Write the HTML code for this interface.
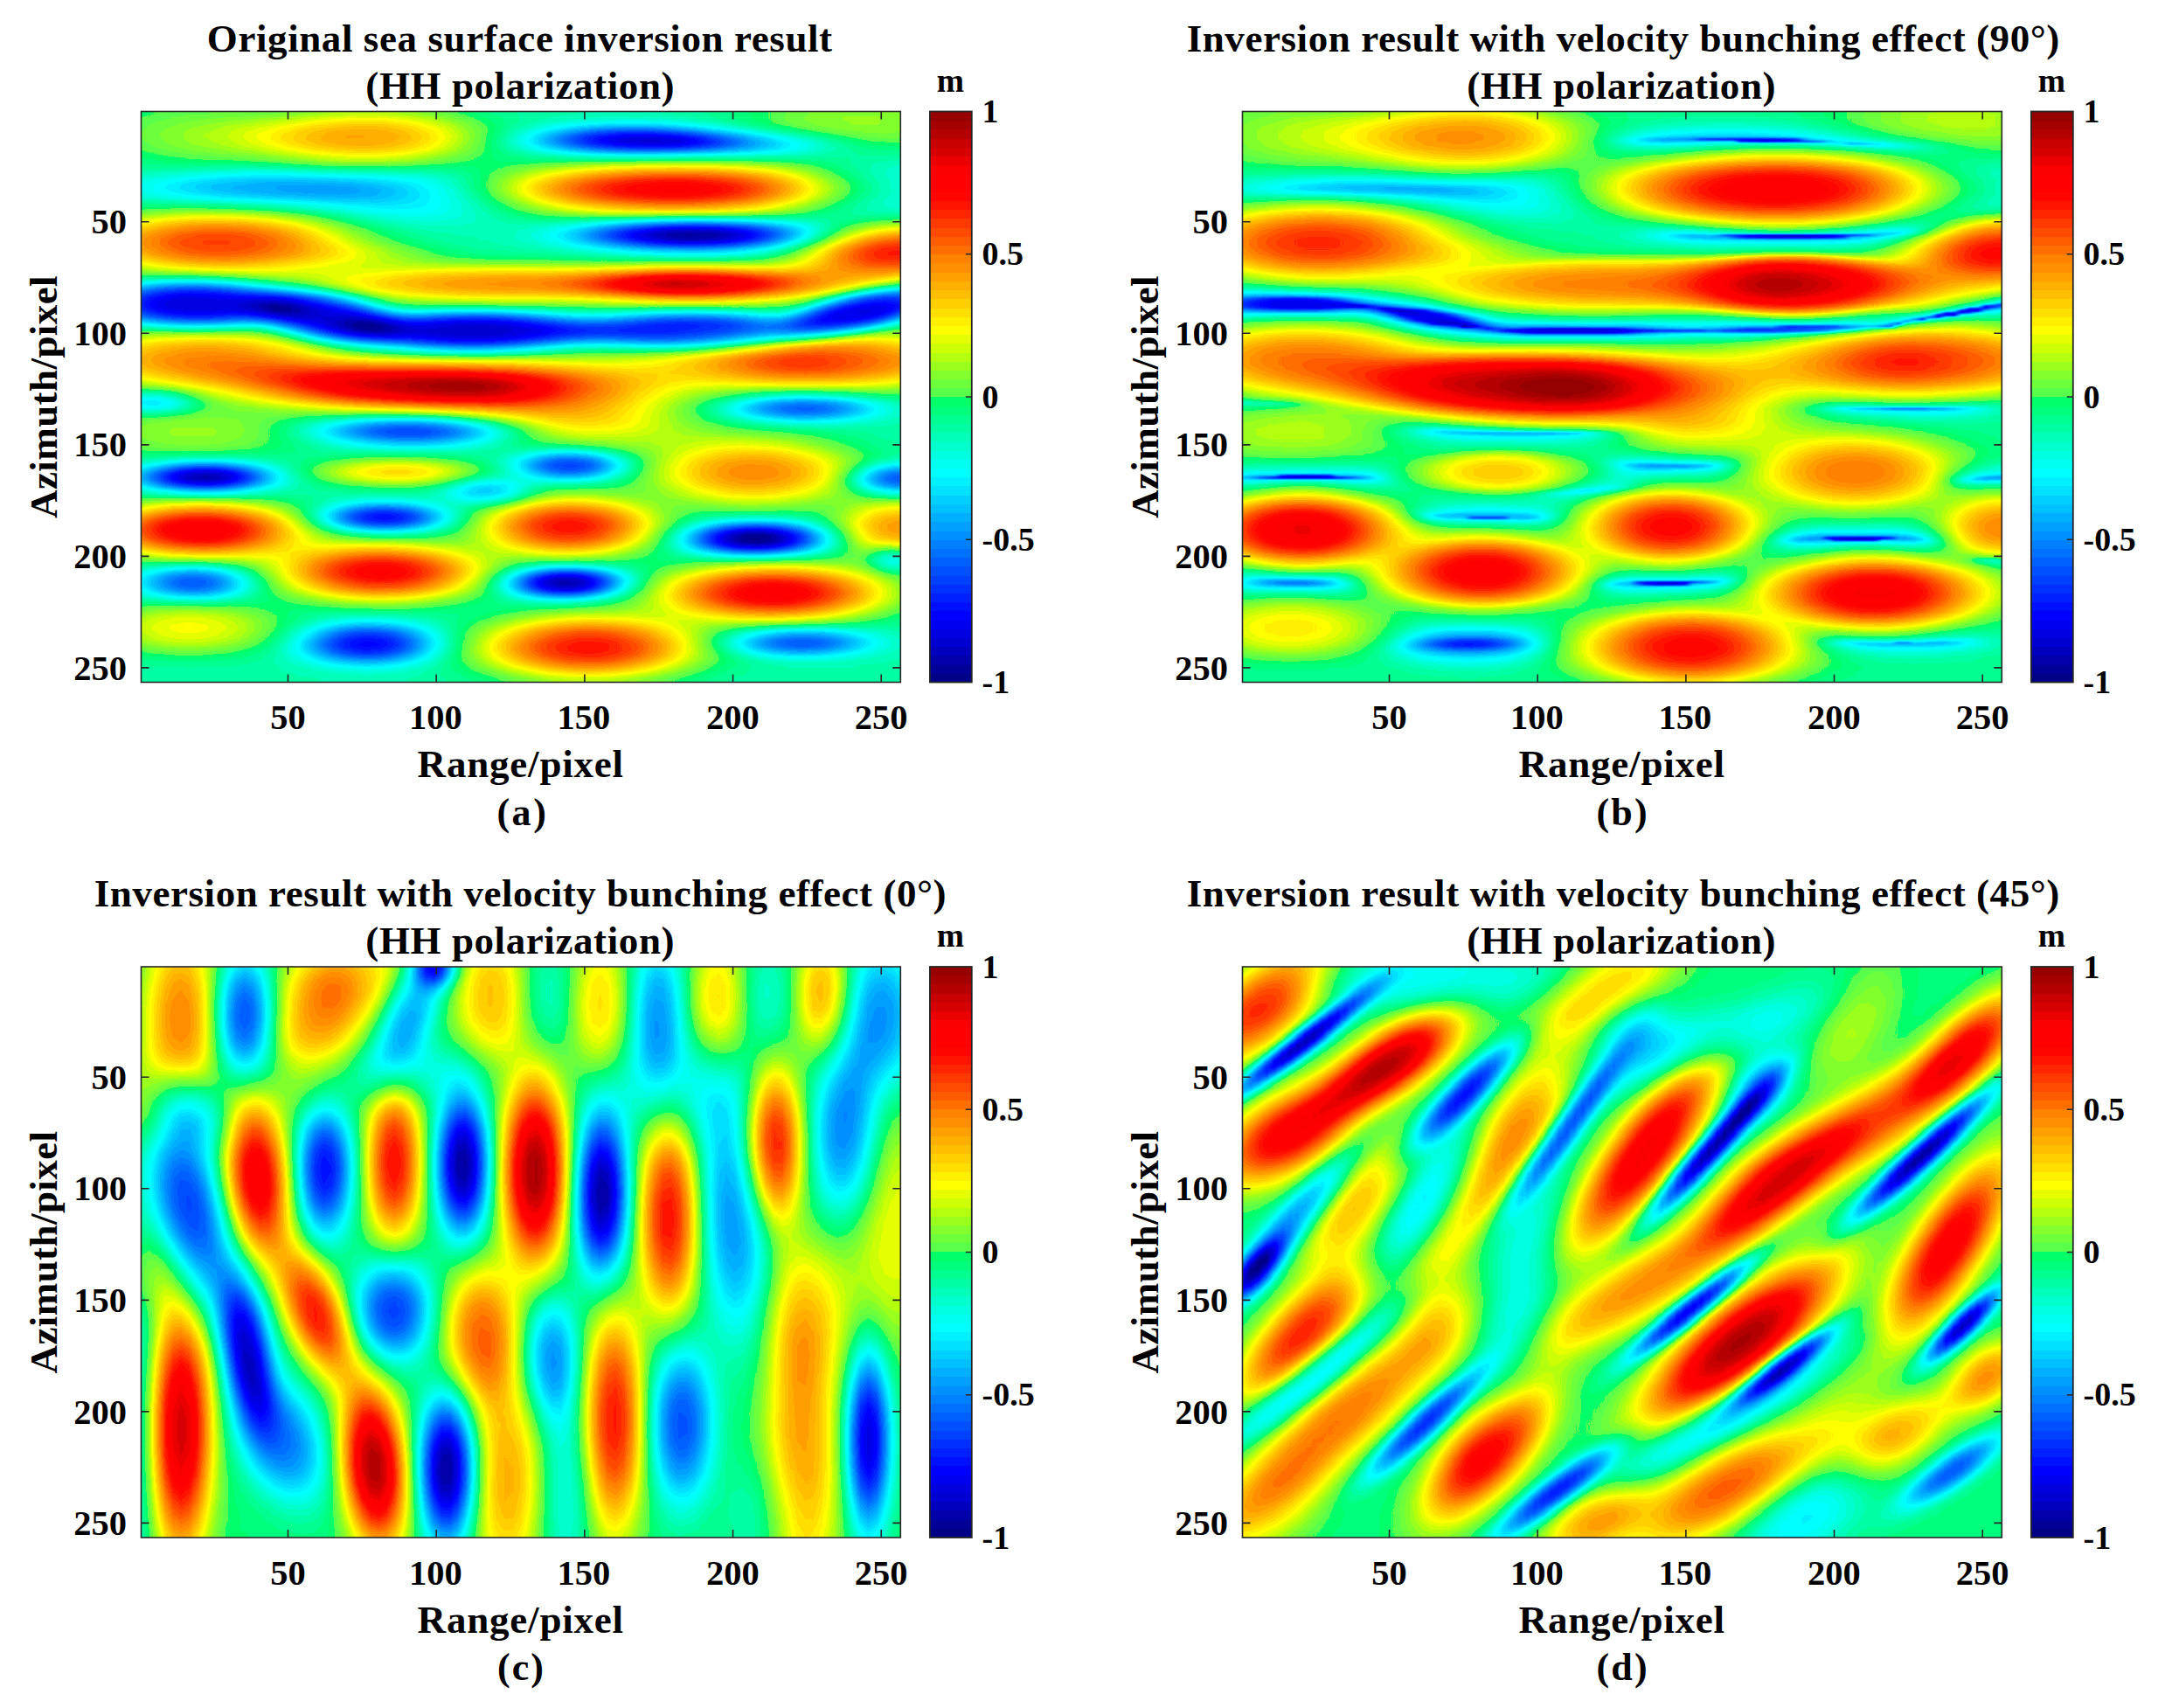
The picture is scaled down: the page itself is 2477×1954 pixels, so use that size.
<!DOCTYPE html><html><head><meta charset="utf-8"><title>Inversion results</title><style>*{margin:0;padding:0}
html,body{width:2477px;height:1954px;overflow:hidden;background:#fff}
.hm{position:absolute;width:868.8px;height:653.0px;overflow:hidden}
.f{filter:url(#jet);width:100%;position:absolute;left:0;top:-10.2031px}
.f i{display:block;height:5.1016px}
.f2{filter:url(#jet2)}
.f2 i{height:2.5508px}
.cb{position:absolute;width:47.9px;height:653.0px;background:linear-gradient(to top,#000087 0% 1.562%,#000096 1.562% 3.125%,#0000aa 3.125% 4.688%,#0000be 4.688% 6.25%,#0000d2 6.25% 7.812%,#0000e1 7.812% 9.375%,#0000f0 9.375% 10.94%,#0000ff 10.94% 12.5%,#0010ff 12.5% 14.06%,#0020ff 14.06% 15.62%,#0030ff 15.62% 17.19%,#0040ff 17.19% 18.75%,#0050ff 18.75% 20.31%,#0060ff 20.31% 21.88%,#0070ff 21.88% 23.44%,#0080ff 23.44% 25%,#0090ff 25% 26.56%,#00a0ff 26.56% 28.12%,#00b0ff 28.12% 29.69%,#00c0ff 29.69% 31.25%,#00d0ff 31.25% 32.81%,#00e0ff 32.81% 34.38%,#00f0ff 34.38% 35.94%,#00ffff 35.94% 37.5%,#00fff0 37.5% 39.06%,#00ffe1 39.06% 40.62%,#00ffcd 40.62% 42.19%,#00ffb9 42.19% 43.75%,#00ffa5 43.75% 45.31%,#00ff91 45.31% 46.88%,#00ff7d 46.88% 48.44%,#00ff69 48.44% 50%,#5aff4b 50% 51.56%,#6eff3c 51.56% 53.12%,#82ff2d 53.12% 54.69%,#9bff1e 54.69% 56.25%,#b4ff0f 56.25% 57.81%,#cdff05 57.81% 59.38%,#e6ff00 59.38% 60.94%,#ffff00 60.94% 62.5%,#ffef00 62.5% 64.06%,#ffdf00 64.06% 65.62%,#ffcf00 65.62% 67.19%,#ffbf00 67.19% 68.75%,#ffaf00 68.75% 70.31%,#ff9f00 70.31% 71.88%,#ff8f00 71.88% 73.44%,#ff8200 73.44% 75%,#ff6e00 75% 76.56%,#ff5c00 76.56% 78.12%,#ff4b00 78.12% 79.69%,#ff3a00 79.69% 81.25%,#ff2600 81.25% 82.81%,#ff1400 82.81% 84.38%,#ff0500 84.38% 85.94%,#ff0000 85.94% 87.5%,#ff0000 87.5% 89.06%,#fa0000 89.06% 90.62%,#eb0000 90.62% 92.19%,#d70000 92.19% 93.75%,#c80000 93.75% 95.31%,#b40000 95.31% 96.88%,#a50000 96.88% 98.44%,#960000 98.44% 100%)}
svg.ov{position:absolute;left:0;top:0}
svg.ov text{font-family:"Liberation Serif",serif;font-weight:bold;fill:#000}
</style></head><body><svg width="0" height="0" style="position:absolute"><filter id="jet" color-interpolation-filters="sRGB" x="0" y="0" width="1" height="1"><feGaussianBlur stdDeviation="0 2.2"/><feColorMatrix type="matrix" values="0.94118 0.05882 0 0 0 0.94118 0.05882 0 0 0 0.94118 0.05882 0 0 0 0 0 0 1 0"/><feComponentTransfer><feFuncR type="discrete" tableValues="0 0 0 0 0 0 0 0 0 0 0 0 0 0 0 0 0 0 0 0 0 0 0 0 0 0 0 0 0 0 0 0 0.3529 0.4314 0.5098 0.6078 0.7059 0.8039 0.902 1 1 1 1 1 1 1 1 1 1 1 1 1 1 1 1 1 1 0.9804 0.9216 0.8431 0.7843 0.7059 0.6471 0.5882"/><feFuncG type="discrete" tableValues="0 0 0 0 0 0 0 0 0.06275 0.1255 0.1882 0.251 0.3137 0.3765 0.4392 0.502 0.5647 0.6275 0.6902 0.7529 0.8157 0.8784 0.9412 1 1 1 1 1 1 1 1 1 1 1 1 1 1 1 1 1 0.9373 0.8745 0.8118 0.749 0.6863 0.6235 0.5608 0.5098 0.4314 0.3608 0.2941 0.2275 0.149 0.07843 0.01961 0 0 0 0 0 0 0 0 0"/><feFuncB type="discrete" tableValues="0.5294 0.5882 0.6667 0.7451 0.8235 0.8824 0.9412 1 1 1 1 1 1 1 1 1 1 1 1 1 1 1 1 1 0.9412 0.8824 0.8039 0.7255 0.6471 0.5686 0.4902 0.4118 0.2941 0.2353 0.1765 0.1176 0.05882 0.01961 0 0 0 0 0 0 0 0 0 0 0 0 0 0 0 0 0 0 0 0 0 0 0 0 0 0"/></feComponentTransfer></filter><filter id="jet2" color-interpolation-filters="sRGB" x="0" y="0" width="1" height="1"><feGaussianBlur stdDeviation="0 1"/><feColorMatrix type="matrix" values="0.94118 0.05882 0 0 0 0.94118 0.05882 0 0 0 0.94118 0.05882 0 0 0 0 0 0 1 0"/><feComponentTransfer><feFuncR type="discrete" tableValues="0 0 0 0 0 0 0 0 0 0 0 0 0 0 0 0 0 0 0 0 0 0 0 0 0 0 0 0 0 0 0 0 0.3529 0.4314 0.5098 0.6078 0.7059 0.8039 0.902 1 1 1 1 1 1 1 1 1 1 1 1 1 1 1 1 1 1 0.9804 0.9216 0.8431 0.7843 0.7059 0.6471 0.5882"/><feFuncG type="discrete" tableValues="0 0 0 0 0 0 0 0 0.06275 0.1255 0.1882 0.251 0.3137 0.3765 0.4392 0.502 0.5647 0.6275 0.6902 0.7529 0.8157 0.8784 0.9412 1 1 1 1 1 1 1 1 1 1 1 1 1 1 1 1 1 0.9373 0.8745 0.8118 0.749 0.6863 0.6235 0.5608 0.5098 0.4314 0.3608 0.2941 0.2275 0.149 0.07843 0.01961 0 0 0 0 0 0 0 0 0"/><feFuncB type="discrete" tableValues="0.5294 0.5882 0.6667 0.7451 0.8235 0.8824 0.9412 1 1 1 1 1 1 1 1 1 1 1 1 1 1 1 1 1 0.9412 0.8824 0.8039 0.7255 0.6471 0.5686 0.4902 0.4118 0.2941 0.2353 0.1765 0.1176 0.05882 0.01961 0 0 0 0 0 0 0 0 0 0 0 0 0 0 0 0 0 0 0 0 0 0 0 0 0 0"/></feComponentTransfer></filter></svg><div class="hm" style="left:161.5px;top:127.5px"><div class="f"><i style="background:linear-gradient(90deg,#7e0,#7f0,#800,#810,#810,#820,#820,#820,#820,#830,#830,#830,#830,#830,#830,#840,#840,#850,#860,#870,#880,#8a0,#8b0,#8d0,#8e0,#8f0,#900,#900,#910,#910,#900,#900,#8e0,#8d0,#8c0,#8a0,#880,#860,#830,#810,#7f0,#7d0,#7b0,#790,#770,#760,#750,#740,#730,#720,#710,#710,#710,#700,#700,#700,#700,#700,#6f0,#6f0,#6f0,#6f0,#6f0,#700,#700,#700,#700,#710,#710,#720,#730,#740,#750,#760,#770,#780,#7a0,#7c0,#7d0,#7f0,#810,#820,#840,#850,#870,#880,#890,#8a0,#8a0,#8b0,#8b0,#8b0,#8b0,#8b0,#8b0,#8a0,#890)"></i><i style="background:linear-gradient(90deg,#7e0,#7f0,#800,#810,#810,#820,#820,#820,#820,#830,#830,#830,#830,#830,#830,#840,#840,#850,#860,#870,#880,#8a0,#8b0,#8d0,#8e0,#8f0,#900,#900,#910,#910,#900,#900,#8e0,#8d0,#8c0,#8a0,#880,#860,#830,#810,#7f0,#7d0,#7b0,#790,#770,#760,#750,#740,#730,#720,#710,#710,#710,#700,#700,#700,#700,#700,#6f0,#6f0,#6f0,#6f0,#6f0,#700,#700,#700,#700,#710,#710,#720,#730,#740,#750,#760,#770,#780,#7a0,#7c0,#7d0,#7f0,#810,#820,#840,#850,#870,#880,#890,#8a0,#8a0,#8b0,#8b0,#8b0,#8b0,#8b0,#8b0,#8a0,#890)"></i><i style="background:linear-gradient(90deg,#7e0,#7f0,#800,#810,#820,#820,#830,#830,#830,#840,#840,#840,#840,#840,#850,#850,#860,#870,#880,#890,#8b0,#8c0,#8d0,#8f0,#900,#910,#920,#930,#930,#930,#930,#920,#910,#8f0,#8e0,#8c0,#8a0,#870,#850,#830,#800,#7e0,#7c0,#7a0,#780,#760,#750,#740,#730,#720,#710,#710,#700,#700,#700,#700,#6f0,#6f0,#6f0,#6f0,#6f0,#6f0,#6f0,#6f0,#6f0,#6f0,#700,#700,#710,#720,#720,#730,#740,#760,#770,#780,#7a0,#7c0,#7d0,#7f0,#810,#830,#840,#860,#870,#880,#890,#8a0,#8b0,#8b0,#8b0,#8b0,#8b0,#8b0,#8b0,#8a0,#890)"></i><i style="background:linear-gradient(90deg,#800,#810,#820,#830,#840,#850,#860,#860,#870,#870,#880,#890,#890,#8a0,#8b0,#8c0,#8d0,#8e0,#900,#910,#930,#950,#970,#980,#9a0,#9b0,#9c0,#9d0,#9d0,#9d0,#9d0,#9c0,#9a0,#990,#970,#940,#920,#8f0,#8c0,#890,#860,#830,#800,#7d0,#7b0,#790,#770,#750,#730,#720,#710,#700,#6f0,#6e0,#6d0,#6d0,#6c0,#6b0,#6b0,#6a0,#6a0,#6a0,#6a0,#6a0,#6a0,#6b0,#6b0,#6c0,#6d0,#6e0,#700,#710,#730,#740,#760,#780,#790,#7b0,#7d0,#7f0,#810,#830,#850,#860,#880,#890,#8a0,#8b0,#8b0,#8c0,#8c0,#8c0,#8c0,#8c0,#8b0,#8b0,#8a0)"></i><i style="background:linear-gradient(90deg,#820,#830,#840,#850,#860,#870,#880,#890,#8a0,#8b0,#8c0,#8d0,#8e0,#8f0,#900,#920,#930,#950,#970,#990,#9b0,#9d0,#a00,#a10,#a30,#a40,#a50,#a60,#a60,#a60,#a60,#a50,#a30,#a10,#9f0,#9c0,#990,#960,#920,#8f0,#8b0,#870,#840,#800,#7d0,#7a0,#770,#750,#730,#700,#6e0,#6c0,#6a0,#680,#660,#640,#630,#610,#600,#5f0,#5e0,#5d0,#5d0,#5d0,#5e0,#5f0,#600,#620,#630,#650,#680,#6a0,#6c0,#6f0,#710,#740,#760,#790,#7b0,#7d0,#800,#820,#840,#860,#870,#880,#8a0,#8a0,#8b0,#8b0,#8c0,#8c0,#8c0,#8c0,#8b0,#8b0,#8a0)"></i><i style="background:linear-gradient(90deg,#830,#840,#860,#870,#880,#8a0,#8b0,#8c0,#8d0,#8e0,#8f0,#910,#920,#940,#950,#970,#990,#9b0,#9e0,#a00,#a30,#a50,#a70,#a90,#aa0,#ac0,#ad0,#ad0,#ad0,#ad0,#ad0,#ac0,#aa0,#a80,#a60,#a30,#9f0,#9c0,#980,#940,#8f0,#8b0,#870,#830,#7f0,#7b0,#770,#730,#6f0,#6c0,#680,#640,#600,#5d0,#590,#550,#520,#4f0,#4c0,#4a0,#480,#470,#470,#470,#480,#490,#4b0,#4e0,#510,#540,#570,#5b0,#5f0,#630,#660,#6a0,#6e0,#710,#740,#770,#7a0,#7d0,#7f0,#820,#840,#860,#870,#880,#890,#8a0,#8b0,#8b0,#8b0,#8b0,#8b0,#8a0,#890)"></i><i style="background:linear-gradient(90deg,#830,#850,#870,#880,#8a0,#8b0,#8c0,#8e0,#8f0,#900,#920,#930,#950,#970,#990,#9b0,#9d0,#a00,#a20,#a50,#a80,#aa0,#ac0,#ae0,#b00,#b10,#b10,#b20,#b20,#b20,#b10,#b00,#af0,#ad0,#aa0,#a70,#a40,#a00,#9c0,#970,#920,#8d0,#880,#840,#7f0,#7a0,#750,#6f0,#6a0,#650,#5f0,#590,#540,#4e0,#480,#430,#3e0,#390,#350,#320,#2f0,#2e0,#2d0,#2d0,#2d0,#2f0,#310,#340,#370,#3c0,#400,#450,#4a0,#4f0,#540,#590,#5e0,#620,#670,#6b0,#6f0,#730,#760,#790,#7c0,#7f0,#810,#830,#850,#860,#870,#880,#890,#890,#890,#880,#880)"></i><i style="background:linear-gradient(90deg,#840,#850,#870,#890,#8a0,#8b0,#8d0,#8e0,#900,#910,#920,#940,#960,#980,#9a0,#9d0,#9f0,#a20,#a50,#a70,#aa0,#ac0,#af0,#b00,#b20,#b30,#b40,#b40,#b40,#b30,#b30,#b20,#b10,#af0,#ac0,#a90,#a60,#a20,#9d0,#990,#940,#8e0,#890,#830,#7e0,#780,#720,#6c0,#650,#5e0,#570,#500,#480,#410,#3a0,#330,#2d0,#280,#230,#200,#1d0,#1b0,#1a0,#190,#190,#1a0,#1b0,#1e0,#210,#250,#290,#2e0,#340,#3a0,#400,#450,#4b0,#510,#560,#5b0,#600,#650,#690,#6d0,#710,#750,#780,#7b0,#7e0,#800,#820,#840,#850,#850,#860,#860,#850)"></i><i style="background:linear-gradient(90deg,#830,#850,#860,#880,#8a0,#8b0,#8c0,#8e0,#8f0,#900,#920,#930,#950,#970,#9a0,#9c0,#9f0,#a10,#a40,#a70,#aa0,#ac0,#ae0,#b00,#b20,#b30,#b30,#b30,#b30,#b30,#b20,#b20,#b00,#ae0,#ac0,#a90,#a50,#a10,#9d0,#980,#930,#8e0,#880,#830,#7d0,#770,#710,#6a0,#630,#5c0,#540,#4c0,#440,#3c0,#350,#2e0,#280,#220,#1e0,#1a0,#170,#150,#140,#120,#110,#110,#120,#130,#150,#180,#1c0,#210,#270,#2d0,#330,#390,#3f0,#450,#4a0,#500,#550,#5a0,#5e0,#630,#670,#6b0,#6f0,#730,#760,#790,#7c0,#7e0,#800,#810,#810,#820,#820)"></i><i style="background:linear-gradient(90deg,#820,#830,#850,#870,#880,#890,#8b0,#8c0,#8d0,#8e0,#900,#910,#930,#950,#970,#990,#9c0,#9e0,#a10,#a40,#a60,#a90,#ab0,#ad0,#ae0,#b00,#b00,#b10,#b10,#b10,#b00,#af0,#ae0,#ac0,#a90,#a60,#a30,#9f0,#9b0,#960,#910,#8c0,#870,#820,#7d0,#770,#710,#6b0,#650,#5e0,#580,#500,#490,#420,#3b0,#350,#2f0,#290,#250,#210,#1e0,#1b0,#190,#180,#170,#170,#170,#180,#1a0,#1d0,#200,#240,#290,#2e0,#340,#390,#3f0,#440,#490,#4d0,#510,#560,#5a0,#5e0,#620,#660,#6a0,#6e0,#710,#740,#770,#790,#7b0,#7c0,#7d0,#7d0,#7e0)"></i><i style="background:linear-gradient(90deg,#800,#820,#830,#840,#860,#870,#880,#890,#8a0,#8b0,#8c0,#8e0,#8f0,#910,#920,#940,#970,#990,#9b0,#9e0,#a00,#a30,#a50,#a70,#a90,#aa0,#ab0,#ab0,#ac0,#ab0,#ab0,#aa0,#a80,#a60,#a40,#a10,#9e0,#9a0,#960,#920,#8e0,#8a0,#850,#810,#7d0,#780,#740,#6f0,#6b0,#660,#610,#5b0,#560,#510,#4b0,#460,#410,#3d0,#390,#360,#330,#310,#2f0,#2e0,#2d0,#2d0,#2e0,#2f0,#300,#320,#350,#380,#3b0,#3e0,#420,#450,#490,#4c0,#500,#530,#560,#5a0,#5d0,#600,#630,#670,#6a0,#6d0,#700,#720,#740,#760,#770,#780,#790,#790,#790)"></i><i style="background:linear-gradient(90deg,#7e0,#7f0,#800,#810,#820,#830,#840,#850,#860,#870,#880,#890,#8a0,#8b0,#8c0,#8e0,#900,#920,#940,#960,#980,#9b0,#9d0,#9e0,#a00,#a10,#a20,#a30,#a30,#a30,#a20,#a10,#a00,#9e0,#9c0,#990,#960,#930,#900,#8d0,#890,#860,#830,#800,#7d0,#7a0,#770,#740,#720,#6f0,#6c0,#690,#660,#630,#600,#5d0,#5a0,#570,#550,#530,#510,#500,#4f0,#4f0,#4f0,#4f0,#500,#500,#510,#520,#540,#550,#560,#580,#590,#5b0,#5d0,#5e0,#600,#620,#630,#650,#670,#690,#6b0,#6c0,#6e0,#700,#710,#720,#730,#740,#750,#750,#750,#750,#750)"></i><i style="background:linear-gradient(90deg,#7b0,#7c0,#7d0,#7e0,#7f0,#7f0,#800,#800,#810,#810,#820,#820,#830,#840,#850,#860,#880,#890,#8b0,#8d0,#8f0,#900,#920,#940,#950,#970,#970,#980,#980,#980,#980,#970,#950,#940,#920,#900,#8e0,#8b0,#890,#860,#840,#820,#800,#7e0,#7c0,#7b0,#7a0,#790,#780,#770,#760,#750,#750,#740,#730,#720,#720,#710,#700,#700,#700,#700,#700,#700,#700,#710,#710,#720,#720,#730,#730,#730,#730,#740,#740,#740,#740,#740,#740,#740,#740,#740,#740,#740,#740,#740,#740,#740,#740,#740,#730,#730,#720,#720,#720,#710,#710)"></i><i style="background:linear-gradient(90deg,#780,#790,#790,#7a0,#7a0,#7a0,#7a0,#7b0,#7b0,#7b0,#7b0,#7b0,#7b0,#7c0,#7c0,#7d0,#7e0,#7f0,#800,#820,#830,#850,#860,#880,#890,#8a0,#8b0,#8b0,#8b0,#8b0,#8b0,#8a0,#890,#880,#870,#850,#840,#820,#810,#800,#7f0,#7e0,#7d0,#7c0,#7c0,#7c0,#7c0,#7d0,#7d0,#7e0,#7f0,#800,#810,#820,#830,#840,#850,#860,#870,#880,#890,#890,#8a0,#8b0,#8c0,#8c0,#8d0,#8d0,#8d0,#8d0,#8d0,#8d0,#8c0,#8c0,#8b0,#8a0,#890,#880,#870,#850,#840,#820,#810,#7f0,#7d0,#7c0,#7a0,#780,#760,#750,#730,#720,#710,#6f0,#6e0,#6e0,#6d0)"></i><i style="background:linear-gradient(90deg,#740,#750,#750,#740,#740,#740,#740,#730,#730,#720,#720,#720,#710,#710,#710,#720,#720,#730,#740,#750,#760,#770,#790,#7a0,#7b0,#7c0,#7c0,#7d0,#7d0,#7d0,#7d0,#7d0,#7c0,#7c0,#7b0,#7b0,#7a0,#7a0,#7a0,#790,#7a0,#7a0,#7b0,#7c0,#7d0,#7e0,#800,#820,#840,#860,#880,#8a0,#8c0,#8f0,#910,#930,#950,#970,#990,#9b0,#9d0,#9e0,#a00,#a10,#a20,#a30,#a30,#a40,#a40,#a30,#a30,#a20,#a20,#a00,#9f0,#9d0,#9b0,#990,#970,#950,#920,#8f0,#8c0,#890,#860,#820,#7f0,#7c0,#790,#760,#740,#720,#700,#6e0,#6c0,#6b0,#6a0)"></i><i style="background:linear-gradient(90deg,#700,#6f0,#6f0,#6e0,#6d0,#6c0,#6b0,#6a0,#690,#680,#670,#670,#660,#650,#650,#650,#650,#660,#660,#670,#680,#690,#6a0,#6b0,#6c0,#6c0,#6d0,#6e0,#6e0,#6f0,#6f0,#6f0,#700,#700,#700,#700,#710,#720,#730,#740,#750,#770,#790,#7c0,#7e0,#810,#840,#870,#8a0,#8e0,#910,#950,#980,#9b0,#9f0,#a20,#a50,#a80,#aa0,#ad0,#af0,#b10,#b30,#b40,#b60,#b60,#b70,#b70,#b70,#b70,#b70,#b60,#b40,#b30,#b10,#af0,#ac0,#a90,#a60,#a30,#9f0,#9b0,#970,#920,#8e0,#890,#850,#810,#7d0,#790,#760,#730,#700,#6e0,#6c0,#6a0,#690)"></i><i style="background:linear-gradient(90deg,#6b0,#6a0,#680,#670,#650,#640,#620,#610,#5f0,#5e0,#5c0,#5b0,#5a0,#590,#590,#590,#580,#590,#590,#590,#5a0,#5a0,#5b0,#5c0,#5d0,#5e0,#5e0,#5f0,#600,#610,#620,#630,#640,#650,#660,#670,#690,#6b0,#6d0,#6f0,#720,#750,#780,#7c0,#800,#840,#880,#8d0,#910,#960,#9a0,#9f0,#a30,#a70,#ab0,#af0,#b30,#b60,#ba0,#bc0,#bf0,#c10,#c30,#c50,#c60,#c70,#c80,#c80,#c80,#c80,#c70,#c60,#c50,#c30,#c10,#be0,#bb0,#b80,#b40,#b00,#ab0,#a60,#a10,#9c0,#960,#910,#8b0,#860,#810,#7d0,#780,#750,#710,#6e0,#6c0,#6a0,#680)"></i><i style="background:linear-gradient(90deg,#660,#640,#620,#600,#5e0,#5c0,#5a0,#580,#560,#550,#530,#520,#510,#500,#4f0,#4e0,#4e0,#4e0,#4e0,#4e0,#4e0,#4f0,#4f0,#500,#500,#510,#520,#530,#540,#550,#570,#580,#5a0,#5c0,#5e0,#600,#620,#650,#680,#6b0,#6f0,#730,#780,#7c0,#810,#870,#8c0,#910,#970,#9c0,#a20,#a70,#ac0,#b10,#b60,#ba0,#be0,#c20,#c60,#c90,#cc0,#ce0,#d00,#d20,#d30,#d40,#d50,#d50,#d50,#d50,#d40,#d30,#d10,#cf0,#cd0,#ca0,#c70,#c30,#bf0,#ba0,#b50,#af0,#aa0,#a40,#9d0,#970,#910,#8b0,#860,#800,#7c0,#770,#730,#700,#6d0,#6b0,#690)"></i><i style="background:linear-gradient(90deg,#630,#610,#5e0,#5c0,#5a0,#570,#550,#530,#510,#4f0,#4e0,#4d0,#4b0,#4b0,#4a0,#490,#480,#480,#470,#470,#470,#470,#470,#470,#480,#480,#490,#4a0,#4c0,#4d0,#4f0,#510,#530,#550,#580,#5a0,#5e0,#610,#650,#690,#6d0,#720,#770,#7c0,#820,#880,#8e0,#940,#9b0,#a10,#a70,#ad0,#b20,#b70,#bd0,#c10,#c60,#ca0,#cd0,#d00,#d30,#d50,#d70,#d90,#da0,#db0,#dc0,#dc0,#dc0,#dc0,#db0,#da0,#d90,#d70,#d40,#d20,#ce0,#ca0,#c60,#c10,#bb0,#b60,#af0,#a90,#a20,#9b0,#950,#8f0,#890,#830,#7e0,#790,#750,#710,#6e0,#6b0,#690)"></i><i style="background:linear-gradient(90deg,#620,#600,#5e0,#5b0,#590,#570,#550,#530,#510,#4f0,#4d0,#4c0,#4b0,#4a0,#490,#480,#480,#470,#460,#450,#450,#440,#440,#440,#440,#450,#450,#460,#480,#490,#4b0,#4d0,#4f0,#520,#550,#580,#5b0,#5e0,#620,#660,#6b0,#700,#760,#7b0,#810,#880,#8e0,#950,#9b0,#a20,#a80,#ae0,#b40,#ba0,#bf0,#c40,#c80,#cc0,#d00,#d30,#d60,#d80,#da0,#db0,#dc0,#dd0,#de0,#de0,#de0,#dd0,#dd0,#dc0,#db0,#d90,#d70,#d40,#d10,#cd0,#c80,#c30,#bd0,#b70,#b10,#aa0,#a40,#9d0,#960,#900,#890,#840,#7e0,#7a0,#750,#720,#6e0,#6b0,#690)"></i><i style="background:linear-gradient(90deg,#650,#630,#610,#5f0,#5d0,#5b0,#590,#570,#550,#530,#520,#500,#4f0,#4e0,#4d0,#4c0,#4b0,#4a0,#490,#490,#480,#470,#470,#460,#460,#460,#470,#470,#480,#490,#4b0,#4d0,#4f0,#510,#540,#570,#5a0,#5d0,#610,#650,#690,#6e0,#740,#790,#7f0,#860,#8c0,#920,#990,#9f0,#a60,#ac0,#b20,#b70,#bc0,#c10,#c50,#c90,#cd0,#d00,#d30,#d60,#d70,#d90,#da0,#db0,#dc0,#dc0,#dc0,#dc0,#db0,#da0,#d90,#d70,#d40,#d10,#ce0,#ca0,#c60,#c10,#bb0,#b50,#af0,#a80,#a10,#9b0,#940,#8e0,#880,#820,#7d0,#780,#740,#710,#6d0,#6b0,#680)"></i><i style="background:linear-gradient(90deg,#6a0,#690,#680,#660,#650,#630,#610,#600,#5e0,#5d0,#5b0,#5a0,#590,#580,#560,#550,#540,#530,#520,#510,#500,#4f0,#4e0,#4d0,#4d0,#4c0,#4c0,#4c0,#4d0,#4d0,#4e0,#4f0,#510,#530,#550,#570,#5a0,#5d0,#600,#640,#680,#6c0,#710,#760,#7c0,#820,#880,#8e0,#940,#9a0,#a00,#a60,#ab0,#b00,#b50,#ba0,#be0,#c20,#c60,#c90,#cc0,#ce0,#d00,#d20,#d30,#d40,#d50,#d50,#d50,#d50,#d40,#d30,#d10,#cf0,#cd0,#ca0,#c70,#c30,#be0,#b90,#b40,#ae0,#a80,#a20,#9c0,#960,#900,#8a0,#840,#7f0,#7a0,#760,#720,#6f0,#6c0,#6a0,#680)"></i><i style="background:linear-gradient(90deg,#720,#720,#710,#700,#700,#6f0,#6e0,#6d0,#6c0,#6b0,#6a0,#690,#670,#660,#650,#640,#620,#610,#600,#5e0,#5d0,#5b0,#5a0,#580,#570,#560,#550,#540,#540,#530,#530,#540,#550,#560,#570,#590,#5b0,#5d0,#600,#630,#660,#6a0,#6e0,#730,#780,#7d0,#820,#880,#8d0,#920,#980,#9d0,#a20,#a60,#ab0,#af0,#b30,#b60,#b90,#bc0,#bf0,#c10,#c30,#c50,#c60,#c70,#c80,#c80,#c80,#c80,#c70,#c60,#c40,#c20,#c00,#bd0,#ba0,#b70,#b30,#ae0,#a90,#a40,#9f0,#990,#940,#8e0,#890,#840,#7f0,#7b0,#760,#730,#700,#6d0,#6b0,#690,#680)"></i><i style="background:linear-gradient(90deg,#7b0,#7c0,#7c0,#7c0,#7d0,#7d0,#7d0,#7c0,#7c0,#7b0,#7a0,#7a0,#780,#770,#760,#740,#730,#710,#6f0,#6d0,#6b0,#690,#670,#650,#630,#610,#5f0,#5d0,#5c0,#5b0,#5a0,#590,#590,#5a0,#5a0,#5b0,#5c0,#5e0,#600,#630,#660,#690,#6c0,#700,#740,#780,#7d0,#810,#860,#8a0,#8e0,#920,#960,#9a0,#9e0,#a10,#a40,#a70,#aa0,#ac0,#ae0,#b00,#b20,#b30,#b40,#b50,#b60,#b60,#b60,#b50,#b50,#b40,#b20,#b10,#af0,#ac0,#aa0,#a70,#a40,#a00,#9c0,#980,#930,#8f0,#8b0,#860,#820,#7e0,#7a0,#770,#740,#710,#6f0,#6d0,#6c0,#6a0,#6a0)"></i><i style="background:linear-gradient(90deg,#850,#860,#880,#890,#8a0,#8b0,#8c0,#8c0,#8c0,#8c0,#8b0,#8b0,#8a0,#890,#870,#860,#840,#810,#7f0,#7d0,#7a0,#770,#740,#710,#6e0,#6c0,#690,#670,#640,#620,#610,#600,#5f0,#5e0,#5e0,#5f0,#5f0,#600,#620,#640,#660,#680,#6b0,#6e0,#710,#740,#780,#7b0,#7e0,#810,#850,#880,#8a0,#8d0,#900,#920,#940,#960,#980,#990,#9a0,#9c0,#9c0,#9d0,#9d0,#9e0,#9e0,#9e0,#9d0,#9d0,#9c0,#9c0,#9b0,#9a0,#980,#970,#950,#930,#910,#8f0,#8c0,#8a0,#870,#840,#810,#7e0,#7b0,#790,#760,#740,#730,#710,#700,#6f0,#6f0,#6f0,#6e0)"></i><i style="background:linear-gradient(90deg,#8f0,#910,#930,#950,#970,#990,#9a0,#9b0,#9b0,#9c0,#9b0,#9b0,#9a0,#990,#970,#950,#930,#900,#8d0,#8a0,#870,#840,#800,#7d0,#790,#760,#720,#6f0,#6d0,#6a0,#680,#660,#650,#640,#630,#630,#630,#640,#640,#660,#670,#690,#6b0,#6d0,#6f0,#710,#730,#760,#780,#7a0,#7c0,#7e0,#7f0,#800,#820,#820,#830,#830,#840,#830,#830,#830,#820,#820,#810,#800,#7f0,#7f0,#7e0,#7d0,#7d0,#7d0,#7c0,#7c0,#7c0,#7c0,#7c0,#7b0,#7b0,#7b0,#7a0,#790,#790,#780,#770,#760,#750,#750,#750,#740,#740,#740,#750,#750,#760,#760,#770)"></i><i style="background:linear-gradient(90deg,#990,#9c0,#9f0,#a20,#a40,#a60,#a80,#a90,#aa0,#aa0,#aa0,#a90,#a90,#a70,#a50,#a30,#a10,#9e0,#9a0,#970,#930,#8f0,#8b0,#870,#830,#7f0,#7b0,#780,#740,#710,#6f0,#6c0,#6b0,#690,#680,#680,#670,#670,#680,#680,#690,#6a0,#6b0,#6d0,#6e0,#6f0,#710,#720,#730,#740,#740,#740,#740,#740,#730,#720,#710,#6f0,#6d0,#6b0,#680,#660,#630,#610,#5e0,#5c0,#5a0,#590,#570,#570,#560,#560,#570,#580,#590,#5a0,#5c0,#5e0,#600,#620,#640,#660,#690,#6b0,#6d0,#6f0,#710,#730,#750,#770,#790,#7b0,#7d0,#7f0,#800,#810,#820)"></i><i style="background:linear-gradient(90deg,#a30,#a60,#aa0,#ad0,#af0,#b20,#b40,#b50,#b60,#b60,#b60,#b60,#b50,#b40,#b20,#af0,#ad0,#a90,#a60,#a20,#9e0,#990,#950,#900,#8c0,#870,#830,#7f0,#7b0,#780,#750,#720,#700,#6e0,#6d0,#6c0,#6b0,#6b0,#6b0,#6b0,#6b0,#6c0,#6c0,#6d0,#6e0,#6e0,#6e0,#6f0,#6f0,#6e0,#6d0,#6c0,#6a0,#680,#660,#620,#5f0,#5b0,#560,#510,#4d0,#480,#430,#3f0,#3b0,#370,#340,#320,#300,#2f0,#2f0,#2f0,#310,#320,#350,#380,#3b0,#3f0,#440,#490,#4e0,#530,#580,#5d0,#620,#680,#6d0,#720,#770,#7c0,#800,#840,#880,#8b0,#8e0,#900,#910)"></i><i style="background:linear-gradient(90deg,#ab0,#af0,#b30,#b60,#b90,#bb0,#bd0,#bf0,#c00,#c00,#c00,#c00,#bf0,#be0,#bc0,#b90,#b60,#b30,#af0,#ab0,#a70,#a20,#9d0,#980,#930,#8f0,#8a0,#860,#820,#7e0,#7b0,#780,#750,#730,#710,#700,#6f0,#6e0,#6e0,#6e0,#6d0,#6e0,#6e0,#6e0,#6e0,#6e0,#6d0,#6d0,#6c0,#6a0,#680,#660,#630,#5f0,#5a0,#550,#500,#4a0,#430,#3d0,#360,#300,#2a0,#250,#200,#1b0,#180,#150,#140,#130,#120,#130,#140,#160,#190,#1d0,#220,#270,#2d0,#340,#3b0,#430,#4b0,#530,#5b0,#640,#6c0,#740,#7b0,#830,#890,#8f0,#950,#990,#9d0,#9f0,#a10)"></i><i style="background:linear-gradient(90deg,#b20,#b60,#ba0,#bd0,#c00,#c30,#c40,#c60,#c70,#c70,#c70,#c70,#c60,#c50,#c30,#c00,#be0,#ba0,#b60,#b20,#ad0,#a90,#a40,#9e0,#990,#940,#8f0,#8b0,#870,#830,#7f0,#7c0,#790,#770,#750,#730,#720,#710,#700,#700,#6f0,#6f0,#6f0,#6e0,#6e0,#6e0,#6d0,#6c0,#6a0,#680,#660,#620,#5e0,#5a0,#550,#4f0,#480,#410,#3a0,#320,#2b0,#240,#1e0,#180,#130,#0f0,#0b0,#090,#070,#070,#070,#070,#080,#0a0,#0d0,#110,#160,#1c0,#230,#2b0,#330,#3c0,#460,#500,#5b0,#650,#700,#7a0,#830,#8d0,#950,#9c0,#a30,#a80,#ac0,#af0,#b10)"></i><i style="background:linear-gradient(90deg,#b60,#ba0,#be0,#c10,#c40,#c70,#c80,#ca0,#cb0,#cb0,#cb0,#cb0,#ca0,#c90,#c70,#c50,#c20,#bf0,#bb0,#b70,#b20,#ad0,#a80,#a30,#9e0,#990,#940,#8f0,#8b0,#870,#830,#800,#7d0,#7a0,#780,#760,#740,#730,#720,#710,#710,#700,#700,#6f0,#6f0,#6e0,#6d0,#6c0,#6a0,#680,#660,#630,#5f0,#5a0,#550,#500,#490,#420,#3b0,#340,#2d0,#260,#200,#1a0,#150,#110,#0d0,#0b0,#090,#080,#080,#090,#0a0,#0c0,#0f0,#140,#190,#1f0,#260,#2e0,#380,#410,#4c0,#570,#620,#6e0,#790,#840,#8f0,#990,#a20,#aa0,#b10,#b60,#ba0,#bd0,#bf0)"></i><i style="background:linear-gradient(90deg,#b70,#bb0,#bf0,#c30,#c60,#c80,#ca0,#cb0,#cc0,#cc0,#cc0,#cc0,#cb0,#ca0,#c90,#c60,#c40,#c10,#bd0,#b90,#b50,#b00,#ac0,#a70,#a20,#9d0,#990,#940,#900,#8c0,#880,#850,#810,#7e0,#7c0,#7a0,#780,#760,#750,#730,#720,#720,#710,#700,#700,#6f0,#6e0,#6d0,#6c0,#6b0,#690,#660,#630,#600,#5c0,#570,#520,#4c0,#470,#410,#3b0,#350,#2f0,#2a0,#250,#210,#1e0,#1b0,#190,#180,#180,#190,#1a0,#1d0,#200,#240,#290,#2f0,#360,#3e0,#470,#500,#5a0,#650,#700,#7b0,#860,#920,#9c0,#a60,#af0,#b70,#be0,#c30,#c60,#c80,#c90)"></i><i style="background:linear-gradient(90deg,#b60,#ba0,#be0,#c10,#c40,#c70,#c80,#ca0,#cb0,#cb0,#cb0,#cb0,#ca0,#c90,#c80,#c60,#c30,#c00,#bd0,#ba0,#b60,#b20,#ae0,#aa0,#a60,#a10,#9d0,#990,#950,#910,#8e0,#8a0,#870,#840,#810,#7e0,#7c0,#7a0,#780,#760,#750,#740,#730,#720,#720,#710,#700,#700,#6f0,#6e0,#6d0,#6b0,#690,#670,#640,#610,#5e0,#5a0,#560,#520,#4e0,#4a0,#460,#420,#3e0,#3b0,#390,#370,#350,#340,#340,#350,#360,#380,#3b0,#3e0,#430,#470,#4d0,#540,#5b0,#630,#6c0,#750,#7f0,#8a0,#940,#9f0,#a90,#b20,#ba0,#c20,#c70,#cc0,#cf0,#d00,#d10)"></i><i style="background:linear-gradient(90deg,#b20,#b60,#ba0,#bd0,#c00,#c30,#c50,#c60,#c70,#c80,#c80,#c70,#c70,#c60,#c40,#c20,#c00,#bd0,#bb0,#b80,#b50,#b10,#ae0,#aa0,#a70,#a30,#a00,#9c0,#980,#950,#920,#8e0,#8b0,#890,#860,#830,#810,#7e0,#7c0,#7a0,#790,#770,#760,#750,#750,#740,#740,#730,#730,#720,#720,#710,#700,#6f0,#6d0,#6c0,#6a0,#680,#660,#640,#610,#5f0,#5c0,#5a0,#580,#560,#550,#540,#530,#520,#520,#520,#530,#550,#560,#590,#5c0,#5f0,#630,#680,#6e0,#750,#7c0,#840,#8d0,#960,#9f0,#a90,#b20,#ba0,#c20,#c80,#cd0,#d10,#d30,#d40,#d40)"></i><i style="background:linear-gradient(90deg,#ab0,#af0,#b30,#b60,#b90,#bc0,#be0,#bf0,#c00,#c10,#c10,#c10,#c00,#bf0,#be0,#bc0,#ba0,#b80,#b50,#b30,#b00,#ad0,#aa0,#a80,#a50,#a20,#9f0,#9c0,#990,#960,#930,#910,#8e0,#8c0,#8a0,#870,#850,#830,#810,#7f0,#7e0,#7d0,#7c0,#7b0,#7a0,#7a0,#790,#790,#790,#780,#780,#780,#770,#770,#760,#750,#740,#730,#730,#720,#710,#700,#6f0,#6e0,#6d0,#6c0,#6c0,#6b0,#6b0,#6b0,#6a0,#6b0,#6b0,#6c0,#6c0,#6e0,#6f0,#720,#750,#780,#7d0,#820,#880,#8f0,#960,#9e0,#a60,#af0,#b60,#be0,#c40,#ca0,#ce0,#d10,#d30,#d40,#d30)"></i><i style="background:linear-gradient(90deg,#a30,#a60,#aa0,#ad0,#b00,#b20,#b40,#b60,#b70,#b70,#b80,#b80,#b70,#b60,#b50,#b30,#b10,#af0,#ad0,#ab0,#a90,#a70,#a50,#a20,#a00,#9e0,#9c0,#9a0,#980,#960,#940,#920,#910,#8f0,#8d0,#8c0,#8a0,#890,#870,#860,#850,#850,#840,#830,#830,#830,#830,#820,#820,#820,#820,#810,#810,#810,#800,#800,#800,#7f0,#7f0,#7f0,#7f0,#7f0,#7f0,#7f0,#7f0,#7f0,#7f0,#7f0,#7f0,#7f0,#7f0,#7f0,#7f0,#7f0,#7f0,#800,#800,#810,#830,#860,#890,#8d0,#910,#970,#9d0,#a40,#aa0,#b10,#b80,#be0,#c30,#c70,#cb0,#cd0,#ce0,#cf0,#ce0)"></i><i style="background:linear-gradient(90deg,#990,#9c0,#9f0,#a20,#a40,#a70,#a80,#aa0,#ab0,#ac0,#ac0,#ac0,#ac0,#ab0,#aa0,#a90,#a80,#a60,#a50,#a30,#a10,#a00,#9e0,#9d0,#9b0,#9a0,#990,#980,#970,#960,#950,#940,#940,#930,#920,#920,#910,#910,#910,#900,#900,#900,#900,#900,#900,#900,#900,#900,#8f0,#8f0,#8f0,#8f0,#8e0,#8e0,#8e0,#8e0,#8e0,#8f0,#8f0,#900,#900,#910,#920,#930,#940,#950,#960,#960,#960,#970,#970,#960,#960,#950,#940,#940,#940,#940,#940,#950,#970,#990,#9c0,#a00,#a40,#a90,#ae0,#b30,#b70,#bc0,#bf0,#c20,#c50,#c60,#c70,#c70,#c60)"></i><i style="background:linear-gradient(90deg,#8f0,#910,#930,#950,#970,#990,#9a0,#9b0,#9d0,#9e0,#9e0,#9f0,#9f0,#9f0,#9f0,#9f0,#9e0,#9e0,#9d0,#9c0,#9b0,#9a0,#9a0,#990,#980,#980,#980,#980,#980,#980,#980,#990,#990,#9a0,#9a0,#9b0,#9b0,#9c0,#9c0,#9d0,#9d0,#9e0,#9e0,#9e0,#9f0,#9f0,#9f0,#9f0,#9f0,#9f0,#9e0,#9e0,#9e0,#9f0,#9f0,#a00,#a10,#a20,#a30,#a50,#a60,#a80,#aa0,#ac0,#ae0,#b00,#b10,#b20,#b30,#b30,#b30,#b20,#b10,#b00,#af0,#ad0,#ac0,#aa0,#a90,#a80,#a80,#a80,#a90,#ab0,#ad0,#af0,#b20,#b40,#b70,#b90,#bb0,#bc0,#be0,#be0,#be0,#bd0,#bb0)"></i><i style="background:linear-gradient(90deg,#830,#840,#840,#850,#860,#870,#880,#890,#8a0,#8c0,#8d0,#8e0,#900,#910,#930,#940,#940,#950,#960,#960,#960,#970,#970,#980,#980,#990,#9a0,#9b0,#9c0,#9d0,#9e0,#9f0,#a10,#a20,#a30,#a40,#a60,#a70,#a80,#a90,#aa0,#aa0,#ab0,#ac0,#ac0,#ac0,#ac0,#ac0,#ad0,#ad0,#ad0,#ad0,#ae0,#af0,#b00,#b10,#b30,#b50,#b80,#bb0,#be0,#c10,#c40,#c70,#ca0,#cc0,#ce0,#cf0,#d00,#d00,#d00,#cf0,#ce0,#cc0,#ca0,#c70,#c50,#c20,#bf0,#bd0,#bb0,#b90,#b80,#b70,#b60,#b60,#b60,#b60,#b60,#b60,#b60,#b60,#b60,#b50,#b40,#b10,#ae0)"></i><i style="background:linear-gradient(90deg,#740,#720,#710,#700,#700,#700,#700,#710,#720,#740,#760,#790,#7c0,#7f0,#820,#850,#870,#8a0,#8c0,#8e0,#900,#920,#940,#960,#980,#9a0,#9c0,#9e0,#a00,#a10,#a30,#a50,#a70,#a90,#ab0,#ac0,#ae0,#af0,#b00,#b10,#b20,#b30,#b40,#b40,#b50,#b50,#b50,#b60,#b60,#b70,#b70,#b80,#b90,#bb0,#bd0,#bf0,#c20,#c50,#c90,#cd0,#d10,#d50,#d90,#dc0,#e00,#e20,#e50,#e60,#e70,#e60,#e60,#e40,#e30,#e10,#de0,#db0,#d80,#d50,#d10,#ce0,#ca0,#c70,#c30,#c00,#bd0,#bb0,#b80,#b60,#b50,#b30,#b10,#af0,#ad0,#aa0,#a70,#a30,#9e0)"></i><i style="background:linear-gradient(90deg,#610,#5d0,#5a0,#570,#550,#540,#540,#540,#550,#580,#5b0,#5e0,#630,#670,#6c0,#700,#740,#790,#7d0,#800,#840,#880,#8c0,#900,#940,#970,#9b0,#9e0,#a00,#a30,#a50,#a80,#aa0,#ac0,#ae0,#b00,#b10,#b30,#b40,#b50,#b60,#b60,#b70,#b80,#b80,#b80,#b90,#b90,#ba0,#ba0,#bb0,#bd0,#be0,#c00,#c30,#c60,#c90,#cd0,#d10,#d60,#da0,#df0,#e30,#e70,#eb0,#ed0,#ef0,#f10,#f10,#f00,#ef0,#ee0,#ec0,#ea0,#e70,#e50,#e10,#de0,#da0,#d50,#d10,#cc0,#c80,#c30,#bf0,#bb0,#b70,#b40,#b00,#ad0,#a90,#a40,#9f0,#990,#930,#8d0,#870)"></i><i style="background:linear-gradient(90deg,#4d0,#470,#420,#3f0,#3c0,#3a0,#390,#390,#3a0,#3d0,#400,#430,#480,#4d0,#520,#570,#5b0,#600,#650,#6b0,#700,#750,#7b0,#810,#870,#8d0,#930,#980,#9c0,#a00,#a30,#a60,#a80,#aa0,#ac0,#ae0,#b00,#b10,#b20,#b40,#b50,#b50,#b60,#b60,#b70,#b70,#b80,#b80,#b90,#b90,#ba0,#bb0,#bd0,#bf0,#c10,#c40,#c70,#cb0,#cf0,#d40,#d80,#dd0,#e10,#e50,#e80,#eb0,#ed0,#ee0,#ef0,#ee0,#ed0,#ec0,#ea0,#e80,#e60,#e30,#df0,#db0,#d70,#d30,#ce0,#c90,#c40,#bf0,#ba0,#b50,#b10,#ac0,#a60,#a00,#990,#900,#870,#7e0,#760,#6f0,#6a0)"></i><i style="background:linear-gradient(90deg,#3a0,#340,#2f0,#2b0,#280,#260,#250,#250,#260,#280,#2a0,#2d0,#310,#340,#380,#3b0,#3f0,#440,#480,#4e0,#540,#5b0,#620,#690,#710,#7a0,#820,#8a0,#900,#960,#9b0,#9e0,#a10,#a30,#a60,#a70,#a90,#ab0,#ac0,#ad0,#ae0,#af0,#b00,#b00,#b10,#b10,#b20,#b20,#b20,#b20,#b30,#b40,#b50,#b60,#b80,#ba0,#bd0,#c00,#c30,#c70,#ca0,#ce0,#d20,#d60,#d90,#dc0,#de0,#e00,#e00,#e10,#e00,#df0,#dd0,#db0,#d90,#d60,#d20,#ce0,#ca0,#c60,#c10,#bc0,#b80,#b30,#ae0,#a90,#a30,#9c0,#940,#890,#7d0,#710,#650,#5b0,#530,#4e0,#4b0)"></i><i style="background:linear-gradient(90deg,#2d0,#270,#220,#1e0,#1c0,#1a0,#190,#1a0,#1a0,#1b0,#1d0,#1e0,#200,#210,#220,#230,#250,#280,#2b0,#300,#360,#3d0,#440,#4c0,#550,#5f0,#690,#730,#7d0,#860,#8d0,#920,#960,#990,#9b0,#9c0,#9e0,#9f0,#a10,#a20,#a30,#a40,#a40,#a50,#a50,#a50,#a60,#a60,#a60,#a60,#a60,#a60,#a70,#a80,#a90,#aa0,#ab0,#ad0,#b00,#b20,#b50,#b80,#bb0,#be0,#c00,#c30,#c50,#c60,#c70,#c80,#c70,#c70,#c50,#c40,#c10,#bf0,#bc0,#b90,#b50,#b10,#ae0,#aa0,#a60,#a20,#9d0,#970,#8e0,#830,#760,#670,#590,#4c0,#420,#3a0,#360,#340,#340)"></i><i style="background:linear-gradient(90deg,#260,#200,#1b0,#180,#160,#150,#150,#150,#150,#160,#160,#160,#160,#150,#140,#120,#120,#120,#140,#180,#1e0,#240,#2b0,#320,#3a0,#430,#4d0,#580,#640,#6f0,#790,#810,#870,#8a0,#8d0,#8e0,#900,#910,#910,#920,#930,#940,#940,#940,#950,#950,#950,#960,#960,#960,#960,#960,#960,#960,#970,#970,#980,#990,#9a0,#9c0,#9d0,#9f0,#a10,#a30,#a40,#a60,#a70,#a80,#a90,#a90,#a90,#a90,#a80,#a70,#a60,#a40,#a20,#a00,#9d0,#9b0,#990,#960,#930,#8e0,#880,#7e0,#710,#620,#520,#440,#370,#2e0,#280,#250,#230,#240,#270)"></i><i style="background:linear-gradient(90deg,#250,#1f0,#1a0,#170,#150,#140,#140,#140,#140,#140,#140,#140,#130,#110,#0e0,#0a0,#070,#060,#070,#0a0,#0f0,#140,#1a0,#1f0,#250,#2c0,#340,#3e0,#4a0,#570,#620,#6d0,#740,#790,#7c0,#7e0,#7e0,#7e0,#7e0,#7e0,#7e0,#7f0,#7f0,#7f0,#800,#800,#810,#810,#820,#830,#830,#840,#840,#850,#850,#860,#860,#870,#870,#880,#880,#880,#890,#890,#8a0,#8a0,#8b0,#8b0,#8b0,#8b0,#8b0,#8b0,#8b0,#8b0,#8a0,#8a0,#890,#890,#880,#870,#860,#840,#800,#7a0,#700,#620,#520,#420,#340,#290,#220,#1e0,#1b0,#1a0,#1a0,#1d0,#230)"></i><i style="background:linear-gradient(90deg,#290,#230,#1e0,#1a0,#180,#170,#160,#160,#160,#160,#170,#170,#160,#140,#110,#0d0,#080,#050,#050,#060,#0a0,#0e0,#120,#160,#1a0,#1e0,#230,#2a0,#330,#3e0,#4a0,#550,#5e0,#640,#670,#680,#670,#660,#650,#640,#630,#630,#630,#630,#640,#650,#660,#680,#6a0,#6b0,#6d0,#6f0,#710,#730,#740,#750,#760,#760,#760,#760,#750,#740,#730,#720,#710,#700,#6f0,#6e0,#6e0,#6d0,#6d0,#6e0,#6e0,#6f0,#700,#710,#720,#730,#740,#750,#750,#730,#6e0,#640,#570,#470,#380,#2b0,#210,#1c0,#190,#170,#170,#170,#190,#1e0,#270)"></i><i style="background:linear-gradient(90deg,#340,#2d0,#280,#240,#210,#1f0,#1e0,#1d0,#1d0,#1e0,#1f0,#210,#210,#200,#1e0,#190,#140,#0f0,#0c0,#0c0,#0d0,#0f0,#120,#140,#150,#160,#170,#1a0,#200,#280,#310,#3b0,#440,#4a0,#4d0,#4d0,#4c0,#490,#470,#450,#440,#430,#430,#430,#440,#450,#470,#4a0,#4d0,#500,#540,#570,#5a0,#5e0,#600,#620,#630,#640,#630,#620,#600,#5e0,#5c0,#590,#570,#540,#520,#510,#500,#4f0,#4f0,#500,#510,#520,#540,#570,#5a0,#5d0,#600,#620,#620,#600,#590,#4e0,#400,#330,#270,#1f0,#1a0,#170,#170,#170,#170,#1a0,#1f0,#290,#360)"></i><i style="background:linear-gradient(90deg,#440,#3e0,#390,#350,#310,#2f0,#2d0,#2d0,#2d0,#2e0,#300,#320,#340,#350,#330,#2f0,#290,#230,#1d0,#180,#150,#140,#140,#130,#120,#110,#0f0,#0f0,#100,#140,#1a0,#220,#290,#2f0,#320,#320,#310,#2e0,#2c0,#2a0,#280,#270,#270,#270,#280,#2a0,#2c0,#2f0,#320,#360,#3a0,#3e0,#420,#460,#490,#4c0,#4d0,#4e0,#4d0,#4c0,#4a0,#470,#440,#410,#3e0,#3b0,#390,#370,#360,#360,#360,#360,#380,#3a0,#3c0,#400,#430,#470,#4b0,#4e0,#4e0,#4b0,#440,#3a0,#300,#260,#1f0,#1b0,#190,#190,#1a0,#1c0,#200,#270,#310,#3e0,#4d0)"></i><i style="background:linear-gradient(90deg,#590,#550,#500,#4d0,#4a0,#470,#460,#460,#460,#470,#490,#4b0,#4e0,#4f0,#4e0,#4b0,#450,#3d0,#330,#2b0,#230,#1e0,#190,#150,#110,#0d0,#090,#070,#050,#060,#0a0,#0f0,#150,#1a0,#1d0,#1e0,#1e0,#1c0,#1a0,#190,#170,#170,#160,#170,#170,#180,#1a0,#1c0,#1f0,#220,#260,#2a0,#2d0,#310,#340,#360,#380,#380,#380,#370,#350,#330,#310,#2e0,#2c0,#2a0,#290,#280,#270,#270,#280,#290,#2a0,#2c0,#2e0,#310,#350,#390,#3d0,#3f0,#3f0,#3c0,#360,#2f0,#280,#230,#200,#200,#210,#230,#270,#2d0,#350,#400,#4d0,#5a0,#650)"></i><i style="background:linear-gradient(90deg,#6f0,#6d0,#6a0,#680,#660,#640,#640,#630,#640,#640,#660,#680,#690,#6a0,#6a0,#670,#610,#580,#4d0,#420,#370,#2d0,#240,#1d0,#160,#100,#0a0,#060,#030,#020,#040,#070,#0c0,#100,#130,#140,#140,#140,#130,#120,#110,#110,#110,#110,#110,#120,#130,#140,#160,#180,#1b0,#1d0,#200,#230,#260,#280,#290,#2a0,#2a0,#2a0,#290,#280,#260,#250,#240,#240,#230,#240,#240,#250,#260,#270,#280,#2a0,#2c0,#2f0,#320,#350,#380,#3a0,#390,#370,#340,#300,#2e0,#2d0,#2e0,#300,#340,#3a0,#420,#4b0,#560,#610,#6b0,#740,#790)"></i><i style="background:linear-gradient(90deg,#820,#820,#810,#810,#800,#800,#7f0,#7f0,#800,#800,#810,#810,#820,#820,#810,#7e0,#790,#710,#670,#5b0,#4f0,#430,#370,#2d0,#240,#1c0,#150,#0f0,#0b0,#090,#090,#0b0,#0d0,#100,#120,#130,#130,#120,#110,#110,#100,#100,#100,#100,#110,#110,#120,#130,#140,#160,#180,#1b0,#1e0,#200,#220,#240,#260,#270,#270,#270,#270,#260,#260,#250,#250,#250,#250,#260,#270,#290,#2a0,#2c0,#2d0,#2f0,#310,#340,#380,#3b0,#3e0,#400,#410,#410,#410,#410,#420,#440,#480,#4e0,#550,#5d0,#660,#6f0,#770,#7f0,#840,#870,#880)"></i><i style="background:linear-gradient(90deg,#900,#920,#930,#940,#940,#950,#950,#950,#950,#950,#950,#950,#940,#930,#920,#8f0,#8b0,#850,#7d0,#740,#690,#5d0,#510,#460,#3c0,#320,#2a0,#240,#1f0,#1c0,#1a0,#190,#1a0,#1a0,#1a0,#190,#180,#160,#150,#140,#130,#130,#130,#130,#130,#140,#150,#170,#190,#1c0,#1f0,#220,#250,#290,#2b0,#2e0,#2f0,#300,#310,#300,#300,#2f0,#2e0,#2d0,#2d0,#2d0,#2d0,#2e0,#2f0,#300,#320,#340,#370,#3a0,#3d0,#410,#450,#490,#4e0,#520,#550,#580,#5a0,#5e0,#620,#670,#6d0,#730,#7a0,#810,#880,#8e0,#920,#940,#950,#940,#930)"></i><i style="background:linear-gradient(90deg,#9b0,#9d0,#9f0,#a10,#a20,#a30,#a40,#a40,#a50,#a40,#a40,#a30,#a20,#a00,#9e0,#9c0,#980,#940,#8e0,#870,#7f0,#760,#6c0,#620,#580,#500,#480,#410,#3b0,#370,#340,#310,#2f0,#2d0,#2b0,#280,#250,#230,#200,#1e0,#1d0,#1c0,#1c0,#1d0,#1d0,#1f0,#210,#240,#270,#2b0,#2f0,#330,#370,#3b0,#3f0,#410,#430,#440,#450,#440,#430,#410,#400,#3e0,#3d0,#3c0,#3c0,#3d0,#3e0,#400,#420,#450,#480,#4c0,#510,#560,#5b0,#610,#670,#6c0,#710,#770,#7b0,#800,#860,#8b0,#900,#960,#9a0,#9e0,#a10,#a30,#a30,#a30,#a10,#a00,#9d0)"></i><i style="background:linear-gradient(90deg,#a40,#a60,#a90,#ab0,#ac0,#ad0,#ae0,#af0,#af0,#af0,#ae0,#ad0,#ac0,#aa0,#a80,#a50,#a20,#9f0,#9b0,#960,#900,#8a0,#820,#7b0,#730,#6c0,#660,#600,#5a0,#560,#520,#4e0,#4b0,#480,#440,#400,#3d0,#390,#370,#340,#330,#320,#320,#320,#330,#350,#380,#3b0,#3f0,#430,#470,#4b0,#500,#540,#580,#5a0,#5c0,#5d0,#5e0,#5d0,#5c0,#5b0,#590,#570,#560,#560,#550,#560,#570,#590,#5c0,#5f0,#640,#680,#6e0,#730,#790,#800,#860,#8c0,#920,#970,#9c0,#a10,#a50,#a90,#ac0,#af0,#b00,#b10,#b10,#b10,#b00,#ae0,#ac0,#aa0,#a70)"></i><i style="background:linear-gradient(90deg,#aa0,#ad0,#af0,#b10,#b30,#b40,#b50,#b60,#b60,#b60,#b50,#b40,#b30,#b20,#b00,#ad0,#aa0,#a70,#a40,#a00,#9c0,#980,#930,#8e0,#880,#830,#7e0,#7a0,#750,#720,#6e0,#6b0,#680,#650,#610,#5e0,#5b0,#580,#560,#540,#520,#520,#510,#520,#530,#550,#570,#590,#5c0,#600,#630,#670,#6a0,#6d0,#700,#720,#730,#740,#750,#750,#740,#740,#730,#730,#720,#720,#730,#740,#760,#790,#7c0,#7f0,#840,#880,#8d0,#930,#990,#9e0,#a40,#a90,#ae0,#b20,#b60,#b90,#bb0,#bd0,#be0,#be0,#be0,#bd0,#bc0,#bb0,#b90,#b70,#b40,#b20,#af0)"></i><i style="background:linear-gradient(90deg,#ae0,#b10,#b40,#b60,#b70,#b90,#ba0,#ba0,#ba0,#bb0,#ba0,#ba0,#b90,#b80,#b60,#b40,#b20,#af0,#ac0,#a90,#a60,#a30,#9f0,#9b0,#980,#940,#910,#8e0,#8b0,#880,#860,#830,#810,#7f0,#7d0,#7b0,#790,#770,#760,#740,#740,#730,#730,#730,#740,#750,#760,#770,#790,#7b0,#7d0,#7e0,#800,#810,#820,#830,#840,#850,#850,#860,#860,#870,#870,#880,#890,#8a0,#8c0,#8e0,#900,#930,#960,#9a0,#9e0,#a20,#a70,#ab0,#b00,#b50,#b90,#bd0,#c00,#c30,#c50,#c70,#c80,#c80,#c80,#c70,#c60,#c40,#c30,#c10,#bf0,#bd0,#ba0,#b80,#b50)"></i><i style="background:linear-gradient(90deg,#b00,#b30,#b60,#b80,#b90,#bb0,#bc0,#bc0,#bd0,#be0,#be0,#be0,#bd0,#bd0,#bc0,#ba0,#b90,#b70,#b50,#b20,#b00,#ad0,#ab0,#a80,#a60,#a30,#a10,#9f0,#9d0,#9b0,#9a0,#990,#970,#960,#950,#940,#930,#920,#910,#910,#900,#900,#900,#8f0,#8f0,#900,#900,#900,#900,#900,#910,#910,#910,#910,#910,#910,#910,#910,#910,#910,#920,#930,#940,#950,#960,#980,#9a0,#9c0,#9f0,#a20,#a50,#a80,#ac0,#b00,#b40,#b80,#bc0,#c00,#c30,#c60,#c90,#cb0,#cd0,#ce0,#ce0,#ce0,#cd0,#cb0,#ca0,#c80,#c60,#c40,#c20,#c00,#bd0,#bb0,#b80)"></i><i style="background:linear-gradient(90deg,#b00,#b30,#b50,#b80,#ba0,#bb0,#bd0,#be0,#bf0,#c00,#c00,#c10,#c10,#c10,#c10,#c00,#c00,#bf0,#bd0,#bc0,#bb0,#b90,#b80,#b60,#b50,#b30,#b20,#b10,#b00,#af0,#ae0,#ad0,#ad0,#ac0,#ac0,#ab0,#ab0,#aa0,#aa0,#a90,#a90,#a80,#a80,#a70,#a60,#a60,#a50,#a40,#a30,#a20,#a10,#a00,#9f0,#9e0,#9d0,#9d0,#9c0,#9b0,#9b0,#9b0,#9b0,#9b0,#9c0,#9d0,#9e0,#9f0,#a10,#a30,#a60,#a80,#ab0,#ae0,#b10,#b40,#b70,#bb0,#bf0,#c20,#c60,#c90,#cb0,#cd0,#ce0,#cf0,#cf0,#cf0,#cd0,#cc0,#ca0,#c80,#c60,#c40,#c20,#c00,#bd0,#bb0,#b80)"></i><i style="background:linear-gradient(90deg,#ad0,#b00,#b30,#b50,#b80,#ba0,#bc0,#bd0,#bf0,#c00,#c10,#c30,#c30,#c40,#c50,#c50,#c60,#c60,#c60,#c60,#c60,#c50,#c50,#c50,#c50,#c40,#c40,#c40,#c40,#c30,#c30,#c30,#c30,#c30,#c20,#c20,#c20,#c20,#c10,#c10,#c00,#bf0,#be0,#bd0,#bc0,#bb0,#b90,#b80,#b60,#b40,#b20,#b00,#ae0,#ac0,#aa0,#a90,#a70,#a60,#a40,#a30,#a30,#a20,#a20,#a30,#a30,#a40,#a50,#a60,#a80,#aa0,#ac0,#ae0,#b10,#b40,#b70,#ba0,#bd0,#c10,#c40,#c60,#c90,#ca0,#cc0,#cc0,#cc0,#cc0,#cb0,#ca0,#c80,#c60,#c40,#c20,#c00,#be0,#bb0,#b80,#b50)"></i><i style="background:linear-gradient(90deg,#a80,#ab0,#ae0,#b10,#b30,#b60,#b80,#ba0,#bc0,#be0,#c00,#c20,#c40,#c60,#c70,#c90,#ca0,#cc0,#cd0,#ce0,#cf0,#d00,#d10,#d20,#d30,#d40,#d40,#d50,#d60,#d60,#d70,#d70,#d70,#d70,#d80,#d80,#d80,#d80,#d70,#d70,#d60,#d50,#d40,#d30,#d10,#cf0,#cd0,#cb0,#c80,#c60,#c30,#c00,#bd0,#ba0,#b70,#b40,#b20,#af0,#ad0,#ac0,#aa0,#a90,#a80,#a70,#a70,#a70,#a70,#a80,#a80,#aa0,#ab0,#ad0,#af0,#b10,#b30,#b60,#b90,#bb0,#be0,#c00,#c20,#c40,#c50,#c50,#c60,#c50,#c50,#c40,#c20,#c10,#bf0,#bd0,#bb0,#b80,#b60,#b30,#b00)"></i><i style="background:linear-gradient(90deg,#a10,#a40,#a70,#aa0,#ad0,#af0,#b20,#b50,#b70,#ba0,#bc0,#bf0,#c10,#c40,#c70,#c90,#cc0,#ce0,#d10,#d30,#d60,#d80,#da0,#dc0,#de0,#df0,#e10,#e20,#e30,#e40,#e50,#e60,#e70,#e70,#e80,#e90,#e90,#e90,#e90,#e90,#e90,#e80,#e70,#e50,#e40,#e10,#df0,#dc0,#d90,#d50,#d10,#ce0,#ca0,#c60,#c20,#bf0,#bb0,#b80,#b50,#b20,#b00,#ae0,#ac0,#aa0,#a90,#a80,#a70,#a70,#a70,#a70,#a80,#a90,#aa0,#ac0,#ad0,#af0,#b10,#b30,#b50,#b70,#b90,#ba0,#bb0,#bb0,#bb0,#bb0,#bb0,#ba0,#b90,#b70,#b60,#b40,#b20,#b00,#ae0,#ab0,#a80)"></i><i style="background:linear-gradient(90deg,#980,#9b0,#9e0,#a10,#a40,#a70,#aa0,#ad0,#b00,#b30,#b60,#b90,#bc0,#bf0,#c30,#c60,#ca0,#cd0,#d10,#d40,#d80,#db0,#de0,#e10,#e30,#e50,#e70,#e90,#eb0,#ec0,#ed0,#ee0,#f00,#f10,#f20,#f30,#f40,#f40,#f50,#f50,#f50,#f50,#f40,#f30,#f10,#ee0,#eb0,#e80,#e40,#e00,#dc0,#d80,#d30,#cf0,#ca0,#c60,#c20,#be0,#bb0,#b70,#b40,#b10,#ae0,#ac0,#aa0,#a80,#a60,#a50,#a40,#a30,#a30,#a30,#a40,#a40,#a50,#a60,#a70,#a90,#aa0,#ab0,#ac0,#ad0,#ae0,#ae0,#ae0,#ae0,#ae0,#ad0,#ad0,#ac0,#aa0,#a90,#a70,#a60,#a30,#a10,#9f0)"></i><i style="background:linear-gradient(90deg,#8d0,#900,#920,#950,#980,#9c0,#9f0,#a20,#a60,#a90,#ad0,#b00,#b40,#b80,#bc0,#c00,#c40,#c80,#cc0,#d00,#d40,#d80,#dc0,#df0,#e30,#e60,#e80,#ea0,#ec0,#ee0,#ef0,#f10,#f20,#f30,#f50,#f60,#f80,#f90,#fa0,#fb0,#fb0,#fb0,#fa0,#f90,#f70,#f50,#f20,#ee0,#ea0,#e60,#e20,#dd0,#d80,#d30,#ce0,#ca0,#c60,#c10,#bd0,#b90,#b60,#b20,#af0,#ac0,#a90,#a60,#a40,#a10,#a00,#9e0,#9d0,#9c0,#9c0,#9b0,#9b0,#9c0,#9c0,#9c0,#9d0,#9d0,#9d0,#9e0,#9e0,#9e0,#9e0,#9e0,#9e0,#9e0,#9e0,#9d0,#9c0,#9c0,#9b0,#990,#980,#960,#940)"></i><i style="background:linear-gradient(90deg,#7f0,#800,#810,#850,#890,#8d0,#920,#960,#9b0,#9f0,#a20,#a60,#aa0,#ae0,#b20,#b60,#ba0,#bf0,#c30,#c80,#cd0,#d10,#d50,#d90,#dd0,#e00,#e30,#e60,#e80,#ea0,#ec0,#ee0,#f00,#f10,#f30,#f40,#f60,#f70,#f80,#f90,#fa0,#fa0,#f90,#f80,#f60,#f40,#f10,#ee0,#ea0,#e60,#e20,#dd0,#d80,#d30,#cf0,#ca0,#c60,#c20,#be0,#ba0,#b60,#b20,#ae0,#aa0,#a70,#a30,#a00,#9d0,#9b0,#980,#960,#940,#930,#920,#900,#8f0,#8e0,#8d0,#8c0,#8b0,#8a0,#8a0,#890,#890,#890,#890,#8a0,#8a0,#8b0,#8b0,#8c0,#8c0,#8c0,#8c0,#8c0,#8b0,#8a0)"></i><i style="background:linear-gradient(90deg,#6c0,#6c0,#6d0,#700,#750,#7c0,#830,#890,#8f0,#940,#980,#9b0,#9f0,#a30,#a70,#ab0,#af0,#b30,#b80,#bc0,#c10,#c50,#c90,#cd0,#d10,#d50,#d80,#db0,#de0,#e10,#e30,#e50,#e70,#e90,#eb0,#ec0,#ee0,#ef0,#f00,#f10,#f10,#f10,#f10,#f00,#ef0,#ed0,#ea0,#e80,#e40,#e10,#dd0,#d80,#d40,#d00,#cb0,#c70,#c30,#bf0,#bc0,#b80,#b40,#b00,#ab0,#a70,#a40,#a00,#9c0,#990,#950,#920,#8f0,#8c0,#8a0,#870,#840,#810,#7e0,#7b0,#780,#750,#730,#710,#6f0,#6e0,#6e0,#6f0,#700,#720,#740,#760,#780,#7a0,#7c0,#7e0,#7f0,#7f0,#800)"></i><i style="background:linear-gradient(90deg,#5e0,#5d0,#5d0,#600,#660,#6d0,#760,#7e0,#850,#8a0,#8f0,#920,#950,#980,#9c0,#9f0,#a30,#a60,#aa0,#ae0,#b20,#b60,#ba0,#be0,#c20,#c50,#c90,#cc0,#ce0,#d10,#d30,#d60,#d80,#d90,#db0,#dd0,#de0,#df0,#e00,#e10,#e20,#e20,#e20,#e20,#e10,#e00,#de0,#dc0,#da0,#d70,#d40,#d10,#cd0,#ca0,#c60,#c30,#bf0,#bc0,#b80,#b40,#b10,#ad0,#a90,#a40,#a00,#9c0,#980,#940,#900,#8d0,#890,#850,#800,#7c0,#770,#720,#6d0,#670,#620,#5e0,#590,#560,#540,#520,#520,#530,#550,#570,#5b0,#5f0,#630,#670,#6c0,#6f0,#720,#750,#760)"></i><i style="background:linear-gradient(90deg,#5a0,#580,#590,#5b0,#600,#680,#700,#780,#7f0,#850,#880,#8b0,#8e0,#900,#920,#950,#970,#9a0,#9d0,#a00,#a30,#a60,#a90,#ad0,#b00,#b30,#b50,#b80,#ba0,#bd0,#bf0,#c10,#c30,#c40,#c60,#c80,#c90,#ca0,#cc0,#cd0,#ce0,#cf0,#cf0,#d00,#d00,#cf0,#cf0,#ce0,#cd0,#cb0,#c90,#c70,#c50,#c20,#c00,#bd0,#ba0,#b70,#b40,#b10,#ad0,#a90,#a60,#a10,#9d0,#990,#950,#910,#8c0,#880,#830,#7e0,#790,#730,#6d0,#660,#5f0,#580,#510,#4b0,#460,#420,#400,#3e0,#3e0,#3f0,#400,#430,#470,#4c0,#520,#580,#5e0,#630,#680,#6c0,#6f0)"></i><i style="background:linear-gradient(90deg,#610,#5f0,#5f0,#620,#660,#6d0,#740,#7a0,#7f0,#830,#860,#870,#890,#8a0,#8b0,#8d0,#8e0,#900,#920,#930,#950,#970,#990,#9b0,#9d0,#9f0,#a10,#a30,#a40,#a60,#a80,#a90,#ab0,#ac0,#ad0,#af0,#b10,#b20,#b40,#b50,#b70,#b80,#ba0,#bb0,#bc0,#bd0,#be0,#bf0,#bf0,#bf0,#be0,#bd0,#bc0,#bb0,#ba0,#b80,#b60,#b30,#b10,#ae0,#aa0,#a70,#a30,#9f0,#9b0,#970,#930,#8e0,#8a0,#850,#800,#7b0,#750,#6f0,#670,#600,#580,#500,#490,#430,#3e0,#3a0,#370,#360,#360,#360,#380,#3b0,#3f0,#440,#4a0,#510,#570,#5d0,#630,#670,#6b0)"></i><i style="background:linear-gradient(90deg,#6f0,#6e0,#6f0,#710,#740,#780,#7c0,#800,#830,#850,#860,#860,#870,#870,#870,#880,#880,#880,#890,#890,#8a0,#8a0,#8b0,#8b0,#8c0,#8c0,#8c0,#8d0,#8d0,#8e0,#8e0,#8f0,#900,#910,#920,#930,#950,#970,#990,#9b0,#9e0,#a10,#a30,#a60,#a90,#ab0,#ad0,#af0,#b10,#b20,#b30,#b40,#b40,#b40,#b40,#b30,#b10,#b00,#ae0,#ab0,#a80,#a50,#a10,#9e0,#9a0,#960,#920,#8d0,#890,#850,#800,#7b0,#750,#6f0,#690,#620,#5b0,#530,#4d0,#460,#410,#3d0,#3a0,#390,#380,#390,#3b0,#3e0,#420,#470,#4d0,#520,#580,#5e0,#630,#670,#6a0)"></i><i style="background:linear-gradient(90deg,#7d0,#7d0,#7e0,#7f0,#810,#830,#840,#860,#870,#870,#870,#870,#870,#860,#860,#850,#840,#840,#830,#820,#800,#7f0,#7e0,#7c0,#7b0,#790,#780,#760,#750,#740,#730,#720,#720,#720,#730,#740,#760,#780,#7b0,#7f0,#820,#870,#8b0,#8f0,#940,#980,#9c0,#a00,#a30,#a70,#a90,#ab0,#ad0,#ae0,#ae0,#ae0,#ae0,#ac0,#ab0,#a90,#a60,#a30,#a00,#9d0,#990,#950,#920,#8e0,#8a0,#860,#820,#7e0,#790,#740,#6f0,#6a0,#640,#5e0,#590,#540,#4f0,#4c0,#490,#470,#470,#470,#490,#4b0,#4e0,#520,#570,#5b0,#600,#640,#670,#6a0,#6c0)"></i><i style="background:linear-gradient(90deg,#840,#850,#860,#870,#880,#890,#890,#890,#8a0,#890,#890,#880,#880,#870,#850,#840,#820,#800,#7e0,#7b0,#790,#750,#720,#6e0,#6b0,#670,#630,#5f0,#5c0,#590,#570,#550,#540,#530,#530,#540,#560,#590,#5d0,#610,#660,#6c0,#720,#780,#7e0,#850,#8b0,#910,#960,#9b0,#9f0,#a20,#a50,#a70,#a80,#a90,#a90,#a90,#a70,#a60,#a40,#a20,#9f0,#9c0,#990,#950,#920,#8f0,#8b0,#880,#850,#810,#7e0,#7b0,#770,#730,#700,#6c0,#680,#650,#620,#5f0,#5d0,#5b0,#5b0,#5b0,#5c0,#5d0,#5f0,#610,#630,#660,#680,#6a0,#6c0,#6d0,#6e0)"></i><i style="background:linear-gradient(90deg,#870,#890,#890,#8a0,#8b0,#8b0,#8b0,#8b0,#8b0,#8b0,#8a0,#8a0,#890,#870,#860,#830,#810,#7e0,#7b0,#770,#720,#6e0,#680,#630,#5d0,#580,#520,#4d0,#480,#440,#400,#3e0,#3c0,#3b0,#3b0,#3c0,#3e0,#410,#440,#490,#4f0,#550,#5c0,#630,#6b0,#730,#7b0,#820,#890,#8f0,#950,#990,#9d0,#a00,#a20,#a30,#a40,#a40,#a30,#a20,#a10,#9f0,#9d0,#9a0,#980,#950,#920,#900,#8d0,#8a0,#880,#850,#830,#810,#7e0,#7c0,#7a0,#770,#750,#730,#710,#6f0,#6e0,#6d0,#6c0,#6b0,#6b0,#6b0,#6c0,#6c0,#6d0,#6e0,#6e0,#6f0,#6f0,#700,#700)"></i><i style="background:linear-gradient(90deg,#890,#8a0,#8b0,#8b0,#8c0,#8c0,#8c0,#8c0,#8c0,#8c0,#8b0,#8a0,#890,#880,#860,#830,#800,#7d0,#790,#740,#6f0,#690,#630,#5d0,#560,#500,#490,#430,#3e0,#390,#350,#330,#310,#300,#300,#310,#320,#340,#380,#3c0,#410,#480,#4f0,#570,#5f0,#680,#700,#780,#7f0,#860,#8c0,#910,#960,#990,#9b0,#9d0,#9e0,#9e0,#9e0,#9d0,#9c0,#9b0,#9a0,#980,#960,#940,#920,#900,#8e0,#8d0,#8b0,#890,#870,#860,#840,#830,#810,#800,#7f0,#7d0,#7c0,#7b0,#790,#780,#770,#760,#750,#740,#730,#730,#720,#720,#720,#710,#710,#710,#710)"></i><i style="background:linear-gradient(90deg,#890,#8a0,#8b0,#8b0,#8c0,#8c0,#8c0,#8c0,#8c0,#8c0,#8b0,#8a0,#890,#870,#850,#830,#800,#7d0,#790,#740,#6f0,#6a0,#640,#5d0,#570,#500,#4a0,#440,#3f0,#3a0,#360,#330,#310,#300,#300,#300,#310,#340,#370,#3b0,#400,#460,#4d0,#540,#5c0,#640,#6c0,#730,#7a0,#810,#860,#8b0,#8f0,#920,#950,#970,#980,#980,#980,#980,#980,#970,#960,#950,#940,#930,#920,#910,#900,#8f0,#8e0,#8d0,#8c0,#8b0,#8a0,#890,#880,#870,#860,#850,#840,#830,#810,#800,#7e0,#7d0,#7b0,#7a0,#780,#770,#760,#750,#740,#730,#720,#720,#710)"></i><i style="background:linear-gradient(90deg,#870,#890,#890,#8a0,#8b0,#8b0,#8b0,#8b0,#8b0,#8b0,#8a0,#890,#880,#870,#850,#830,#800,#7d0,#7a0,#760,#720,#6d0,#680,#630,#5e0,#580,#530,#4e0,#490,#450,#410,#3e0,#3c0,#3b0,#3b0,#3b0,#3c0,#3e0,#410,#450,#490,#4e0,#540,#5a0,#600,#670,#6d0,#730,#790,#7e0,#820,#860,#890,#8c0,#8e0,#8f0,#900,#910,#920,#920,#920,#930,#920,#920,#920,#920,#910,#910,#910,#910,#910,#910,#910,#910,#900,#900,#900,#8f0,#8e0,#8d0,#8c0,#8a0,#890,#870,#850,#830,#800,#7e0,#7c0,#7a0,#790,#770,#760,#740,#730,#730,#720)"></i><i style="background:linear-gradient(90deg,#850,#860,#870,#880,#880,#890,#890,#890,#890,#880,#880,#870,#860,#850,#830,#810,#7f0,#7d0,#7b0,#780,#750,#720,#6e0,#6b0,#670,#630,#600,#5c0,#590,#560,#530,#510,#4f0,#4e0,#4e0,#4e0,#4f0,#500,#520,#550,#580,#5c0,#600,#640,#680,#6d0,#710,#740,#780,#7b0,#7d0,#7f0,#800,#820,#830,#850,#860,#880,#890,#8a0,#8c0,#8d0,#8e0,#8e0,#8f0,#900,#910,#920,#930,#930,#940,#950,#960,#970,#970,#980,#980,#970,#970,#960,#940,#930,#910,#8e0,#8c0,#890,#860,#840,#810,#7e0,#7c0,#7a0,#780,#760,#750,#740,#730)"></i><i style="background:linear-gradient(90deg,#820,#830,#830,#840,#840,#850,#850,#850,#840,#840,#840,#830,#820,#810,#800,#7f0,#7d0,#7c0,#7a0,#780,#770,#750,#730,#710,#6f0,#6d0,#6b0,#690,#670,#660,#640,#630,#620,#620,#610,#610,#620,#620,#630,#650,#660,#680,#6a0,#6d0,#6f0,#700,#720,#730,#740,#740,#730,#730,#720,#720,#720,#740,#760,#780,#7b0,#7f0,#820,#850,#880,#8a0,#8c0,#8e0,#900,#920,#940,#960,#980,#9a0,#9c0,#9d0,#9f0,#9f0,#a00,#a00,#9f0,#9f0,#9d0,#9b0,#990,#960,#930,#900,#8d0,#890,#860,#830,#800,#7d0,#7a0,#780,#760,#750,#740)"></i><i style="background:linear-gradient(90deg,#7d0,#7e0,#7e0,#7e0,#7e0,#7e0,#7e0,#7e0,#7e0,#7d0,#7d0,#7d0,#7c0,#7c0,#7c0,#7b0,#7a0,#790,#780,#780,#770,#760,#750,#740,#740,#730,#730,#720,#720,#720,#720,#710,#710,#710,#700,#700,#700,#700,#700,#700,#700,#700,#710,#710,#710,#710,#700,#6e0,#6c0,#680,#640,#610,#5e0,#5c0,#5b0,#5c0,#5f0,#630,#690,#6f0,#750,#7b0,#800,#850,#890,#8c0,#900,#930,#960,#990,#9c0,#9f0,#a20,#a40,#a60,#a70,#a80,#a80,#a80,#a70,#a60,#a40,#a10,#9e0,#9b0,#970,#930,#8f0,#8b0,#870,#830,#800,#7d0,#7a0,#770,#750,#740)"></i><i style="background:linear-gradient(90deg,#770,#770,#760,#750,#740,#730,#720,#710,#710,#710,#710,#720,#730,#730,#740,#750,#750,#760,#760,#760,#760,#770,#770,#780,#790,#7a0,#7b0,#7c0,#7d0,#7e0,#7e0,#7f0,#7f0,#7f0,#7e0,#7e0,#7d0,#7b0,#7a0,#790,#780,#770,#750,#740,#720,#700,#6c0,#670,#610,#5b0,#540,#4d0,#480,#440,#430,#440,#480,#4d0,#550,#5e0,#670,#700,#780,#800,#860,#8b0,#900,#940,#990,#9d0,#a10,#a40,#a70,#aa0,#ac0,#ae0,#af0,#b00,#af0,#af0,#ad0,#ab0,#a90,#a50,#a20,#9e0,#990,#950,#900,#8b0,#860,#810,#7d0,#790,#750,#730,#710)"></i><i style="background:linear-gradient(90deg,#6f0,#6c0,#690,#660,#620,#5f0,#5d0,#5b0,#5b0,#5b0,#5c0,#5e0,#610,#640,#680,#6b0,#6e0,#710,#730,#750,#770,#790,#7b0,#7d0,#800,#820,#850,#880,#8a0,#8c0,#8d0,#8e0,#8f0,#8f0,#8e0,#8d0,#8b0,#890,#860,#830,#810,#7e0,#7b0,#780,#740,#6f0,#690,#620,#590,#500,#470,#3e0,#380,#340,#330,#340,#370,#3d0,#460,#510,#5c0,#680,#720,#7c0,#840,#8b0,#910,#960,#9b0,#a00,#a50,#a90,#ac0,#af0,#b20,#b30,#b50,#b50,#b50,#b40,#b30,#b10,#ae0,#ab0,#a70,#a30,#9e0,#990,#930,#8d0,#870,#800,#790,#730,#6e0,#6b0,#680)"></i><i style="background:linear-gradient(90deg,#630,#5d0,#570,#500,#4a0,#440,#400,#3d0,#3c0,#3c0,#3f0,#430,#490,#4f0,#560,#5d0,#630,#690,#6e0,#730,#770,#7b0,#7f0,#840,#880,#8c0,#900,#930,#970,#990,#9b0,#9d0,#9d0,#9d0,#9c0,#9b0,#980,#950,#920,#8e0,#8a0,#850,#810,#7c0,#770,#710,#6a0,#610,#570,#4c0,#420,#390,#320,#2f0,#2e0,#2e0,#310,#370,#400,#4b0,#580,#640,#700,#7b0,#830,#8b0,#920,#980,#9d0,#a30,#a70,#ac0,#b00,#b30,#b50,#b70,#b80,#b90,#b80,#b80,#b70,#b50,#b20,#af0,#ab0,#a70,#a10,#9b0,#940,#8c0,#830,#7a0,#700,#670,#600,#5b0,#590)"></i><i style="background:linear-gradient(90deg,#560,#4d0,#430,#390,#300,#280,#230,#1f0,#1e0,#1f0,#220,#280,#2f0,#390,#430,#4d0,#570,#610,#690,#700,#770,#7d0,#820,#880,#8d0,#920,#970,#9b0,#9e0,#a10,#a30,#a40,#a50,#a50,#a40,#a20,#a00,#9d0,#990,#940,#8f0,#8a0,#840,#7f0,#790,#730,#6c0,#630,#5a0,#500,#460,#3e0,#370,#330,#310,#320,#360,#3c0,#450,#4f0,#5b0,#670,#720,#7c0,#850,#8c0,#930,#990,#9f0,#a40,#a90,#ad0,#b10,#b40,#b70,#b90,#ba0,#ba0,#ba0,#ba0,#b80,#b70,#b40,#b10,#ad0,#a80,#a20,#9b0,#930,#890,#7d0,#700,#630,#570,#4e0,#480,#460)"></i><i style="background:linear-gradient(90deg,#4d0,#410,#350,#2a0,#1f0,#170,#110,#0e0,#0c0,#0d0,#110,#160,#1f0,#290,#350,#410,#4e0,#590,#640,#6d0,#740,#7b0,#810,#870,#8d0,#920,#970,#9b0,#9f0,#a10,#a30,#a50,#a50,#a50,#a40,#a30,#a00,#9d0,#980,#930,#8d0,#870,#810,#7b0,#760,#710,#6c0,#660,#600,#590,#520,#4b0,#450,#410,#400,#410,#440,#4a0,#520,#5b0,#640,#6e0,#770,#7f0,#860,#8d0,#930,#990,#9f0,#a40,#a90,#ad0,#b10,#b40,#b70,#b90,#ba0,#ba0,#ba0,#ba0,#b90,#b70,#b40,#b10,#ad0,#a80,#a20,#9a0,#900,#840,#760,#670,#570,#4a0,#400,#3a0,#380)"></i><i style="background:linear-gradient(90deg,#4b0,#3f0,#330,#270,#1c0,#140,#0e0,#0b0,#0a0,#0b0,#0e0,#130,#1c0,#260,#320,#3f0,#4c0,#570,#610,#6a0,#720,#780,#7d0,#820,#870,#8c0,#900,#940,#970,#9a0,#9c0,#9d0,#9e0,#9e0,#9d0,#9b0,#980,#940,#8f0,#890,#830,#7c0,#750,#700,#6b0,#690,#670,#650,#640,#620,#5f0,#5b0,#580,#560,#550,#560,#590,#5d0,#620,#680,#6f0,#760,#7c0,#820,#880,#8d0,#930,#980,#9d0,#a20,#a70,#ac0,#af0,#b30,#b50,#b70,#b80,#b90,#b90,#b80,#b70,#b50,#b30,#af0,#ab0,#a60,#a00,#980,#8e0,#810,#720,#620,#520,#450,#3b0,#360,#330)"></i><i style="background:linear-gradient(90deg,#520,#480,#3d0,#320,#290,#210,#1b0,#170,#160,#170,#1a0,#200,#280,#310,#3c0,#470,#520,#5b0,#630,#6a0,#700,#740,#780,#7c0,#7f0,#820,#850,#880,#8a0,#8d0,#8e0,#8f0,#900,#900,#8f0,#8d0,#8a0,#860,#810,#7a0,#720,#6b0,#640,#600,#5d0,#5d0,#5e0,#610,#640,#670,#690,#6a0,#6a0,#6a0,#6a0,#6b0,#6c0,#6e0,#710,#750,#780,#7c0,#800,#840,#880,#8c0,#910,#960,#9a0,#9f0,#a40,#a80,#ac0,#af0,#b10,#b30,#b50,#b50,#b50,#b40,#b30,#b10,#af0,#ab0,#a70,#a30,#9d0,#950,#8c0,#800,#730,#640,#550,#490,#3f0,#3a0,#380)"></i><i style="background:linear-gradient(90deg,#5f0,#580,#500,#480,#410,#3b0,#360,#330,#310,#320,#350,#3a0,#400,#470,#4f0,#570,#5e0,#640,#690,#6d0,#700,#720,#740,#760,#780,#790,#7b0,#7c0,#7d0,#7f0,#800,#800,#810,#800,#800,#7e0,#7c0,#780,#730,#6c0,#640,#5d0,#570,#540,#530,#550,#580,#5e0,#650,#6c0,#710,#750,#780,#790,#7a0,#7a0,#7b0,#7c0,#7d0,#7e0,#7f0,#810,#830,#850,#880,#8b0,#8f0,#930,#970,#9b0,#9f0,#a30,#a60,#a90,#ac0,#ae0,#af0,#af0,#af0,#af0,#ad0,#ac0,#a90,#a60,#a20,#9e0,#990,#930,#8c0,#820,#780,#6c0,#600,#560,#4e0,#490,#470)"></i><i style="background:linear-gradient(90deg,#6d0,#6a0,#660,#630,#5f0,#5b0,#580,#560,#550,#560,#570,#5a0,#5d0,#610,#650,#680,#6c0,#6e0,#700,#710,#720,#730,#730,#730,#730,#730,#740,#740,#740,#740,#750,#750,#750,#750,#750,#740,#720,#6f0,#6b0,#650,#5e0,#580,#530,#520,#520,#550,#5a0,#610,#6a0,#730,#7a0,#800,#840,#860,#870,#870,#870,#870,#870,#860,#860,#860,#860,#870,#880,#8a0,#8c0,#8f0,#920,#950,#990,#9c0,#9f0,#a20,#a40,#a60,#a70,#a80,#a80,#a70,#a60,#a40,#a20,#9f0,#9c0,#980,#940,#900,#8b0,#850,#7f0,#770,#700,#690,#630,#600,#5e0)"></i><i style="background:linear-gradient(90deg,#7b0,#7b0,#7b0,#7a0,#790,#780,#770,#770,#760,#760,#760,#770,#770,#780,#780,#780,#780,#780,#770,#760,#750,#740,#730,#720,#700,#6f0,#6e0,#6d0,#6c0,#6c0,#6b0,#6b0,#6c0,#6c0,#6d0,#6d0,#6d0,#6b0,#690,#650,#600,#5c0,#590,#580,#5a0,#5e0,#640,#6c0,#760,#7f0,#860,#8c0,#900,#930,#940,#940,#940,#930,#910,#8f0,#8e0,#8c0,#8b0,#8a0,#8a0,#8a0,#8b0,#8c0,#8e0,#900,#930,#950,#970,#9a0,#9c0,#9d0,#9e0,#9f0,#9f0,#9e0,#9d0,#9b0,#990,#970,#950,#920,#8f0,#8d0,#8a0,#870,#850,#810,#7e0,#7b0,#790,#770,#760)"></i><i style="background:linear-gradient(90deg,#870,#890,#8b0,#8d0,#8e0,#8f0,#900,#900,#900,#8f0,#8e0,#8d0,#8c0,#8a0,#880,#860,#830,#810,#7e0,#7b0,#790,#760,#730,#700,#6c0,#690,#660,#630,#600,#5e0,#5d0,#5d0,#5e0,#5f0,#620,#640,#660,#680,#680,#680,#660,#650,#650,#660,#690,#6e0,#750,#7e0,#870,#8f0,#960,#9b0,#9f0,#a10,#a20,#a20,#a10,#9f0,#9d0,#9a0,#970,#940,#910,#8e0,#8c0,#8b0,#8a0,#8a0,#8a0,#8b0,#8c0,#8e0,#900,#910,#930,#940,#950,#950,#950,#950,#940,#930,#910,#8f0,#8d0,#8c0,#8a0,#8a0,#890,#890,#890,#890,#8a0,#8a0,#8a0,#8a0,#8a0)"></i><i style="background:linear-gradient(90deg,#940,#980,#9b0,#9e0,#a10,#a30,#a40,#a50,#a50,#a40,#a20,#a00,#9e0,#9a0,#970,#930,#8e0,#8a0,#860,#810,#7c0,#770,#710,#6b0,#640,#5e0,#570,#520,#4d0,#490,#470,#470,#490,#4c0,#500,#550,#5b0,#600,#650,#690,#6c0,#6f0,#720,#760,#7b0,#810,#880,#900,#980,#a00,#a60,#ab0,#ae0,#b00,#b10,#b10,#b00,#ad0,#aa0,#a60,#a20,#9d0,#980,#940,#900,#8d0,#8a0,#880,#870,#870,#870,#880,#880,#890,#8a0,#8b0,#8c0,#8c0,#8c0,#8b0,#8b0,#8a0,#890,#880,#870,#860,#860,#870,#880,#8a0,#8d0,#900,#920,#950,#970,#980,#980)"></i><i style="background:linear-gradient(90deg,#a10,#a60,#ab0,#af0,#b30,#b50,#b70,#b80,#b80,#b70,#b50,#b20,#ae0,#aa0,#a50,#a00,#9a0,#940,#8e0,#870,#800,#770,#6e0,#650,#5b0,#510,#470,#3e0,#380,#330,#300,#300,#320,#360,#3c0,#440,#4c0,#550,#5e0,#660,#6e0,#750,#7b0,#820,#890,#900,#980,#a00,#a70,#ae0,#b40,#b90,#bc0,#be0,#bf0,#bf0,#bd0,#ba0,#b70,#b20,#ac0,#a60,#a00,#9a0,#950,#8f0,#8b0,#880,#850,#830,#820,#820,#810,#820,#820,#820,#820,#820,#820,#820,#820,#810,#810,#810,#810,#820,#830,#850,#880,#8c0,#910,#950,#9a0,#9e0,#a10,#a20,#a30)"></i><i style="background:linear-gradient(90deg,#ae0,#b50,#ba0,#bf0,#c30,#c60,#c80,#c90,#c90,#c70,#c50,#c20,#be0,#b90,#b30,#ad0,#a60,#9e0,#960,#8d0,#840,#790,#6e0,#610,#540,#470,#3b0,#320,#2a0,#250,#220,#220,#240,#280,#2e0,#370,#420,#4d0,#580,#640,#6e0,#780,#810,#890,#920,#9a0,#a30,#ab0,#b30,#ba0,#bf0,#c40,#c80,#ca0,#cb0,#ca0,#c80,#c50,#c10,#bc0,#b60,#af0,#a80,#a00,#990,#920,#8c0,#870,#830,#800,#7d0,#7b0,#7a0,#790,#780,#770,#760,#760,#760,#760,#760,#770,#780,#790,#7a0,#7c0,#800,#840,#890,#8e0,#940,#9a0,#a00,#a50,#a90,#ab0,#ac0)"></i><i style="background:linear-gradient(90deg,#ba0,#c10,#c70,#cc0,#d00,#d30,#d50,#d60,#d60,#d50,#d30,#cf0,#cb0,#c50,#bf0,#b80,#b00,#a80,#9e0,#940,#8a0,#7e0,#710,#630,#550,#470,#3b0,#300,#280,#230,#210,#200,#220,#260,#2c0,#350,#400,#4c0,#580,#640,#700,#7a0,#840,#8e0,#970,#a10,#aa0,#b20,#ba0,#c10,#c70,#cc0,#cf0,#d10,#d20,#d20,#d00,#cd0,#c90,#c30,#bd0,#b50,#ad0,#a50,#9c0,#940,#8d0,#860,#800,#7b0,#770,#720,#6f0,#6b0,#690,#660,#650,#640,#640,#640,#650,#670,#6a0,#6d0,#710,#750,#7b0,#810,#880,#8f0,#970,#9e0,#a50,#ab0,#af0,#b10,#b20)"></i><i style="background:linear-gradient(90deg,#c20,#c90,#d00,#d50,#d90,#dc0,#de0,#df0,#df0,#de0,#dc0,#d80,#d40,#ce0,#c80,#c00,#b80,#af0,#a60,#9b0,#910,#850,#780,#6b0,#5e0,#510,#450,#3b0,#330,#2e0,#2b0,#2a0,#2c0,#300,#360,#3f0,#490,#540,#5f0,#6a0,#740,#7e0,#880,#910,#9b0,#a40,#ae0,#b70,#bf0,#c60,#cc0,#d00,#d30,#d50,#d60,#d50,#d40,#d10,#cd0,#c80,#c10,#b90,#b00,#a70,#9e0,#950,#8c0,#830,#7b0,#730,#6c0,#650,#5e0,#580,#520,#4e0,#4b0,#490,#480,#4a0,#4c0,#500,#550,#5b0,#620,#6a0,#720,#7b0,#850,#8e0,#980,#a10,#a80,#ae0,#b20,#b50,#b50)"></i><i style="background:linear-gradient(90deg,#c70,#ce0,#d40,#da0,#de0,#e00,#e20,#e30,#e20,#e20,#e00,#dd0,#d90,#d30,#cd0,#c50,#bd0,#b40,#ab0,#a10,#970,#8d0,#830,#780,#6d0,#630,#590,#510,#4a0,#450,#420,#410,#430,#460,#4b0,#520,#590,#620,#6a0,#720,#7a0,#830,#8b0,#940,#9d0,#a60,#af0,#b80,#c00,#c70,#cd0,#d10,#d40,#d60,#d60,#d60,#d50,#d20,#ce0,#c80,#c10,#b90,#b00,#a70,#9d0,#920,#880,#7e0,#730,#690,#5e0,#530,#490,#400,#370,#310,#2c0,#290,#290,#2a0,#2e0,#340,#3c0,#450,#4f0,#5b0,#670,#730,#7f0,#8b0,#960,#a00,#a80,#af0,#b30,#b50,#b60)"></i><i style="background:linear-gradient(90deg,#c70,#ce0,#d40,#da0,#de0,#e00,#e20,#e30,#e30,#e20,#e00,#dd0,#d90,#d40,#cd0,#c60,#be0,#b60,#ad0,#a50,#9c0,#940,#8c0,#840,#7d0,#760,#6f0,#690,#650,#610,#5f0,#5f0,#5f0,#610,#640,#680,#6c0,#710,#760,#7b0,#800,#860,#8d0,#940,#9c0,#a50,#ad0,#b60,#bd0,#c40,#ca0,#cf0,#d20,#d40,#d40,#d40,#d20,#cf0,#cb0,#c50,#be0,#b60,#ad0,#a30,#990,#8e0,#830,#770,#6b0,#5d0,#500,#420,#350,#2a0,#200,#180,#120,#0f0,#0f0,#110,#150,#1c0,#250,#300,#3d0,#4c0,#5a0,#690,#780,#860,#920,#9d0,#a60,#ad0,#b20,#b40,#b50)"></i><i style="background:linear-gradient(90deg,#c20,#ca0,#d00,#d50,#d90,#dc0,#de0,#df0,#df0,#de0,#dc0,#d90,#d50,#d00,#ca0,#c30,#bc0,#b40,#ad0,#a60,#9f0,#990,#930,#8e0,#890,#850,#820,#7f0,#7d0,#7b0,#7a0,#790,#790,#790,#7a0,#7b0,#7c0,#7e0,#800,#820,#850,#890,#8e0,#940,#9a0,#a20,#a90,#b10,#b80,#bf0,#c40,#c90,#cc0,#ce0,#ce0,#ce0,#cc0,#c90,#c50,#bf0,#b80,#b00,#a80,#9e0,#940,#890,#7e0,#710,#640,#560,#470,#380,#2a0,#1d0,#130,#0b0,#060,#030,#030,#040,#080,#0f0,#180,#240,#320,#420,#520,#620,#720,#800,#8e0,#990,#a20,#a90,#ad0,#b00,#b10)"></i><i style="background:linear-gradient(90deg,#ba0,#c10,#c70,#cc0,#d10,#d40,#d60,#d70,#d70,#d60,#d40,#d10,#cd0,#c80,#c30,#bd0,#b70,#b10,#ab0,#a50,#a00,#9c0,#980,#960,#940,#920,#910,#900,#8f0,#8e0,#8e0,#8d0,#8d0,#8c0,#8b0,#8a0,#8a0,#890,#890,#890,#8a0,#8c0,#8f0,#930,#980,#9d0,#a40,#aa0,#b00,#b60,#bb0,#bf0,#c20,#c40,#c50,#c40,#c20,#bf0,#bb0,#b60,#af0,#a80,#a00,#980,#8e0,#850,#7a0,#6e0,#620,#540,#460,#370,#2a0,#1d0,#130,#0b0,#060,#040,#030,#050,#090,#0f0,#190,#250,#320,#410,#510,#610,#6f0,#7d0,#890,#940,#9b0,#a00,#a30,#a50,#a70)"></i><i style="background:linear-gradient(90deg,#af0,#b50,#ba0,#bf0,#c30,#c60,#c80,#ca0,#ca0,#c90,#c70,#c40,#c10,#bd0,#b90,#b40,#b00,#ab0,#a70,#a40,#a10,#9f0,#9e0,#9d0,#9d0,#9e0,#9e0,#9f0,#9f0,#9f0,#9f0,#9f0,#9e0,#9c0,#9b0,#990,#960,#940,#920,#910,#900,#900,#910,#920,#950,#990,#9d0,#a20,#a70,#ab0,#b00,#b30,#b60,#b70,#b80,#b70,#b60,#b30,#af0,#aa0,#a40,#9e0,#980,#900,#890,#810,#780,#6f0,#650,#590,#4e0,#410,#350,#2a0,#210,#190,#140,#120,#110,#130,#170,#1e0,#270,#320,#3e0,#4b0,#580,#650,#710,#7c0,#860,#8e0,#930,#940,#930,#940,#970)"></i><i style="background:linear-gradient(90deg,#a20,#a70,#ab0,#af0,#b30,#b60,#b70,#b80,#b90,#b80,#b70,#b50,#b30,#b00,#ad0,#ab0,#a80,#a60,#a40,#a30,#a30,#a40,#a50,#a60,#a80,#aa0,#ac0,#ad0,#af0,#b00,#b00,#af0,#ae0,#ac0,#aa0,#a70,#a40,#a00,#9d0,#990,#970,#950,#930,#930,#930,#950,#970,#9a0,#9d0,#a00,#a30,#a60,#a80,#a90,#a90,#a90,#a70,#a50,#a10,#9e0,#990,#940,#8f0,#890,#840,#7e0,#780,#720,#6b0,#630,#5b0,#520,#4a0,#420,#3a0,#340,#300,#2e0,#2e0,#2f0,#330,#390,#400,#480,#510,#5a0,#640,#6d0,#750,#7d0,#840,#890,#890,#850,#800,#7e0,#820)"></i><i style="background:linear-gradient(90deg,#940,#980,#9b0,#9e0,#a10,#a30,#a40,#a50,#a60,#a60,#a50,#a50,#a40,#a30,#a20,#a10,#a10,#a10,#a20,#a40,#a60,#a90,#ac0,#af0,#b30,#b60,#b90,#bc0,#be0,#bf0,#c00,#bf0,#be0,#bc0,#b90,#b50,#b10,#ad0,#a80,#a30,#9e0,#9a0,#970,#940,#920,#920,#920,#920,#930,#950,#960,#980,#990,#9a0,#9a0,#990,#980,#960,#940,#910,#8e0,#8a0,#870,#830,#800,#7c0,#790,#760,#720,#6e0,#6a0,#650,#600,#5c0,#580,#540,#520,#510,#510,#520,#550,#590,#5d0,#620,#670,#6c0,#710,#760,#7b0,#800,#830,#840,#800,#780,#700,#6d0,#700)"></i><i style="background:linear-gradient(90deg,#870,#890,#8b0,#8c0,#8d0,#8e0,#8f0,#900,#910,#920,#920,#930,#940,#950,#970,#980,#9b0,#9d0,#a00,#a40,#a90,#ae0,#b30,#b80,#bd0,#c10,#c50,#c80,#cb0,#cc0,#cd0,#cd0,#cb0,#c90,#c60,#c20,#bd0,#b80,#b20,#ac0,#a60,#a00,#9b0,#960,#920,#8f0,#8d0,#8b0,#8a0,#890,#890,#890,#890,#890,#890,#880,#880,#870,#860,#850,#840,#820,#800,#7f0,#7d0,#7c0,#7a0,#790,#780,#780,#770,#750,#740,#730,#720,#710,#710,#710,#710,#720,#740,#760,#780,#790,#7b0,#7d0,#7f0,#800,#820,#830,#840,#830,#7c0,#710,#680,#640,#660)"></i><i style="background:linear-gradient(90deg,#7b0,#7b0,#7a0,#790,#780,#780,#780,#790,#7a0,#7c0,#7f0,#820,#850,#890,#8d0,#910,#950,#9a0,#a00,#a50,#ac0,#b20,#b90,#bf0,#c50,#ca0,#ce0,#d20,#d40,#d60,#d60,#d60,#d50,#d30,#d00,#cc0,#c60,#c10,#ba0,#b30,#ac0,#a50,#9e0,#980,#920,#8c0,#880,#830,#7f0,#7c0,#790,#760,#740,#730,#730,#730,#740,#750,#760,#780,#790,#7a0,#7a0,#7b0,#7c0,#7c0,#7d0,#7e0,#7f0,#800,#820,#830,#840,#860,#870,#880,#890,#8a0,#8b0,#8c0,#8d0,#8d0,#8e0,#8e0,#8d0,#8d0,#8c0,#8b0,#8a0,#8a0,#880,#850,#7e0,#730,#690,#640,#660)"></i><i style="background:linear-gradient(90deg,#6f0,#6c0,#690,#660,#630,#610,#600,#600,#620,#650,#6a0,#700,#760,#7d0,#830,#8a0,#910,#970,#9e0,#a60,#ad0,#b50,#bc0,#c30,#c90,#cf0,#d30,#d70,#d90,#db0,#db0,#db0,#da0,#d80,#d50,#d10,#cc0,#c60,#bf0,#b80,#b00,#a80,#a00,#980,#900,#880,#800,#780,#700,#690,#620,#5c0,#570,#550,#540,#550,#580,#5c0,#610,#670,#6c0,#700,#750,#780,#7b0,#7e0,#800,#830,#860,#890,#8c0,#8f0,#930,#960,#980,#9b0,#9d0,#9f0,#a00,#a10,#a20,#a10,#a10,#a00,#9e0,#9c0,#9a0,#970,#950,#920,#8f0,#8b0,#850,#7c0,#720,#6d0,#6d0)"></i><i style="background:linear-gradient(90deg,#650,#5f0,#5a0,#540,#4f0,#4c0,#4a0,#4a0,#4c0,#510,#570,#5f0,#680,#710,#7a0,#830,#8c0,#940,#9c0,#a50,#ad0,#b50,#bd0,#c40,#cb0,#d00,#d50,#d80,#db0,#dc0,#dd0,#dc0,#dc0,#da0,#d70,#d30,#ce0,#c80,#c10,#b90,#b10,#a80,#9f0,#950,#8b0,#810,#750,#690,#5d0,#510,#460,#3d0,#360,#320,#310,#330,#380,#400,#480,#520,#5c0,#660,#6e0,#750,#7b0,#800,#850,#8a0,#8e0,#930,#970,#9c0,#a00,#a40,#a80,#ac0,#af0,#b10,#b30,#b40,#b40,#b40,#b30,#b10,#af0,#ac0,#a80,#a50,#a10,#9d0,#980,#940,#8e0,#870,#7f0,#7a0,#780)"></i><i style="background:linear-gradient(90deg,#5d0,#560,#4e0,#460,#410,#3c0,#3b0,#3b0,#3d0,#420,#490,#520,#5c0,#670,#720,#7d0,#870,#900,#990,#a20,#aa0,#b20,#ba0,#c20,#c80,#ce0,#d30,#d60,#d90,#da0,#db0,#db0,#da0,#d80,#d50,#d10,#cc0,#c50,#be0,#b70,#ae0,#a50,#9c0,#910,#850,#780,#6a0,#5a0,#4a0,#3b0,#2d0,#220,#1b0,#160,#160,#180,#1e0,#270,#330,#400,#4e0,#5c0,#680,#730,#7c0,#840,#8b0,#910,#970,#9d0,#a20,#a80,#ad0,#b30,#b70,#bb0,#bf0,#c20,#c30,#c50,#c50,#c50,#c30,#c10,#be0,#bb0,#b70,#b20,#ad0,#a80,#a20,#9d0,#970,#910,#8a0,#850,#820)"></i><i style="background:linear-gradient(90deg,#590,#510,#480,#400,#3a0,#360,#340,#340,#360,#3b0,#410,#4b0,#560,#610,#6d0,#780,#820,#8c0,#950,#9d0,#a50,#ad0,#b40,#bb0,#c20,#c80,#cc0,#d00,#d30,#d50,#d60,#d50,#d40,#d20,#cf0,#cb0,#c50,#bf0,#b80,#b10,#a90,#a00,#960,#8c0,#800,#720,#620,#510,#400,#2f0,#200,#150,#0e0,#0a0,#0a0,#0c0,#110,#1b0,#280,#370,#470,#580,#660,#730,#7e0,#880,#900,#980,#9f0,#a60,#ac0,#b30,#b90,#bf0,#c40,#c80,#cc0,#cf0,#d10,#d20,#d30,#d20,#d10,#cf0,#cc0,#c80,#c30,#be0,#b80,#b20,#ac0,#a50,#9f0,#980,#920,#8c0,#870)"></i><i style="background:linear-gradient(90deg,#5a0,#520,#490,#420,#3b0,#370,#350,#350,#370,#3b0,#420,#4b0,#550,#600,#6b0,#760,#7f0,#870,#8f0,#970,#9e0,#a50,#ac0,#b20,#b80,#be0,#c20,#c60,#c90,#cb0,#cb0,#cb0,#ca0,#c80,#c50,#c10,#bc0,#b60,#b00,#a90,#a10,#990,#910,#870,#7c0,#6f0,#600,#500,#400,#300,#220,#170,#100,#0c0,#0c0,#0e0,#140,#1e0,#2b0,#3a0,#4b0,#5b0,#6a0,#770,#830,#8c0,#950,#9d0,#a50,#ad0,#b40,#bb0,#c20,#c80,#cd0,#d20,#d50,#d80,#da0,#db0,#dc0,#db0,#da0,#d80,#d50,#d10,#cd0,#c70,#c10,#ba0,#b30,#ac0,#a50,#9e0,#970,#910,#8b0)"></i><i style="background:linear-gradient(90deg,#600,#590,#510,#4a0,#450,#410,#3e0,#3e0,#400,#440,#4a0,#520,#5b0,#640,#6d0,#750,#7d0,#830,#8a0,#900,#960,#9b0,#a10,#a70,#ac0,#b10,#b50,#b80,#bb0,#bd0,#be0,#bd0,#bc0,#ba0,#b70,#b30,#af0,#aa0,#a40,#9f0,#980,#920,#8b0,#830,#7a0,#700,#650,#580,#4a0,#3d0,#310,#270,#200,#1d0,#1c0,#1f0,#260,#2f0,#3b0,#490,#570,#650,#720,#7d0,#870,#910,#990,#a10,#a90,#b10,#b90,#c00,#c70,#cd0,#d20,#d70,#da0,#dd0,#df0,#e00,#e00,#df0,#de0,#dd0,#da0,#d60,#d20,#cc0,#c60,#bf0,#b80,#b00,#a80,#a10,#9a0,#930,#8d0)"></i><i style="background:linear-gradient(90deg,#680,#630,#5e0,#590,#550,#510,#4f0,#4f0,#500,#540,#580,#5e0,#640,#6b0,#710,#770,#7c0,#800,#840,#890,#8d0,#920,#960,#9b0,#9f0,#a30,#a60,#a90,#ab0,#ad0,#ad0,#ad0,#ac0,#aa0,#a80,#a50,#a10,#9d0,#990,#940,#8f0,#8a0,#850,#800,#7a0,#730,#6c0,#630,#5b0,#520,#490,#420,#3d0,#3a0,#3a0,#3d0,#420,#4a0,#530,#5d0,#670,#710,#7b0,#840,#8c0,#940,#9b0,#a30,#ab0,#b20,#ba0,#c10,#c80,#ce0,#d30,#d80,#db0,#de0,#df0,#e00,#e00,#e00,#df0,#dd0,#db0,#d70,#d20,#cd0,#c70,#c00,#b80,#b10,#a90,#a10,#9a0,#930,#8d0)"></i><i style="background:linear-gradient(90deg,#720,#6f0,#6d0,#6a0,#670,#650,#640,#640,#640,#660,#690,#6c0,#700,#730,#760,#790,#7b0,#7e0,#800,#830,#860,#890,#8c0,#8f0,#920,#950,#980,#9a0,#9b0,#9d0,#9d0,#9d0,#9c0,#9b0,#990,#970,#940,#910,#8d0,#8a0,#870,#830,#800,#7d0,#790,#760,#720,#6e0,#690,#650,#600,#5d0,#5a0,#590,#590,#5b0,#5f0,#630,#690,#6f0,#750,#7c0,#820,#880,#8e0,#950,#9b0,#a20,#a90,#b00,#b70,#be0,#c50,#cb0,#d00,#d40,#d80,#db0,#dc0,#dd0,#de0,#dd0,#dc0,#da0,#d70,#d30,#cf0,#c90,#c30,#bc0,#b50,#ae0,#a60,#9f0,#980,#920,#8c0)"></i><i style="background:linear-gradient(90deg,#7b0,#7a0,#7a0,#790,#780,#780,#770,#770,#770,#770,#780,#790,#7a0,#7b0,#7b0,#7c0,#7c0,#7d0,#7e0,#7f0,#800,#810,#830,#850,#870,#890,#8b0,#8c0,#8d0,#8e0,#8e0,#8e0,#8e0,#8d0,#8c0,#8a0,#880,#860,#840,#820,#800,#7e0,#7c0,#7a0,#790,#780,#760,#750,#740,#720,#710,#700,#700,#700,#700,#720,#740,#760,#790,#7c0,#800,#830,#870,#8b0,#900,#950,#9a0,#9f0,#a50,#ac0,#b20,#b80,#be0,#c40,#c90,#cd0,#d00,#d30,#d50,#d60,#d60,#d60,#d50,#d20,#cf0,#cc0,#c70,#c20,#bc0,#b50,#af0,#a80,#a10,#9a0,#940,#8e0,#890)"></i><i style="background:linear-gradient(90deg,#820,#840,#850,#850,#860,#860,#860,#860,#850,#850,#840,#840,#830,#820,#800,#7f0,#7e0,#7d0,#7c0,#7c0,#7c0,#7c0,#7d0,#7d0,#7e0,#7f0,#800,#800,#810,#810,#820,#820,#820,#810,#810,#800,#7f0,#7e0,#7d0,#7c0,#7b0,#7a0,#7a0,#790,#790,#790,#7a0,#7a0,#7b0,#7b0,#7c0,#7c0,#7d0,#7e0,#7f0,#800,#810,#830,#840,#860,#870,#890,#8b0,#8e0,#910,#940,#980,#9c0,#a10,#a60,#ab0,#b00,#b50,#b90,#be0,#c20,#c50,#c70,#c90,#ca0,#ca0,#ca0,#c90,#c60,#c30,#c00,#bb0,#b60,#b10,#ab0,#a50,#9f0,#990,#930,#8e0,#890,#840)"></i><i style="background:linear-gradient(90deg,#890,#8b0,#8d0,#8e0,#8f0,#900,#900,#900,#8f0,#8e0,#8d0,#8b0,#890,#870,#850,#830,#800,#7e0,#7c0,#7b0,#790,#780,#780,#770,#770,#760,#760,#760,#760,#770,#770,#770,#770,#780,#780,#780,#780,#780,#780,#780,#780,#790,#790,#7a0,#7b0,#7c0,#7e0,#7f0,#810,#830,#850,#860,#880,#890,#8b0,#8c0,#8d0,#8d0,#8e0,#8f0,#8f0,#900,#910,#920,#930,#950,#970,#990,#9c0,#9f0,#a30,#a60,#aa0,#ad0,#b10,#b40,#b60,#b80,#ba0,#bb0,#bb0,#ba0,#b90,#b70,#b40,#b10,#ad0,#a90,#a40,#9f0,#9a0,#950,#900,#8c0,#870,#830,#800)"></i><i style="background:linear-gradient(90deg,#8e0,#910,#930,#950,#960,#970,#970,#970,#960,#950,#930,#910,#8f0,#8c0,#890,#860,#830,#800,#7d0,#7a0,#770,#750,#730,#710,#6f0,#6e0,#6c0,#6c0,#6b0,#6b0,#6b0,#6c0,#6d0,#6e0,#700,#710,#720,#740,#750,#760,#770,#790,#7a0,#7c0,#7e0,#810,#830,#860,#890,#8b0,#8e0,#910,#930,#950,#960,#980,#990,#990,#990,#990,#990,#980,#980,#970,#970,#970,#970,#980,#990,#9a0,#9b0,#9d0,#9f0,#a10,#a30,#a50,#a70,#a80,#a90,#a90,#a90,#a80,#a70,#a50,#a30,#a10,#9e0,#9a0,#970,#930,#8f0,#8b0,#880,#840,#810,#7e0,#7b0)"></i><i style="background:linear-gradient(90deg,#920,#950,#970,#990,#9a0,#9b0,#9b0,#9b0,#9a0,#990,#970,#950,#920,#8f0,#8c0,#880,#840,#800,#7c0,#790,#750,#710,#6d0,#690,#660,#630,#600,#5e0,#5d0,#5d0,#5e0,#5f0,#610,#640,#660,#690,#6c0,#6f0,#720,#750,#780,#7a0,#7d0,#800,#830,#870,#8a0,#8e0,#920,#950,#990,#9c0,#9f0,#a20,#a40,#a50,#a60,#a60,#a60,#a50,#a40,#a30,#a10,#9f0,#9d0,#9c0,#9a0,#980,#970,#960,#960,#960,#960,#960,#960,#970,#970,#970,#970,#960,#960,#950,#930,#920,#900,#8e0,#8c0,#8a0,#880,#860,#840,#810,#7f0,#7d0,#7b0,#790,#770)"></i><i style="background:linear-gradient(90deg,#940,#970,#990,#9b0,#9c0,#9c0,#9d0,#9c0,#9c0,#9b0,#990,#970,#940,#910,#8d0,#890,#850,#800,#7b0,#760,#700,#6b0,#650,#5f0,#5a0,#550,#510,#4e0,#4c0,#4c0,#4d0,#4f0,#520,#560,#5b0,#600,#650,#6a0,#6f0,#740,#780,#7c0,#800,#850,#890,#8e0,#920,#970,#9c0,#a00,#a50,#a90,#ac0,#af0,#b10,#b30,#b40,#b40,#b30,#b20,#b10,#ae0,#ac0,#a90,#a50,#a20,#9f0,#9b0,#980,#950,#930,#900,#8e0,#8c0,#8b0,#890,#870,#850,#830,#810,#7f0,#7e0,#7c0,#7b0,#7a0,#790,#780,#780,#770,#770,#770,#770,#760,#760,#750,#750,#740)"></i><i style="background:linear-gradient(90deg,#940,#970,#990,#9b0,#9c0,#9d0,#9d0,#9d0,#9c0,#9b0,#990,#970,#940,#910,#8d0,#880,#840,#7e0,#780,#710,#6a0,#630,#5b0,#530,#4c0,#450,#400,#3c0,#3a0,#3a0,#3b0,#3e0,#420,#480,#4f0,#560,#5e0,#650,#6c0,#720,#780,#7e0,#840,#890,#8f0,#940,#9a0,#a00,#a50,#ab0,#b00,#b40,#b80,#bb0,#be0,#c00,#c00,#c10,#c00,#bf0,#bc0,#ba0,#b60,#b20,#ae0,#a90,#a40,#a00,#9b0,#960,#910,#8d0,#880,#840,#800,#7b0,#770,#720,#6e0,#6a0,#660,#630,#610,#600,#5f0,#5f0,#600,#610,#630,#660,#680,#6a0,#6c0,#6e0,#6f0,#700,#710)"></i><i style="background:linear-gradient(90deg,#920,#950,#970,#990,#9a0,#9b0,#9b0,#9b0,#9a0,#990,#970,#950,#920,#8f0,#8b0,#860,#810,#7b0,#740,#6c0,#640,#5b0,#510,#480,#3f0,#370,#310,#2d0,#2b0,#2a0,#2c0,#2f0,#340,#3b0,#430,#4c0,#560,#5f0,#680,#710,#790,#800,#870,#8d0,#940,#9b0,#a10,#a80,#ae0,#b40,#b90,#be0,#c20,#c60,#c80,#ca0,#cb0,#cb0,#ca0,#c90,#c60,#c30,#bf0,#bb0,#b60,#b00,#aa0,#a40,#9e0,#980,#910,#8b0,#840,#7d0,#760,#6f0,#670,#600,#5a0,#540,#4f0,#4b0,#480,#460,#460,#470,#490,#4c0,#500,#540,#590,#5e0,#620,#660,#690,#6c0,#6e0)"></i><i style="background:linear-gradient(90deg,#8f0,#910,#940,#950,#970,#970,#980,#970,#970,#950,#940,#910,#8f0,#8b0,#870,#830,#7d0,#770,#700,#680,#5e0,#540,#490,#3f0,#360,#2e0,#270,#230,#210,#210,#220,#250,#2b0,#320,#3b0,#450,#500,#5b0,#660,#700,#790,#810,#890,#910,#980,#a00,#a70,#ae0,#b40,#bb0,#c00,#c50,#ca0,#cd0,#cf0,#d10,#d20,#d20,#d10,#d00,#ce0,#ca0,#c60,#c20,#bc0,#b60,#af0,#a80,#a10,#9a0,#920,#8a0,#810,#780,#6f0,#660,#5d0,#540,#4c0,#450,#3f0,#3b0,#380,#370,#370,#380,#3a0,#3e0,#420,#480,#4e0,#550,#5b0,#600,#650,#690,#6b0)"></i><i style="background:linear-gradient(90deg,#8a0,#8c0,#8e0,#900,#910,#920,#920,#920,#910,#900,#8e0,#8c0,#8a0,#870,#830,#7f0,#7a0,#740,#6d0,#640,#5b0,#500,#460,#3b0,#320,#2a0,#240,#200,#1e0,#1e0,#1f0,#220,#270,#2f0,#380,#430,#4e0,#5a0,#650,#700,#7a0,#830,#8b0,#930,#9b0,#a30,#aa0,#b10,#b80,#bf0,#c50,#ca0,#ce0,#d10,#d30,#d50,#d50,#d50,#d50,#d40,#d10,#ce0,#ca0,#c60,#c00,#ba0,#b30,#ab0,#a30,#9b0,#930,#8a0,#810,#770,#6e0,#640,#5a0,#510,#480,#410,#3b0,#370,#350,#330,#330,#340,#360,#3a0,#3f0,#450,#4c0,#520,#590,#5f0,#640,#680,#6b0)"></i><i style="background:linear-gradient(90deg,#840,#860,#880,#890,#8a0,#8b0,#8b0,#8b0,#8a0,#890,#880,#860,#840,#810,#7e0,#7b0,#760,#710,#6b0,#630,#5b0,#510,#470,#3d0,#340,#2c0,#260,#220,#200,#200,#210,#250,#2a0,#310,#3a0,#450,#500,#5c0,#670,#710,#7a0,#830,#8c0,#940,#9c0,#a40,#ab0,#b30,#ba0,#c00,#c60,#cb0,#cf0,#d20,#d40,#d60,#d60,#d60,#d60,#d40,#d20,#cf0,#cc0,#c70,#c10,#ba0,#b30,#ac0,#a40,#9c0,#940,#8b0,#830,#7a0,#710,#680,#5f0,#560,#4f0,#480,#420,#3e0,#3b0,#3a0,#3a0,#3b0,#3d0,#410,#460,#4b0,#510,#570,#5d0,#620,#660,#690,#6c0)"></i><i style="background:linear-gradient(90deg,#7e0,#800,#810,#820,#830,#840,#840,#840,#830,#820,#810,#800,#7e0,#7c0,#7a0,#770,#740,#700,#6b0,#640,#5d0,#550,#4c0,#440,#3b0,#340,#2f0,#2b0,#280,#280,#2a0,#2d0,#320,#3a0,#420,#4c0,#560,#600,#6a0,#730,#7c0,#840,#8c0,#930,#9b0,#a20,#aa0,#b10,#b80,#be0,#c40,#c90,#cd0,#d00,#d30,#d40,#d50,#d50,#d40,#d30,#d10,#ce0,#ca0,#c50,#bf0,#b90,#b20,#aa0,#a30,#9b0,#940,#8c0,#850,#7e0,#760,#6f0,#680,#610,#5b0,#560,#510,#4e0,#4b0,#4a0,#4a0,#4b0,#4d0,#500,#540,#580,#5c0,#600,#640,#670,#6a0,#6c0,#6e0)"></i><i style="background:linear-gradient(90deg,#790,#7b0,#7b0,#7c0,#7d0,#7d0,#7d0,#7d0,#7d0,#7c0,#7b0,#7b0,#790,#780,#760,#750,#720,#6f0,#6c0,#670,#620,#5c0,#550,#4e0,#470,#410,#3c0,#390,#370,#360,#380,#3b0,#400,#460,#4d0,#550,#5d0,#660,#6e0,#750,#7c0,#830,#8a0,#910,#980,#9f0,#a60,#ac0,#b30,#b90,#bf0,#c40,#c80,#cb0,#ce0,#cf0,#d00,#d00,#d00,#ce0,#cc0,#c90,#c40,#c00,#ba0,#b40,#ad0,#a70,#a00,#990,#920,#8c0,#860,#800,#7a0,#750,#700,#6c0,#680,#640,#610,#5f0,#5d0,#5d0,#5c0,#5d0,#5e0,#600,#620,#640,#660,#690,#6a0,#6c0,#6d0,#6e0,#6f0)"></i><i style="background:linear-gradient(90deg,#760,#760,#770,#770,#780,#780,#780,#780,#780,#770,#770,#760,#760,#750,#740,#730,#710,#6f0,#6d0,#6a0,#670,#630,#5e0,#590,#540,#500,#4c0,#4a0,#480,#480,#490,#4c0,#4f0,#540,#590,#5f0,#650,#6b0,#710,#770,#7c0,#820,#870,#8d0,#930,#990,#a00,#a60,#ac0,#b20,#b70,#bc0,#c00,#c30,#c60,#c70,#c80,#c80,#c80,#c60,#c40,#c00,#bc0,#b80,#b20,#ad0,#a70,#a00,#9a0,#940,#8e0,#890,#840,#800,#7c0,#780,#750,#720,#700,#6e0,#6c0,#6b0,#6a0,#690,#690,#690,#6a0,#6a0,#6b0,#6c0,#6d0,#6e0,#6e0,#6f0,#6f0,#700,#700)"></i><i style="background:linear-gradient(90deg,#730,#740,#740,#740,#740,#740,#750,#740,#740,#740,#740,#740,#730,#730,#720,#720,#710,#700,#6f0,#6d0,#6b0,#690,#660,#630,#600,#5d0,#5b0,#590,#580,#580,#590,#5b0,#5d0,#600,#640,#670,#6b0,#6f0,#730,#770,#7b0,#7f0,#840,#890,#8e0,#930,#980,#9e0,#a30,#a80,#ad0,#b10,#b50,#b80,#bb0,#bc0,#bd0,#bd0,#bc0,#bb0,#b80,#b50,#b20,#ad0,#a90,#a40,#9e0,#990,#940,#8e0,#8a0,#850,#810,#7d0,#7a0,#780,#760,#740,#720,#710,#700,#700,#6f0,#6f0,#6f0,#6f0,#6f0,#6f0,#6f0,#6f0,#6f0,#700,#700,#700,#700,#700,#700)"></i><i style="background:linear-gradient(90deg,#720,#720,#720,#720,#720,#720,#720,#720,#720,#720,#720,#720,#720,#710,#710,#710,#700,#700,#6f0,#6f0,#6e0,#6d0,#6b0,#6a0,#680,#670,#660,#650,#640,#640,#640,#650,#670,#690,#6b0,#6d0,#6f0,#710,#740,#770,#790,#7c0,#800,#830,#870,#8c0,#900,#950,#990,#9d0,#a10,#a50,#a90,#ab0,#ad0,#af0,#b00,#b00,#af0,#ae0,#ac0,#a90,#a60,#a20,#9e0,#9a0,#950,#910,#8c0,#880,#840,#810,#7d0,#7b0,#780,#760,#750,#730,#720,#720,#710,#710,#700,#700,#700,#700,#700,#700,#700,#700,#700,#700,#700,#700,#700,#700,#700)"></i><i style="background:linear-gradient(90deg,#710,#710,#710,#710,#710,#710,#710,#710,#710,#710,#710,#710,#710,#710,#710,#700,#700,#700,#700,#700,#6f0,#6f0,#6e0,#6e0,#6d0,#6c0,#6c0,#6b0,#6b0,#6b0,#6b0,#6c0,#6c0,#6d0,#6e0,#6f0,#710,#720,#740,#750,#770,#790,#7c0,#7f0,#810,#850,#880,#8c0,#8f0,#930,#960,#990,#9c0,#9e0,#a00,#a10,#a20,#a20,#a10,#a00,#9e0,#9c0,#990,#960,#930,#900,#8c0,#890,#850,#820,#7f0,#7c0,#7a0,#780,#760,#750,#740,#730,#720,#710,#710,#710,#710,#700,#700,#700,#700,#700,#700,#700,#700,#700,#700,#700,#700,#700,#700)"></i><i style="background:linear-gradient(90deg,#700,#700,#700,#710,#710,#710,#710,#710,#710,#710,#700,#700,#700,#700,#700,#700,#700,#700,#700,#700,#700,#700,#700,#6f0,#6f0,#6f0,#6f0,#6f0,#6e0,#6e0,#6f0,#6f0,#6f0,#6f0,#700,#700,#710,#720,#730,#740,#750,#770,#780,#7a0,#7c0,#7f0,#810,#840,#860,#890,#8b0,#8e0,#900,#910,#930,#940,#940,#940,#940,#930,#920,#900,#8e0,#8c0,#890,#870,#840,#810,#7f0,#7d0,#7a0,#790,#770,#750,#740,#730,#720,#720,#710,#710,#710,#710,#700,#700,#700,#700,#700,#700,#700,#700,#700,#700,#700,#700,#700,#700,#700)"></i><i style="background:linear-gradient(90deg,#700,#700,#700,#700,#700,#700,#700,#700,#700,#700,#700,#700,#700,#700,#700,#700,#700,#700,#700,#700,#700,#700,#700,#700,#6f0,#6f0,#6f0,#6f0,#6f0,#6f0,#6f0,#6f0,#6f0,#700,#700,#710,#710,#720,#730,#740,#750,#760,#770,#790,#7b0,#7d0,#7f0,#820,#840,#870,#890,#8b0,#8d0,#8e0,#900,#910,#910,#910,#910,#900,#8f0,#8d0,#8b0,#890,#870,#850,#820,#800,#7d0,#7b0,#790,#780,#760,#750,#740,#730,#720,#720,#710,#710,#710,#710,#700,#700,#700,#700,#700,#700,#700,#700,#700,#700,#700,#700,#700,#700,#700)"></i><i style="background:linear-gradient(90deg,#700,#700,#700,#700,#700,#700,#700,#700,#700,#700,#700,#700,#700,#700,#700,#700,#700,#700,#700,#700,#700,#700,#700,#700,#6f0,#6f0,#6f0,#6f0,#6f0,#6f0,#6f0,#6f0,#6f0,#700,#700,#710,#710,#720,#730,#740,#750,#760,#770,#790,#7b0,#7d0,#7f0,#820,#840,#870,#890,#8b0,#8d0,#8e0,#900,#910,#910,#910,#910,#900,#8f0,#8d0,#8b0,#890,#870,#850,#820,#800,#7d0,#7b0,#790,#780,#760,#750,#740,#730,#720,#720,#710,#710,#710,#710,#700,#700,#700,#700,#700,#700,#700,#700,#700,#700,#700,#700,#700,#700,#700)"></i></div></div><div class="cb" style="left:1063.9px;top:127.5px"></div><div class="hm" style="left:1421.5px;top:127.5px"><div class="f f2" style="top:-5.1016px"><i style="background:linear-gradient(90deg,#830,#840,#850,#860,#870,#870,#880,#880,#890,#890,#890,#8a0,#8a0,#8b0,#8b0,#8c0,#8d0,#8f0,#900,#920,#940,#960,#980,#9a0,#9b0,#9d0,#9e0,#9e0,#9f0,#9f0,#9e0,#9d0,#9c0,#9a0,#980,#950,#920,#8f0,#8c0,#890,#860,#840,#810,#7f0,#7d0,#7b0,#7a0,#790,#780,#770,#770,#760,#760,#750,#750,#750,#750,#750,#750,#750,#750,#750,#750,#750,#750,#750,#760,#760,#760,#770,#780,#790,#7a0,#7b0,#7c0,#7e0,#7f0,#810,#820,#840,#860,#880,#890,#8b0,#8c0,#8d0,#8e0,#8f0,#900,#900,#900,#900,#900,#900,#900,#8f0,#8e0)"></i><i style="background:linear-gradient(90deg,#830,#840,#850,#860,#870,#870,#880,#880,#890,#890,#890,#8a0,#8a0,#8b0,#8b0,#8c0,#8d0,#8f0,#900,#920,#940,#960,#980,#9a0,#9b0,#9d0,#9e0,#9e0,#9f0,#9f0,#9e0,#9d0,#9c0,#9a0,#980,#950,#920,#8f0,#8c0,#890,#860,#840,#810,#7f0,#7d0,#7b0,#7a0,#790,#780,#770,#770,#760,#760,#750,#750,#750,#750,#750,#750,#750,#750,#750,#750,#750,#750,#750,#760,#760,#760,#770,#780,#790,#7a0,#7b0,#7c0,#7e0,#7f0,#810,#820,#840,#860,#880,#890,#8b0,#8c0,#8d0,#8e0,#8f0,#900,#900,#900,#900,#900,#900,#900,#8f0,#8e0)"></i><i style="background:linear-gradient(90deg,#830,#840,#850,#860,#870,#870,#880,#880,#890,#890,#890,#8a0,#8a0,#8b0,#8b0,#8c0,#8d0,#8f0,#900,#920,#940,#960,#980,#9a0,#9b0,#9d0,#9e0,#9e0,#9f0,#9f0,#9e0,#9d0,#9c0,#9a0,#980,#950,#920,#8f0,#8c0,#890,#860,#840,#810,#7f0,#7d0,#7b0,#7a0,#790,#780,#770,#770,#760,#760,#750,#750,#750,#750,#750,#750,#750,#750,#750,#750,#750,#750,#750,#760,#760,#760,#770,#780,#790,#7a0,#7b0,#7c0,#7e0,#7f0,#810,#820,#840,#860,#880,#890,#8b0,#8c0,#8d0,#8e0,#8f0,#900,#900,#900,#900,#900,#900,#900,#8f0,#8e0)"></i><i style="background:linear-gradient(90deg,#840,#850,#860,#870,#880,#890,#890,#8a0,#8a0,#8b0,#8b0,#8c0,#8d0,#8d0,#8e0,#8f0,#910,#920,#940,#960,#980,#9a0,#9c0,#9e0,#a00,#a10,#a20,#a30,#a30,#a30,#a30,#a20,#a00,#9e0,#9c0,#990,#960,#930,#900,#8c0,#890,#860,#830,#810,#7e0,#7c0,#7b0,#790,#780,#770,#770,#760,#750,#750,#750,#750,#740,#740,#740,#740,#740,#740,#740,#740,#740,#750,#750,#750,#760,#770,#770,#780,#790,#7b0,#7c0,#7e0,#7f0,#810,#830,#840,#860,#880,#8a0,#8b0,#8d0,#8e0,#8f0,#900,#900,#910,#910,#910,#910,#910,#900,#900,#8f0)"></i><i style="background:linear-gradient(90deg,#850,#860,#870,#880,#890,#8a0,#8b0,#8c0,#8c0,#8d0,#8e0,#8e0,#8f0,#900,#910,#930,#940,#960,#980,#9a0,#9c0,#9e0,#a10,#a20,#a40,#a60,#a70,#a70,#a80,#a70,#a70,#a60,#a40,#a20,#a00,#9d0,#9a0,#970,#930,#8f0,#8c0,#890,#850,#820,#800,#7e0,#7c0,#7a0,#790,#770,#760,#760,#750,#740,#740,#740,#730,#730,#730,#730,#730,#730,#730,#730,#730,#730,#740,#740,#750,#760,#770,#780,#790,#7a0,#7c0,#7d0,#7f0,#810,#830,#850,#860,#880,#8a0,#8b0,#8d0,#8e0,#8f0,#900,#900,#910,#910,#910,#910,#910,#900,#900,#8f0)"></i><i style="background:linear-gradient(90deg,#860,#870,#880,#890,#8a0,#8b0,#8c0,#8d0,#8e0,#8f0,#900,#910,#920,#930,#940,#960,#970,#990,#9c0,#9e0,#a00,#a20,#a40,#a60,#a80,#a90,#aa0,#ab0,#ab0,#ab0,#ab0,#aa0,#a80,#a60,#a40,#a10,#9d0,#9a0,#960,#920,#8e0,#8b0,#870,#840,#810,#7e0,#7c0,#7a0,#790,#770,#760,#750,#740,#730,#730,#720,#720,#720,#710,#710,#710,#710,#710,#710,#720,#720,#720,#730,#740,#740,#750,#770,#780,#790,#7b0,#7d0,#7f0,#800,#820,#840,#860,#880,#8a0,#8b0,#8d0,#8e0,#8f0,#900,#900,#910,#910,#910,#910,#910,#910,#900,#8f0)"></i><i style="background:linear-gradient(90deg,#860,#880,#890,#8a0,#8b0,#8c0,#8e0,#8f0,#900,#910,#920,#930,#940,#950,#970,#980,#9a0,#9c0,#9f0,#a10,#a40,#a60,#a80,#aa0,#ac0,#ad0,#ae0,#ae0,#af0,#ae0,#ae0,#ad0,#ab0,#a90,#a70,#a40,#a00,#9d0,#990,#950,#910,#8d0,#890,#850,#820,#7f0,#7d0,#7a0,#780,#770,#750,#740,#730,#720,#710,#710,#700,#700,#6f0,#6f0,#6f0,#6f0,#6f0,#6f0,#6f0,#700,#700,#710,#720,#730,#740,#750,#760,#780,#7a0,#7c0,#7e0,#800,#820,#840,#860,#880,#8a0,#8b0,#8d0,#8e0,#8f0,#900,#900,#910,#910,#910,#910,#910,#910,#900,#8f0)"></i><i style="background:linear-gradient(90deg,#870,#890,#8a0,#8b0,#8c0,#8e0,#8f0,#900,#910,#920,#930,#940,#960,#970,#990,#9b0,#9d0,#9f0,#a20,#a40,#a70,#a90,#ab0,#ad0,#af0,#b00,#b10,#b10,#b10,#b10,#b10,#b00,#ae0,#ac0,#aa0,#a70,#a30,#9f0,#9b0,#970,#930,#8f0,#8b0,#870,#830,#800,#7d0,#7a0,#780,#760,#740,#720,#710,#700,#6f0,#6e0,#6e0,#6d0,#6d0,#6d0,#6c0,#6c0,#6c0,#6c0,#6d0,#6d0,#6e0,#6e0,#6f0,#700,#710,#730,#740,#760,#780,#7a0,#7c0,#7e0,#810,#830,#850,#870,#890,#8b0,#8c0,#8d0,#8f0,#8f0,#900,#900,#910,#910,#910,#910,#900,#900,#8f0)"></i><i style="background:linear-gradient(90deg,#880,#890,#8b0,#8c0,#8d0,#8f0,#900,#910,#920,#930,#950,#960,#970,#990,#9b0,#9d0,#9f0,#a20,#a40,#a70,#a90,#ac0,#ae0,#b00,#b10,#b20,#b30,#b40,#b40,#b40,#b30,#b20,#b00,#ae0,#ac0,#a90,#a60,#a20,#9e0,#990,#950,#900,#8c0,#880,#840,#800,#7c0,#790,#770,#740,#720,#700,#6f0,#6d0,#6c0,#6b0,#6b0,#6a0,#6a0,#690,#690,#690,#690,#690,#6a0,#6a0,#6b0,#6b0,#6c0,#6d0,#6f0,#700,#720,#740,#760,#780,#7a0,#7d0,#7f0,#810,#840,#860,#880,#8a0,#8b0,#8d0,#8e0,#8f0,#8f0,#900,#900,#900,#900,#900,#900,#900,#8f0)"></i><i style="background:linear-gradient(90deg,#880,#8a0,#8b0,#8d0,#8e0,#8f0,#910,#920,#930,#940,#960,#970,#990,#9a0,#9c0,#9f0,#a10,#a40,#a60,#a90,#ab0,#ae0,#b00,#b20,#b30,#b40,#b50,#b60,#b60,#b50,#b50,#b40,#b20,#b00,#ae0,#ab0,#a70,#a40,#9f0,#9b0,#960,#910,#8d0,#880,#840,#800,#7c0,#780,#750,#720,#700,#6e0,#6c0,#6a0,#690,#680,#670,#660,#660,#660,#650,#650,#650,#650,#660,#660,#670,#680,#690,#6a0,#6b0,#6d0,#6f0,#710,#730,#760,#780,#7b0,#7d0,#7f0,#820,#840,#860,#880,#8a0,#8b0,#8d0,#8e0,#8e0,#8f0,#900,#900,#900,#900,#900,#8f0,#8e0)"></i><i style="background:linear-gradient(90deg,#880,#8a0,#8c0,#8d0,#8f0,#900,#910,#930,#940,#950,#970,#980,#9a0,#9c0,#9e0,#a00,#a30,#a50,#a80,#aa0,#ad0,#af0,#b20,#b30,#b50,#b60,#b70,#b70,#b70,#b70,#b60,#b50,#b40,#b20,#af0,#ac0,#a90,#a50,#a10,#9c0,#970,#920,#8d0,#890,#840,#7f0,#7b0,#770,#730,#700,#6d0,#6a0,#680,#660,#650,#640,#630,#620,#610,#610,#610,#610,#610,#610,#610,#620,#620,#630,#640,#660,#670,#690,#6b0,#6e0,#700,#730,#750,#780,#7a0,#7d0,#7f0,#820,#840,#860,#880,#890,#8b0,#8c0,#8d0,#8e0,#8e0,#8f0,#8f0,#8f0,#8f0,#8e0,#8e0)"></i><i style="background:linear-gradient(90deg,#890,#8a0,#8c0,#8d0,#8f0,#900,#920,#930,#940,#960,#970,#990,#9a0,#9c0,#9f0,#a10,#a40,#a60,#a90,#ac0,#ae0,#b10,#b30,#b50,#b60,#b70,#b80,#b80,#b80,#b80,#b70,#b60,#b50,#b30,#b10,#ae0,#aa0,#a60,#a20,#9d0,#980,#930,#8e0,#890,#840,#7f0,#7a0,#750,#710,#6d0,#690,#660,#640,#620,#600,#5f0,#5e0,#5d0,#5c0,#5c0,#5b0,#5b0,#5b0,#5b0,#5c0,#5c0,#5d0,#5e0,#5f0,#610,#630,#650,#670,#6a0,#6c0,#6f0,#720,#740,#770,#7a0,#7c0,#7f0,#810,#830,#850,#870,#890,#8a0,#8b0,#8c0,#8d0,#8e0,#8e0,#8e0,#8e0,#8d0,#8d0)"></i><i style="background:linear-gradient(90deg,#890,#8a0,#8c0,#8e0,#8f0,#910,#920,#930,#950,#960,#970,#990,#9b0,#9d0,#9f0,#a20,#a40,#a70,#aa0,#ac0,#af0,#b20,#b40,#b50,#b70,#b80,#b90,#b90,#b90,#b80,#b80,#b70,#b60,#b40,#b10,#ae0,#ab0,#a70,#a20,#9e0,#990,#930,#8e0,#890,#830,#7e0,#780,#730,#6e0,#690,#650,#610,#5e0,#5c0,#5a0,#580,#570,#560,#560,#550,#550,#550,#550,#550,#550,#560,#570,#580,#5a0,#5b0,#5d0,#600,#620,#650,#670,#6a0,#6d0,#700,#730,#760,#790,#7b0,#7e0,#800,#820,#840,#860,#880,#890,#8a0,#8b0,#8c0,#8c0,#8d0,#8d0,#8c0,#8c0)"></i><i style="background:linear-gradient(90deg,#890,#8a0,#8c0,#8e0,#8f0,#910,#920,#930,#950,#960,#970,#990,#9b0,#9d0,#9f0,#a20,#a40,#a70,#aa0,#ad0,#af0,#b20,#b40,#b60,#b70,#b80,#b90,#b90,#b90,#b90,#b80,#b70,#b60,#b40,#b20,#af0,#ab0,#a70,#a30,#9e0,#990,#930,#8e0,#880,#830,#7d0,#770,#710,#6b0,#650,#5f0,#5b0,#570,#540,#520,#500,#4f0,#4e0,#4d0,#4d0,#4d0,#4d0,#4d0,#4d0,#4e0,#4e0,#4f0,#510,#520,#540,#570,#590,#5c0,#5f0,#620,#650,#680,#6b0,#6e0,#710,#740,#770,#790,#7c0,#7e0,#810,#830,#840,#860,#880,#890,#8a0,#8a0,#8b0,#8b0,#8b0,#8a0)"></i><i style="background:linear-gradient(90deg,#880,#8a0,#8c0,#8d0,#8f0,#900,#920,#930,#940,#960,#970,#990,#9b0,#9d0,#9f0,#a20,#a40,#a70,#aa0,#ad0,#af0,#b20,#b40,#b60,#b70,#b80,#b90,#b90,#b90,#b80,#b80,#b70,#b60,#b40,#b10,#af0,#ab0,#a70,#a30,#9e0,#990,#930,#8e0,#880,#820,#7c0,#760,#6f0,#680,#610,#5a0,#530,#4d0,#490,#460,#440,#430,#3c0,#2c0,#270,#240,#220,#200,#1e0,#1d0,#1c0,#1c0,#1d0,#1f0,#230,#290,#440,#540,#580,#5b0,#5e0,#610,#650,#680,#6b0,#6e0,#710,#740,#770,#7a0,#7c0,#7e0,#810,#830,#840,#860,#870,#880,#890,#890,#890,#890)"></i><i style="background:linear-gradient(90deg,#880,#8a0,#8b0,#8d0,#8e0,#900,#910,#930,#940,#950,#970,#980,#9a0,#9c0,#9f0,#a10,#a40,#a60,#a90,#ac0,#af0,#b10,#b30,#b50,#b70,#b80,#b80,#b80,#b80,#b80,#b70,#b70,#b50,#b30,#b10,#ae0,#aa0,#a60,#a20,#9d0,#980,#930,#8d0,#880,#820,#7c0,#760,#6f0,#680,#610,#5b0,#550,#510,#4f0,#4f0,#500,#510,#530,#550,#570,#590,#5b0,#5c0,#240,#1d0,#180,#160,#170,#190,#1c0,#200,#250,#2b0,#310,#470,#550,#580,#5b0,#5f0,#620,#660,#690,#6d0,#700,#730,#760,#790,#7c0,#7f0,#810,#830,#840,#860,#870,#870,#870,#870)"></i><i style="background:linear-gradient(90deg,#870,#890,#8b0,#8c0,#8e0,#8f0,#910,#920,#930,#950,#960,#980,#990,#9b0,#9e0,#a00,#a30,#a50,#a80,#ab0,#ae0,#b00,#b20,#b40,#b60,#b70,#b70,#b80,#b80,#b70,#b70,#b60,#b40,#b20,#b00,#ad0,#aa0,#a60,#a10,#9c0,#970,#920,#8d0,#870,#820,#7c0,#760,#710,#6b0,#660,#620,#5f0,#5d0,#5c0,#5c0,#5d0,#5f0,#600,#620,#640,#650,#670,#680,#690,#6a0,#6b0,#6b0,#6c0,#6b0,#6b0,#6a0,#680,#660,#640,#610,#5d0,#570,#4c0,#4e0,#520,#570,#5d0,#630,#670,#6c0,#700,#730,#770,#7a0,#7d0,#7f0,#820,#830,#840,#850,#850,#850)"></i><i style="background:linear-gradient(90deg,#870,#880,#8a0,#8c0,#8d0,#8e0,#900,#910,#920,#940,#950,#960,#980,#9a0,#9c0,#9f0,#a10,#a40,#a70,#a90,#ac0,#af0,#b10,#b30,#b40,#b50,#b60,#b60,#b60,#b60,#b50,#b40,#b30,#b10,#af0,#ac0,#a80,#a40,#a00,#9b0,#960,#910,#8c0,#870,#820,#7d0,#780,#730,#6f0,#6b0,#680,#670,#660,#660,#660,#670,#690,#6a0,#6c0,#6e0,#6f0,#710,#720,#740,#750,#750,#760,#760,#760,#750,#740,#730,#720,#700,#6e0,#6c0,#690,#660,#630,#600,#5d0,#5d0,#5f0,#630,#670,#6b0,#6f0,#730,#760,#7a0,#7c0,#7f0,#800,#820,#830,#830,#830)"></i><i style="background:linear-gradient(90deg,#860,#880,#890,#8b0,#8c0,#8d0,#8f0,#900,#910,#920,#940,#950,#970,#990,#9b0,#9d0,#9f0,#a20,#a50,#a70,#aa0,#ad0,#af0,#b10,#b20,#b30,#b40,#b50,#b50,#b40,#b40,#b30,#b10,#af0,#ad0,#aa0,#a60,#a30,#9e0,#9a0,#950,#900,#8b0,#870,#820,#7d0,#790,#750,#720,#700,#6e0,#6d0,#6d0,#6d0,#6e0,#700,#710,#730,#750,#770,#780,#7a0,#7b0,#7d0,#7e0,#7e0,#7f0,#7f0,#7f0,#7f0,#7e0,#7d0,#7c0,#7a0,#780,#770,#740,#720,#700,#6e0,#6c0,#6a0,#690,#690,#6a0,#6c0,#6f0,#720,#750,#780,#7a0,#7c0,#7e0,#800,#800,#810,#810)"></i><i style="background:linear-gradient(90deg,#850,#870,#880,#890,#8b0,#8c0,#8d0,#8e0,#8f0,#910,#920,#930,#950,#970,#990,#9b0,#9d0,#a00,#a20,#a50,#a80,#aa0,#ac0,#ae0,#b00,#b10,#b20,#b20,#b30,#b20,#b20,#b10,#af0,#ad0,#ab0,#a80,#a40,#a00,#9c0,#980,#930,#8f0,#8a0,#860,#820,#7e0,#7b0,#780,#760,#740,#730,#730,#730,#740,#750,#770,#790,#7b0,#7d0,#7f0,#810,#820,#840,#850,#860,#870,#880,#880,#880,#870,#870,#860,#850,#830,#820,#800,#7e0,#7c0,#790,#770,#750,#730,#720,#710,#700,#710,#720,#730,#750,#770,#790,#7b0,#7c0,#7e0,#7e0,#7f0,#7f0)"></i><i style="background:linear-gradient(90deg,#840,#850,#870,#880,#890,#8a0,#8c0,#8d0,#8e0,#8f0,#900,#910,#930,#940,#960,#980,#9b0,#9d0,#a00,#a20,#a50,#a70,#a90,#ab0,#ad0,#ae0,#af0,#b00,#b00,#b00,#af0,#ae0,#ac0,#aa0,#a80,#a50,#a20,#9e0,#9a0,#960,#920,#8d0,#890,#850,#820,#7f0,#7c0,#7a0,#790,#780,#780,#780,#790,#7a0,#7c0,#7e0,#800,#820,#840,#870,#890,#8b0,#8c0,#8e0,#8f0,#900,#900,#900,#900,#900,#8f0,#8e0,#8d0,#8c0,#8a0,#880,#860,#840,#810,#7f0,#7d0,#7b0,#790,#770,#760,#750,#750,#750,#760,#770,#790,#7a0,#7b0,#7c0,#7c0,#7d0,#7d0)"></i><i style="background:linear-gradient(90deg,#830,#840,#850,#870,#880,#890,#8a0,#8b0,#8c0,#8d0,#8e0,#8f0,#900,#920,#930,#950,#980,#9a0,#9c0,#9f0,#a10,#a40,#a60,#a80,#aa0,#ab0,#ac0,#ad0,#ad0,#ad0,#ac0,#ab0,#a90,#a70,#a50,#a20,#9f0,#9b0,#970,#930,#8f0,#8c0,#880,#850,#820,#7f0,#7d0,#7c0,#7c0,#7b0,#7c0,#7d0,#7e0,#800,#820,#850,#870,#890,#8c0,#8e0,#900,#920,#940,#960,#970,#980,#980,#990,#990,#980,#980,#970,#950,#940,#920,#900,#8e0,#8b0,#890,#860,#830,#810,#7e0,#7c0,#7a0,#790,#780,#780,#780,#780,#780,#790,#7a0,#7a0,#7a0,#7b0,#7b0)"></i><i style="background:linear-gradient(90deg,#820,#830,#840,#850,#860,#870,#880,#890,#8a0,#8a0,#8b0,#8c0,#8e0,#8f0,#910,#920,#940,#970,#990,#9b0,#9e0,#a00,#a20,#a40,#a60,#a70,#a80,#a90,#a90,#a90,#a80,#a70,#a60,#a40,#a10,#9e0,#9b0,#980,#940,#910,#8d0,#8a0,#860,#840,#820,#800,#7f0,#7e0,#7e0,#7f0,#800,#820,#840,#860,#880,#8b0,#8e0,#910,#930,#960,#980,#9b0,#9c0,#9e0,#9f0,#a00,#a10,#a10,#a10,#a10,#a00,#9f0,#9e0,#9c0,#9a0,#980,#950,#930,#900,#8d0,#8a0,#870,#840,#810,#7f0,#7d0,#7b0,#7a0,#790,#790,#780,#780,#780,#790,#790,#790,#790)"></i><i style="background:linear-gradient(90deg,#800,#810,#820,#830,#840,#850,#860,#870,#870,#880,#890,#8a0,#8b0,#8c0,#8d0,#8f0,#910,#930,#950,#970,#9a0,#9c0,#9e0,#a00,#a20,#a30,#a40,#a50,#a50,#a50,#a40,#a30,#a20,#a00,#9d0,#9b0,#970,#940,#910,#8e0,#8a0,#870,#850,#830,#810,#800,#800,#800,#810,#820,#840,#860,#890,#8c0,#8f0,#920,#950,#980,#9b0,#9e0,#a00,#a30,#a50,#a70,#a80,#a90,#aa0,#aa0,#aa0,#aa0,#a90,#a80,#a60,#a40,#a20,#a00,#9d0,#9a0,#970,#930,#900,#8c0,#890,#850,#820,#800,#7e0,#7c0,#7a0,#790,#780,#780,#770,#770,#770,#770,#760)"></i><i style="background:linear-gradient(90deg,#7f0,#800,#810,#810,#820,#830,#840,#840,#850,#850,#860,#870,#870,#890,#8a0,#8b0,#8d0,#8f0,#910,#930,#950,#980,#9a0,#9c0,#9d0,#9f0,#a00,#a00,#a00,#a00,#a00,#9f0,#9d0,#9b0,#990,#960,#930,#900,#8d0,#8a0,#880,#850,#830,#820,#810,#810,#820,#830,#840,#860,#890,#8c0,#8f0,#920,#950,#990,#9c0,#a00,#a30,#a60,#a90,#ab0,#ad0,#af0,#b10,#b20,#b20,#b30,#b30,#b20,#b10,#b00,#af0,#ad0,#aa0,#a80,#a50,#a10,#9e0,#9a0,#960,#920,#8e0,#8a0,#860,#830,#800,#7e0,#7b0,#7a0,#780,#770,#760,#760,#750,#750,#740)"></i><i style="background:linear-gradient(90deg,#7d0,#7e0,#7f0,#7f0,#800,#810,#810,#810,#820,#820,#830,#830,#840,#850,#860,#870,#890,#8b0,#8c0,#8e0,#910,#930,#950,#970,#980,#9a0,#9b0,#9b0,#9b0,#9b0,#9b0,#990,#980,#960,#940,#910,#8f0,#8c0,#890,#870,#850,#830,#820,#810,#810,#820,#830,#850,#870,#8a0,#8d0,#910,#950,#980,#9c0,#a00,#a40,#a70,#ab0,#ae0,#b10,#b30,#b50,#b70,#b90,#ba0,#ba0,#bb0,#bb0,#ba0,#ba0,#b80,#b70,#b50,#b20,#af0,#ac0,#a90,#a50,#a10,#9c0,#980,#930,#8f0,#8a0,#860,#830,#7f0,#7d0,#7a0,#780,#770,#750,#740,#740,#730,#720)"></i><i style="background:linear-gradient(90deg,#7c0,#7c0,#7d0,#7d0,#7e0,#7e0,#7e0,#7f0,#7f0,#7f0,#7f0,#800,#800,#810,#820,#830,#850,#860,#880,#8a0,#8c0,#8e0,#8f0,#910,#930,#940,#950,#960,#960,#960,#950,#940,#930,#910,#8f0,#8c0,#8a0,#880,#860,#840,#820,#810,#810,#810,#820,#830,#850,#880,#8b0,#8e0,#920,#960,#9a0,#9f0,#a30,#a70,#ab0,#ae0,#b20,#b50,#b80,#bb0,#bd0,#bf0,#c00,#c10,#c20,#c20,#c20,#c20,#c10,#c00,#be0,#bc0,#ba0,#b70,#b30,#b00,#ac0,#a70,#a20,#9d0,#980,#930,#8e0,#8a0,#860,#820,#7e0,#7b0,#790,#770,#750,#730,#720,#710,#710)"></i><i style="background:linear-gradient(90deg,#7a0,#7a0,#7b0,#7b0,#7b0,#7b0,#7b0,#7c0,#7c0,#7c0,#7c0,#7c0,#7d0,#7d0,#7e0,#7f0,#800,#810,#830,#850,#860,#880,#8a0,#8c0,#8d0,#8e0,#8f0,#900,#900,#900,#8f0,#8e0,#8d0,#8b0,#890,#870,#850,#830,#820,#800,#7f0,#7f0,#800,#810,#820,#850,#870,#8b0,#8f0,#930,#970,#9b0,#a00,#a40,#a90,#ad0,#b10,#b50,#b90,#bc0,#bf0,#c10,#c30,#c50,#c70,#c80,#c80,#c90,#c90,#c80,#c80,#c60,#c50,#c30,#c00,#bd0,#ba0,#b60,#b20,#ad0,#a80,#a30,#9e0,#980,#930,#8e0,#890,#840,#800,#7d0,#790,#770,#750,#730,#710,#700,#6f0)"></i><i style="background:linear-gradient(90deg,#780,#780,#780,#780,#780,#780,#780,#780,#780,#780,#780,#780,#780,#790,#790,#7a0,#7b0,#7c0,#7e0,#7f0,#810,#820,#840,#860,#870,#880,#890,#890,#890,#890,#890,#880,#860,#850,#830,#820,#800,#7f0,#7e0,#7d0,#7d0,#7e0,#7f0,#810,#830,#860,#8a0,#8e0,#920,#970,#9b0,#a00,#a50,#aa0,#ae0,#b30,#b70,#bb0,#be0,#c20,#c50,#c70,#c90,#cb0,#cc0,#ce0,#ce0,#cf0,#cf0,#ce0,#cd0,#cc0,#cb0,#c90,#c60,#c30,#c00,#bc0,#b80,#b30,#ae0,#a80,#a30,#9d0,#970,#910,#8c0,#870,#820,#7e0,#7b0,#770,#750,#730,#710,#6f0,#6e0)"></i><i style="background:linear-gradient(90deg,#760,#760,#760,#750,#750,#750,#750,#740,#740,#740,#740,#740,#740,#740,#740,#750,#760,#770,#780,#790,#7b0,#7c0,#7e0,#7f0,#800,#810,#820,#830,#830,#820,#820,#810,#800,#7f0,#7d0,#7c0,#7b0,#7a0,#7a0,#7a0,#7b0,#7c0,#7e0,#810,#840,#880,#8c0,#900,#950,#9a0,#9f0,#a50,#aa0,#af0,#b30,#b80,#bc0,#c00,#c40,#c70,#ca0,#cc0,#ce0,#d00,#d10,#d20,#d30,#d30,#d30,#d30,#d20,#d10,#d00,#ce0,#cb0,#c80,#c50,#c10,#bd0,#b80,#b20,#ad0,#a70,#a10,#9b0,#950,#8f0,#8a0,#850,#800,#7c0,#780,#750,#730,#710,#6f0,#6e0)"></i><i style="background:linear-gradient(90deg,#730,#730,#730,#720,#720,#710,#710,#700,#700,#6f0,#6f0,#6f0,#6e0,#6e0,#6f0,#6f0,#700,#710,#720,#730,#740,#760,#770,#780,#790,#7a0,#7b0,#7b0,#7c0,#7b0,#7b0,#7a0,#790,#780,#770,#770,#760,#760,#760,#770,#790,#7b0,#7e0,#810,#850,#890,#8e0,#930,#980,#9e0,#a30,#a80,#ae0,#b30,#b80,#bc0,#c00,#c40,#c80,#cb0,#ce0,#d10,#d30,#d40,#d60,#d70,#d70,#d80,#d80,#d70,#d60,#d50,#d40,#d20,#cf0,#cd0,#c90,#c50,#c10,#bc0,#b70,#b10,#ab0,#a50,#9e0,#980,#920,#8c0,#870,#820,#7e0,#7a0,#760,#730,#710,#6f0,#6e0)"></i><i style="background:linear-gradient(90deg,#710,#700,#6f0,#6f0,#6e0,#6d0,#6c0,#6b0,#6b0,#6a0,#690,#690,#690,#690,#690,#690,#690,#6a0,#6b0,#6c0,#6d0,#6f0,#700,#710,#720,#730,#740,#740,#740,#740,#740,#730,#730,#720,#720,#710,#720,#720,#730,#750,#770,#7a0,#7d0,#810,#860,#8b0,#900,#950,#9b0,#a00,#a60,#ac0,#b10,#b60,#bb0,#c00,#c40,#c80,#cc0,#cf0,#d20,#d40,#d60,#d80,#d90,#da0,#db0,#db0,#db0,#db0,#da0,#d90,#d70,#d50,#d30,#d00,#cd0,#c90,#c40,#c00,#ba0,#b40,#ae0,#a80,#a10,#9b0,#950,#8f0,#890,#840,#7f0,#7b0,#770,#740,#710,#6f0,#6d0)"></i><i style="background:linear-gradient(90deg,#6e0,#6d0,#6c0,#6b0,#6a0,#690,#670,#660,#650,#640,#630,#630,#620,#620,#620,#620,#620,#630,#640,#650,#660,#670,#680,#690,#6a0,#6b0,#6c0,#6c0,#6c0,#6c0,#6c0,#6c0,#6c0,#6c0,#6c0,#6c0,#6d0,#6e0,#700,#730,#760,#790,#7d0,#820,#860,#8c0,#910,#970,#9d0,#a30,#a90,#ae0,#b40,#b90,#be0,#c30,#c70,#cb0,#cf0,#d20,#d50,#d70,#d90,#db0,#dc0,#dd0,#de0,#de0,#de0,#dd0,#dd0,#dc0,#da0,#d80,#d60,#d30,#d00,#cc0,#c70,#c20,#bd0,#b70,#b10,#aa0,#a40,#9d0,#970,#910,#8b0,#860,#810,#7c0,#780,#750,#720,#700,#6e0)"></i><i style="background:linear-gradient(90deg,#6c0,#6a0,#690,#670,#660,#640,#620,#610,#600,#5e0,#5d0,#5c0,#5b0,#5b0,#5a0,#5a0,#5b0,#5b0,#5c0,#5c0,#5d0,#5e0,#600,#610,#620,#620,#630,#640,#640,#640,#640,#650,#650,#660,#660,#680,#690,#6b0,#6e0,#710,#740,#780,#7d0,#820,#870,#8d0,#920,#980,#9e0,#a50,#ab0,#b00,#b60,#bb0,#c00,#c50,#ca0,#ce0,#d10,#d40,#d70,#da0,#db0,#dd0,#de0,#df0,#e00,#e00,#e00,#e00,#df0,#de0,#dd0,#db0,#d80,#d60,#d20,#ce0,#ca0,#c50,#bf0,#b90,#b30,#ad0,#a60,#9f0,#990,#920,#8c0,#870,#820,#7d0,#790,#760,#720,#700,#6e0)"></i><i style="background:linear-gradient(90deg,#690,#670,#660,#640,#620,#600,#5e0,#5c0,#5a0,#590,#570,#560,#550,#540,#530,#530,#530,#530,#530,#540,#550,#560,#570,#580,#590,#5a0,#5a0,#5b0,#5c0,#5c0,#5d0,#5e0,#5f0,#600,#620,#630,#660,#680,#6b0,#6f0,#730,#770,#7c0,#820,#870,#8d0,#930,#990,#a00,#a60,#ac0,#b20,#b80,#bd0,#c20,#c70,#cb0,#cf0,#d30,#d60,#d90,#db0,#dd0,#df0,#e00,#e10,#e10,#e10,#e10,#e10,#e10,#e00,#de0,#dc0,#da0,#d70,#d40,#d00,#cc0,#c70,#c10,#bb0,#b50,#ae0,#a70,#a10,#9a0,#940,#8e0,#880,#830,#7e0,#7a0,#760,#730,#700,#6e0)"></i><i style="background:linear-gradient(90deg,#680,#650,#630,#610,#5f0,#5c0,#5a0,#580,#560,#540,#530,#520,#500,#4f0,#4f0,#4e0,#4d0,#4d0,#4d0,#4d0,#4d0,#4e0,#4f0,#4f0,#500,#510,#520,#530,#540,#550,#560,#580,#5a0,#5b0,#5e0,#600,#630,#660,#6a0,#6e0,#720,#770,#7c0,#810,#870,#8d0,#940,#9a0,#a00,#a70,#ad0,#b30,#b90,#be0,#c30,#c80,#cd0,#d10,#d40,#d70,#da0,#dc0,#de0,#e00,#e10,#e20,#e20,#e20,#e20,#e20,#e20,#e10,#df0,#de0,#db0,#d90,#d50,#d10,#cd0,#c80,#c20,#bc0,#b60,#af0,#a80,#a20,#9b0,#940,#8e0,#890,#830,#7f0,#7a0,#770,#730,#700,#6e0)"></i><i style="background:linear-gradient(90deg,#670,#650,#630,#600,#5e0,#5c0,#590,#570,#550,#540,#520,#510,#500,#4f0,#4e0,#4d0,#4c0,#4c0,#4b0,#4a0,#4a0,#4a0,#4a0,#4a0,#4b0,#4b0,#4c0,#4d0,#4f0,#500,#520,#540,#560,#580,#5b0,#5e0,#610,#640,#680,#6c0,#710,#760,#7b0,#810,#870,#8d0,#940,#9a0,#a10,#a70,#ad0,#b30,#b90,#bf0,#c40,#c90,#cd0,#d10,#d50,#d80,#db0,#dd0,#df0,#e00,#e20,#e20,#e30,#e30,#e30,#e30,#e20,#e10,#e00,#de0,#dc0,#d90,#d60,#d20,#cd0,#c80,#c30,#bd0,#b60,#b00,#a90,#a20,#9b0,#950,#8f0,#890,#840,#7f0,#7b0,#770,#730,#700,#6e0)"></i><i style="background:linear-gradient(90deg,#680,#660,#640,#620,#600,#5e0,#5c0,#5a0,#580,#570,#550,#540,#520,#510,#500,#4f0,#4e0,#4d0,#4c0,#4b0,#4b0,#4a0,#4a0,#490,#490,#4a0,#4a0,#4b0,#4c0,#4e0,#500,#520,#540,#570,#590,#5c0,#600,#630,#670,#6b0,#700,#750,#7b0,#800,#860,#8d0,#930,#9a0,#a00,#a70,#ad0,#b30,#b90,#bf0,#c40,#c90,#cd0,#d10,#d50,#d80,#db0,#dd0,#df0,#e00,#e20,#e20,#e30,#e30,#e30,#e30,#e20,#e10,#e00,#de0,#dc0,#d90,#d60,#d20,#cd0,#c80,#c30,#bd0,#b60,#b00,#a90,#a20,#9b0,#950,#8e0,#890,#830,#7f0,#7a0,#770,#730,#700,#6e0)"></i><i style="background:linear-gradient(90deg,#6a0,#690,#670,#660,#650,#630,#620,#610,#5f0,#5e0,#5d0,#5b0,#5a0,#590,#570,#560,#550,#540,#520,#510,#500,#4f0,#4e0,#4d0,#4c0,#4c0,#4c0,#4c0,#4d0,#4e0,#500,#520,#540,#560,#590,#5c0,#5f0,#620,#660,#6a0,#6f0,#740,#7a0,#7f0,#860,#8c0,#920,#990,#a00,#a60,#ac0,#b30,#b80,#be0,#c30,#c80,#cd0,#d10,#d40,#d70,#da0,#dc0,#de0,#e00,#e10,#e20,#e20,#e20,#e20,#e20,#e20,#e10,#df0,#de0,#db0,#d80,#d50,#d10,#cd0,#c80,#c20,#bc0,#b60,#af0,#a80,#a10,#9b0,#940,#8e0,#880,#830,#7e0,#7a0,#760,#730,#700,#6e0)"></i><i style="background:linear-gradient(90deg,#6e0,#6d0,#6c0,#6c0,#6b0,#6a0,#6a0,#690,#690,#680,#670,#660,#650,#640,#630,#610,#600,#5e0,#5c0,#5a0,#580,#570,#550,#530,#520,#510,#500,#500,#500,#500,#510,#530,#550,#570,#590,#5c0,#5f0,#620,#660,#6a0,#6e0,#730,#790,#7e0,#840,#8b0,#910,#980,#9e0,#a50,#ab0,#b10,#b70,#bd0,#c20,#c70,#cb0,#cf0,#d30,#d60,#d90,#db0,#dd0,#df0,#e00,#e10,#e10,#e10,#e10,#e10,#e10,#e00,#de0,#dc0,#da0,#d70,#d40,#d00,#cb0,#c60,#c10,#bb0,#b40,#ae0,#a70,#a00,#990,#930,#8d0,#870,#820,#7d0,#790,#760,#720,#700,#6d0)"></i><i style="background:linear-gradient(90deg,#720,#720,#720,#720,#720,#720,#720,#720,#720,#720,#720,#710,#700,#6f0,#6e0,#6c0,#6a0,#680,#660,#640,#610,#5f0,#5d0,#5b0,#590,#570,#550,#540,#540,#540,#540,#550,#560,#580,#5a0,#5c0,#5f0,#620,#650,#690,#6d0,#720,#770,#7d0,#830,#890,#900,#960,#9d0,#a30,#a90,#b00,#b50,#bb0,#c00,#c50,#c90,#ce0,#d10,#d40,#d70,#da0,#dc0,#dd0,#de0,#df0,#e00,#e00,#e00,#e00,#df0,#de0,#dd0,#db0,#d80,#d50,#d20,#ce0,#ca0,#c50,#bf0,#b90,#b30,#ac0,#a50,#9f0,#980,#920,#8c0,#860,#810,#7c0,#780,#750,#720,#6f0,#6d0)"></i><i style="background:linear-gradient(90deg,#770,#780,#780,#790,#790,#7a0,#7b0,#7b0,#7b0,#7b0,#7b0,#7b0,#7a0,#790,#770,#750,#730,#710,#6f0,#6c0,#6a0,#670,#640,#620,#5f0,#5d0,#5b0,#590,#580,#570,#570,#570,#580,#590,#5b0,#5d0,#5f0,#620,#650,#680,#6d0,#710,#760,#7c0,#810,#870,#8e0,#940,#9b0,#a10,#a70,#ad0,#b30,#b90,#be0,#c30,#c70,#cb0,#cf0,#d20,#d50,#d70,#d90,#db0,#dc0,#dd0,#de0,#de0,#de0,#dd0,#dd0,#dc0,#da0,#d80,#d60,#d30,#d00,#cc0,#c70,#c20,#bd0,#b70,#b00,#aa0,#a30,#9c0,#960,#900,#8a0,#840,#7f0,#7b0,#770,#740,#710,#6f0,#6d0)"></i><i style="background:linear-gradient(90deg,#7c0,#7d0,#7e0,#7f0,#810,#820,#830,#830,#840,#840,#840,#830,#830,#810,#800,#7e0,#7c0,#7a0,#770,#740,#710,#6e0,#6b0,#680,#650,#630,#600,#5e0,#5d0,#5b0,#5a0,#5a0,#5a0,#5b0,#5c0,#5e0,#600,#620,#650,#680,#6c0,#700,#750,#7a0,#800,#850,#8b0,#920,#980,#9e0,#a40,#aa0,#b00,#b60,#bb0,#c00,#c40,#c80,#cc0,#cf0,#d20,#d40,#d60,#d80,#d90,#da0,#db0,#db0,#db0,#db0,#da0,#d90,#d70,#d50,#d30,#d00,#cd0,#c90,#c40,#bf0,#ba0,#b40,#ad0,#a70,#a00,#9a0,#930,#8d0,#880,#820,#7e0,#790,#760,#730,#700,#6e0,#6d0)"></i><i style="background:linear-gradient(90deg,#810,#830,#840,#860,#870,#890,#8a0,#8b0,#8c0,#8c0,#8c0,#8c0,#8b0,#8a0,#880,#860,#840,#810,#7e0,#7b0,#780,#750,#720,#6e0,#6b0,#680,#650,#630,#610,#5f0,#5e0,#5d0,#5d0,#5d0,#5e0,#5f0,#600,#620,#650,#680,#6b0,#6f0,#730,#780,#7e0,#830,#890,#8f0,#950,#9b0,#a10,#a70,#ad0,#b20,#b70,#bc0,#c00,#c40,#c80,#cb0,#ce0,#d10,#d30,#d40,#d60,#d70,#d70,#d80,#d80,#d70,#d60,#d50,#d40,#d20,#cf0,#cc0,#c90,#c50,#c00,#bb0,#b60,#b00,#aa0,#a30,#9d0,#970,#900,#8b0,#850,#800,#7c0,#780,#750,#720,#700,#6e0,#6d0)"></i><i style="background:linear-gradient(90deg,#860,#880,#8a0,#8c0,#8e0,#900,#910,#920,#930,#940,#940,#930,#920,#910,#8f0,#8d0,#8b0,#880,#850,#820,#7f0,#7b0,#780,#740,#710,#6d0,#6a0,#680,#650,#630,#610,#600,#600,#5f0,#600,#600,#610,#630,#650,#680,#6b0,#6e0,#720,#770,#7b0,#810,#860,#8c0,#920,#970,#9d0,#a30,#a80,#ae0,#b30,#b70,#bc0,#c00,#c40,#c70,#ca0,#cc0,#ce0,#d00,#d20,#d30,#d30,#d40,#d40,#d30,#d20,#d10,#d00,#ce0,#cb0,#c80,#c50,#c10,#bc0,#b70,#b20,#ac0,#a60,#a00,#990,#930,#8d0,#880,#830,#7e0,#7a0,#770,#740,#720,#700,#6f0,#6f0)"></i><i style="background:linear-gradient(90deg,#8b0,#8e0,#900,#920,#950,#970,#980,#9a0,#9a0,#9b0,#9b0,#9a0,#9a0,#980,#970,#940,#920,#8f0,#8c0,#880,#850,#810,#7d0,#7a0,#760,#720,#6f0,#6c0,#690,#670,#650,#630,#620,#620,#620,#620,#630,#640,#660,#680,#6b0,#6e0,#710,#750,#790,#7e0,#830,#880,#8e0,#930,#990,#9e0,#a40,#a90,#ae0,#b20,#b70,#bb0,#be0,#c20,#c50,#c70,#c90,#cb0,#cd0,#ce0,#ce0,#cf0,#cf0,#ce0,#ce0,#cc0,#cb0,#c90,#c60,#c30,#c00,#bc0,#b70,#b20,#ad0,#a70,#a10,#9b0,#950,#8f0,#8a0,#840,#800,#7c0,#780,#760,#740,#730,#720,#720,#720)"></i><i style="background:linear-gradient(90deg,#900,#930,#960,#990,#9b0,#9d0,#9f0,#a00,#a10,#a20,#a20,#a10,#a00,#9f0,#9d0,#9b0,#980,#950,#920,#8e0,#8b0,#870,#830,#7f0,#7b0,#770,#740,#700,#6d0,#6b0,#690,#670,#650,#650,#640,#640,#650,#650,#670,#690,#6b0,#6d0,#700,#740,#780,#7c0,#800,#850,#8a0,#8f0,#940,#990,#9e0,#a30,#a80,#ad0,#b10,#b50,#b90,#bc0,#bf0,#c20,#c40,#c60,#c70,#c80,#c90,#c90,#c90,#c90,#c80,#c70,#c50,#c30,#c10,#be0,#ba0,#b60,#b20,#ad0,#a70,#a20,#9c0,#960,#910,#8b0,#860,#810,#7d0,#7a0,#780,#760,#750,#750,#750,#760,#770)"></i><i style="background:linear-gradient(90deg,#950,#990,#9c0,#9f0,#a10,#a30,#a50,#a70,#a80,#a80,#a80,#a80,#a70,#a50,#a40,#a10,#9e0,#9b0,#980,#940,#900,#8c0,#880,#840,#800,#7c0,#780,#740,#710,#6e0,#6c0,#6a0,#680,#670,#670,#660,#660,#670,#680,#690,#6b0,#6d0,#700,#730,#760,#7a0,#7d0,#820,#860,#8b0,#8f0,#940,#990,#9d0,#a20,#a60,#ab0,#af0,#b20,#b60,#b80,#bb0,#bd0,#bf0,#c10,#c20,#c30,#c30,#c30,#c30,#c20,#c10,#bf0,#bd0,#ba0,#b70,#b40,#b00,#ab0,#a70,#a10,#9c0,#970,#910,#8c0,#870,#820,#7e0,#7b0,#790,#780,#780,#780,#790,#7b0,#7c0,#7e0)"></i><i style="background:linear-gradient(90deg,#9a0,#9e0,#a10,#a40,#a70,#a90,#ab0,#ad0,#ae0,#ae0,#ae0,#ae0,#ad0,#ac0,#aa0,#a70,#a40,#a10,#9e0,#9a0,#960,#910,#8d0,#890,#840,#800,#7c0,#780,#750,#720,#6f0,#6d0,#6b0,#6a0,#690,#690,#690,#690,#6a0,#6b0,#6c0,#6e0,#700,#720,#750,#780,#7b0,#7e0,#820,#860,#8a0,#8e0,#930,#970,#9b0,#a00,#a40,#a70,#ab0,#ae0,#b10,#b40,#b60,#b80,#ba0,#bb0,#bc0,#bc0,#bc0,#bc0,#bb0,#ba0,#b80,#b60,#b40,#b00,#ad0,#a90,#a50,#a00,#9b0,#960,#910,#8c0,#870,#830,#7f0,#7c0,#7a0,#790,#790,#7b0,#7d0,#800,#820,#840,#860)"></i><i style="background:linear-gradient(90deg,#9f0,#a30,#a60,#aa0,#ac0,#af0,#b10,#b20,#b30,#b40,#b40,#b40,#b30,#b10,#af0,#ad0,#aa0,#a70,#a30,#9f0,#9b0,#960,#920,#8d0,#890,#840,#800,#7c0,#790,#760,#730,#700,#6e0,#6d0,#6c0,#6b0,#6b0,#6b0,#6b0,#6c0,#6d0,#6e0,#700,#720,#740,#760,#790,#7c0,#7f0,#820,#850,#890,#8d0,#910,#950,#980,#9c0,#a00,#a30,#a70,#aa0,#ac0,#af0,#b10,#b30,#b40,#b50,#b50,#b50,#b50,#b40,#b30,#b10,#af0,#ac0,#a90,#a60,#a20,#9e0,#990,#940,#900,#8b0,#860,#820,#7e0,#7c0,#7a0,#790,#7a0,#7c0,#7f0,#830,#870,#8a0,#8d0,#8f0)"></i><i style="background:linear-gradient(90deg,#a40,#a80,#ab0,#af0,#b20,#b40,#b60,#b80,#b90,#b90,#b90,#b90,#b80,#b60,#b40,#b20,#af0,#ac0,#a80,#a40,#9f0,#9b0,#960,#910,#8d0,#880,#840,#800,#7c0,#790,#760,#730,#710,#700,#6e0,#6d0,#6d0,#6d0,#6d0,#6d0,#6e0,#6f0,#700,#720,#730,#750,#770,#790,#7b0,#7e0,#810,#840,#870,#8a0,#8e0,#910,#950,#980,#9c0,#9f0,#a20,#a40,#a70,#a90,#ab0,#ac0,#ad0,#ad0,#ad0,#ad0,#ac0,#ab0,#a90,#a70,#a50,#a20,#9e0,#9b0,#960,#920,#8e0,#890,#850,#810,#7d0,#7b0,#790,#790,#7a0,#7c0,#800,#850,#8a0,#8f0,#930,#960,#980)"></i><i style="background:linear-gradient(90deg,#a80,#ac0,#b00,#b30,#b60,#b90,#bb0,#bc0,#bd0,#be0,#be0,#bd0,#bc0,#bb0,#b90,#b70,#b40,#b00,#ac0,#a80,#a40,#9f0,#9a0,#960,#910,#8c0,#880,#830,#800,#7c0,#790,#760,#740,#720,#710,#700,#6f0,#6f0,#6f0,#6f0,#6f0,#700,#710,#720,#730,#740,#760,#770,#790,#7a0,#7c0,#7e0,#810,#840,#870,#8a0,#8d0,#900,#930,#960,#990,#9c0,#9f0,#a10,#a20,#a40,#a50,#a50,#a50,#a50,#a40,#a30,#a10,#9f0,#9d0,#9a0,#970,#930,#8f0,#8b0,#870,#830,#7f0,#7b0,#790,#770,#760,#780,#7a0,#7f0,#850,#8b0,#910,#970,#9c0,#9f0,#a10)"></i><i style="background:linear-gradient(90deg,#ac0,#b00,#b40,#b70,#ba0,#bd0,#bf0,#c00,#c10,#c20,#c20,#c20,#c10,#bf0,#bd0,#bb0,#b80,#b40,#b10,#ac0,#a80,#a30,#9e0,#990,#940,#900,#8b0,#870,#830,#7f0,#7c0,#790,#760,#740,#730,#720,#710,#700,#700,#700,#700,#710,#710,#720,#730,#740,#740,#750,#760,#770,#780,#7a0,#7b0,#7d0,#800,#820,#850,#880,#8b0,#8e0,#910,#930,#960,#980,#9a0,#9b0,#9c0,#9d0,#9d0,#9d0,#9c0,#9b0,#990,#970,#950,#920,#8e0,#8b0,#870,#830,#7f0,#7c0,#780,#750,#740,#730,#740,#770,#7c0,#830,#8a0,#920,#990,#9f0,#a40,#a70,#a90)"></i><i style="background:linear-gradient(90deg,#b00,#b40,#b80,#bb0,#be0,#c10,#c30,#c40,#c50,#c60,#c60,#c50,#c40,#c30,#c10,#bf0,#bc0,#b80,#b40,#b00,#ab0,#a70,#a20,#9d0,#980,#930,#8e0,#890,#850,#820,#7e0,#7b0,#790,#770,#750,#740,#730,#720,#720,#710,#710,#720,#720,#720,#730,#730,#730,#740,#740,#740,#740,#750,#760,#770,#780,#7a0,#7d0,#7f0,#820,#850,#880,#8a0,#8d0,#8f0,#910,#920,#930,#940,#940,#940,#930,#920,#900,#8e0,#8c0,#890,#860,#820,#7f0,#7b0,#770,#740,#710,#6f0,#6e0,#6f0,#720,#770,#7f0,#880,#910,#990,#a10,#a70,#ab0,#ae0,#b00)"></i><i style="background:linear-gradient(90deg,#b30,#b70,#bb0,#be0,#c10,#c40,#c60,#c70,#c80,#c90,#c90,#c80,#c70,#c60,#c40,#c20,#bf0,#bb0,#b80,#b30,#af0,#aa0,#a50,#a00,#9a0,#950,#910,#8c0,#880,#840,#800,#7d0,#7b0,#790,#770,#750,#740,#730,#730,#730,#720,#720,#730,#730,#730,#730,#730,#720,#720,#720,#710,#700,#700,#700,#710,#720,#740,#760,#780,#7b0,#7e0,#800,#830,#850,#870,#880,#8a0,#8a0,#8a0,#8a0,#8a0,#880,#870,#850,#820,#800,#7d0,#790,#760,#720,#6f0,#6c0,#690,#680,#680,#6b0,#710,#790,#830,#8e0,#980,#a10,#a80,#ae0,#b20,#b50,#b70)"></i><i style="background:linear-gradient(90deg,#b50,#ba0,#be0,#c10,#c40,#c60,#c80,#ca0,#cb0,#cb0,#cb0,#cb0,#ca0,#c90,#c70,#c40,#c20,#be0,#ba0,#b60,#b10,#ad0,#a70,#a20,#9d0,#980,#930,#8e0,#8a0,#860,#830,#7f0,#7d0,#7a0,#780,#770,#760,#750,#740,#740,#730,#730,#730,#730,#730,#730,#720,#710,#710,#6f0,#6e0,#6c0,#6b0,#690,#690,#690,#6a0,#6b0,#6e0,#700,#730,#750,#780,#7a0,#7c0,#7e0,#7f0,#800,#800,#800,#7f0,#7e0,#7d0,#7b0,#780,#750,#720,#6f0,#6b0,#680,#650,#620,#600,#600,#620,#680,#730,#7e0,#8a0,#950,#9f0,#a80,#af0,#b50,#b90,#bc0,#bd0)"></i><i style="background:linear-gradient(90deg,#b80,#bc0,#c00,#c30,#c60,#c90,#cb0,#cc0,#cd0,#cd0,#cd0,#cd0,#cc0,#cb0,#c90,#c70,#c40,#c10,#bd0,#b80,#b40,#af0,#aa0,#a50,#9f0,#9a0,#950,#910,#8c0,#880,#850,#810,#7e0,#7c0,#7a0,#780,#770,#760,#750,#750,#740,#740,#740,#730,#730,#730,#720,#710,#6f0,#6e0,#6b0,#690,#660,#630,#600,#5e0,#5e0,#5e0,#600,#630,#660,#690,#6b0,#6e0,#700,#720,#730,#740,#740,#740,#740,#730,#710,#6f0,#6c0,#6a0,#660,#630,#5f0,#5b0,#580,#550,#530,#560,#600,#6d0,#7a0,#870,#920,#9d0,#a60,#af0,#b50,#bb0,#bf0,#c10,#c20)"></i><i style="background:linear-gradient(90deg,#b90,#be0,#c20,#c50,#c80,#ca0,#cc0,#ce0,#ce0,#cf0,#cf0,#cf0,#ce0,#cd0,#cb0,#c90,#c60,#c20,#bf0,#ba0,#b60,#b10,#ac0,#a70,#a20,#9c0,#980,#930,#8e0,#8a0,#870,#830,#800,#7e0,#7b0,#7a0,#780,#770,#760,#750,#750,#740,#740,#740,#730,#730,#720,#710,#6f0,#6d0,#6a0,#670,#630,#5f0,#590,#530,#4e0,#4b0,#4c0,#500,#460,#290,#220,#1c0,#170,#130,#110,#0f0,#0e0,#0e0,#0e0,#0e0,#0e0,#100,#120,#150,#1a0,#200,#270,#2f0,#410,#4f0,#580,#620,#6d0,#780,#840,#8f0,#9a0,#a40,#ad0,#b50,#bb0,#c00,#c40,#c60,#c70)"></i><i style="background:linear-gradient(90deg,#bb0,#bf0,#c30,#c70,#c90,#cc0,#ce0,#cf0,#d00,#d00,#d00,#d00,#cf0,#ce0,#cc0,#ca0,#c70,#c40,#c00,#bc0,#b80,#b30,#ae0,#a90,#a40,#9f0,#9a0,#950,#910,#8d0,#890,#850,#820,#7f0,#7d0,#7b0,#790,#780,#770,#760,#760,#750,#750,#740,#740,#730,#720,#710,#6f0,#6d0,#6b0,#680,#640,#600,#5b0,#570,#520,#4f0,#4c0,#4b0,#490,#480,#390,#280,#210,#1c0,#190,#170,#160,#160,#160,#160,#180,#190,#1d0,#220,#2c0,#4c0,#4f0,#530,#570,#5e0,#650,#6d0,#770,#810,#8c0,#960,#a10,#aa0,#b30,#ba0,#c10,#c50,#c80,#ca0,#cb0)"></i><i style="background:linear-gradient(90deg,#bc0,#c00,#c40,#c70,#ca0,#cd0,#ce0,#d00,#d00,#d10,#d10,#d10,#d00,#cf0,#cd0,#cb0,#c80,#c50,#c10,#bd0,#b90,#b40,#af0,#ab0,#a60,#a10,#9c0,#980,#930,#8f0,#8c0,#880,#850,#820,#7f0,#7d0,#7b0,#790,#780,#770,#760,#760,#750,#750,#740,#730,#730,#720,#700,#6e0,#6c0,#6a0,#670,#630,#600,#5d0,#5b0,#580,#570,#550,#540,#530,#530,#520,#520,#520,#520,#510,#510,#510,#510,#510,#520,#520,#520,#530,#540,#560,#590,#5d0,#610,#670,#6e0,#760,#7f0,#890,#930,#9d0,#a70,#b00,#b80,#bf0,#c50,#ca0,#cd0,#ce0,#cf0)"></i><i style="background:linear-gradient(90deg,#bc0,#c10,#c40,#c80,#cb0,#cd0,#cf0,#d00,#d10,#d10,#d10,#d10,#d00,#cf0,#ce0,#cc0,#c90,#c60,#c20,#be0,#ba0,#b50,#b10,#ac0,#a80,#a30,#9f0,#9a0,#960,#920,#8f0,#8b0,#880,#850,#820,#7f0,#7d0,#7b0,#7a0,#780,#770,#770,#760,#750,#750,#740,#730,#720,#710,#700,#6e0,#6c0,#6a0,#680,#650,#630,#610,#600,#5e0,#5d0,#5c0,#5c0,#5b0,#5b0,#5b0,#5a0,#5a0,#5a0,#5a0,#5a0,#5a0,#5a0,#5a0,#5b0,#5b0,#5c0,#5d0,#5f0,#610,#650,#690,#6f0,#750,#7d0,#860,#8f0,#980,#a20,#ac0,#b40,#bc0,#c30,#c90,#cd0,#d00,#d20,#d20)"></i><i style="background:linear-gradient(90deg,#bc0,#c10,#c40,#c80,#cb0,#cd0,#cf0,#d00,#d10,#d10,#d10,#d10,#d00,#cf0,#ce0,#cc0,#c90,#c60,#c30,#bf0,#bb0,#b60,#b20,#ae0,#a90,#a50,#a10,#9d0,#990,#950,#910,#8e0,#8b0,#870,#850,#820,#7f0,#7d0,#7b0,#7a0,#790,#780,#770,#760,#760,#750,#740,#730,#730,#710,#700,#6f0,#6d0,#6c0,#6a0,#680,#670,#660,#650,#640,#630,#630,#620,#620,#620,#620,#620,#620,#620,#620,#620,#620,#620,#620,#630,#630,#640,#660,#680,#6c0,#700,#750,#7c0,#830,#8b0,#940,#9d0,#a70,#b00,#b80,#c00,#c70,#cc0,#d00,#d30,#d40,#d50)"></i><i style="background:linear-gradient(90deg,#bc0,#c00,#c40,#c70,#ca0,#cd0,#ce0,#d00,#d00,#d10,#d10,#d10,#d00,#cf0,#cd0,#cb0,#c90,#c60,#c30,#bf0,#bb0,#b70,#b30,#af0,#ab0,#a70,#a30,#9f0,#9b0,#970,#940,#900,#8d0,#8a0,#870,#840,#820,#7f0,#7d0,#7c0,#7a0,#790,#780,#770,#770,#760,#750,#750,#740,#730,#720,#710,#700,#6f0,#6e0,#6d0,#6c0,#6b0,#6b0,#6a0,#6a0,#690,#690,#690,#690,#690,#6a0,#6a0,#6a0,#6a0,#6a0,#6a0,#6a0,#6a0,#6a0,#6a0,#6b0,#6d0,#6f0,#720,#760,#7b0,#810,#880,#900,#980,#a10,#aa0,#b30,#bc0,#c30,#ca0,#cf0,#d30,#d50,#d70,#d70)"></i><i style="background:linear-gradient(90deg,#bb0,#bf0,#c30,#c70,#c90,#cc0,#ce0,#cf0,#d00,#d00,#d00,#d00,#cf0,#ce0,#cd0,#cb0,#c80,#c50,#c20,#bf0,#bb0,#b70,#b30,#b00,#ac0,#a80,#a40,#a00,#9c0,#990,#950,#920,#8f0,#8c0,#890,#870,#840,#820,#800,#7e0,#7c0,#7b0,#7a0,#790,#780,#780,#770,#770,#760,#760,#750,#740,#740,#730,#720,#720,#710,#700,#700,#700,#6f0,#6f0,#700,#700,#700,#710,#710,#710,#720,#720,#720,#710,#710,#710,#710,#710,#720,#730,#750,#770,#7b0,#800,#860,#8c0,#940,#9c0,#a50,#ae0,#b60,#be0,#c60,#cc0,#d10,#d50,#d70,#d80,#d80)"></i><i style="background:linear-gradient(90deg,#b90,#be0,#c20,#c50,#c80,#ca0,#cc0,#ce0,#cf0,#cf0,#cf0,#cf0,#ce0,#cd0,#cc0,#ca0,#c70,#c40,#c10,#be0,#bb0,#b70,#b30,#b00,#ac0,#a80,#a50,#a10,#9d0,#9a0,#970,#940,#910,#8e0,#8b0,#890,#860,#840,#820,#800,#7e0,#7d0,#7c0,#7b0,#7a0,#7a0,#790,#790,#790,#780,#780,#780,#770,#770,#760,#760,#760,#760,#750,#750,#750,#760,#760,#770,#780,#780,#790,#7a0,#7a0,#7a0,#7a0,#7a0,#790,#790,#780,#780,#780,#790,#7a0,#7d0,#800,#850,#8a0,#900,#980,#9f0,#a80,#b00,#b90,#c00,#c70,#cd0,#d20,#d60,#d80,#d90,#d90)"></i><i style="background:linear-gradient(90deg,#b80,#bc0,#c00,#c30,#c60,#c90,#cb0,#cc0,#cd0,#cd0,#ce0,#cd0,#cd0,#cb0,#ca0,#c80,#c60,#c30,#c00,#bd0,#ba0,#b60,#b30,#af0,#ac0,#a80,#a50,#a10,#9e0,#9b0,#980,#950,#920,#900,#8d0,#8b0,#890,#860,#840,#830,#810,#800,#7f0,#7e0,#7e0,#7d0,#7d0,#7d0,#7d0,#7c0,#7c0,#7c0,#7c0,#7c0,#7b0,#7b0,#7b0,#7b0,#7b0,#7c0,#7c0,#7d0,#7e0,#7f0,#810,#820,#840,#850,#860,#860,#860,#860,#850,#830,#820,#810,#800,#800,#810,#830,#850,#890,#8e0,#940,#9b0,#a20,#aa0,#b20,#ba0,#c20,#c90,#ce0,#d30,#d70,#d90,#da0,#da0)"></i><i style="background:linear-gradient(90deg,#b50,#ba0,#be0,#c10,#c40,#c70,#c80,#ca0,#cb0,#cb0,#cc0,#cb0,#cb0,#c90,#c80,#c60,#c40,#c10,#be0,#bb0,#b80,#b50,#b20,#af0,#ab0,#a80,#a50,#a10,#9e0,#9b0,#980,#960,#930,#910,#8f0,#8d0,#8b0,#890,#880,#860,#850,#850,#840,#840,#840,#830,#830,#830,#830,#830,#830,#820,#820,#820,#820,#820,#820,#830,#830,#840,#860,#880,#8a0,#8d0,#900,#940,#980,#9b0,#9d0,#9e0,#9d0,#9c0,#990,#960,#920,#8f0,#8c0,#8a0,#890,#8a0,#8b0,#8e0,#920,#980,#9e0,#a50,#ac0,#b40,#bc0,#c30,#c90,#cf0,#d30,#d70,#d90,#da0,#d90)"></i><i style="background:linear-gradient(90deg,#b30,#b70,#bb0,#be0,#c10,#c40,#c60,#c70,#c80,#c90,#c90,#c90,#c80,#c70,#c50,#c30,#c10,#bf0,#bc0,#b90,#b60,#b30,#b00,#ad0,#aa0,#a70,#a40,#a10,#9e0,#9b0,#990,#970,#950,#930,#910,#8f0,#8e0,#8c0,#8c0,#8b0,#8b0,#8b0,#8b0,#8b0,#8c0,#8c0,#8c0,#8c0,#8c0,#8c0,#8b0,#8b0,#8b0,#8b0,#8b0,#8c0,#8c0,#8e0,#8f0,#920,#950,#990,#9e0,#a30,#a80,#ac0,#b00,#b30,#b40,#b50,#b40,#b30,#b10,#ad0,#a90,#a40,#9f0,#9a0,#960,#940,#930,#950,#970,#9c0,#a10,#a70,#ae0,#b50,#bc0,#c30,#c90,#cf0,#d30,#d60,#d80,#d90,#d90)"></i><i style="background:linear-gradient(90deg,#b00,#b40,#b80,#bb0,#be0,#c10,#c30,#c40,#c50,#c60,#c60,#c60,#c50,#c40,#c20,#c00,#be0,#bc0,#b90,#b70,#b40,#b10,#ae0,#ab0,#a90,#a60,#a30,#a00,#9e0,#9b0,#990,#970,#960,#940,#930,#920,#910,#910,#910,#920,#920,#930,#940,#940,#950,#950,#950,#950,#950,#950,#950,#950,#950,#950,#960,#970,#990,#9b0,#9e0,#a20,#a60,#ab0,#b00,#b50,#b90,#bd0,#c00,#c20,#c40,#c40,#c30,#c20,#c00,#bd0,#b90,#b50,#b10,#ac0,#a70,#a20,#9f0,#9d0,#9e0,#a00,#a40,#aa0,#b00,#b60,#bd0,#c30,#c90,#ce0,#d20,#d50,#d70,#d80,#d70)"></i><i style="background:linear-gradient(90deg,#ac0,#b00,#b40,#b70,#ba0,#bd0,#bf0,#c10,#c20,#c20,#c20,#c20,#c10,#c00,#bf0,#bd0,#bb0,#b90,#b60,#b40,#b10,#ae0,#ac0,#a90,#a60,#a40,#a10,#9f0,#9d0,#9b0,#9a0,#980,#970,#960,#960,#960,#960,#970,#980,#990,#9a0,#9b0,#9c0,#9d0,#9d0,#9d0,#9e0,#9e0,#9e0,#9e0,#9e0,#9e0,#9e0,#9f0,#a00,#a20,#a40,#a70,#ab0,#af0,#b30,#b80,#bd0,#c20,#c60,#c90,#cc0,#ce0,#cf0,#cf0,#ce0,#cd0,#cb0,#c80,#c50,#c10,#bd0,#b90,#b40,#af0,#ab0,#a80,#a60,#a60,#a90,#ac0,#b10,#b70,#bd0,#c30,#c80,#cd0,#d10,#d30,#d50,#d60,#d50)"></i><i style="background:linear-gradient(90deg,#a80,#ac0,#b00,#b30,#b60,#b90,#bb0,#bd0,#be0,#be0,#be0,#be0,#bd0,#bc0,#bb0,#b90,#b70,#b50,#b20,#b00,#ad0,#ab0,#a90,#a60,#a40,#a20,#a00,#9e0,#9c0,#9b0,#9a0,#990,#990,#990,#9a0,#9b0,#9c0,#9e0,#9f0,#a00,#a10,#a20,#a30,#a40,#a40,#a50,#a50,#a50,#a50,#a50,#a50,#a60,#a60,#a80,#a90,#ab0,#ae0,#b10,#b50,#b90,#be0,#c30,#c70,#cc0,#d00,#d30,#d50,#d70,#d80,#d80,#d70,#d60,#d40,#d10,#ce0,#cb0,#c70,#c30,#be0,#ba0,#b50,#b20,#af0,#ad0,#ad0,#af0,#b30,#b80,#bd0,#c20,#c70,#cb0,#ce0,#d10,#d30,#d30,#d30)"></i><i style="background:linear-gradient(90deg,#a40,#a80,#ac0,#af0,#b20,#b40,#b60,#b80,#b90,#ba0,#ba0,#ba0,#b90,#b80,#b60,#b50,#b30,#b00,#ae0,#ac0,#a90,#a70,#a50,#a30,#a10,#9f0,#9e0,#9d0,#9c0,#9b0,#9c0,#9c0,#9d0,#9e0,#9f0,#a10,#a20,#a40,#a50,#a60,#a70,#a80,#a90,#aa0,#aa0,#ab0,#ab0,#ab0,#ab0,#ab0,#ac0,#ac0,#ad0,#af0,#b00,#b30,#b50,#b90,#bd0,#c10,#c60,#cb0,#cf0,#d40,#d70,#da0,#dd0,#de0,#df0,#df0,#de0,#dd0,#db0,#d80,#d50,#d20,#ce0,#cb0,#c60,#c20,#be0,#ba0,#b60,#b40,#b30,#b30,#b50,#b80,#bc0,#c10,#c50,#c90,#cc0,#ce0,#d00,#d00,#d00)"></i><i style="background:linear-gradient(90deg,#9f0,#a30,#a70,#aa0,#ad0,#af0,#b10,#b30,#b40,#b50,#b50,#b50,#b40,#b30,#b10,#b00,#ae0,#ac0,#aa0,#a70,#a50,#a30,#a10,#a00,#9f0,#9e0,#9d0,#9d0,#9d0,#9d0,#9e0,#a00,#a10,#a30,#a40,#a60,#a70,#a90,#aa0,#ab0,#ac0,#ad0,#ae0,#af0,#af0,#af0,#b00,#b00,#b00,#b10,#b10,#b20,#b30,#b40,#b60,#b90,#bc0,#bf0,#c40,#c80,#cd0,#d10,#d60,#da0,#de0,#e10,#e30,#e40,#e50,#e50,#e40,#e20,#e00,#de0,#db0,#d80,#d50,#d10,#cd0,#c80,#c40,#c00,#bc0,#b90,#b70,#b70,#b70,#b90,#bc0,#bf0,#c30,#c60,#c90,#cb0,#cc0,#cd0,#cc0)"></i><i style="background:linear-gradient(90deg,#9b0,#9e0,#a20,#a50,#a80,#aa0,#ac0,#ae0,#af0,#af0,#b00,#af0,#af0,#ae0,#ac0,#ab0,#a90,#a70,#a50,#a30,#a20,#a00,#9f0,#9e0,#9d0,#9d0,#9d0,#9e0,#9f0,#a00,#a20,#a30,#a50,#a70,#a80,#aa0,#ac0,#ad0,#ae0,#b00,#b10,#b10,#b20,#b30,#b30,#b40,#b40,#b40,#b40,#b50,#b50,#b60,#b80,#b90,#bb0,#be0,#c10,#c50,#c90,#ce0,#d20,#d70,#db0,#e00,#e30,#e60,#e80,#e90,#ea0,#e90,#e80,#e70,#e50,#e30,#e00,#dd0,#da0,#d60,#d20,#ce0,#ca0,#c50,#c10,#be0,#bc0,#ba0,#b90,#ba0,#bc0,#be0,#c10,#c30,#c50,#c70,#c80,#c80,#c80)"></i><i style="background:linear-gradient(90deg,#960,#990,#9c0,#9f0,#a20,#a50,#a70,#a80,#a90,#aa0,#aa0,#aa0,#a90,#a80,#a70,#a60,#a40,#a30,#a10,#a00,#9f0,#9e0,#9d0,#9d0,#9d0,#9e0,#9f0,#a00,#a10,#a30,#a50,#a60,#a80,#aa0,#ac0,#ae0,#af0,#b10,#b20,#b30,#b40,#b50,#b50,#b60,#b60,#b70,#b70,#b70,#b80,#b80,#b90,#ba0,#bb0,#bd0,#bf0,#c20,#c50,#c90,#cd0,#d20,#d70,#db0,#e00,#e40,#e70,#ea0,#ec0,#ed0,#ee0,#ed0,#ec0,#eb0,#e90,#e70,#e40,#e10,#de0,#da0,#d60,#d20,#ce0,#ca0,#c50,#c20,#bf0,#bd0,#bb0,#bb0,#bb0,#bd0,#be0,#c00,#c20,#c30,#c40,#c40,#c30)"></i><i style="background:linear-gradient(90deg,#910,#940,#970,#9a0,#9d0,#9f0,#a10,#a20,#a40,#a40,#a50,#a40,#a40,#a30,#a20,#a10,#a00,#9f0,#9e0,#9d0,#9c0,#9c0,#9c0,#9d0,#9d0,#9f0,#a00,#a20,#a30,#a50,#a70,#a90,#ab0,#ad0,#af0,#b00,#b20,#b30,#b50,#b60,#b70,#b70,#b80,#b90,#b90,#b90,#ba0,#ba0,#bb0,#bb0,#bc0,#bd0,#be0,#c00,#c30,#c50,#c90,#cd0,#d10,#d50,#da0,#df0,#e30,#e70,#eb0,#ee0,#f00,#f10,#f10,#f00,#ef0,#ee0,#ec0,#ea0,#e70,#e40,#e10,#de0,#da0,#d50,#d10,#cd0,#c90,#c50,#c10,#bf0,#bd0,#bb0,#bb0,#bb0,#bc0,#bd0,#be0,#bf0,#c00,#bf0,#be0)"></i><i style="background:linear-gradient(90deg,#8c0,#8f0,#920,#940,#970,#990,#9b0,#9d0,#9e0,#9e0,#9f0,#9f0,#9e0,#9e0,#9d0,#9c0,#9b0,#9b0,#9a0,#9a0,#9a0,#9a0,#9b0,#9c0,#9d0,#9f0,#a10,#a30,#a50,#a70,#a90,#ab0,#ad0,#af0,#b10,#b20,#b40,#b50,#b70,#b80,#b90,#b90,#ba0,#bb0,#bb0,#bb0,#bc0,#bc0,#bd0,#bd0,#be0,#bf0,#c10,#c30,#c50,#c80,#cb0,#cf0,#d40,#d80,#dd0,#e20,#e60,#ea0,#ed0,#f00,#f20,#f30,#f30,#f30,#f20,#f00,#ee0,#ec0,#ea0,#e70,#e40,#e00,#dc0,#d80,#d40,#cf0,#cb0,#c70,#c30,#c00,#be0,#bc0,#bb0,#ba0,#ba0,#ba0,#bb0,#bb0,#bb0,#ba0,#b90)"></i><i style="background:linear-gradient(90deg,#870,#8a0,#8c0,#8f0,#910,#930,#950,#960,#970,#980,#990,#990,#990,#980,#980,#970,#970,#970,#970,#970,#980,#990,#9a0,#9b0,#9d0,#9f0,#a10,#a30,#a60,#a80,#aa0,#ac0,#ae0,#b00,#b20,#b40,#b50,#b70,#b80,#b90,#ba0,#bb0,#bb0,#bc0,#bc0,#bd0,#bd0,#bd0,#be0,#bf0,#c00,#c10,#c20,#c40,#c70,#ca0,#cd0,#d10,#d60,#da0,#df0,#e30,#e80,#ec0,#ef0,#f20,#f40,#f50,#f50,#f50,#f40,#f20,#f00,#ee0,#ec0,#e90,#e60,#e20,#de0,#da0,#d50,#d10,#cc0,#c80,#c40,#c10,#be0,#bb0,#ba0,#b80,#b80,#b70,#b70,#b70,#b60,#b50,#b30)"></i><i style="background:linear-gradient(90deg,#820,#840,#860,#880,#8b0,#8d0,#8e0,#900,#910,#920,#920,#920,#930,#920,#920,#920,#930,#930,#930,#940,#950,#960,#980,#9a0,#9c0,#9e0,#a10,#a30,#a60,#a80,#ab0,#ad0,#af0,#b10,#b30,#b50,#b60,#b80,#b90,#ba0,#bb0,#bc0,#bc0,#bd0,#bd0,#bd0,#be0,#be0,#bf0,#c00,#c10,#c20,#c30,#c50,#c80,#cb0,#ce0,#d20,#d70,#db0,#e00,#e50,#e90,#ed0,#f10,#f30,#f50,#f60,#f60,#f60,#f50,#f30,#f10,#ef0,#ed0,#ea0,#e70,#e30,#df0,#db0,#d60,#d20,#cd0,#c90,#c50,#c10,#be0,#bb0,#b80,#b70,#b50,#b40,#b30,#b20,#b10,#b00,#ae0)"></i><i style="background:linear-gradient(90deg,#7c0,#7e0,#800,#820,#840,#860,#870,#890,#8a0,#8b0,#8b0,#8c0,#8c0,#8c0,#8d0,#8d0,#8e0,#8f0,#900,#910,#920,#940,#960,#980,#9b0,#9d0,#a00,#a30,#a60,#a80,#ab0,#ad0,#af0,#b10,#b30,#b50,#b60,#b80,#b90,#ba0,#bb0,#bc0,#bc0,#bd0,#bd0,#be0,#be0,#be0,#bf0,#c00,#c10,#c20,#c40,#c60,#c80,#cb0,#cf0,#d30,#d70,#dc0,#e00,#e50,#ea0,#ee0,#f10,#f40,#f60,#f70,#f70,#f60,#f50,#f30,#f20,#f00,#ed0,#eb0,#e70,#e40,#e00,#db0,#d70,#d20,#cd0,#c90,#c40,#c00,#bd0,#b90,#b70,#b40,#b20,#b10,#af0,#ae0,#ad0,#ab0,#a80)"></i><i style="background:linear-gradient(90deg,#750,#770,#790,#7a0,#7c0,#7e0,#800,#810,#820,#830,#840,#840,#850,#860,#860,#870,#880,#8a0,#8b0,#8d0,#8f0,#910,#930,#960,#990,#9c0,#9f0,#a20,#a50,#a70,#aa0,#ac0,#af0,#b10,#b30,#b40,#b60,#b80,#b90,#ba0,#bb0,#bc0,#bc0,#bd0,#bd0,#bd0,#be0,#be0,#bf0,#c00,#c10,#c20,#c40,#c60,#c80,#cb0,#cf0,#d30,#d70,#db0,#e00,#e50,#e90,#ed0,#f10,#f30,#f50,#f60,#f70,#f60,#f50,#f30,#f10,#ef0,#ed0,#ea0,#e70,#e30,#df0,#db0,#d60,#d10,#cd0,#c80,#c30,#bf0,#bb0,#b80,#b50,#b20,#af0,#ad0,#ab0,#aa0,#a80,#a50,#a20)"></i><i style="background:linear-gradient(90deg,#6e0,#6f0,#710,#720,#740,#750,#770,#780,#790,#7a0,#7b0,#7c0,#7d0,#7e0,#7f0,#810,#830,#850,#870,#890,#8b0,#8d0,#900,#930,#960,#990,#9d0,#a00,#a30,#a60,#a90,#ab0,#ae0,#b00,#b20,#b30,#b50,#b70,#b80,#b90,#ba0,#bb0,#bb0,#bc0,#bc0,#bd0,#bd0,#bd0,#be0,#bf0,#c00,#c10,#c30,#c50,#c70,#ca0,#ce0,#d20,#d60,#da0,#df0,#e40,#e80,#ec0,#f00,#f30,#f40,#f60,#f60,#f50,#f40,#f20,#f10,#ee0,#ec0,#e90,#e60,#e20,#de0,#da0,#d50,#d00,#cb0,#c60,#c20,#bd0,#b90,#b50,#b20,#af0,#ac0,#a90,#a70,#a50,#a30,#a00,#9c0)"></i><i style="background:linear-gradient(90deg,#660,#670,#670,#690,#6a0,#6b0,#6d0,#6e0,#6f0,#700,#720,#730,#740,#760,#780,#7a0,#7c0,#7f0,#810,#840,#860,#890,#8c0,#8f0,#930,#960,#9a0,#9e0,#a10,#a40,#a70,#aa0,#ac0,#ae0,#b00,#b20,#b40,#b50,#b60,#b80,#b90,#b90,#ba0,#ba0,#bb0,#bb0,#bc0,#bc0,#bd0,#bd0,#be0,#bf0,#c10,#c30,#c50,#c80,#cc0,#d00,#d40,#d90,#dd0,#e20,#e70,#eb0,#ee0,#f10,#f30,#f40,#f40,#f40,#f20,#f10,#ef0,#ed0,#ea0,#e80,#e40,#e10,#dc0,#d80,#d30,#ce0,#c90,#c40,#bf0,#bb0,#b60,#b20,#af0,#ab0,#a80,#a50,#a30,#a00,#9d0,#9a0,#960)"></i><i style="background:linear-gradient(90deg,#5d0,#5c0,#5c0,#5d0,#5e0,#5f0,#600,#620,#630,#640,#660,#680,#6a0,#6c0,#6f0,#720,#750,#780,#7b0,#7e0,#810,#840,#870,#8b0,#8f0,#930,#970,#9b0,#9e0,#a20,#a50,#a70,#aa0,#ac0,#ae0,#b00,#b10,#b30,#b40,#b50,#b60,#b70,#b80,#b90,#b90,#b90,#ba0,#ba0,#bb0,#bb0,#bc0,#bd0,#bf0,#c10,#c30,#c60,#c90,#cd0,#d20,#d60,#db0,#e00,#e40,#e80,#ec0,#ee0,#f00,#f20,#f20,#f10,#f00,#ef0,#ed0,#eb0,#e80,#e50,#e20,#de0,#da0,#d50,#d00,#cb0,#c60,#c10,#bc0,#b80,#b30,#af0,#ab0,#a80,#a40,#a10,#9e0,#9a0,#970,#930,#8e0)"></i><i style="background:linear-gradient(90deg,#520,#500,#4f0,#4e0,#4e0,#4f0,#500,#510,#530,#550,#570,#5a0,#5d0,#610,#650,#690,#6d0,#710,#740,#780,#7b0,#7f0,#820,#860,#8a0,#8f0,#930,#970,#9b0,#9e0,#a20,#a40,#a70,#a90,#ab0,#ad0,#af0,#b00,#b20,#b30,#b40,#b50,#b50,#b60,#b60,#b70,#b70,#b80,#b80,#b80,#b90,#ba0,#bc0,#be0,#c00,#c30,#c60,#ca0,#ce0,#d30,#d80,#dc0,#e10,#e50,#e90,#eb0,#ed0,#ee0,#ef0,#ee0,#ed0,#ec0,#ea0,#e80,#e50,#e20,#df0,#db0,#d70,#d20,#cd0,#c80,#c30,#bd0,#b80,#b40,#af0,#ab0,#a70,#a30,#9f0,#9c0,#980,#940,#900,#8b0,#860)"></i><i style="background:linear-gradient(90deg,#440,#400,#3c0,#390,#370,#350,#340,#350,#380,#3c0,#410,#470,#4d0,#530,#590,#5f0,#640,#680,#6c0,#700,#740,#780,#7c0,#800,#850,#8a0,#8e0,#930,#970,#9b0,#9e0,#a10,#a30,#a50,#a70,#a90,#ab0,#ad0,#ae0,#af0,#b00,#b10,#b20,#b30,#b30,#b40,#b40,#b40,#b50,#b50,#b60,#b70,#b80,#ba0,#bc0,#bf0,#c20,#c60,#ca0,#cf0,#d40,#d80,#dd0,#e10,#e50,#e70,#e90,#eb0,#eb0,#eb0,#ea0,#e80,#e60,#e40,#e20,#de0,#db0,#d70,#d20,#ce0,#c90,#c30,#be0,#b90,#b40,#af0,#ab0,#a70,#a30,#9e0,#9a0,#960,#920,#8d0,#880,#820,#7c0)"></i><i style="background:linear-gradient(90deg,#350,#2f0,#290,#240,#200,#1e0,#1d0,#1d0,#1e0,#200,#240,#2c0,#370,#420,#4b0,#520,#590,#5e0,#630,#680,#6c0,#700,#750,#7a0,#7f0,#840,#890,#8e0,#920,#960,#9a0,#9c0,#9f0,#a10,#a30,#a50,#a70,#a90,#aa0,#ab0,#ac0,#ad0,#ae0,#af0,#af0,#b00,#b00,#b00,#b00,#b10,#b10,#b20,#b30,#b50,#b70,#ba0,#bd0,#c10,#c50,#ca0,#ce0,#d30,#d80,#dc0,#e00,#e20,#e50,#e60,#e60,#e60,#e50,#e40,#e20,#e00,#dd0,#da0,#d60,#d20,#cd0,#c80,#c30,#be0,#b80,#b30,#ae0,#aa0,#a60,#a20,#9d0,#990,#940,#8f0,#8a0,#850,#7f0,#780,#6f0)"></i><i style="background:linear-gradient(90deg,#2c0,#260,#210,#1d0,#1b0,#1a0,#1a0,#1a0,#1a0,#1b0,#1c0,#1d0,#210,#2b0,#380,#430,#4b0,#520,#580,#5d0,#620,#670,#6c0,#720,#770,#7d0,#820,#880,#8d0,#910,#950,#980,#9a0,#9c0,#9e0,#a00,#a20,#a40,#a50,#a60,#a80,#a90,#a90,#aa0,#aa0,#ab0,#ab0,#ab0,#ab0,#ac0,#ac0,#ad0,#ae0,#af0,#b10,#b40,#b70,#ba0,#bf0,#c30,#c80,#cd0,#d20,#d60,#da0,#dd0,#df0,#e00,#e10,#e10,#e00,#df0,#dd0,#da0,#d80,#d40,#d00,#cc0,#c70,#c20,#bd0,#b70,#b20,#ad0,#a80,#a40,#a00,#9c0,#980,#930,#8e0,#880,#820,#7b0,#730,#690,#5c0)"></i><i style="background:linear-gradient(90deg,#290,#230,#1f0,#1c0,#1a0,#190,#190,#190,#190,#1a0,#1a0,#190,#190,#190,#200,#2d0,#3a0,#430,#4a0,#510,#560,#5c0,#620,#680,#6e0,#750,#7b0,#810,#860,#8b0,#8f0,#920,#950,#970,#990,#9b0,#9c0,#9e0,#a00,#a10,#a20,#a30,#a40,#a40,#a50,#a50,#a50,#a60,#a60,#a60,#a60,#a70,#a70,#a80,#aa0,#ac0,#af0,#b30,#b70,#bb0,#c00,#c50,#ca0,#ce0,#d20,#d50,#d80,#d90,#da0,#da0,#da0,#d80,#d60,#d40,#d10,#cd0,#c90,#c50,#c00,#ba0,#b50,#af0,#aa0,#a50,#a10,#9e0,#9a0,#960,#910,#8c0,#860,#7f0,#780,#6f0,#630,#4f0,#2c0)"></i><i style="background:linear-gradient(90deg,#2c0,#260,#210,#1d0,#1b0,#1a0,#190,#190,#1a0,#1a0,#1a0,#1a0,#190,#170,#130,#100,#1e0,#2c0,#370,#3f0,#460,#4d0,#540,#5b0,#630,#6b0,#720,#790,#7e0,#840,#880,#8c0,#8f0,#910,#930,#950,#960,#980,#9a0,#9b0,#9c0,#9d0,#9e0,#9e0,#9f0,#9f0,#9f0,#9f0,#9f0,#9f0,#9f0,#9f0,#a00,#a10,#a20,#a40,#a60,#a90,#ad0,#b20,#b70,#bc0,#c10,#c50,#c90,#cd0,#cf0,#d10,#d20,#d20,#d20,#d00,#ce0,#cc0,#c90,#c50,#c10,#bc0,#b60,#b10,#ab0,#a50,#a00,#9c0,#990,#970,#930,#8f0,#8a0,#840,#7c0,#740,#6a0,#5b0,#220,#220,#350)"></i><i style="background:linear-gradient(90deg,#370,#300,#2a0,#240,#200,#1d0,#1c0,#1b0,#1c0,#1d0,#1e0,#220,#290,#310,#360,#340,#2c0,#1a0,#0a0,#150,#250,#320,#3d0,#490,#540,#5e0,#670,#6e0,#750,#7b0,#800,#850,#880,#8a0,#8d0,#8e0,#900,#920,#930,#940,#960,#970,#970,#980,#980,#980,#980,#980,#980,#980,#980,#970,#970,#980,#980,#990,#9b0,#9e0,#a10,#a50,#aa0,#af0,#b50,#ba0,#be0,#c20,#c50,#c70,#c80,#c80,#c80,#c70,#c50,#c20,#be0,#ba0,#b50,#b00,#aa0,#a40,#9e0,#990,#960,#930,#910,#8f0,#8b0,#870,#810,#790,#710,#650,#1e0,#1d0,#1e0,#440,#500)"></i><i style="background:linear-gradient(90deg,#480,#440,#410,#3f0,#3c0,#3a0,#380,#370,#380,#3a0,#3d0,#410,#460,#490,#4b0,#490,#420,#350,#220,#120,#0f0,#130,#180,#1f0,#370,#4a0,#570,#620,#6a0,#720,#780,#7d0,#810,#840,#860,#880,#8a0,#8b0,#8d0,#8e0,#8f0,#900,#910,#910,#910,#910,#910,#910,#910,#900,#900,#8f0,#8f0,#8f0,#8f0,#8f0,#900,#910,#940,#970,#9b0,#a00,#a50,#aa0,#af0,#b40,#b70,#ba0,#bb0,#bc0,#bc0,#ba0,#b80,#b50,#b10,#ad0,#a70,#a10,#9b0,#960,#910,#8e0,#8c0,#8a0,#880,#860,#820,#7d0,#760,#6c0,#5b0,#1c0,#1c0,#1c0,#510,#580,#5e0)"></i><i style="background:linear-gradient(90deg,#570,#560,#550,#550,#550,#550,#550,#550,#550,#550,#560,#570,#580,#590,#5a0,#570,#510,#470,#360,#220,#160,#140,#160,#190,#1e0,#280,#3f0,#510,#5d0,#660,#6e0,#750,#7a0,#7d0,#800,#810,#830,#840,#860,#870,#880,#890,#8a0,#8a0,#8a0,#8a0,#8a0,#8a0,#890,#890,#880,#880,#870,#860,#860,#860,#860,#870,#880,#8a0,#8c0,#900,#940,#990,#9e0,#a20,#a60,#a90,#ab0,#ac0,#ac0,#ab0,#a80,#a50,#a10,#9c0,#970,#920,#8d0,#890,#860,#840,#830,#810,#7f0,#7c0,#770,#700,#660,#1f0,#1c0,#1b0,#320,#5c0,#610,#640,#670)"></i><i style="background:linear-gradient(90deg,#630,#630,#630,#640,#640,#650,#650,#650,#660,#650,#650,#650,#660,#660,#650,#630,#5e0,#540,#470,#340,#200,#180,#170,#190,#1a0,#1e0,#270,#3a0,#4c0,#5a0,#640,#6c0,#720,#760,#790,#7b0,#7c0,#7d0,#7f0,#800,#810,#820,#820,#830,#830,#830,#830,#820,#820,#810,#800,#800,#7f0,#7f0,#7e0,#7e0,#7e0,#7e0,#7f0,#800,#810,#840,#860,#8a0,#8d0,#910,#940,#970,#990,#9b0,#9b0,#9a0,#980,#950,#910,#8d0,#890,#850,#820,#7f0,#7e0,#7c0,#7a0,#780,#740,#6f0,#680,#5e0,#200,#1c0,#1c0,#610,#660,#6a0,#6c0,#6e0,#6f0)"></i><i style="background:linear-gradient(90deg,#6d0,#6d0,#6e0,#6f0,#700,#710,#710,#720,#720,#720,#710,#710,#700,#700,#6f0,#6d0,#680,#600,#540,#450,#300,#1f0,#190,#190,#190,#190,#1e0,#290,#3b0,#4c0,#590,#630,#6a0,#6f0,#720,#740,#750,#760,#770,#780,#790,#7a0,#7a0,#7b0,#7b0,#7b0,#7b0,#7a0,#7a0,#790,#790,#780,#770,#770,#770,#770,#770,#770,#770,#780,#790,#7a0,#7c0,#7e0,#800,#830,#860,#880,#8a0,#8b0,#8b0,#8a0,#890,#860,#840,#810,#7e0,#7b0,#790,#770,#770,#750,#720,#6e0,#670,#5e0,#4f0,#220,#1e0,#650,#6c0,#700,#720,#740,#750,#750,#760)"></i><i style="background:linear-gradient(90deg,#750,#760,#780,#790,#7a0,#7b0,#7b0,#7c0,#7c0,#7c0,#7b0,#7a0,#7a0,#790,#780,#750,#710,#6a0,#600,#540,#430,#2c0,#1d0,#190,#170,#160,#180,#1e0,#2c0,#3e0,#4d0,#590,#620,#670,#6a0,#6c0,#6d0,#6e0,#6f0,#700,#710,#710,#720,#720,#720,#720,#720,#720,#710,#710,#700,#700,#6f0,#6f0,#700,#700,#700,#700,#700,#700,#710,#710,#720,#740,#750,#770,#790,#7b0,#7c0,#7d0,#7d0,#7d0,#7b0,#7a0,#780,#750,#730,#710,#700,#700,#6f0,#6e0,#6a0,#630,#580,#450,#260,#690,#700,#750,#790,#7b0,#7c0,#7d0,#7c0,#7c0,#7c0)"></i><i style="background:linear-gradient(90deg,#7d0,#7e0,#800,#810,#820,#830,#840,#840,#840,#840,#840,#830,#820,#810,#7f0,#7d0,#790,#730,#6a0,#600,#540,#440,#2c0,#1b0,#160,#140,#130,#160,#200,#300,#410,#4f0,#580,#5e0,#610,#630,#640,#640,#650,#660,#670,#670,#680,#680,#680,#680,#680,#680,#670,#670,#670,#670,#670,#670,#680,#680,#690,#690,#690,#690,#690,#680,#690,#690,#6a0,#6c0,#6d0,#6e0,#6f0,#700,#700,#700,#6f0,#6d0,#6b0,#6a0,#680,#670,#670,#670,#670,#660,#610,#570,#390,#5f0,#740,#7a0,#7e0,#810,#830,#840,#840,#840,#830,#820,#810)"></i><i style="background:linear-gradient(90deg,#830,#850,#870,#880,#8a0,#8b0,#8c0,#8c0,#8c0,#8c0,#8b0,#8a0,#890,#880,#860,#830,#800,#7a0,#730,#6b0,#610,#560,#4a0,#3a0,#1d0,#120,#0f0,#0e0,#140,#220,#330,#420,#4d0,#530,#570,#580,#580,#590,#590,#5a0,#5b0,#5b0,#5c0,#5c0,#5c0,#5c0,#5c0,#5c0,#5b0,#5b0,#5b0,#5c0,#5d0,#5e0,#5f0,#600,#610,#610,#610,#600,#600,#5f0,#5e0,#5e0,#5e0,#5e0,#5f0,#600,#610,#610,#610,#610,#600,#5f0,#5d0,#5c0,#5b0,#5b0,#5c0,#5d0,#5e0,#5c0,#470,#340,#770,#7e0,#830,#870,#890,#8b0,#8c0,#8c0,#8c0,#8b0,#890,#880,#860)"></i><i style="background:linear-gradient(90deg,#890,#8b0,#8d0,#8f0,#900,#910,#920,#930,#930,#920,#920,#910,#8f0,#8e0,#8c0,#8a0,#860,#810,#7b0,#740,#6c0,#640,#5b0,#510,#480,#3f0,#350,#2b0,#080,#100,#220,#320,#3f0,#460,#490,#490,#490,#480,#480,#480,#490,#490,#4a0,#4a0,#4b0,#4b0,#4b0,#4b0,#4b0,#4c0,#4d0,#4f0,#510,#530,#550,#570,#580,#580,#580,#570,#550,#530,#510,#4f0,#4d0,#4c0,#4b0,#4b0,#360,#290,#2a0,#2b0,#2d0,#2e0,#300,#330,#3f0,#460,#4b0,#4f0,#4b0,#3c0,#390,#800,#860,#8b0,#8e0,#910,#920,#930,#940,#930,#920,#910,#8f0,#8d0,#8b0)"></i><i style="background:linear-gradient(90deg,#8f0,#910,#930,#950,#960,#980,#980,#990,#990,#990,#980,#970,#950,#940,#920,#8f0,#8c0,#880,#820,#7c0,#760,#6e0,#670,#600,#590,#520,#4b0,#450,#3f0,#380,#2e0,#1a0,#260,#2f0,#300,#2b0,#1f0,#1b0,#180,#170,#160,#150,#150,#150,#160,#160,#180,#1a0,#200,#2c0,#350,#3b0,#400,#450,#480,#4b0,#4c0,#4c0,#4c0,#4a0,#460,#420,#3b0,#310,#2a0,#280,#280,#290,#2b0,#2c0,#2e0,#2f0,#310,#330,#360,#3a0,#3f0,#470,#590,#6b0,#780,#810,#880,#8e0,#920,#960,#980,#990,#9a0,#9b0,#9a0,#9a0,#980,#960,#940,#920,#900)"></i><i style="background:linear-gradient(90deg,#940,#960,#980,#9a0,#9c0,#9d0,#9e0,#9e0,#9e0,#9e0,#9d0,#9c0,#9b0,#990,#970,#940,#910,#8d0,#890,#830,#7e0,#770,#710,#6b0,#650,#5f0,#5a0,#550,#500,#4b0,#450,#3d0,#330,#210,#180,#180,#180,#170,#160,#160,#150,#150,#150,#150,#150,#160,#160,#170,#190,#1b0,#1d0,#200,#220,#290,#270,#290,#2a0,#2b0,#2b0,#380,#370,#2f0,#2c0,#2b0,#2b0,#2b0,#2c0,#2d0,#2e0,#300,#320,#340,#380,#3d0,#460,#590,#690,#730,#7c0,#840,#8a0,#900,#950,#990,#9c0,#9f0,#a00,#a10,#a10,#a10,#a10,#a00,#9e0,#9c0,#9a0,#970,#950)"></i><i style="background:linear-gradient(90deg,#990,#9b0,#9d0,#9f0,#a10,#a20,#a30,#a40,#a40,#a30,#a20,#a10,#a00,#9e0,#9c0,#990,#960,#930,#8f0,#8a0,#840,#7f0,#790,#740,#6e0,#690,#650,#610,#5d0,#590,#540,#500,#4a0,#430,#3a0,#2a0,#1d0,#190,#180,#170,#160,#160,#160,#160,#160,#170,#180,#1a0,#1f0,#2a0,#370,#400,#460,#4b0,#4f0,#520,#540,#560,#560,#550,#540,#520,#500,#4e0,#4c0,#4b0,#4a0,#4a0,#4d0,#540,#5b0,#620,#690,#6f0,#760,#7c0,#820,#880,#8d0,#930,#970,#9c0,#9f0,#a20,#a50,#a60,#a70,#a80,#a80,#a70,#a60,#a50,#a30,#a10,#9f0,#9c0,#9a0)"></i><i style="background:linear-gradient(90deg,#9d0,#a00,#a20,#a40,#a60,#a70,#a80,#a80,#a80,#a80,#a70,#a60,#a50,#a30,#a10,#9e0,#9b0,#980,#940,#8f0,#8b0,#860,#810,#7c0,#770,#720,#6e0,#6a0,#670,#640,#600,#5d0,#5a0,#560,#530,#500,#4d0,#4c0,#4b0,#4b0,#4b0,#4b0,#4c0,#4c0,#4c0,#4c0,#4d0,#4d0,#4f0,#500,#520,#550,#570,#5a0,#5d0,#5f0,#610,#620,#620,#620,#620,#620,#620,#620,#630,#650,#670,#690,#6c0,#700,#740,#780,#7d0,#810,#860,#8b0,#900,#950,#990,#9e0,#a20,#a50,#a80,#aa0,#ac0,#ad0,#ae0,#ae0,#ae0,#ad0,#ac0,#aa0,#a80,#a60,#a40,#a20,#9f0)"></i><i style="background:linear-gradient(90deg,#a10,#a40,#a60,#a80,#aa0,#ab0,#ac0,#ad0,#ad0,#ac0,#ac0,#aa0,#a90,#a70,#a50,#a20,#a00,#9c0,#990,#950,#900,#8c0,#870,#820,#7e0,#7a0,#760,#730,#700,#6d0,#6b0,#680,#660,#640,#620,#610,#600,#600,#600,#600,#600,#600,#600,#600,#600,#600,#600,#600,#600,#600,#610,#620,#640,#650,#670,#690,#6a0,#6b0,#6c0,#6c0,#6c0,#6d0,#6d0,#6e0,#700,#720,#740,#770,#7a0,#7d0,#800,#840,#880,#8d0,#910,#960,#9a0,#9f0,#a30,#a70,#aa0,#ad0,#b00,#b20,#b30,#b40,#b40,#b40,#b30,#b20,#b10,#af0,#ad0,#ab0,#a90,#a70,#a40)"></i><i style="background:linear-gradient(90deg,#a50,#a80,#aa0,#ac0,#ae0,#af0,#b00,#b00,#b10,#b00,#b00,#af0,#ad0,#ab0,#a90,#a70,#a40,#a10,#9d0,#990,#950,#910,#8d0,#890,#850,#810,#7e0,#7b0,#780,#760,#740,#720,#700,#6f0,#6e0,#6d0,#6d0,#6d0,#6e0,#6e0,#6e0,#6e0,#6e0,#6e0,#6d0,#6d0,#6d0,#6c0,#6c0,#6c0,#6c0,#6d0,#6d0,#6e0,#700,#710,#720,#730,#730,#740,#750,#750,#760,#770,#790,#7b0,#7d0,#800,#830,#860,#8a0,#8d0,#910,#950,#9a0,#9e0,#a20,#a60,#aa0,#ae0,#b10,#b40,#b60,#b80,#b90,#b90,#b90,#b90,#b80,#b70,#b60,#b40,#b20,#b00,#ae0,#ab0,#a80)"></i><i style="background:linear-gradient(90deg,#a80,#ab0,#ae0,#b00,#b10,#b30,#b30,#b40,#b40,#b40,#b30,#b20,#b10,#af0,#ad0,#aa0,#a80,#a50,#a10,#9e0,#9a0,#960,#920,#8e0,#8b0,#880,#850,#820,#800,#7e0,#7c0,#7b0,#7a0,#790,#780,#780,#780,#790,#790,#790,#790,#790,#790,#780,#780,#780,#770,#770,#760,#760,#760,#760,#760,#760,#770,#780,#790,#790,#7a0,#7b0,#7b0,#7c0,#7d0,#7f0,#810,#830,#850,#880,#8b0,#8e0,#910,#950,#980,#9c0,#a10,#a50,#a90,#ad0,#b10,#b40,#b70,#ba0,#bc0,#bd0,#be0,#be0,#be0,#be0,#bd0,#bb0,#ba0,#b80,#b60,#b40,#b20,#af0,#ad0)"></i><i style="background:linear-gradient(90deg,#ab0,#ae0,#b10,#b30,#b40,#b60,#b70,#b70,#b70,#b70,#b60,#b60,#b40,#b30,#b00,#ae0,#ab0,#a80,#a50,#a20,#9e0,#9b0,#970,#940,#910,#8e0,#8b0,#890,#870,#860,#840,#830,#830,#820,#820,#820,#820,#830,#830,#830,#830,#830,#820,#820,#820,#810,#800,#800,#7f0,#7e0,#7e0,#7d0,#7d0,#7d0,#7e0,#7e0,#7f0,#7f0,#800,#810,#810,#820,#840,#850,#870,#890,#8b0,#8e0,#910,#940,#970,#9b0,#9e0,#a20,#a60,#ab0,#af0,#b30,#b60,#ba0,#bd0,#bf0,#c10,#c20,#c30,#c30,#c20,#c20,#c10,#bf0,#be0,#bc0,#ba0,#b80,#b60,#b30,#b00)"></i><i style="background:linear-gradient(90deg,#ae0,#b10,#b30,#b50,#b70,#b80,#b90,#ba0,#ba0,#ba0,#b90,#b90,#b70,#b60,#b40,#b20,#af0,#ac0,#a90,#a60,#a30,#9f0,#9c0,#990,#970,#940,#920,#900,#8f0,#8d0,#8d0,#8c0,#8b0,#8b0,#8b0,#8c0,#8c0,#8c0,#8c0,#8c0,#8c0,#8c0,#8c0,#8b0,#8a0,#890,#890,#880,#870,#860,#850,#840,#840,#840,#840,#840,#840,#850,#850,#860,#870,#880,#890,#8b0,#8c0,#8e0,#910,#930,#960,#990,#9c0,#a00,#a30,#a70,#ab0,#af0,#b30,#b70,#bb0,#be0,#c10,#c30,#c50,#c60,#c70,#c70,#c60,#c50,#c40,#c30,#c10,#bf0,#be0,#bb0,#b90,#b60,#b30)"></i><i style="background:linear-gradient(90deg,#b00,#b30,#b60,#b80,#b90,#bb0,#bb0,#bc0,#bc0,#bc0,#bc0,#bb0,#ba0,#b90,#b70,#b50,#b30,#b00,#ad0,#aa0,#a70,#a40,#a10,#9f0,#9d0,#9b0,#990,#980,#960,#960,#950,#950,#950,#950,#950,#950,#950,#960,#960,#960,#950,#950,#940,#940,#930,#920,#910,#8f0,#8e0,#8d0,#8c0,#8b0,#8a0,#8a0,#890,#890,#890,#8a0,#8a0,#8b0,#8b0,#8c0,#8e0,#8f0,#910,#930,#950,#980,#9b0,#9e0,#a10,#a40,#a80,#ac0,#b00,#b40,#b80,#bb0,#bf0,#c20,#c50,#c70,#c90,#ca0,#ca0,#ca0,#ca0,#c90,#c70,#c60,#c40,#c20,#c00,#be0,#bc0,#b90,#b60)"></i><i style="background:linear-gradient(90deg,#b20,#b50,#b70,#b90,#bb0,#bc0,#bd0,#be0,#be0,#be0,#be0,#bd0,#bd0,#bb0,#ba0,#b80,#b60,#b40,#b10,#af0,#ac0,#a90,#a70,#a50,#a30,#a20,#a10,#a00,#9f0,#9f0,#9f0,#9f0,#9f0,#9f0,#9f0,#9f0,#a00,#a00,#a00,#9f0,#9f0,#9e0,#9e0,#9d0,#9b0,#9a0,#990,#970,#960,#940,#930,#920,#910,#900,#8f0,#8e0,#8e0,#8e0,#8f0,#8f0,#900,#910,#920,#940,#950,#970,#990,#9c0,#9f0,#a20,#a50,#a80,#ab0,#af0,#b30,#b70,#bb0,#bf0,#c20,#c60,#c80,#cb0,#cc0,#cd0,#cd0,#cd0,#cc0,#cb0,#ca0,#c80,#c70,#c50,#c30,#c00,#be0,#bb0,#b80)"></i><i style="background:linear-gradient(90deg,#b40,#b60,#b90,#bb0,#bd0,#be0,#bf0,#bf0,#c00,#c00,#c00,#c00,#bf0,#be0,#bd0,#bb0,#b90,#b70,#b50,#b30,#b10,#af0,#ad0,#ac0,#ab0,#aa0,#a90,#a90,#a90,#a90,#a90,#aa0,#aa0,#aa0,#ab0,#ab0,#ab0,#ab0,#aa0,#aa0,#a90,#a90,#a70,#a60,#a50,#a30,#a10,#9f0,#9e0,#9c0,#9a0,#980,#970,#960,#940,#940,#930,#930,#930,#930,#940,#950,#960,#970,#990,#9b0,#9d0,#9f0,#a20,#a50,#a80,#ab0,#af0,#b20,#b60,#ba0,#be0,#c20,#c50,#c80,#cb0,#cd0,#cf0,#d00,#d00,#d00,#cf0,#ce0,#cc0,#ca0,#c80,#c70,#c40,#c20,#c00,#bd0,#ba0)"></i><i style="background:linear-gradient(90deg,#b50,#b70,#ba0,#bc0,#be0,#bf0,#c00,#c10,#c10,#c10,#c10,#c10,#c10,#c00,#bf0,#be0,#bd0,#bb0,#ba0,#b80,#b70,#b50,#b40,#b40,#b30,#b30,#b30,#b40,#b40,#b40,#b50,#b50,#b60,#b60,#b60,#b70,#b70,#b60,#b60,#b50,#b50,#b40,#b20,#b10,#af0,#ad0,#ab0,#a80,#a60,#a40,#a20,#a00,#9e0,#9c0,#9a0,#990,#980,#980,#970,#970,#980,#990,#990,#9b0,#9c0,#9e0,#a00,#a20,#a50,#a80,#ab0,#ae0,#b10,#b50,#b80,#bc0,#c00,#c40,#c80,#cb0,#cd0,#cf0,#d10,#d20,#d20,#d10,#d10,#cf0,#ce0,#cc0,#ca0,#c80,#c60,#c40,#c10,#bf0,#bc0)"></i><i style="background:linear-gradient(90deg,#b50,#b80,#bb0,#bd0,#be0,#c00,#c10,#c10,#c20,#c30,#c30,#c30,#c30,#c30,#c20,#c10,#c00,#bf0,#be0,#bd0,#bd0,#bc0,#bc0,#bc0,#bc0,#bc0,#bd0,#be0,#be0,#bf0,#c00,#c10,#c10,#c20,#c20,#c20,#c20,#c20,#c20,#c10,#c00,#bf0,#be0,#bc0,#ba0,#b70,#b50,#b20,#af0,#ad0,#aa0,#a70,#a50,#a30,#a10,#9f0,#9e0,#9d0,#9c0,#9c0,#9c0,#9c0,#9d0,#9e0,#9f0,#a10,#a30,#a50,#a70,#aa0,#ad0,#b00,#b30,#b70,#ba0,#be0,#c20,#c60,#c90,#cc0,#cf0,#d10,#d20,#d30,#d30,#d30,#d20,#d00,#cf0,#cd0,#cb0,#c90,#c70,#c50,#c20,#c00,#bd0)"></i><i style="background:linear-gradient(90deg,#b50,#b80,#bb0,#bd0,#bf0,#c00,#c10,#c20,#c30,#c40,#c40,#c50,#c50,#c50,#c40,#c40,#c40,#c30,#c30,#c20,#c20,#c20,#c30,#c30,#c40,#c50,#c60,#c70,#c80,#c90,#ca0,#ca0,#cb0,#cc0,#cc0,#cc0,#cc0,#cc0,#cc0,#cc0,#cb0,#ca0,#c80,#c60,#c40,#c20,#bf0,#bc0,#b90,#b60,#b30,#b00,#ad0,#aa0,#a70,#a50,#a30,#a20,#a10,#a00,#a00,#a00,#a00,#a10,#a20,#a30,#a50,#a70,#a90,#ac0,#af0,#b20,#b50,#b80,#bc0,#bf0,#c30,#c70,#ca0,#cd0,#d00,#d20,#d30,#d40,#d40,#d40,#d30,#d10,#cf0,#cd0,#cb0,#c90,#c70,#c50,#c30,#c00,#bd0)"></i><i style="background:linear-gradient(90deg,#b50,#b80,#bb0,#bd0,#bf0,#c00,#c20,#c30,#c40,#c50,#c50,#c60,#c60,#c70,#c70,#c70,#c70,#c70,#c70,#c70,#c80,#c80,#c90,#ca0,#cb0,#cc0,#ce0,#cf0,#d00,#d10,#d20,#d30,#d40,#d40,#d50,#d50,#d50,#d50,#d50,#d50,#d40,#d30,#d20,#d00,#ce0,#cc0,#c90,#c60,#c20,#bf0,#bb0,#b80,#b40,#b10,#ae0,#ab0,#a90,#a70,#a60,#a40,#a40,#a30,#a30,#a40,#a40,#a60,#a70,#a90,#ab0,#ad0,#b00,#b30,#b60,#b90,#bd0,#c00,#c40,#c80,#cb0,#ce0,#d00,#d20,#d40,#d40,#d40,#d40,#d30,#d10,#d00,#ce0,#cb0,#c90,#c70,#c50,#c30,#c00,#bd0)"></i><i style="background:linear-gradient(90deg,#b50,#b80,#ba0,#bd0,#bf0,#c00,#c20,#c30,#c40,#c50,#c60,#c70,#c80,#c80,#c90,#c90,#ca0,#ca0,#cb0,#cb0,#cc0,#ce0,#cf0,#d00,#d20,#d30,#d40,#d60,#d70,#d80,#d90,#da0,#db0,#dc0,#dc0,#dd0,#dd0,#dd0,#dd0,#dd0,#dd0,#dc0,#da0,#d90,#d70,#d40,#d10,#ce0,#ca0,#c70,#c30,#bf0,#bb0,#b80,#b40,#b10,#af0,#ac0,#aa0,#a80,#a70,#a70,#a60,#a60,#a70,#a80,#a90,#aa0,#ac0,#ae0,#b10,#b30,#b60,#b90,#bd0,#c00,#c40,#c80,#cb0,#ce0,#d00,#d20,#d30,#d40,#d40,#d40,#d30,#d10,#cf0,#cd0,#cb0,#c90,#c70,#c50,#c20,#c00,#bd0)"></i><i style="background:linear-gradient(90deg,#b40,#b70,#b90,#bc0,#be0,#c00,#c10,#c30,#c40,#c50,#c60,#c80,#c80,#c90,#ca0,#cb0,#cc0,#cd0,#ce0,#cf0,#d10,#d20,#d40,#d50,#d70,#d90,#da0,#dc0,#dd0,#de0,#df0,#e00,#e10,#e20,#e30,#e30,#e40,#e40,#e40,#e40,#e40,#e30,#e20,#e00,#de0,#dc0,#d90,#d50,#d20,#ce0,#ca0,#c60,#c20,#be0,#ba0,#b70,#b40,#b10,#ae0,#ac0,#ab0,#aa0,#a90,#a90,#a90,#a90,#aa0,#ab0,#ad0,#af0,#b10,#b40,#b60,#b90,#bd0,#c00,#c40,#c70,#ca0,#cd0,#d00,#d10,#d30,#d30,#d30,#d30,#d20,#d00,#cf0,#cd0,#cb0,#c90,#c60,#c40,#c20,#bf0,#bc0)"></i><i style="background:linear-gradient(90deg,#b20,#b50,#b80,#bb0,#bd0,#bf0,#c10,#c20,#c40,#c50,#c70,#c80,#c90,#ca0,#cb0,#cd0,#ce0,#cf0,#d10,#d30,#d40,#d60,#d80,#da0,#dc0,#de0,#df0,#e10,#e20,#e30,#e40,#e50,#e60,#e70,#e80,#e90,#e90,#ea0,#ea0,#ea0,#ea0,#e90,#e80,#e70,#e50,#e20,#df0,#dc0,#d80,#d40,#d00,#cc0,#c80,#c30,#bf0,#bc0,#b80,#b50,#b20,#b00,#ae0,#ad0,#ab0,#ab0,#aa0,#ab0,#ab0,#ac0,#ae0,#af0,#b10,#b40,#b60,#b90,#bc0,#bf0,#c30,#c60,#c90,#cc0,#ce0,#d00,#d10,#d20,#d20,#d20,#d10,#cf0,#cd0,#cc0,#ca0,#c80,#c50,#c30,#c10,#be0,#bb0)"></i><i style="background:linear-gradient(90deg,#b00,#b40,#b70,#b90,#bb0,#be0,#c00,#c10,#c30,#c50,#c60,#c80,#c90,#cb0,#cc0,#ce0,#cf0,#d10,#d30,#d50,#d70,#d90,#dc0,#de0,#e00,#e20,#e30,#e50,#e60,#e80,#e90,#ea0,#eb0,#ec0,#ed0,#ed0,#ee0,#ef0,#ef0,#ef0,#ef0,#ef0,#ee0,#ec0,#ea0,#e80,#e50,#e20,#de0,#da0,#d50,#d10,#cd0,#c80,#c40,#c00,#bd0,#b90,#b60,#b30,#b10,#af0,#ae0,#ad0,#ac0,#ac0,#ac0,#ad0,#ae0,#af0,#b10,#b30,#b50,#b80,#bb0,#be0,#c10,#c40,#c70,#ca0,#cc0,#ce0,#cf0,#d00,#d00,#d00,#cf0,#cd0,#cc0,#ca0,#c80,#c60,#c40,#c10,#bf0,#bc0,#b90)"></i><i style="background:linear-gradient(90deg,#ae0,#b10,#b40,#b70,#ba0,#bc0,#be0,#c00,#c20,#c40,#c50,#c70,#c90,#cb0,#cd0,#ce0,#d10,#d30,#d50,#d70,#da0,#dc0,#de0,#e10,#e30,#e50,#e70,#e80,#ea0,#eb0,#ec0,#ed0,#ee0,#ef0,#f00,#f10,#f20,#f30,#f40,#f40,#f40,#f30,#f30,#f10,#ef0,#ed0,#ea0,#e60,#e30,#de0,#da0,#d60,#d10,#cd0,#c80,#c40,#c00,#bd0,#b90,#b60,#b40,#b10,#af0,#ae0,#ad0,#ac0,#ac0,#ad0,#ad0,#af0,#b00,#b20,#b40,#b70,#b90,#bc0,#bf0,#c20,#c50,#c80,#ca0,#cc0,#cd0,#ce0,#ce0,#cd0,#cc0,#cb0,#ca0,#c80,#c60,#c40,#c20,#bf0,#bd0,#ba0,#b70)"></i><i style="background:linear-gradient(90deg,#ac0,#af0,#b20,#b50,#b70,#ba0,#bc0,#be0,#c00,#c20,#c40,#c60,#c80,#ca0,#cc0,#cf0,#d10,#d30,#d60,#d90,#db0,#de0,#e00,#e30,#e50,#e80,#e90,#eb0,#ed0,#ee0,#ef0,#f00,#f10,#f20,#f40,#f50,#f60,#f70,#f70,#f80,#f80,#f70,#f70,#f50,#f30,#f10,#ee0,#eb0,#e70,#e20,#de0,#d90,#d50,#d00,#cc0,#c70,#c30,#c00,#bc0,#b90,#b60,#b30,#b10,#af0,#ae0,#ad0,#ac0,#ac0,#ad0,#ae0,#af0,#b10,#b20,#b50,#b70,#ba0,#bd0,#c00,#c30,#c50,#c70,#c90,#ca0,#cb0,#cb0,#ca0,#ca0,#c80,#c70,#c50,#c30,#c10,#bf0,#bd0,#ba0,#b70,#b40)"></i><i style="background:linear-gradient(90deg,#a90,#ac0,#af0,#b20,#b50,#b70,#ba0,#bc0,#be0,#c00,#c20,#c50,#c70,#c90,#cc0,#ce0,#d10,#d40,#d70,#d90,#dc0,#df0,#e20,#e50,#e70,#e90,#ec0,#ed0,#ef0,#f00,#f20,#f30,#f40,#f50,#f60,#f70,#f80,#f90,#fa0,#fb0,#fb0,#fb0,#fa0,#f90,#f70,#f40,#f10,#ee0,#ea0,#e60,#e10,#dc0,#d80,#d30,#ce0,#ca0,#c60,#c20,#be0,#bb0,#b80,#b50,#b20,#b00,#ae0,#ad0,#ac0,#ac0,#ac0,#ac0,#ad0,#af0,#b00,#b20,#b50,#b70,#ba0,#bd0,#bf0,#c20,#c40,#c50,#c60,#c70,#c70,#c70,#c60,#c50,#c40,#c20,#c00,#be0,#bc0,#ba0,#b70,#b40,#b10)"></i><i style="background:linear-gradient(90deg,#a50,#a90,#ac0,#af0,#b10,#b40,#b70,#b90,#bb0,#be0,#c00,#c30,#c50,#c80,#cb0,#cd0,#d00,#d30,#d70,#da0,#dd0,#e00,#e30,#e60,#e80,#eb0,#ed0,#ef0,#f00,#f20,#f30,#f40,#f50,#f70,#f80,#f90,#fa0,#fc0,#fc0,#fd0,#fd0,#fd0,#fc0,#fb0,#f90,#f70,#f40,#f00,#ed0,#e80,#e40,#df0,#da0,#d50,#d10,#cc0,#c80,#c40,#c00,#bc0,#b90,#b60,#b30,#b10,#af0,#ad0,#ac0,#ab0,#ab0,#ab0,#ac0,#ad0,#ae0,#b00,#b20,#b40,#b70,#b90,#bc0,#be0,#c00,#c10,#c20,#c30,#c30,#c30,#c20,#c10,#c00,#be0,#bc0,#ba0,#b80,#b60,#b30,#b10,#ae0)"></i><i style="background:linear-gradient(90deg,#a20,#a50,#a80,#ab0,#ae0,#b10,#b30,#b60,#b80,#bb0,#be0,#c00,#c30,#c60,#c90,#cc0,#cf0,#d30,#d60,#d90,#dd0,#e00,#e30,#e60,#e90,#eb0,#ee0,#f00,#f10,#f30,#f40,#f50,#f60,#f80,#f90,#fb0,#fc0,#fd0,#fe0,#ff0,#ff0,#ff0,#fe0,#fd0,#fb0,#f90,#f60,#f20,#ee0,#ea0,#e60,#e10,#dc0,#d70,#d20,#ce0,#ca0,#c50,#c10,#be0,#ba0,#b70,#b40,#b10,#af0,#ad0,#ab0,#aa0,#a90,#a90,#a90,#aa0,#ab0,#ad0,#ae0,#b00,#b30,#b50,#b70,#b90,#bb0,#bd0,#be0,#be0,#be0,#be0,#be0,#bd0,#bb0,#ba0,#b80,#b60,#b40,#b20,#af0,#ad0,#aa0)"></i><i style="background:linear-gradient(90deg,#9e0,#a10,#a40,#a70,#aa0,#ad0,#af0,#b20,#b50,#b80,#ba0,#bd0,#c00,#c40,#c70,#ca0,#ce0,#d10,#d50,#d80,#dc0,#df0,#e30,#e60,#e90,#eb0,#ee0,#f00,#f20,#f30,#f50,#f60,#f70,#f80,#fa0,#fb0,#fd0,#fe0,#ff0,#ff0,#ff0,#ff0,#ff0,#fe0,#fc0,#fa0,#f70,#f40,#f00,#eb0,#e70,#e20,#dd0,#d80,#d40,#cf0,#cb0,#c60,#c20,#bf0,#bb0,#b70,#b40,#b10,#ae0,#ac0,#aa0,#a90,#a70,#a70,#a70,#a70,#a80,#a90,#ab0,#ac0,#ae0,#b00,#b20,#b40,#b60,#b80,#b90,#b90,#b90,#b90,#b90,#b80,#b60,#b50,#b30,#b10,#af0,#ad0,#ab0,#a80,#a50)"></i><i style="background:linear-gradient(90deg,#9a0,#9d0,#a00,#a30,#a60,#a90,#ab0,#ae0,#b10,#b40,#b70,#ba0,#bd0,#c10,#c40,#c80,#cb0,#cf0,#d30,#d70,#db0,#de0,#e20,#e50,#e80,#eb0,#ed0,#ef0,#f10,#f30,#f40,#f60,#f70,#f80,#fa0,#fc0,#fd0,#fe0,#ff0,#ff0,#ff0,#ff0,#ff0,#ff0,#fd0,#fb0,#f80,#f40,#f00,#ec0,#e70,#e30,#de0,#d90,#d40,#d00,#cb0,#c70,#c30,#bf0,#bb0,#b70,#b40,#b10,#ae0,#ab0,#a90,#a70,#a50,#a40,#a40,#a40,#a40,#a50,#a60,#a80,#aa0,#ac0,#ad0,#af0,#b10,#b20,#b30,#b40,#b40,#b40,#b30,#b20,#b10,#b00,#ae0,#ac0,#aa0,#a80,#a60,#a30,#a00)"></i><i style="background:linear-gradient(90deg,#950,#990,#9c0,#9e0,#a10,#a40,#a70,#aa0,#ad0,#b00,#b30,#b60,#b90,#bd0,#c10,#c50,#c90,#cd0,#d10,#d50,#d90,#dc0,#e00,#e30,#e70,#ea0,#ec0,#ee0,#f00,#f20,#f40,#f50,#f60,#f80,#f90,#fb0,#fd0,#fe0,#ff0,#ff0,#ff0,#ff0,#ff0,#ff0,#fd0,#fa0,#f80,#f40,#f00,#ec0,#e70,#e30,#de0,#d90,#d40,#d00,#cb0,#c70,#c30,#bf0,#bb0,#b70,#b30,#b00,#ad0,#aa0,#a70,#a50,#a30,#a20,#a10,#a10,#a10,#a10,#a20,#a30,#a50,#a60,#a80,#a90,#ab0,#ac0,#ad0,#ae0,#ae0,#ae0,#ad0,#ac0,#ab0,#aa0,#a80,#a70,#a50,#a30,#a00,#9e0,#9b0)"></i><i style="background:linear-gradient(90deg,#910,#940,#970,#9a0,#9d0,#9f0,#a20,#a50,#a80,#ab0,#ae0,#b20,#b50,#b90,#bd0,#c10,#c50,#c90,#ce0,#d20,#d60,#da0,#de0,#e10,#e50,#e80,#ea0,#ed0,#ef0,#f10,#f20,#f40,#f50,#f70,#f90,#fa0,#fc0,#fd0,#fe0,#ff0,#ff0,#ff0,#ff0,#fe0,#fc0,#fa0,#f70,#f30,#f00,#eb0,#e70,#e20,#dd0,#d80,#d40,#cf0,#cb0,#c70,#c30,#bf0,#bb0,#b70,#b30,#af0,#ac0,#a80,#a50,#a30,#a10,#9f0,#9e0,#9d0,#9d0,#9d0,#9d0,#9e0,#9f0,#a10,#a20,#a40,#a50,#a60,#a70,#a70,#a80,#a70,#a70,#a60,#a50,#a40,#a20,#a10,#9f0,#9d0,#9b0,#980,#960)"></i><i style="background:linear-gradient(90deg,#8c0,#8f0,#920,#950,#980,#9a0,#9d0,#a00,#a30,#a60,#a90,#ad0,#b10,#b50,#b90,#bd0,#c10,#c60,#ca0,#ce0,#d30,#d70,#db0,#df0,#e20,#e50,#e80,#ea0,#ed0,#ef0,#f00,#f20,#f40,#f50,#f70,#f90,#fa0,#fb0,#fd0,#fd0,#fe0,#fe0,#fd0,#fc0,#fa0,#f80,#f50,#f20,#ee0,#ea0,#e50,#e10,#dc0,#d70,#d30,#ce0,#ca0,#c60,#c20,#be0,#ba0,#b60,#b20,#ae0,#aa0,#a70,#a40,#a10,#9e0,#9c0,#9a0,#990,#980,#980,#980,#990,#9a0,#9b0,#9c0,#9d0,#9f0,#a00,#a10,#a10,#a10,#a10,#a10,#a00,#9f0,#9e0,#9c0,#9b0,#990,#970,#950,#930,#910)"></i><i style="background:linear-gradient(90deg,#870,#8a0,#8d0,#8f0,#920,#950,#970,#9a0,#9d0,#a00,#a40,#a80,#ab0,#b00,#b40,#b80,#bd0,#c10,#c60,#ca0,#cf0,#d30,#d70,#db0,#df0,#e20,#e50,#e80,#ea0,#ec0,#ee0,#f00,#f10,#f30,#f50,#f60,#f80,#f90,#fa0,#fb0,#fc0,#fc0,#fb0,#fa0,#f80,#f60,#f30,#f00,#ec0,#e80,#e40,#df0,#da0,#d50,#d10,#cd0,#c90,#c50,#c10,#bd0,#b90,#b50,#b10,#ad0,#a90,#a50,#a20,#9e0,#9c0,#990,#970,#950,#940,#930,#930,#930,#940,#950,#960,#970,#980,#990,#9a0,#9a0,#9b0,#9b0,#9a0,#990,#980,#970,#960,#940,#930,#910,#8f0,#8d0,#8b0)"></i><i style="background:linear-gradient(90deg,#810,#840,#860,#890,#8c0,#8e0,#910,#940,#970,#9b0,#9e0,#a20,#a60,#aa0,#ae0,#b30,#b80,#bc0,#c10,#c60,#ca0,#cf0,#d30,#d70,#db0,#de0,#e10,#e40,#e70,#e90,#eb0,#ed0,#ee0,#f00,#f20,#f30,#f50,#f60,#f70,#f80,#f90,#f90,#f80,#f70,#f50,#f30,#f00,#ed0,#e90,#e50,#e10,#dc0,#d80,#d30,#cf0,#cb0,#c70,#c30,#bf0,#bb0,#b70,#b30,#af0,#ab0,#a70,#a30,#a00,#9c0,#990,#960,#930,#910,#8f0,#8e0,#8e0,#8d0,#8e0,#8e0,#8f0,#900,#910,#920,#930,#930,#940,#940,#930,#920,#910,#900,#8f0,#8d0,#8c0,#8a0,#890,#870,#860)"></i><i style="background:linear-gradient(90deg,#790,#7c0,#7f0,#810,#840,#860,#890,#8d0,#910,#950,#990,#9c0,#a00,#a40,#a90,#ad0,#b20,#b70,#bb0,#c00,#c50,#ca0,#ce0,#d20,#d60,#da0,#dd0,#e00,#e20,#e50,#e70,#e90,#eb0,#ed0,#ee0,#f00,#f10,#f30,#f40,#f40,#f50,#f50,#f40,#f30,#f20,#f00,#ed0,#ea0,#e60,#e20,#de0,#d90,#d50,#d10,#cd0,#c90,#c50,#c10,#be0,#ba0,#b60,#b20,#ae0,#aa0,#a50,#a10,#9e0,#9a0,#960,#930,#900,#8d0,#8b0,#890,#880,#870,#870,#870,#880,#890,#8a0,#8b0,#8c0,#8c0,#8c0,#8c0,#8c0,#8b0,#8a0,#890,#880,#860,#850,#840,#820,#810,#810)"></i><i style="background:linear-gradient(90deg,#6c0,#6f0,#730,#760,#780,#7b0,#7f0,#840,#890,#8f0,#930,#970,#9b0,#9e0,#a30,#a70,#ac0,#b00,#b50,#ba0,#bf0,#c40,#c80,#cd0,#d10,#d40,#d80,#db0,#de0,#e00,#e20,#e50,#e70,#e80,#ea0,#ec0,#ed0,#ee0,#ef0,#f00,#f00,#f00,#f00,#ef0,#ed0,#eb0,#e90,#e50,#e20,#de0,#da0,#d60,#d20,#ce0,#ca0,#c60,#c30,#bf0,#bc0,#b80,#b40,#b00,#ac0,#a80,#a40,#a00,#9c0,#980,#940,#900,#8c0,#890,#860,#830,#810,#800,#7f0,#7f0,#800,#810,#820,#820,#830,#840,#840,#840,#830,#820,#820,#800,#7f0,#7e0,#7d0,#7c0,#7c0,#7b0,#7b0)"></i><i style="background:linear-gradient(90deg,#6e0,#6f0,#700,#710,#720,#740,#770,#7d0,#840,#8a0,#8e0,#920,#950,#990,#9d0,#a10,#a50,#aa0,#af0,#b40,#b80,#bd0,#c20,#c60,#cb0,#ce0,#d20,#d50,#d80,#db0,#dd0,#df0,#e10,#e30,#e50,#e60,#e80,#e90,#ea0,#eb0,#eb0,#eb0,#eb0,#ea0,#e80,#e60,#e30,#e00,#dd0,#d90,#d60,#d20,#ce0,#ca0,#c70,#c40,#c00,#bd0,#ba0,#b60,#b20,#af0,#ab0,#a60,#a20,#9e0,#9a0,#960,#920,#8d0,#890,#850,#810,#7d0,#7a0,#770,#760,#760,#760,#770,#780,#790,#790,#7a0,#7a0,#7a0,#790,#790,#780,#770,#750,#740,#740,#740,#740,#750,#760)"></i><i style="background:linear-gradient(90deg,#760,#770,#780,#790,#7a0,#7b0,#7d0,#800,#840,#880,#8c0,#8e0,#910,#940,#970,#9a0,#9e0,#a30,#a70,#ac0,#b10,#b60,#bb0,#bf0,#c30,#c70,#cb0,#cf0,#d20,#d40,#d70,#d90,#db0,#dd0,#df0,#e10,#e20,#e30,#e40,#e50,#e50,#e50,#e40,#e30,#e20,#e00,#dd0,#db0,#d80,#d40,#d10,#cd0,#ca0,#c70,#c40,#c10,#be0,#bb0,#b80,#b40,#b10,#ad0,#a90,#a50,#a10,#9d0,#980,#940,#900,#8b0,#870,#810,#7c0,#770,#710,#6d0,#6a0,#690,#6a0,#6a0,#6b0,#6c0,#6d0,#6e0,#6e0,#6e0,#6d0,#6c0,#6b0,#6a0,#690,#680,#680,#6a0,#6c0,#6f0,#720)"></i><i style="background:linear-gradient(90deg,#7b0,#7c0,#7d0,#7e0,#7f0,#800,#820,#840,#860,#890,#8b0,#8c0,#8e0,#900,#920,#950,#980,#9c0,#a00,#a40,#a90,#ae0,#b20,#b70,#bb0,#c00,#c30,#c70,#ca0,#cd0,#d00,#d20,#d40,#d60,#d80,#da0,#db0,#dc0,#dd0,#de0,#de0,#de0,#dd0,#dc0,#db0,#d90,#d70,#d40,#d10,#ce0,#cb0,#c80,#c60,#c30,#c10,#be0,#bb0,#b90,#b60,#b30,#af0,#ac0,#a80,#a40,#a00,#9c0,#970,#930,#8f0,#8a0,#850,#800,#7a0,#730,#6c0,#650,#5d0,#560,#510,#4e0,#4b0,#460,#3e0,#3b0,#3b0,#3b0,#3c0,#430,#460,#490,#4f0,#550,#5c0,#620,#670,#6c0,#700)"></i><i style="background:linear-gradient(90deg,#800,#810,#810,#820,#830,#840,#860,#870,#880,#8a0,#8b0,#8c0,#8c0,#8d0,#8f0,#900,#920,#950,#980,#9c0,#a00,#a50,#aa0,#ae0,#b30,#b70,#bb0,#be0,#c20,#c50,#c80,#ca0,#cc0,#ce0,#d00,#d20,#d30,#d40,#d50,#d60,#d60,#d60,#d50,#d40,#d30,#d10,#cf0,#cd0,#ca0,#c80,#c60,#c30,#c10,#bf0,#bd0,#bb0,#b90,#b70,#b40,#b10,#ae0,#ab0,#a70,#a30,#9f0,#9b0,#970,#930,#8e0,#8a0,#850,#800,#7a0,#750,#6f0,#6a0,#650,#620,#5f0,#5d0,#5c0,#5a0,#590,#580,#570,#570,#560,#560,#570,#580,#590,#5c0,#5f0,#640,#680,#6c0,#6f0)"></i><i style="background:linear-gradient(90deg,#830,#840,#850,#860,#870,#880,#890,#890,#8a0,#8b0,#8b0,#8c0,#8c0,#8c0,#8c0,#8d0,#8e0,#900,#920,#950,#980,#9c0,#a00,#a40,#a90,#ad0,#b10,#b50,#b80,#bc0,#be0,#c10,#c30,#c50,#c70,#c90,#ca0,#cb0,#cc0,#cc0,#cd0,#cd0,#cc0,#cb0,#ca0,#c90,#c70,#c50,#c30,#c10,#c00,#be0,#bd0,#bc0,#ba0,#b90,#b70,#b50,#b30,#b00,#ad0,#aa0,#a60,#a30,#9f0,#9b0,#970,#930,#8e0,#8a0,#860,#810,#7c0,#780,#740,#700,#6d0,#6a0,#680,#660,#640,#630,#620,#610,#600,#5f0,#5f0,#5f0,#5f0,#600,#610,#630,#650,#670,#6a0,#6d0,#700)"></i><i style="background:linear-gradient(90deg,#860,#870,#880,#890,#890,#8a0,#8b0,#8c0,#8c0,#8c0,#8c0,#8c0,#8c0,#8b0,#8b0,#8b0,#8b0,#8c0,#8d0,#8f0,#910,#940,#970,#9b0,#9f0,#a30,#a70,#ab0,#ae0,#b10,#b40,#b70,#b90,#bc0,#bd0,#bf0,#c00,#c10,#c20,#c30,#c30,#c30,#c20,#c20,#c10,#c00,#be0,#bd0,#bc0,#bb0,#ba0,#b90,#b90,#b80,#b70,#b60,#b50,#b30,#b10,#af0,#ac0,#a90,#a60,#a20,#9e0,#9b0,#970,#930,#8f0,#8b0,#870,#830,#7f0,#7b0,#780,#750,#720,#700,#6e0,#6c0,#6b0,#6a0,#690,#680,#670,#660,#660,#650,#650,#660,#660,#680,#690,#6b0,#6d0,#6f0,#710)"></i><i style="background:linear-gradient(90deg,#880,#890,#8a0,#8b0,#8c0,#8c0,#8d0,#8d0,#8d0,#8d0,#8d0,#8d0,#8c0,#8b0,#8b0,#8a0,#890,#890,#890,#8a0,#8b0,#8c0,#8f0,#920,#950,#990,#9c0,#a00,#a40,#a70,#aa0,#ad0,#af0,#b10,#b30,#b50,#b60,#b70,#b80,#b80,#b90,#b90,#b80,#b80,#b70,#b70,#b60,#b50,#b50,#b50,#b50,#b50,#b50,#b50,#b50,#b40,#b30,#b20,#b00,#ae0,#ab0,#a80,#a50,#a20,#9e0,#9b0,#970,#930,#900,#8c0,#880,#850,#820,#7f0,#7c0,#790,#770,#750,#730,#720,#710,#6f0,#6e0,#6d0,#6c0,#6b0,#6b0,#6a0,#6a0,#6a0,#6b0,#6c0,#6d0,#6e0,#6f0,#710,#720)"></i><i style="background:linear-gradient(90deg,#8a0,#8b0,#8c0,#8d0,#8d0,#8e0,#8e0,#8f0,#8f0,#8e0,#8e0,#8d0,#8d0,#8c0,#8b0,#890,#880,#870,#860,#850,#850,#860,#870,#890,#8c0,#8f0,#920,#960,#990,#9c0,#9f0,#a20,#a40,#a70,#a80,#aa0,#ab0,#ad0,#ad0,#ae0,#ae0,#ae0,#ae0,#ae0,#ae0,#ae0,#ae0,#ae0,#ae0,#af0,#b00,#b00,#b10,#b20,#b20,#b20,#b10,#b00,#ae0,#ad0,#aa0,#a80,#a50,#a10,#9e0,#9b0,#970,#940,#900,#8d0,#8a0,#870,#840,#820,#7f0,#7d0,#7b0,#7a0,#780,#770,#750,#740,#730,#720,#710,#700,#6f0,#6f0,#6e0,#6e0,#6f0,#6f0,#700,#710,#710,#720,#730)"></i><i style="background:linear-gradient(90deg,#8b0,#8c0,#8d0,#8e0,#8f0,#8f0,#900,#900,#900,#8f0,#8f0,#8e0,#8d0,#8c0,#8b0,#890,#870,#850,#840,#820,#810,#800,#810,#820,#830,#860,#890,#8c0,#8f0,#920,#950,#970,#9a0,#9c0,#9e0,#9f0,#a10,#a20,#a30,#a30,#a40,#a40,#a40,#a50,#a50,#a50,#a60,#a70,#a80,#a90,#ab0,#ac0,#ad0,#ae0,#af0,#af0,#af0,#ae0,#ad0,#ab0,#a90,#a70,#a40,#a10,#9e0,#9b0,#970,#940,#910,#8e0,#8b0,#890,#860,#840,#820,#800,#7f0,#7d0,#7c0,#7b0,#7a0,#780,#770,#760,#750,#740,#730,#720,#720,#720,#720,#720,#720,#730,#730,#740,#740)"></i><i style="background:linear-gradient(90deg,#8c0,#8e0,#8e0,#8f0,#900,#900,#900,#900,#900,#900,#8f0,#8f0,#8e0,#8c0,#8b0,#890,#860,#840,#810,#7f0,#7d0,#7b0,#7a0,#7a0,#7b0,#7c0,#7f0,#810,#840,#870,#8a0,#8c0,#8f0,#910,#930,#950,#960,#970,#980,#990,#990,#9a0,#9a0,#9b0,#9b0,#9c0,#9e0,#9f0,#a10,#a30,#a60,#a80,#aa0,#ab0,#ac0,#ad0,#ad0,#ac0,#ab0,#aa0,#a80,#a50,#a30,#a00,#9d0,#9a0,#980,#950,#920,#8f0,#8d0,#8b0,#890,#870,#850,#840,#820,#810,#800,#7f0,#7e0,#7c0,#7b0,#7a0,#790,#780,#770,#760,#750,#740,#740,#740,#740,#740,#740,#750,#750)"></i><i style="background:linear-gradient(90deg,#8d0,#8e0,#8f0,#900,#900,#910,#910,#910,#910,#900,#900,#8f0,#8e0,#8d0,#8b0,#890,#860,#830,#800,#7c0,#790,#760,#730,#720,#720,#720,#740,#760,#790,#7c0,#7e0,#810,#830,#850,#870,#890,#8a0,#8c0,#8d0,#8d0,#8e0,#8f0,#8f0,#900,#910,#930,#950,#970,#9a0,#9d0,#a00,#a30,#a60,#a80,#a90,#aa0,#aa0,#aa0,#a90,#a80,#a60,#a40,#a20,#9f0,#9d0,#9a0,#980,#950,#930,#900,#8e0,#8c0,#8b0,#890,#880,#870,#860,#840,#830,#820,#810,#800,#7f0,#7d0,#7c0,#7b0,#790,#780,#770,#770,#760,#760,#750,#750,#750,#750,#750)"></i><i style="background:linear-gradient(90deg,#8e0,#8f0,#900,#900,#910,#910,#910,#910,#910,#910,#900,#8f0,#8e0,#8d0,#8b0,#880,#860,#820,#7e0,#7a0,#760,#710,#6d0,#690,#670,#660,#670,#690,#6c0,#6e0,#710,#740,#760,#780,#7a0,#7c0,#7e0,#7f0,#800,#810,#810,#820,#830,#840,#860,#880,#8b0,#8e0,#920,#970,#9b0,#9e0,#a20,#a40,#a60,#a70,#a80,#a70,#a70,#a60,#a40,#a20,#a00,#9e0,#9c0,#9a0,#980,#950,#930,#910,#900,#8e0,#8d0,#8c0,#8b0,#8a0,#890,#880,#870,#860,#850,#830,#820,#810,#7f0,#7e0,#7c0,#7b0,#7a0,#790,#780,#770,#770,#760,#760,#760,#760)"></i><i style="background:linear-gradient(90deg,#8e0,#8f0,#900,#910,#910,#910,#910,#910,#910,#910,#900,#8f0,#8e0,#8d0,#8b0,#880,#850,#820,#7e0,#790,#740,#6e0,#680,#620,#5c0,#560,#540,#550,#580,#5c0,#5f0,#630,#650,#680,#6a0,#6c0,#6e0,#6f0,#700,#700,#710,#720,#730,#740,#770,#7a0,#7f0,#850,#8a0,#900,#950,#9a0,#9e0,#a10,#a30,#a40,#a50,#a50,#a40,#a30,#a20,#a10,#9f0,#9d0,#9b0,#990,#970,#960,#940,#930,#910,#900,#8f0,#8e0,#8e0,#8d0,#8c0,#8b0,#8b0,#8a0,#880,#870,#850,#840,#820,#800,#7f0,#7d0,#7c0,#7a0,#790,#780,#780,#770,#770,#760,#760)"></i><i style="background:linear-gradient(90deg,#8e0,#8f0,#900,#910,#910,#910,#910,#910,#910,#910,#900,#8f0,#8e0,#8d0,#8b0,#880,#850,#820,#7e0,#790,#740,#6f0,#690,#630,#5d0,#580,#540,#510,#4f0,#4d0,#4b0,#4a0,#4a0,#490,#490,#490,#490,#490,#490,#4a0,#4c0,#4e0,#520,#590,#620,#6b0,#730,#7c0,#830,#8a0,#900,#950,#9a0,#9d0,#9f0,#a10,#a20,#a20,#a10,#a10,#a00,#9f0,#9d0,#9c0,#9a0,#990,#970,#960,#950,#940,#930,#920,#920,#910,#910,#900,#900,#8f0,#8f0,#8d0,#8c0,#8b0,#890,#870,#850,#830,#810,#7f0,#7e0,#7c0,#7b0,#7a0,#790,#780,#770,#770,#760)"></i><i style="background:linear-gradient(90deg,#8e0,#8f0,#900,#900,#910,#910,#910,#910,#910,#910,#900,#8f0,#8e0,#8c0,#8b0,#880,#850,#820,#7e0,#7a0,#750,#710,#6c0,#680,#630,#600,#5d0,#5b0,#590,#570,#570,#560,#550,#550,#550,#550,#550,#550,#560,#570,#580,#5a0,#5c0,#600,#640,#6a0,#710,#780,#7f0,#860,#8c0,#920,#960,#990,#9c0,#9e0,#9f0,#9f0,#9f0,#9e0,#9d0,#9d0,#9c0,#9a0,#990,#980,#970,#960,#950,#950,#940,#940,#940,#940,#940,#940,#940,#940,#930,#920,#900,#8f0,#8d0,#8b0,#890,#860,#840,#820,#800,#7e0,#7c0,#7b0,#7a0,#790,#780,#770,#770)"></i><i style="background:linear-gradient(90deg,#8d0,#8e0,#8f0,#900,#900,#910,#910,#910,#910,#900,#900,#8f0,#8e0,#8c0,#8a0,#880,#850,#820,#7f0,#7b0,#770,#730,#6f0,#6c0,#690,#660,#630,#620,#600,#5f0,#5e0,#5e0,#5d0,#5d0,#5d0,#5d0,#5d0,#5d0,#5e0,#5e0,#5f0,#610,#630,#660,#690,#6d0,#720,#780,#7e0,#840,#8a0,#8f0,#930,#960,#990,#9b0,#9c0,#9c0,#9c0,#9c0,#9b0,#9b0,#9a0,#990,#980,#970,#970,#960,#960,#960,#960,#960,#970,#970,#980,#980,#980,#980,#970,#960,#950,#930,#910,#8f0,#8c0,#8a0,#870,#840,#820,#800,#7e0,#7c0,#7b0,#790,#780,#780,#770)"></i><i style="background:linear-gradient(90deg,#8c0,#8e0,#8e0,#8f0,#900,#900,#900,#900,#900,#900,#8f0,#8e0,#8d0,#8b0,#8a0,#880,#850,#820,#7f0,#7c0,#790,#750,#720,#6f0,#6d0,#6a0,#690,#670,#660,#650,#650,#640,#640,#640,#640,#640,#640,#640,#640,#640,#650,#670,#680,#6a0,#6d0,#700,#740,#790,#7e0,#830,#880,#8c0,#900,#930,#960,#970,#990,#990,#990,#990,#990,#980,#980,#970,#970,#970,#960,#960,#970,#970,#980,#990,#9a0,#9b0,#9c0,#9c0,#9c0,#9c0,#9c0,#9b0,#9a0,#980,#950,#930,#900,#8d0,#8a0,#870,#840,#820,#7f0,#7d0,#7c0,#7a0,#790,#780,#770)"></i><i style="background:linear-gradient(90deg,#8b0,#8d0,#8d0,#8e0,#8f0,#8f0,#8f0,#8f0,#8f0,#8f0,#8e0,#8d0,#8c0,#8b0,#890,#870,#850,#820,#800,#7d0,#7a0,#770,#750,#720,#700,#6e0,#6d0,#6c0,#6b0,#6a0,#6a0,#6a0,#6a0,#6a0,#6a0,#690,#690,#690,#690,#690,#6a0,#6b0,#6c0,#6e0,#700,#730,#760,#790,#7d0,#820,#860,#8a0,#8d0,#900,#930,#940,#950,#960,#960,#960,#960,#960,#960,#960,#960,#960,#960,#970,#970,#980,#9a0,#9b0,#9d0,#9e0,#9f0,#a00,#a10,#a10,#a00,#9f0,#9e0,#9c0,#9a0,#970,#940,#910,#8d0,#8a0,#870,#840,#810,#7f0,#7d0,#7b0,#7a0,#790,#780)"></i><i style="background:linear-gradient(90deg,#8a0,#8b0,#8c0,#8d0,#8d0,#8e0,#8e0,#8e0,#8e0,#8d0,#8d0,#8c0,#8b0,#8a0,#880,#860,#840,#820,#800,#7d0,#7b0,#790,#770,#750,#730,#710,#700,#700,#6f0,#6f0,#6f0,#6f0,#6f0,#6f0,#6f0,#6f0,#6e0,#6e0,#6e0,#6e0,#6e0,#6f0,#700,#710,#720,#740,#770,#7a0,#7d0,#800,#840,#870,#8a0,#8d0,#8f0,#910,#920,#930,#930,#940,#940,#940,#940,#940,#940,#950,#960,#970,#980,#9a0,#9c0,#9e0,#a00,#a10,#a30,#a40,#a50,#a50,#a50,#a40,#a20,#a10,#9e0,#9b0,#980,#940,#910,#8d0,#8a0,#860,#830,#810,#7e0,#7c0,#7b0,#790,#780)"></i><i style="background:linear-gradient(90deg,#890,#8a0,#8b0,#8b0,#8c0,#8c0,#8c0,#8c0,#8c0,#8c0,#8b0,#8a0,#890,#880,#870,#850,#840,#820,#800,#7e0,#7c0,#7a0,#780,#760,#750,#740,#740,#740,#740,#740,#740,#750,#750,#750,#750,#740,#730,#730,#720,#720,#720,#720,#720,#730,#740,#760,#770,#790,#7c0,#7e0,#810,#840,#870,#8a0,#8c0,#8d0,#8e0,#8f0,#900,#900,#910,#910,#910,#920,#930,#940,#950,#970,#990,#9b0,#9e0,#a00,#a30,#a50,#a70,#a80,#a90,#a90,#a90,#a80,#a70,#a50,#a20,#9f0,#9c0,#980,#940,#900,#8c0,#890,#850,#820,#7f0,#7d0,#7b0,#7a0,#790)"></i><i style="background:linear-gradient(90deg,#870,#880,#890,#8a0,#8a0,#8a0,#8b0,#8b0,#8a0,#8a0,#890,#890,#880,#870,#850,#840,#820,#810,#7f0,#7e0,#7c0,#7a0,#790,#780,#770,#770,#770,#780,#780,#790,#7b0,#7b0,#7c0,#7c0,#7b0,#7a0,#790,#780,#760,#760,#750,#750,#750,#750,#750,#760,#770,#780,#7a0,#7c0,#7f0,#810,#840,#860,#880,#890,#8a0,#8b0,#8c0,#8d0,#8d0,#8e0,#8f0,#900,#910,#930,#950,#970,#9a0,#9d0,#a00,#a30,#a60,#a80,#aa0,#ac0,#ad0,#ad0,#ad0,#ac0,#ab0,#a90,#a60,#a30,#9f0,#9b0,#970,#930,#8f0,#8b0,#870,#840,#810,#7e0,#7c0,#7a0,#790)"></i><i style="background:linear-gradient(90deg,#850,#860,#870,#880,#880,#880,#890,#880,#880,#880,#870,#870,#860,#850,#840,#820,#810,#800,#7e0,#7d0,#7c0,#7b0,#7a0,#7a0,#790,#7a0,#7b0,#7c0,#7e0,#810,#830,#840,#850,#850,#840,#820,#800,#7e0,#7c0,#7a0,#780,#770,#770,#760,#760,#760,#770,#770,#780,#790,#7b0,#7d0,#7f0,#810,#830,#850,#860,#870,#880,#880,#890,#8a0,#8c0,#8e0,#900,#920,#950,#980,#9b0,#9f0,#a20,#a50,#a80,#ab0,#ad0,#af0,#b00,#b10,#b00,#b00,#ae0,#ac0,#aa0,#a60,#a30,#9f0,#9a0,#960,#910,#8d0,#890,#850,#820,#7f0,#7c0,#7a0,#790)"></i><i style="background:linear-gradient(90deg,#830,#840,#850,#850,#860,#860,#860,#860,#860,#860,#850,#840,#840,#830,#820,#810,#800,#7f0,#7d0,#7d0,#7c0,#7b0,#7b0,#7b0,#7c0,#7e0,#800,#830,#870,#8a0,#8c0,#8e0,#8f0,#8f0,#8e0,#8c0,#890,#850,#820,#7f0,#7c0,#7a0,#790,#780,#770,#760,#750,#750,#750,#760,#770,#790,#7b0,#7d0,#7e0,#800,#810,#820,#830,#840,#850,#860,#880,#8b0,#8e0,#910,#950,#990,#9c0,#a00,#a40,#a80,#ab0,#ae0,#b00,#b20,#b30,#b40,#b40,#b30,#b10,#af0,#ad0,#aa0,#a60,#a20,#9d0,#980,#930,#8f0,#8a0,#860,#820,#7f0,#7c0,#7a0,#790)"></i><i style="background:linear-gradient(90deg,#810,#820,#820,#830,#830,#830,#830,#830,#830,#830,#820,#820,#810,#800,#7f0,#7f0,#7e0,#7d0,#7c0,#7c0,#7c0,#7c0,#7c0,#7e0,#800,#830,#870,#8b0,#8f0,#920,#940,#960,#970,#960,#950,#930,#910,#8d0,#890,#850,#810,#7e0,#7b0,#790,#770,#750,#740,#720,#720,#720,#720,#740,#750,#770,#780,#7a0,#7b0,#7c0,#7d0,#7e0,#800,#820,#850,#880,#8c0,#910,#950,#990,#9e0,#a20,#a60,#aa0,#ae0,#b10,#b30,#b50,#b60,#b60,#b60,#b60,#b40,#b20,#b00,#ac0,#a90,#a40,#a00,#9b0,#950,#900,#8b0,#870,#820,#7f0,#7c0,#7a0,#780)"></i><i style="background:linear-gradient(90deg,#7e0,#7f0,#7f0,#800,#800,#800,#800,#800,#800,#800,#7f0,#7f0,#7e0,#7d0,#7d0,#7c0,#7c0,#7b0,#7b0,#7b0,#7c0,#7d0,#7e0,#810,#840,#890,#8d0,#910,#950,#980,#9a0,#9c0,#9d0,#9c0,#9b0,#9a0,#970,#930,#8f0,#8b0,#860,#820,#7e0,#7b0,#780,#750,#720,#6f0,#6d0,#6c0,#6d0,#6d0,#6f0,#700,#720,#730,#740,#750,#760,#780,#7a0,#7d0,#810,#850,#8b0,#900,#950,#9a0,#9f0,#a40,#a80,#ac0,#b00,#b30,#b50,#b70,#b80,#b90,#b90,#b80,#b70,#b50,#b20,#af0,#ab0,#a70,#a20,#9c0,#970,#910,#8c0,#870,#820,#7e0,#7b0,#780,#770)"></i><i style="background:linear-gradient(90deg,#7c0,#7c0,#7c0,#7c0,#7d0,#7d0,#7d0,#7d0,#7c0,#7c0,#7c0,#7b0,#7b0,#7a0,#7a0,#7a0,#790,#790,#7a0,#7b0,#7c0,#7e0,#810,#840,#890,#8d0,#920,#960,#9a0,#9d0,#9f0,#a00,#a10,#a10,#a00,#9e0,#9c0,#980,#940,#900,#8b0,#860,#820,#7d0,#790,#740,#700,#6b0,#680,#660,#650,#660,#670,#680,#6a0,#6b0,#6c0,#6d0,#6f0,#700,#730,#770,#7c0,#830,#890,#900,#960,#9b0,#a00,#a50,#aa0,#ae0,#b20,#b50,#b70,#b90,#ba0,#bb0,#bb0,#ba0,#b90,#b70,#b40,#b10,#ad0,#a90,#a40,#9e0,#980,#920,#8c0,#860,#810,#7d0,#790,#770,#750)"></i><i style="background:linear-gradient(90deg,#780,#790,#790,#790,#790,#790,#790,#790,#780,#780,#780,#770,#770,#770,#760,#760,#770,#770,#780,#7a0,#7c0,#7f0,#830,#870,#8c0,#910,#960,#9a0,#9e0,#a00,#a30,#a40,#a40,#a40,#a30,#a20,#9f0,#9c0,#980,#940,#8f0,#8a0,#850,#800,#7b0,#750,#6e0,#670,#620,#5e0,#5c0,#5c0,#5d0,#5e0,#600,#610,#620,#630,#640,#670,#6a0,#700,#780,#810,#890,#900,#960,#9c0,#a10,#a70,#ab0,#b00,#b30,#b70,#b90,#bb0,#bc0,#bc0,#bc0,#bc0,#bb0,#b90,#b60,#b30,#af0,#aa0,#a50,#9f0,#990,#920,#8c0,#850,#800,#7b0,#770,#750,#730)"></i><i style="background:linear-gradient(90deg,#750,#750,#740,#740,#740,#740,#740,#740,#740,#740,#730,#730,#730,#730,#730,#730,#730,#750,#760,#790,#7c0,#800,#850,#8a0,#8f0,#940,#990,#9d0,#a00,#a30,#a50,#a70,#a70,#a70,#a60,#a50,#a20,#9f0,#9b0,#960,#910,#8c0,#870,#820,#7c0,#760,#6e0,#660,#5c0,#530,#4e0,#4d0,#4d0,#4f0,#500,#510,#530,#540,#550,#590,#600,#6b0,#760,#800,#880,#900,#970,#9d0,#a20,#a80,#ac0,#b10,#b50,#b80,#ba0,#bc0,#bd0,#be0,#be0,#bd0,#bc0,#ba0,#b80,#b40,#b00,#ac0,#a60,#a00,#990,#920,#8b0,#840,#7e0,#790,#750,#720,#700)"></i><i style="background:linear-gradient(90deg,#710,#700,#700,#6f0,#6f0,#6f0,#6f0,#6f0,#6f0,#6f0,#6e0,#6e0,#6e0,#6e0,#6e0,#6f0,#700,#720,#740,#780,#7d0,#810,#860,#8c0,#910,#960,#9b0,#9f0,#a30,#a50,#a70,#a90,#a90,#a90,#a80,#a70,#a40,#a10,#9d0,#980,#930,#8e0,#890,#830,#7d0,#770,#700,#670,#5d0,#530,#4b0,#460,#430,#420,#420,#420,#440,#470,#4c0,#540,#5e0,#6a0,#750,#800,#890,#900,#970,#9d0,#a30,#a80,#ad0,#b20,#b60,#b90,#bb0,#bd0,#be0,#be0,#be0,#be0,#bd0,#bb0,#b90,#b50,#b10,#ad0,#a70,#a10,#990,#910,#890,#820,#7b0,#760,#720,#6e0,#6c0)"></i><i style="background:linear-gradient(90deg,#6c0,#6b0,#6a0,#6a0,#6a0,#6a0,#690,#690,#690,#690,#690,#680,#680,#680,#690,#6a0,#6b0,#6e0,#720,#770,#7c0,#820,#870,#8d0,#920,#970,#9c0,#a00,#a40,#a70,#a90,#aa0,#aa0,#aa0,#a90,#a80,#a60,#a20,#9e0,#9a0,#940,#8f0,#8a0,#840,#7e0,#780,#710,#690,#610,#5a0,#550,#530,#530,#530,#540,#550,#550,#570,#5a0,#5e0,#650,#6e0,#780,#810,#8a0,#910,#980,#9e0,#a40,#a90,#ae0,#b20,#b60,#b90,#bc0,#be0,#bf0,#bf0,#bf0,#bf0,#bd0,#bc0,#b90,#b60,#b20,#ad0,#a80,#a10,#990,#900,#870,#7f0,#780,#720,#6d0,#6a0,#680)"></i><i style="background:linear-gradient(90deg,#670,#650,#640,#630,#630,#630,#630,#630,#620,#620,#620,#620,#620,#620,#620,#640,#660,#6a0,#6f0,#760,#7c0,#820,#880,#8d0,#930,#980,#9d0,#a10,#a50,#a70,#a90,#aa0,#ab0,#ab0,#aa0,#a90,#a60,#a30,#9f0,#9a0,#950,#8f0,#8a0,#840,#7e0,#780,#710,#6a0,#640,#5f0,#5c0,#5c0,#5d0,#5e0,#5e0,#5f0,#600,#610,#630,#660,#6c0,#720,#7a0,#830,#8a0,#920,#980,#9e0,#a40,#a90,#ae0,#b30,#b70,#ba0,#bc0,#be0,#bf0,#bf0,#bf0,#bf0,#be0,#bc0,#ba0,#b60,#b20,#ae0,#a80,#a00,#980,#8e0,#850,#7b0,#740,#6d0,#680,#650,#630)"></i><i style="background:linear-gradient(90deg,#600,#5e0,#5c0,#5c0,#5b0,#5b0,#5b0,#5b0,#5b0,#5b0,#5a0,#5a0,#5a0,#5a0,#5b0,#5d0,#600,#660,#6c0,#740,#7b0,#810,#870,#8d0,#930,#980,#9d0,#a10,#a50,#a70,#a90,#aa0,#ab0,#ab0,#aa0,#a90,#a60,#a30,#9f0,#9a0,#950,#8f0,#890,#830,#7e0,#780,#710,#6b0,#660,#630,#620,#630,#640,#660,#660,#670,#680,#690,#6a0,#6d0,#710,#760,#7d0,#840,#8b0,#920,#980,#9e0,#a40,#a90,#ae0,#b30,#b70,#ba0,#bc0,#be0,#bf0,#bf0,#bf0,#bf0,#be0,#bc0,#ba0,#b60,#b20,#ad0,#a70,#a00,#970,#8c0,#810,#770,#6e0,#670,#620,#5e0,#5c0)"></i><i style="background:linear-gradient(90deg,#570,#540,#520,#510,#510,#240,#1e0,#1b0,#1a0,#1b0,#1e0,#240,#500,#500,#510,#530,#590,#600,#690,#720,#7a0,#800,#870,#8c0,#920,#970,#9c0,#a00,#a40,#a70,#a90,#aa0,#aa0,#aa0,#a90,#a80,#a60,#a20,#9e0,#990,#940,#8e0,#880,#820,#7d0,#770,#710,#6c0,#680,#660,#670,#690,#6b0,#6c0,#6d0,#6e0,#6e0,#6f0,#700,#720,#760,#7a0,#800,#860,#8c0,#920,#980,#9e0,#a40,#a90,#ae0,#b20,#b60,#b90,#bc0,#be0,#bf0,#bf0,#bf0,#bf0,#be0,#bc0,#b90,#b60,#b20,#ad0,#a70,#9f0,#950,#8a0,#7d0,#710,#670,#5f0,#590,#560,#530)"></i><i style="background:linear-gradient(90deg,#500,#480,#380,#2b0,#210,#180,#130,#110,#110,#110,#130,#180,#200,#2a0,#370,#440,#500,#5c0,#670,#700,#780,#7f0,#850,#8b0,#910,#960,#9b0,#9f0,#a30,#a60,#a70,#a90,#a90,#a90,#a80,#a70,#a40,#a10,#9d0,#980,#920,#8c0,#860,#800,#7b0,#750,#700,#6b0,#690,#690,#6b0,#6e0,#710,#720,#730,#740,#740,#750,#760,#770,#7a0,#7d0,#820,#870,#8d0,#920,#980,#9e0,#a30,#a80,#ad0,#b20,#b60,#b90,#bb0,#bd0,#be0,#be0,#be0,#be0,#bd0,#bb0,#b90,#b50,#b10,#ac0,#a60,#9e0,#940,#880,#790,#6b0,#5e0,#530,#4b0,#460,#430)"></i><i style="background:linear-gradient(90deg,#5b0,#590,#5a0,#5c0,#5f0,#610,#630,#640,#640,#640,#620,#600,#5d0,#5a0,#580,#570,#590,#5e0,#670,#6f0,#770,#7d0,#830,#890,#8f0,#940,#990,#9d0,#a10,#a40,#a60,#a70,#a70,#a70,#a60,#a50,#a20,#9f0,#9b0,#950,#900,#8a0,#840,#7e0,#780,#730,#6e0,#6b0,#6a0,#6b0,#6f0,#730,#760,#780,#790,#7a0,#7a0,#7a0,#7a0,#7b0,#7d0,#800,#840,#880,#8d0,#920,#980,#9d0,#a20,#a70,#ac0,#b10,#b50,#b80,#ba0,#bc0,#bd0,#be0,#be0,#bd0,#bc0,#ba0,#b80,#b40,#b00,#ab0,#a50,#9d0,#930,#860,#770,#660,#580,#4e0,#4c0,#4e0,#4f0)"></i><i style="background:linear-gradient(90deg,#640,#640,#650,#670,#6a0,#6c0,#6e0,#6f0,#6f0,#6e0,#6c0,#6a0,#680,#650,#630,#620,#620,#650,#690,#6f0,#750,#7b0,#810,#860,#8c0,#910,#960,#9a0,#9e0,#a10,#a30,#a40,#a50,#a50,#a40,#a20,#a00,#9c0,#980,#920,#8c0,#860,#800,#7a0,#750,#700,#6c0,#690,#6a0,#6d0,#720,#770,#7b0,#7d0,#7f0,#7f0,#7f0,#7f0,#7f0,#7f0,#800,#820,#850,#890,#8d0,#920,#970,#9c0,#a10,#a60,#ab0,#af0,#b30,#b60,#b90,#bb0,#bc0,#bc0,#bc0,#bc0,#bb0,#b90,#b60,#b30,#af0,#aa0,#a40,#9c0,#920,#850,#780,#6c0,#650,#630,#620,#630,#630)"></i><i style="background:linear-gradient(90deg,#6c0,#6c0,#6e0,#710,#730,#750,#770,#780,#780,#770,#760,#730,#710,#6e0,#6c0,#6a0,#6a0,#6b0,#6d0,#700,#750,#790,#7e0,#830,#880,#8d0,#920,#960,#9a0,#9d0,#9f0,#a10,#a10,#a10,#a00,#9f0,#9c0,#980,#940,#8e0,#880,#820,#7c0,#760,#700,#6c0,#680,#670,#690,#6f0,#760,#7c0,#800,#830,#840,#840,#840,#840,#830,#830,#830,#850,#870,#8a0,#8d0,#910,#960,#9b0,#a00,#a50,#a90,#ae0,#b10,#b50,#b70,#b90,#ba0,#bb0,#bb0,#ba0,#b90,#b70,#b50,#b10,#ad0,#a80,#a20,#9b0,#910,#860,#7b0,#730,#6f0,#6e0,#6e0,#6e0,#6e0)"></i><i style="background:linear-gradient(90deg,#720,#740,#760,#790,#7c0,#7e0,#800,#810,#810,#800,#7e0,#7c0,#790,#760,#730,#710,#700,#700,#710,#720,#750,#780,#7b0,#7f0,#840,#890,#8d0,#920,#950,#990,#9b0,#9c0,#9d0,#9d0,#9c0,#9a0,#970,#930,#8f0,#890,#830,#7c0,#760,#700,#6a0,#660,#630,#640,#6a0,#720,#7a0,#810,#860,#890,#8a0,#8a0,#8a0,#890,#880,#870,#870,#870,#880,#8a0,#8d0,#910,#950,#990,#9e0,#a30,#a70,#ac0,#af0,#b30,#b50,#b70,#b80,#b90,#b90,#b80,#b70,#b50,#b20,#af0,#ab0,#a60,#a00,#990,#910,#880,#7f0,#7a0,#770,#760,#770,#770,#770)"></i><i style="background:linear-gradient(90deg,#780,#7b0,#7d0,#810,#830,#860,#880,#890,#890,#880,#860,#840,#810,#7d0,#7a0,#780,#760,#750,#740,#750,#760,#770,#790,#7c0,#7f0,#830,#870,#8b0,#8f0,#920,#950,#970,#970,#970,#960,#940,#910,#8d0,#880,#820,#7c0,#750,#6e0,#670,#610,#5c0,#5d0,#640,#6e0,#790,#820,#880,#8d0,#8f0,#900,#910,#900,#8e0,#8d0,#8b0,#8a0,#890,#8a0,#8b0,#8d0,#900,#940,#980,#9c0,#a10,#a50,#a90,#ad0,#b00,#b30,#b50,#b60,#b60,#b60,#b60,#b50,#b30,#b00,#ad0,#a90,#a40,#9f0,#980,#910,#890,#830,#7f0,#7d0,#7d0,#7e0,#7f0,#7f0)"></i><i style="background:linear-gradient(90deg,#7e0,#810,#850,#880,#8b0,#8e0,#900,#910,#910,#900,#8e0,#8b0,#880,#840,#810,#7e0,#7b0,#790,#780,#770,#770,#770,#780,#790,#7b0,#7d0,#800,#830,#870,#8a0,#8d0,#8f0,#8f0,#8f0,#8e0,#8c0,#880,#840,#7f0,#780,#710,#680,#5e0,#560,#570,#5e0,#690,#730,#7c0,#840,#8b0,#910,#950,#970,#980,#980,#970,#950,#930,#900,#8e0,#8c0,#8c0,#8c0,#8d0,#8f0,#920,#960,#9a0,#9e0,#a30,#a70,#aa0,#ad0,#b00,#b20,#b30,#b40,#b40,#b30,#b20,#b00,#ad0,#aa0,#a60,#a20,#9d0,#970,#900,#8a0,#860,#830,#830,#830,#840,#850,#850)"></i><i style="background:linear-gradient(90deg,#840,#880,#8c0,#8f0,#930,#960,#980,#990,#990,#980,#960,#930,#8f0,#8b0,#870,#830,#800,#7d0,#7b0,#7a0,#790,#780,#780,#780,#780,#790,#7a0,#7c0,#7e0,#800,#820,#840,#850,#840,#830,#810,#7d0,#780,#720,#6a0,#630,#5f0,#600,#630,#6a0,#710,#790,#810,#880,#8f0,#950,#9a0,#9d0,#9f0,#a00,#a00,#9e0,#9c0,#990,#960,#930,#900,#8e0,#8d0,#8e0,#8f0,#910,#940,#980,#9c0,#a00,#a40,#a70,#aa0,#ad0,#af0,#b00,#b00,#b00,#b00,#ae0,#ac0,#aa0,#a70,#a30,#9f0,#9a0,#950,#900,#8b0,#880,#870,#870,#890,#8a0,#8b0,#8b0)"></i><i style="background:linear-gradient(90deg,#8a0,#8e0,#930,#970,#9b0,#9e0,#a00,#a10,#a10,#a00,#9e0,#9a0,#970,#920,#8e0,#890,#850,#820,#7f0,#7c0,#7a0,#790,#780,#770,#770,#770,#770,#780,#780,#790,#7a0,#7b0,#7b0,#7b0,#7a0,#780,#760,#720,#6e0,#6a0,#670,#670,#6a0,#6e0,#750,#7c0,#830,#8b0,#920,#980,#9e0,#a20,#a50,#a70,#a80,#a80,#a60,#a40,#a00,#9c0,#980,#940,#910,#8f0,#8e0,#8f0,#900,#930,#960,#990,#9d0,#a00,#a40,#a70,#a90,#ab0,#ac0,#ad0,#ad0,#ac0,#ab0,#a90,#a60,#a30,#a00,#9c0,#980,#940,#900,#8c0,#8b0,#8b0,#8c0,#8e0,#900,#910,#910)"></i><i style="background:linear-gradient(90deg,#910,#960,#9b0,#9f0,#a30,#a60,#a80,#a90,#a90,#a80,#a60,#a30,#9e0,#9a0,#950,#900,#8b0,#860,#820,#7f0,#7c0,#7a0,#780,#770,#760,#750,#750,#750,#750,#750,#750,#760,#760,#760,#750,#740,#730,#710,#6e0,#6b0,#6b0,#6c0,#700,#760,#7c0,#840,#8b0,#930,#9a0,#a00,#a50,#aa0,#ad0,#af0,#b00,#b00,#ae0,#ab0,#a70,#a30,#9e0,#990,#950,#920,#900,#8f0,#8f0,#910,#930,#960,#9a0,#9d0,#a00,#a30,#a50,#a70,#a80,#a90,#a90,#a80,#a70,#a50,#a30,#a00,#9c0,#990,#950,#920,#8f0,#8d0,#8d0,#8e0,#900,#920,#940,#960,#960)"></i><i style="background:linear-gradient(90deg,#970,#9d0,#a20,#a70,#ac0,#af0,#b10,#b20,#b20,#b10,#ae0,#ab0,#a60,#a10,#9c0,#960,#900,#8b0,#860,#820,#7e0,#7b0,#780,#760,#740,#730,#720,#720,#720,#720,#720,#720,#720,#720,#720,#710,#710,#6f0,#6e0,#6d0,#6e0,#710,#750,#7c0,#830,#8a0,#920,#990,#a00,#a70,#ac0,#b10,#b40,#b60,#b70,#b70,#b50,#b20,#ae0,#a90,#a40,#9e0,#990,#950,#910,#900,#8f0,#900,#910,#940,#960,#990,#9c0,#9f0,#a10,#a30,#a40,#a50,#a50,#a40,#a30,#a10,#9f0,#9c0,#990,#960,#930,#900,#8e0,#8e0,#8f0,#910,#930,#970,#990,#9b0,#9b0)"></i><i style="background:linear-gradient(90deg,#9f0,#a50,#aa0,#b00,#b40,#b70,#b90,#ba0,#ba0,#b90,#b70,#b30,#af0,#a90,#a30,#9d0,#960,#900,#8a0,#850,#800,#7b0,#780,#750,#730,#710,#700,#6f0,#6e0,#6e0,#6e0,#6e0,#6e0,#6e0,#6e0,#6e0,#6e0,#6e0,#6d0,#6e0,#700,#740,#7a0,#800,#880,#8f0,#970,#9f0,#a60,#ad0,#b20,#b70,#ba0,#bd0,#bd0,#bd0,#bb0,#b80,#b40,#af0,#a90,#a30,#9d0,#980,#930,#900,#8f0,#8f0,#8f0,#910,#930,#960,#980,#9b0,#9d0,#9e0,#9f0,#a00,#a00,#9f0,#9e0,#9c0,#9a0,#980,#950,#930,#900,#8f0,#8e0,#8e0,#900,#930,#970,#9b0,#9e0,#a00,#a00)"></i><i style="background:linear-gradient(90deg,#a50,#ac0,#b20,#b70,#bc0,#bf0,#c10,#c20,#c20,#c10,#be0,#bb0,#b60,#b10,#aa0,#a40,#9d0,#950,#8e0,#880,#810,#7c0,#770,#730,#700,#6e0,#6d0,#6b0,#6b0,#6a0,#6a0,#6a0,#6a0,#6b0,#6b0,#6b0,#6b0,#6c0,#6c0,#6e0,#720,#770,#7d0,#840,#8c0,#940,#9c0,#a40,#ac0,#b20,#b80,#bd0,#c00,#c20,#c30,#c30,#c10,#be0,#ba0,#b40,#ae0,#a80,#a10,#9b0,#960,#920,#8f0,#8e0,#8e0,#8e0,#900,#920,#940,#960,#980,#9a0,#9b0,#9b0,#9b0,#9b0,#990,#980,#960,#940,#910,#8f0,#8e0,#8d0,#8e0,#8f0,#920,#960,#9b0,#9f0,#a20,#a40,#a50)"></i><i style="background:linear-gradient(90deg,#ac0,#b30,#b90,#be0,#c30,#c60,#c80,#c90,#c90,#c80,#c50,#c20,#bd0,#b70,#b10,#aa0,#a20,#9b0,#930,#8b0,#830,#7c0,#760,#710,#6e0,#6b0,#690,#670,#670,#660,#660,#660,#660,#660,#670,#680,#680,#690,#6b0,#6e0,#730,#790,#800,#880,#900,#980,#a10,#a90,#b00,#b70,#bd0,#c20,#c50,#c70,#c80,#c80,#c60,#c30,#bf0,#b90,#b30,#ac0,#a50,#9e0,#980,#930,#8f0,#8d0,#8c0,#8c0,#8d0,#8e0,#900,#920,#940,#950,#960,#960,#960,#960,#950,#930,#920,#900,#8e0,#8c0,#8c0,#8c0,#8d0,#900,#940,#990,#9e0,#a20,#a60,#a80,#a90)"></i><i style="background:linear-gradient(90deg,#b20,#b90,#bf0,#c50,#c90,#cc0,#ce0,#cf0,#cf0,#ce0,#cc0,#c80,#c30,#be0,#b70,#b00,#a80,#a00,#970,#8e0,#850,#7c0,#750,#6f0,#6a0,#670,#640,#630,#620,#610,#610,#610,#610,#610,#620,#630,#640,#660,#690,#6d0,#730,#7a0,#820,#8b0,#930,#9c0,#a40,#ad0,#b50,#bc0,#c20,#c60,#ca0,#cc0,#cd0,#cc0,#ca0,#c70,#c30,#be0,#b70,#b00,#a80,#a10,#9a0,#950,#900,#8d0,#8b0,#8a0,#8a0,#8b0,#8c0,#8e0,#8f0,#900,#910,#910,#910,#910,#900,#8f0,#8d0,#8c0,#8b0,#8a0,#8a0,#8b0,#8d0,#910,#960,#9c0,#a10,#a60,#aa0,#ac0,#ad0)"></i><i style="background:linear-gradient(90deg,#b70,#be0,#c50,#ca0,#ce0,#d20,#d40,#d50,#d50,#d30,#d10,#ce0,#c90,#c30,#bd0,#b50,#ad0,#a40,#9b0,#910,#870,#7d0,#730,#6c0,#660,#620,#5f0,#5d0,#5c0,#5b0,#5b0,#5b0,#5b0,#5c0,#5d0,#5e0,#5f0,#620,#660,#6c0,#730,#7c0,#840,#8d0,#960,#9f0,#a80,#b00,#b80,#bf0,#c50,#ca0,#ce0,#d00,#d00,#d00,#ce0,#cb0,#c70,#c10,#bb0,#b30,#ac0,#a40,#9d0,#960,#910,#8d0,#8a0,#890,#880,#880,#890,#8a0,#8b0,#8c0,#8d0,#8d0,#8d0,#8c0,#8c0,#8b0,#890,#880,#880,#870,#880,#8a0,#8d0,#920,#980,#9e0,#a40,#a90,#ad0,#af0,#b00)"></i><i style="background:linear-gradient(90deg,#bc0,#c30,#ca0,#cf0,#d30,#d60,#d80,#d90,#d90,#d80,#d60,#d20,#ce0,#c80,#c10,#ba0,#b20,#a90,#9f0,#950,#8a0,#7e0,#720,#680,#610,#5c0,#580,#560,#550,#540,#540,#540,#540,#550,#560,#570,#590,#5d0,#620,#6a0,#730,#7d0,#860,#8f0,#990,#a20,#ab0,#b40,#bc0,#c30,#c90,#cd0,#d10,#d30,#d40,#d30,#d10,#cf0,#ca0,#c50,#be0,#b60,#ae0,#a60,#9e0,#970,#910,#8d0,#890,#870,#860,#850,#860,#860,#870,#880,#880,#890,#880,#880,#870,#870,#860,#850,#850,#850,#870,#890,#8e0,#930,#9a0,#a00,#a70,#ac0,#b00,#b20,#b30)"></i><i style="background:linear-gradient(90deg,#c00,#c70,#ce0,#d30,#d70,#da0,#dc0,#dd0,#dd0,#dc0,#da0,#d60,#d20,#cc0,#c60,#be0,#b60,#ad0,#a30,#990,#8d0,#810,#740,#660,#5a0,#520,#4f0,#4c0,#4b0,#4b0,#4a0,#4a0,#4a0,#4b0,#4c0,#4e0,#510,#560,#5e0,#680,#730,#7e0,#880,#920,#9b0,#a40,#ae0,#b60,#be0,#c60,#cc0,#d00,#d30,#d50,#d60,#d60,#d40,#d10,#cd0,#c80,#c10,#b90,#b10,#a80,#a00,#990,#920,#8c0,#880,#850,#830,#830,#820,#830,#830,#840,#840,#840,#840,#840,#830,#830,#820,#820,#820,#830,#850,#890,#8e0,#940,#9b0,#a20,#a90,#ae0,#b20,#b50,#b60)"></i><i style="background:linear-gradient(90deg,#c40,#cb0,#d10,#d70,#db0,#de0,#e00,#e10,#e00,#df0,#dd0,#da0,#d50,#d00,#c90,#c20,#b90,#b00,#a70,#9c0,#910,#850,#780,#6c0,#600,#580,#540,#530,#520,#2f0,#2d0,#2c0,#2c0,#2e0,#4c0,#4b0,#4b0,#520,#5d0,#690,#750,#7f0,#8a0,#930,#9d0,#a60,#b00,#b90,#c10,#c80,#ce0,#d20,#d60,#d70,#d80,#d80,#d60,#d30,#cf0,#ca0,#c30,#bb0,#b30,#aa0,#a10,#990,#920,#8c0,#870,#840,#810,#800,#7f0,#7f0,#7f0,#800,#800,#800,#800,#800,#7f0,#7f0,#7e0,#7e0,#7f0,#800,#830,#880,#8d0,#940,#9c0,#a40,#ab0,#b00,#b40,#b70,#b80)"></i><i style="background:linear-gradient(90deg,#c70,#ce0,#d40,#d90,#de0,#e10,#e20,#e30,#e30,#e20,#e00,#dd0,#d80,#d30,#cc0,#c50,#bc0,#b30,#aa0,#a00,#950,#8a0,#7f0,#740,#6c0,#670,#630,#620,#610,#610,#600,#600,#5f0,#5d0,#5c0,#5c0,#5c0,#5f0,#650,#6e0,#780,#820,#8b0,#950,#9f0,#a80,#b10,#ba0,#c30,#ca0,#d00,#d40,#d70,#d90,#da0,#d90,#d80,#d50,#d10,#cb0,#c50,#bd0,#b40,#ab0,#a20,#9a0,#920,#8b0,#860,#820,#7f0,#7d0,#7c0,#7b0,#7b0,#7b0,#7b0,#7c0,#7b0,#7b0,#7b0,#7b0,#7a0,#7b0,#7c0,#7e0,#810,#860,#8d0,#950,#9d0,#a50,#ac0,#b20,#b60,#b80,#b90)"></i><i style="background:linear-gradient(90deg,#c90,#d00,#d70,#dc0,#e00,#e30,#e40,#e50,#e50,#e40,#e20,#df0,#db0,#d50,#cf0,#c70,#bf0,#b60,#ac0,#a20,#980,#8e0,#840,#7c0,#750,#700,#6e0,#6c0,#6b0,#6b0,#6b0,#6a0,#690,#680,#670,#660,#670,#680,#6d0,#730,#7b0,#840,#8d0,#970,#a00,#a90,#b30,#bc0,#c40,#cb0,#d10,#d50,#d80,#da0,#db0,#da0,#d90,#d60,#d20,#cd0,#c60,#be0,#b50,#ac0,#a30,#9a0,#920,#8a0,#840,#7f0,#7c0,#790,#780,#770,#770,#770,#770,#770,#770,#770,#760,#760,#760,#770,#780,#7b0,#7f0,#850,#8c0,#940,#9d0,#a60,#ad0,#b30,#b70,#ba0,#ba0)"></i><i style="background:linear-gradient(90deg,#cb0,#d20,#d80,#de0,#e20,#e40,#e60,#e70,#e70,#e60,#e40,#e10,#dd0,#d70,#d10,#c90,#c10,#b80,#af0,#a50,#9b0,#920,#890,#820,#7c0,#780,#760,#750,#740,#740,#740,#730,#720,#710,#700,#6f0,#6f0,#700,#730,#780,#7e0,#860,#8f0,#980,#a10,#aa0,#b40,#bc0,#c50,#cc0,#d20,#d60,#d90,#db0,#db0,#db0,#da0,#d70,#d30,#cd0,#c70,#be0,#b60,#ac0,#a30,#9a0,#910,#890,#820,#7d0,#780,#750,#730,#720,#720,#720,#720,#720,#720,#710,#710,#710,#710,#720,#740,#770,#7c0,#820,#8a0,#930,#9d0,#a60,#ae0,#b40,#b80,#ba0,#bb0)"></i><i style="background:linear-gradient(90deg,#cc0,#d30,#d90,#df0,#e30,#e50,#e70,#e80,#e80,#e70,#e50,#e20,#de0,#d80,#d20,#ca0,#c20,#b90,#b00,#a70,#9e0,#950,#8d0,#870,#820,#7f0,#7d0,#7c0,#7c0,#7c0,#7b0,#7b0,#7a0,#790,#770,#760,#760,#760,#780,#7c0,#810,#880,#900,#990,#a20,#ab0,#b40,#bd0,#c50,#cc0,#d20,#d60,#d90,#db0,#db0,#db0,#da0,#d70,#d30,#ce0,#c70,#bf0,#b60,#ac0,#a30,#990,#900,#870,#800,#790,#740,#710,#6f0,#6d0,#6d0,#6c0,#6c0,#6c0,#6c0,#6c0,#6c0,#6c0,#6c0,#6d0,#700,#730,#790,#800,#890,#920,#9c0,#a60,#ae0,#b40,#b80,#bb0,#bb0)"></i><i style="background:linear-gradient(90deg,#cc0,#d40,#da0,#df0,#e30,#e60,#e70,#e80,#e80,#e70,#e50,#e30,#de0,#d90,#d30,#cb0,#c30,#ba0,#b20,#a90,#a00,#980,#910,#8b0,#870,#850,#830,#830,#830,#830,#830,#820,#810,#800,#7e0,#7d0,#7c0,#7c0,#7d0,#800,#840,#8a0,#910,#990,#a20,#ab0,#b40,#bd0,#c50,#cc0,#d20,#d60,#d90,#db0,#db0,#db0,#da0,#d70,#d30,#cd0,#c60,#be0,#b50,#ac0,#a20,#980,#8e0,#850,#7c0,#750,#700,#6c0,#690,#670,#670,#660,#660,#660,#660,#660,#660,#660,#660,#680,#6a0,#6e0,#750,#7d0,#860,#910,#9b0,#a50,#ad0,#b40,#b80,#bb0,#bb0)"></i><i style="background:linear-gradient(90deg,#cc0,#d40,#da0,#df0,#e30,#e60,#e70,#e80,#e80,#e70,#e60,#e30,#df0,#d90,#d30,#cb0,#c30,#bb0,#b20,#aa0,#a20,#9a0,#940,#8f0,#8c0,#8a0,#890,#890,#8a0,#8a0,#8a0,#890,#880,#870,#850,#830,#820,#810,#810,#830,#870,#8c0,#920,#990,#a20,#aa0,#b30,#bc0,#c40,#cb0,#d10,#d50,#d80,#da0,#db0,#da0,#d90,#d60,#d20,#cc0,#c50,#bd0,#b40,#ab0,#a00,#960,#8c0,#820,#790,#710,#6a0,#660,#630,#610,#600,#5f0,#5f0,#5f0,#5f0,#5f0,#5f0,#5f0,#600,#610,#640,#690,#700,#790,#830,#8f0,#9a0,#a40,#ad0,#b30,#b80,#ba0,#bb0)"></i><i style="background:linear-gradient(90deg,#cc0,#d30,#da0,#df0,#e30,#e50,#e70,#e80,#e80,#e70,#e50,#e20,#de0,#d90,#d20,#cb0,#c30,#bb0,#b30,#aa0,#a30,#9c0,#970,#930,#900,#8f0,#8f0,#900,#900,#910,#910,#900,#8f0,#8d0,#8b0,#890,#870,#860,#850,#860,#890,#8d0,#930,#9a0,#a10,#aa0,#b20,#bb0,#c30,#ca0,#d00,#d40,#d70,#d90,#da0,#d90,#d80,#d50,#d10,#cb0,#c40,#bc0,#b30,#a90,#9f0,#940,#890,#7f0,#740,#6b0,#640,#5f0,#5b0,#590,#580,#570,#570,#570,#570,#570,#570,#570,#580,#5a0,#5d0,#620,#6a0,#740,#800,#8c0,#980,#a30,#ab0,#b20,#b70,#b90,#ba0)"></i><i style="background:linear-gradient(90deg,#cb0,#d20,#d80,#de0,#e20,#e40,#e60,#e70,#e70,#e60,#e40,#e10,#dd0,#d80,#d10,#ca0,#c30,#ba0,#b20,#ab0,#a40,#9e0,#9a0,#960,#950,#950,#950,#960,#970,#980,#980,#970,#960,#940,#920,#8f0,#8d0,#8b0,#8a0,#8a0,#8b0,#8e0,#930,#990,#a10,#a90,#b10,#b90,#c10,#c80,#ce0,#d20,#d60,#d70,#d80,#d80,#d60,#d30,#cf0,#c90,#c20,#ba0,#b10,#a70,#9d0,#920,#870,#7b0,#6f0,#650,#5c0,#560,#520,#4f0,#4e0,#4d0,#4d0,#4d0,#4d0,#4d0,#4d0,#4d0,#4e0,#500,#540,#5a0,#630,#6f0,#7c0,#890,#960,#a10,#aa0,#b10,#b60,#b80,#b90)"></i><i style="background:linear-gradient(90deg,#c90,#d00,#d70,#dc0,#e00,#e30,#e50,#e50,#e50,#e40,#e30,#e00,#db0,#d60,#d00,#c90,#c10,#ba0,#b20,#ab0,#a50,#a00,#9c0,#9a0,#9a0,#9a0,#9b0,#9d0,#9e0,#9f0,#a00,#9f0,#9e0,#9c0,#990,#960,#930,#900,#8e0,#8d0,#8e0,#900,#940,#990,#a00,#a70,#af0,#b70,#bf0,#c60,#cc0,#d00,#d30,#d50,#d60,#d50,#d40,#d10,#cd0,#c70,#c00,#b80,#af0,#a50,#9a0,#8f0,#840,#770,#6a0,#5d0,#510,#490,#440,#420,#1e0,#150,#110,#0f0,#0e0,#0f0,#120,#180,#230,#420,#460,#4e0,#5a0,#690,#780,#860,#930,#9f0,#a80,#af0,#b40,#b60,#b80)"></i><i style="background:linear-gradient(90deg,#c70,#ce0,#d40,#da0,#de0,#e10,#e30,#e30,#e30,#e20,#e00,#dd0,#d90,#d40,#ce0,#c70,#c00,#b80,#b10,#ab0,#a50,#a10,#9f0,#9e0,#9e0,#a00,#a20,#a40,#a60,#a70,#a80,#a70,#a60,#a40,#a10,#9e0,#9a0,#960,#930,#910,#900,#910,#940,#980,#9e0,#a50,#ad0,#b50,#bc0,#c30,#c90,#cd0,#d10,#d30,#d30,#d30,#d10,#ce0,#ca0,#c40,#bd0,#b50,#ac0,#a20,#980,#8d0,#810,#740,#670,#590,#4c0,#470,#460,#480,#4a0,#1d0,#170,#140,#140,#160,#1a0,#500,#4e0,#4c0,#4b0,#4c0,#560,#650,#750,#840,#910,#9c0,#a60,#ad0,#b10,#b40,#b60)"></i><i style="background:linear-gradient(90deg,#c40,#cb0,#d10,#d70,#db0,#de0,#e00,#e10,#e10,#e00,#de0,#db0,#d70,#d10,#cb0,#c40,#bd0,#b60,#b00,#aa0,#a60,#a30,#a20,#a20,#a40,#a60,#a90,#ac0,#ae0,#af0,#b00,#af0,#ae0,#ac0,#a90,#a50,#a10,#9d0,#990,#950,#930,#930,#950,#980,#9d0,#a30,#aa0,#b20,#b90,#c00,#c60,#ca0,#cd0,#cf0,#d00,#d00,#ce0,#cb0,#c60,#c00,#ba0,#b10,#a90,#9f0,#950,#8a0,#7f0,#730,#680,#5e0,#580,#550,#550,#560,#580,#5a0,#5c0,#5e0,#5f0,#5f0,#5f0,#5e0,#5d0,#5b0,#5a0,#5b0,#5f0,#680,#740,#820,#8f0,#9a0,#a30,#aa0,#af0,#b20,#b30)"></i><i style="background:linear-gradient(90deg,#c00,#c80,#ce0,#d30,#d80,#db0,#dd0,#de0,#de0,#dd0,#da0,#d70,#d30,#ce0,#c80,#c10,#bb0,#b40,#ae0,#a90,#a60,#a50,#a50,#a70,#aa0,#ad0,#b00,#b30,#b60,#b70,#b80,#b70,#b60,#b40,#b10,#ad0,#a80,#a30,#9e0,#9a0,#970,#950,#960,#980,#9b0,#a10,#a70,#ae0,#b50,#bc0,#c20,#c60,#c90,#cb0,#cc0,#cc0,#ca0,#c70,#c20,#bd0,#b60,#ae0,#a50,#9c0,#920,#880,#7e0,#740,#6b0,#650,#610,#5f0,#600,#610,#630,#650,#670,#690,#6a0,#6a0,#6a0,#690,#680,#660,#650,#650,#680,#6d0,#760,#810,#8d0,#970,#a00,#a70,#ab0,#ae0,#b00)"></i><i style="background:linear-gradient(90deg,#bc0,#c30,#ca0,#cf0,#d30,#d70,#d90,#da0,#da0,#d90,#d70,#d30,#cf0,#ca0,#c40,#be0,#b80,#b20,#ad0,#a90,#a70,#a70,#a90,#ac0,#af0,#b30,#b70,#ba0,#bd0,#be0,#bf0,#bf0,#bd0,#bb0,#b80,#b40,#af0,#a90,#a40,#9f0,#9b0,#980,#970,#970,#9a0,#9f0,#a40,#ab0,#b10,#b80,#bd0,#c20,#c50,#c70,#c80,#c70,#c50,#c20,#be0,#b80,#b10,#a90,#a10,#980,#8f0,#860,#7d0,#750,#6f0,#6b0,#680,#680,#680,#6a0,#6c0,#6e0,#700,#720,#730,#740,#740,#730,#720,#700,#6f0,#6e0,#6f0,#720,#790,#810,#8b0,#940,#9d0,#a30,#a70,#aa0,#ac0)"></i><i style="background:linear-gradient(90deg,#b80,#bf0,#c50,#ca0,#cf0,#d20,#d40,#d50,#d50,#d40,#d20,#cf0,#cb0,#c60,#c00,#ba0,#b40,#af0,#ab0,#a90,#a80,#a90,#ac0,#b00,#b50,#b90,#bd0,#c00,#c30,#c50,#c50,#c50,#c40,#c10,#be0,#ba0,#b50,#af0,#aa0,#a40,#9f0,#9b0,#980,#980,#990,#9c0,#a10,#a70,#ad0,#b30,#b80,#bd0,#c00,#c20,#c30,#c20,#c00,#bd0,#b90,#b30,#ac0,#a50,#9d0,#950,#8c0,#840,#7d0,#770,#730,#700,#6f0,#6f0,#700,#720,#740,#770,#790,#7b0,#7c0,#7d0,#7d0,#7c0,#7a0,#790,#770,#760,#760,#780,#7c0,#820,#8a0,#920,#990,#9f0,#a30,#a60,#a70)"></i><i style="background:linear-gradient(90deg,#b20,#b90,#c00,#c50,#c90,#cd0,#cf0,#d00,#d00,#cf0,#cd0,#c90,#c50,#c00,#bb0,#b60,#b00,#ac0,#a90,#a80,#a90,#ac0,#b00,#b50,#ba0,#be0,#c30,#c60,#c90,#ca0,#cb0,#cb0,#ca0,#c70,#c40,#c00,#bb0,#b50,#af0,#a90,#a30,#9e0,#9a0,#980,#980,#9a0,#9e0,#a30,#a80,#ae0,#b30,#b70,#ba0,#bc0,#bd0,#bc0,#ba0,#b70,#b30,#ad0,#a70,#a00,#980,#910,#8a0,#830,#7e0,#790,#760,#740,#740,#750,#770,#790,#7c0,#7f0,#810,#830,#840,#850,#850,#840,#830,#810,#7f0,#7d0,#7c0,#7d0,#7f0,#830,#890,#8f0,#940,#990,#9d0,#a00,#a20)"></i><i style="background:linear-gradient(90deg,#ac0,#b30,#b90,#bf0,#c30,#c70,#c90,#ca0,#ca0,#c90,#c70,#c30,#bf0,#bb0,#b60,#b10,#ac0,#a90,#a80,#a80,#ab0,#af0,#b40,#b90,#be0,#c30,#c80,#cb0,#ce0,#cf0,#d00,#d00,#cf0,#cc0,#c90,#c50,#c00,#ba0,#b30,#ad0,#a70,#a10,#9c0,#990,#980,#980,#9a0,#9e0,#a30,#a80,#ad0,#b10,#b40,#b60,#b60,#b60,#b40,#b10,#ad0,#a70,#a10,#9b0,#940,#8d0,#870,#820,#7e0,#7b0,#790,#790,#790,#7b0,#7e0,#800,#830,#860,#890,#8b0,#8c0,#8d0,#8d0,#8c0,#8b0,#890,#870,#840,#830,#820,#820,#850,#880,#8c0,#8f0,#930,#970,#9a0,#9c0)"></i><i style="background:linear-gradient(90deg,#a60,#ac0,#b30,#b80,#bc0,#c00,#c20,#c30,#c30,#c20,#c00,#bd0,#b90,#b40,#b00,#ac0,#a80,#a70,#a70,#a90,#ac0,#b10,#b70,#bd0,#c20,#c70,#cc0,#cf0,#d20,#d40,#d40,#d40,#d30,#d10,#cd0,#c90,#c40,#be0,#b80,#b10,#aa0,#a40,#9e0,#9a0,#970,#970,#980,#9a0,#9e0,#a20,#a60,#aa0,#ad0,#af0,#af0,#af0,#ad0,#aa0,#a60,#a10,#9b0,#950,#8f0,#8a0,#850,#810,#7f0,#7d0,#7c0,#7d0,#7e0,#810,#840,#870,#8a0,#8e0,#900,#930,#940,#950,#950,#940,#930,#910,#8e0,#8c0,#890,#870,#860,#870,#880,#890,#8a0,#8b0,#8e0,#910,#930)"></i><i style="background:linear-gradient(90deg,#9f0,#a50,#ab0,#b00,#b50,#b80,#ba0,#bc0,#bc0,#ba0,#b80,#b50,#b20,#ae0,#aa0,#a70,#a50,#a40,#a60,#a90,#ae0,#b40,#ba0,#c00,#c60,#cb0,#d00,#d30,#d60,#d70,#d80,#d80,#d70,#d40,#d10,#cd0,#c80,#c20,#bb0,#b40,#ad0,#a60,#a00,#9b0,#970,#950,#950,#960,#990,#9c0,#a00,#a30,#a60,#a80,#a80,#a80,#a60,#a30,#9f0,#9a0,#950,#900,#8b0,#870,#830,#810,#7f0,#7f0,#800,#810,#830,#860,#8a0,#8e0,#920,#950,#980,#9b0,#9c0,#9d0,#9d0,#9d0,#9b0,#990,#960,#930,#900,#8d0,#8b0,#8a0,#890,#880,#840,#810,#830,#850,#880)"></i><i style="background:linear-gradient(90deg,#980,#9e0,#a30,#a80,#ad0,#b00,#b20,#b30,#b30,#b20,#b00,#ad0,#aa0,#a70,#a40,#a20,#a10,#a20,#a50,#aa0,#af0,#b60,#bc0,#c30,#c90,#ce0,#d30,#d60,#d90,#da0,#db0,#db0,#da0,#d80,#d50,#d00,#cb0,#c50,#be0,#b70,#b00,#a80,#a20,#9c0,#970,#940,#930,#930,#940,#970,#9a0,#9c0,#9f0,#a00,#a10,#a00,#9e0,#9c0,#980,#940,#8f0,#8b0,#870,#840,#820,#810,#800,#810,#830,#850,#890,#8c0,#900,#950,#990,#9d0,#a00,#a30,#a50,#a60,#a60,#a50,#a40,#a10,#9e0,#9b0,#970,#930,#900,#8e0,#8c0,#880,#810,#760,#6f0,#6d0,#740)"></i><i style="background:linear-gradient(90deg,#910,#960,#9b0,#a00,#a40,#a70,#aa0,#ab0,#ab0,#aa0,#a80,#a50,#a20,#a00,#9e0,#9d0,#9e0,#a10,#a50,#aa0,#b10,#b70,#be0,#c50,#cb0,#d10,#d50,#d90,#db0,#dd0,#dd0,#dd0,#dc0,#da0,#d70,#d30,#ce0,#c80,#c10,#ba0,#b20,#aa0,#a30,#9d0,#970,#930,#900,#8f0,#900,#920,#940,#960,#980,#990,#9a0,#990,#970,#950,#910,#8e0,#8a0,#870,#840,#820,#810,#810,#820,#840,#860,#8a0,#8e0,#920,#970,#9c0,#a00,#a40,#a80,#ab0,#ad0,#ae0,#ae0,#ae0,#ac0,#aa0,#a70,#a30,#9f0,#9b0,#960,#930,#8f0,#8b0,#850,#7c0,#740,#6f0,#6d0)"></i><i style="background:linear-gradient(90deg,#8a0,#8e0,#930,#970,#9b0,#9e0,#a10,#a20,#a20,#a10,#9f0,#9d0,#9b0,#990,#980,#990,#9b0,#9f0,#a50,#ab0,#b20,#b90,#c00,#c70,#cd0,#d30,#d70,#db0,#dd0,#df0,#df0,#df0,#de0,#dc0,#d90,#d50,#d00,#ca0,#c30,#bb0,#b40,#ac0,#a40,#9d0,#970,#920,#8e0,#8c0,#8c0,#8d0,#8e0,#900,#920,#930,#930,#920,#910,#8e0,#8b0,#880,#850,#830,#810,#800,#800,#820,#840,#870,#8a0,#8f0,#930,#990,#9e0,#a30,#a80,#ac0,#b00,#b30,#b50,#b60,#b60,#b60,#b40,#b20,#af0,#ab0,#a70,#a20,#9d0,#980,#940,#900,#8a0,#830,#7d0,#780,#750)"></i><i style="background:linear-gradient(90deg,#830,#870,#8b0,#8f0,#920,#950,#970,#990,#990,#980,#960,#950,#930,#920,#930,#950,#990,#9e0,#a40,#ab0,#b20,#ba0,#c10,#c80,#cf0,#d40,#d90,#dc0,#df0,#e00,#e10,#e00,#e00,#de0,#db0,#d70,#d20,#cb0,#c40,#bd0,#b50,#ad0,#a50,#9d0,#960,#900,#8c0,#890,#880,#880,#890,#8a0,#8b0,#8c0,#8c0,#8c0,#8a0,#880,#850,#830,#810,#7f0,#7e0,#7f0,#800,#830,#860,#8a0,#8f0,#940,#990,#9f0,#a50,#aa0,#af0,#b40,#b70,#ba0,#bd0,#be0,#be0,#be0,#bc0,#ba0,#b70,#b30,#ae0,#a90,#a40,#9e0,#990,#940,#8f0,#890,#830,#7e0,#7b0)"></i><i style="background:linear-gradient(90deg,#7d0,#800,#830,#860,#890,#8c0,#8e0,#8f0,#8f0,#8f0,#8d0,#8c0,#8c0,#8c0,#8e0,#910,#960,#9d0,#a30,#ab0,#b30,#ba0,#c20,#c90,#d00,#d50,#da0,#dd0,#e00,#e10,#e10,#e10,#e00,#df0,#dc0,#d80,#d30,#cc0,#c50,#be0,#b60,#ad0,#a50,#9d0,#950,#8e0,#890,#850,#830,#830,#830,#840,#850,#860,#860,#850,#840,#820,#800,#7d0,#7c0,#7b0,#7b0,#7d0,#800,#840,#890,#8e0,#930,#990,#9f0,#a50,#ab0,#b10,#b60,#ba0,#be0,#c10,#c40,#c50,#c50,#c50,#c30,#c10,#be0,#ba0,#b50,#b00,#aa0,#a40,#9f0,#990,#940,#8e0,#880,#830,#7f0)"></i><i style="background:linear-gradient(90deg,#770,#780,#7a0,#7d0,#800,#820,#840,#850,#850,#850,#840,#840,#840,#860,#890,#8e0,#940,#9b0,#a30,#aa0,#b20,#ba0,#c20,#c90,#d00,#d60,#da0,#de0,#e00,#e10,#e20,#e20,#e10,#df0,#dc0,#d80,#d30,#cd0,#c60,#be0,#b60,#ad0,#a50,#9c0,#940,#8c0,#860,#810,#7e0,#7d0,#7d0,#7e0,#7f0,#7f0,#7f0,#7f0,#7d0,#7b0,#7a0,#780,#770,#770,#780,#7c0,#800,#860,#8b0,#910,#970,#9e0,#a40,#ab0,#b10,#b70,#bc0,#c10,#c50,#c80,#ca0,#cb0,#cb0,#cb0,#ca0,#c70,#c40,#c00,#bc0,#b60,#b00,#aa0,#a40,#9e0,#980,#920,#8c0,#870,#830)"></i><i style="background:linear-gradient(90deg,#710,#710,#720,#740,#760,#780,#7a0,#7b0,#7b0,#7b0,#7b0,#7b0,#7c0,#7f0,#840,#8b0,#920,#9a0,#a20,#aa0,#b20,#ba0,#c20,#c90,#d00,#d50,#da0,#de0,#e00,#e10,#e20,#e20,#e10,#df0,#dc0,#d80,#d30,#cd0,#c60,#be0,#b60,#ad0,#a40,#9b0,#920,#890,#820,#7c0,#790,#770,#770,#770,#780,#780,#780,#780,#760,#750,#730,#720,#710,#720,#750,#7a0,#800,#870,#8e0,#950,#9c0,#a20,#a90,#b00,#b60,#bc0,#c20,#c60,#ca0,#cd0,#cf0,#d10,#d10,#d00,#cf0,#cd0,#ca0,#c60,#c10,#bc0,#b60,#af0,#a90,#a20,#9c0,#960,#900,#8b0,#860)"></i><i style="background:linear-gradient(90deg,#6b0,#690,#690,#690,#6b0,#6d0,#6e0,#6f0,#6f0,#700,#700,#710,#740,#790,#7f0,#870,#8f0,#980,#a00,#a90,#b10,#b90,#c10,#c80,#cf0,#d50,#d90,#dd0,#df0,#e10,#e10,#e10,#e00,#de0,#dc0,#d80,#d20,#cc0,#c50,#bd0,#b50,#ac0,#a30,#990,#8f0,#860,#7d0,#770,#730,#710,#700,#700,#710,#710,#710,#700,#6f0,#6d0,#6c0,#6b0,#6b0,#6d0,#720,#790,#810,#890,#910,#980,#a00,#a70,#ae0,#b50,#bb0,#c10,#c70,#cb0,#cf0,#d20,#d40,#d50,#d60,#d50,#d40,#d20,#cf0,#cb0,#c60,#c10,#bb0,#b40,#ad0,#a60,#a00,#990,#930,#8e0,#890)"></i><i style="background:linear-gradient(90deg,#650,#610,#5e0,#5e0,#5e0,#5f0,#600,#610,#620,#620,#640,#660,#6b0,#720,#7a0,#840,#8d0,#960,#9f0,#a70,#b00,#b80,#c00,#c70,#ce0,#d40,#d80,#dc0,#de0,#e00,#e00,#e00,#df0,#dd0,#da0,#d60,#d10,#cb0,#c40,#bc0,#b40,#ab0,#a10,#970,#8c0,#820,#780,#700,#6b0,#690,#680,#680,#680,#690,#680,#680,#660,#650,#640,#630,#640,#670,#6e0,#780,#820,#8b0,#940,#9c0,#a30,#ab0,#b20,#b90,#c00,#c60,#cb0,#d00,#d30,#d60,#d80,#d90,#da0,#d90,#d80,#d60,#d30,#cf0,#ca0,#c50,#bf0,#b80,#b10,#aa0,#a30,#9c0,#960,#900,#8b0)"></i><i style="background:linear-gradient(90deg,#600,#590,#540,#4f0,#4d0,#4c0,#4c0,#4d0,#4e0,#510,#550,#5a0,#620,#6c0,#760,#800,#8a0,#940,#9d0,#a50,#ae0,#b60,#be0,#c50,#cc0,#d20,#d70,#da0,#dd0,#de0,#df0,#df0,#de0,#dc0,#d90,#d50,#d00,#c90,#c20,#ba0,#b20,#a90,#9f0,#950,#890,#7d0,#710,#680,#620,#5f0,#5e0,#5e0,#5f0,#5f0,#5f0,#5e0,#5d0,#5b0,#590,#590,#5a0,#600,#6c0,#780,#840,#8e0,#960,#9f0,#a60,#ae0,#b50,#bc0,#c30,#c90,#cf0,#d30,#d70,#da0,#dc0,#dd0,#dd0,#dd0,#dc0,#da0,#d70,#d30,#ce0,#c90,#c20,#bc0,#b50,#ad0,#a60,#9f0,#990,#930,#8d0)"></i><i style="background:linear-gradient(90deg,#5e0,#550,#4d0,#450,#3f0,#3b0,#390,#390,#3b0,#400,#470,#500,#5b0,#670,#720,#7e0,#880,#920,#9b0,#a30,#ac0,#b40,#bc0,#c30,#ca0,#d00,#d40,#d80,#db0,#dc0,#dd0,#dd0,#dc0,#da0,#d70,#d20,#cd0,#c70,#c00,#b80,#b00,#a70,#9d0,#920,#860,#780,#6a0,#5d0,#550,#4d0,#260,#1a0,#130,#110,#110,#110,#160,#1f0,#2c0,#3b0,#4f0,#5e0,#6d0,#7a0,#860,#900,#990,#a10,#a90,#b10,#b80,#bf0,#c60,#cc0,#d20,#d60,#da0,#dd0,#df0,#e00,#e00,#e00,#de0,#dc0,#da0,#d60,#d10,#cc0,#c50,#bf0,#b70,#b00,#a90,#a10,#9b0,#940,#8f0)"></i><i style="background:linear-gradient(90deg,#5f0,#580,#510,#4b0,#460,#420,#3f0,#3e0,#400,#440,#490,#510,#5a0,#650,#700,#7c0,#860,#8f0,#980,#a10,#a90,#b10,#b90,#c00,#c70,#cd0,#d20,#d50,#d80,#da0,#da0,#da0,#d90,#d70,#d40,#d00,#ca0,#c40,#bd0,#b50,#ad0,#a40,#9a0,#8f0,#830,#750,#650,#570,#510,#4e0,#360,#220,#1b0,#190,#180,#1b0,#210,#530,#550,#590,#5e0,#670,#720,#7e0,#880,#920,#9b0,#a30,#ab0,#b30,#bb0,#c20,#c90,#cf0,#d40,#d90,#dc0,#df0,#e10,#e20,#e20,#e20,#e10,#df0,#dc0,#d80,#d40,#ce0,#c80,#c10,#ba0,#b20,#ab0,#a30,#9c0,#960,#900)"></i><i style="background:linear-gradient(90deg,#630,#5e0,#5a0,#570,#560,#540,#540,#530,#530,#540,#560,#5a0,#5f0,#670,#700,#7a0,#840,#8d0,#960,#9e0,#a60,#ae0,#b60,#bd0,#c30,#c90,#ce0,#d20,#d50,#d60,#d70,#d70,#d60,#d40,#d10,#cc0,#c70,#c10,#ba0,#b20,#aa0,#a10,#970,#8d0,#810,#740,#680,#600,#5b0,#590,#580,#580,#580,#590,#5a0,#5b0,#5c0,#5d0,#5f0,#620,#670,#6e0,#770,#810,#8b0,#940,#9d0,#a50,#ad0,#b50,#bd0,#c40,#cb0,#d10,#d60,#db0,#de0,#e10,#e30,#e40,#e40,#e30,#e20,#e10,#de0,#da0,#d60,#d00,#ca0,#c30,#bc0,#b40,#ac0,#a50,#9e0,#970,#910)"></i><i style="background:linear-gradient(90deg,#690,#660,#630,#620,#610,#610,#600,#600,#600,#600,#610,#630,#660,#6b0,#720,#7a0,#830,#8b0,#930,#9b0,#a30,#aa0,#b20,#b90,#bf0,#c50,#ca0,#ce0,#d10,#d30,#d30,#d30,#d20,#d00,#cd0,#c80,#c30,#bd0,#b60,#ae0,#a60,#9e0,#940,#8a0,#800,#750,#6c0,#660,#620,#600,#600,#600,#600,#610,#620,#630,#640,#650,#670,#6a0,#6e0,#740,#7c0,#850,#8d0,#960,#9e0,#a70,#ae0,#b60,#be0,#c50,#cc0,#d20,#d80,#dc0,#e00,#e20,#e40,#e50,#e50,#e50,#e40,#e20,#df0,#db0,#d70,#d10,#cb0,#c40,#bd0,#b50,#ad0,#a60,#9f0,#980,#920)"></i><i style="background:linear-gradient(90deg,#6e0,#6c0,#6b0,#6b0,#6a0,#6a0,#6a0,#6a0,#6a0,#690,#6a0,#6a0,#6c0,#6f0,#740,#7b0,#810,#890,#900,#970,#9f0,#a60,#ad0,#b40,#bb0,#c10,#c60,#c90,#cc0,#ce0,#cf0,#cf0,#ce0,#cb0,#c80,#c40,#be0,#b80,#b10,#aa0,#a20,#9a0,#910,#880,#7f0,#770,#700,#6b0,#680,#670,#660,#660,#670,#680,#680,#690,#6a0,#6c0,#6e0,#700,#740,#790,#800,#870,#8f0,#980,#a00,#a80,#af0,#b70,#bf0,#c60,#cd0,#d30,#d80,#dd0,#e00,#e30,#e40,#e50,#e50,#e50,#e40,#e30,#e00,#dc0,#d80,#d20,#cc0,#c50,#bd0,#b60,#ae0,#a70,#9f0,#990,#920)"></i><i style="background:linear-gradient(90deg,#730,#720,#720,#720,#720,#720,#720,#720,#720,#710,#710,#710,#720,#740,#770,#7b0,#810,#870,#8d0,#940,#9b0,#a20,#a90,#af0,#b60,#bb0,#c00,#c40,#c70,#c90,#ca0,#ca0,#c80,#c60,#c30,#be0,#b90,#b30,#ad0,#a50,#9e0,#960,#8f0,#870,#7f0,#790,#730,#700,#6d0,#6c0,#6c0,#6c0,#6d0,#6e0,#6e0,#6f0,#700,#720,#730,#760,#790,#7e0,#830,#8a0,#910,#990,#a00,#a80,#b00,#b70,#bf0,#c60,#cd0,#d30,#d90,#dd0,#e10,#e30,#e50,#e50,#e60,#e50,#e40,#e30,#e00,#dc0,#d80,#d20,#cc0,#c50,#be0,#b60,#ae0,#a70,#9f0,#990,#920)"></i><i style="background:linear-gradient(90deg,#770,#780,#780,#780,#790,#790,#790,#790,#780,#780,#770,#770,#770,#780,#7a0,#7d0,#810,#850,#8a0,#900,#960,#9d0,#a30,#aa0,#b00,#b50,#ba0,#be0,#c10,#c30,#c40,#c40,#c20,#c00,#bd0,#b90,#b30,#ad0,#a70,#a00,#990,#920,#8c0,#850,#7f0,#7a0,#760,#730,#720,#710,#710,#710,#720,#730,#740,#750,#760,#770,#790,#7b0,#7d0,#810,#860,#8c0,#920,#990,#a10,#a80,#b00,#b70,#bf0,#c60,#cd0,#d30,#d80,#dd0,#e00,#e30,#e40,#e50,#e50,#e50,#e40,#e20,#e00,#dc0,#d70,#d20,#cc0,#c50,#bd0,#b60,#ae0,#a60,#9f0,#980,#920)"></i><i style="background:linear-gradient(90deg,#7c0,#7c0,#7d0,#7e0,#7f0,#7f0,#7f0,#7f0,#7f0,#7e0,#7d0,#7c0,#7c0,#7c0,#7c0,#7e0,#810,#840,#880,#8d0,#920,#980,#9e0,#a40,#aa0,#af0,#b40,#b80,#ba0,#bc0,#bd0,#bd0,#bc0,#b90,#b60,#b20,#ad0,#a70,#a10,#9b0,#950,#8f0,#890,#830,#7f0,#7b0,#780,#760,#750,#750,#750,#760,#770,#780,#790,#7a0,#7b0,#7c0,#7d0,#7f0,#810,#840,#890,#8e0,#930,#9a0,#a10,#a80,#af0,#b70,#be0,#c50,#cc0,#d20,#d70,#dc0,#df0,#e20,#e40,#e40,#e50,#e40,#e30,#e10,#df0,#db0,#d60,#d10,#cb0,#c40,#bc0,#b50,#ad0,#a60,#9e0,#980,#920)"></i><i style="background:linear-gradient(90deg,#800,#810,#820,#830,#840,#840,#850,#840,#840,#830,#820,#810,#800,#7f0,#7f0,#800,#810,#830,#860,#890,#8e0,#920,#980,#9d0,#a30,#a80,#ac0,#b00,#b30,#b50,#b60,#b60,#b40,#b20,#af0,#ab0,#a60,#a10,#9b0,#950,#900,#8b0,#860,#820,#7e0,#7c0,#7a0,#790,#790,#790,#790,#7a0,#7c0,#7d0,#7e0,#7f0,#800,#810,#820,#830,#850,#870,#8b0,#8f0,#940,#9a0,#a00,#a70,#ae0,#b60,#bd0,#c40,#cb0,#d10,#d60,#da0,#de0,#e00,#e20,#e30,#e30,#e30,#e20,#e00,#dd0,#da0,#d50,#cf0,#c90,#c20,#bb0,#b30,#ac0,#a40,#9d0,#970,#910)"></i><i style="background:linear-gradient(90deg,#830,#850,#860,#880,#890,#890,#8a0,#890,#890,#880,#870,#850,#840,#820,#820,#810,#810,#820,#840,#860,#890,#8d0,#920,#970,#9c0,#a00,#a40,#a80,#ab0,#ad0,#ad0,#ad0,#ac0,#aa0,#a70,#a30,#9e0,#9a0,#950,#900,#8b0,#870,#830,#800,#7e0,#7d0,#7c0,#7b0,#7c0,#7c0,#7d0,#7f0,#800,#810,#830,#840,#840,#850,#860,#870,#880,#8a0,#8d0,#900,#950,#9a0,#a00,#a60,#ad0,#b40,#bb0,#c20,#c90,#cf0,#d40,#d80,#dc0,#df0,#e00,#e10,#e20,#e10,#e00,#de0,#db0,#d80,#d30,#cd0,#c70,#c00,#b90,#b10,#aa0,#a30,#9c0,#950,#900)"></i><i style="background:linear-gradient(90deg,#870,#890,#8a0,#8c0,#8d0,#8e0,#8e0,#8e0,#8d0,#8c0,#8b0,#890,#870,#850,#840,#830,#820,#820,#830,#840,#860,#890,#8c0,#900,#940,#980,#9c0,#9f0,#a20,#a40,#a50,#a40,#a30,#a10,#9e0,#9b0,#970,#930,#8e0,#8a0,#870,#840,#810,#7f0,#7e0,#7d0,#7d0,#7e0,#7e0,#800,#810,#830,#850,#860,#870,#880,#890,#8a0,#8a0,#8b0,#8c0,#8d0,#8f0,#910,#950,#9a0,#9f0,#a50,#ab0,#b20,#b90,#c00,#c60,#cc0,#d10,#d60,#d90,#dc0,#de0,#df0,#df0,#df0,#de0,#dc0,#d90,#d50,#d00,#cb0,#c40,#be0,#b60,#af0,#a80,#a10,#9a0,#940,#8e0)"></i><i style="background:linear-gradient(90deg,#8a0,#8c0,#8e0,#900,#910,#920,#920,#920,#910,#900,#8e0,#8c0,#8a0,#880,#860,#840,#830,#820,#820,#820,#830,#850,#870,#8a0,#8e0,#910,#940,#970,#990,#9b0,#9b0,#9b0,#9a0,#980,#960,#930,#8f0,#8c0,#890,#860,#830,#810,#800,#7f0,#7e0,#7e0,#7f0,#800,#820,#830,#850,#870,#890,#8b0,#8d0,#8e0,#8f0,#8f0,#8f0,#8f0,#900,#900,#910,#930,#960,#990,#9e0,#a30,#a90,#b00,#b60,#bd0,#c30,#c90,#ce0,#d30,#d60,#d90,#db0,#dc0,#dc0,#dc0,#db0,#d90,#d60,#d20,#cd0,#c70,#c10,#bb0,#b30,#ac0,#a50,#9e0,#980,#920,#8c0)"></i><i style="background:linear-gradient(90deg,#8d0,#8f0,#910,#930,#940,#950,#950,#950,#940,#930,#920,#900,#8d0,#8b0,#880,#860,#840,#820,#810,#810,#810,#820,#830,#850,#880,#8a0,#8d0,#8f0,#910,#920,#920,#920,#910,#900,#8e0,#8b0,#890,#860,#840,#820,#800,#7f0,#7f0,#7e0,#7f0,#800,#810,#830,#850,#870,#8a0,#8c0,#8f0,#910,#930,#940,#950,#950,#950,#950,#940,#940,#940,#950,#970,#990,#9d0,#a10,#a70,#ad0,#b30,#b90,#bf0,#c50,#ca0,#cf0,#d30,#d50,#d70,#d80,#d90,#d80,#d70,#d50,#d20,#ce0,#c90,#c40,#bd0,#b70,#b00,#a90,#a20,#9b0,#950,#8f0,#8a0)"></i><i style="background:linear-gradient(90deg,#900,#920,#940,#960,#970,#980,#980,#980,#970,#960,#940,#920,#900,#8d0,#8b0,#880,#850,#830,#810,#800,#7f0,#7f0,#800,#810,#830,#840,#860,#880,#890,#8a0,#8a0,#8a0,#890,#880,#870,#850,#830,#820,#800,#7f0,#7e0,#7e0,#7e0,#7f0,#800,#820,#840,#860,#890,#8c0,#8f0,#920,#950,#970,#990,#9b0,#9c0,#9c0,#9c0,#9b0,#9a0,#990,#980,#980,#980,#990,#9c0,#a00,#a40,#a90,#af0,#b50,#bb0,#c10,#c60,#ca0,#ce0,#d10,#d30,#d40,#d40,#d40,#d30,#d00,#cd0,#c90,#c50,#bf0,#b90,#b30,#ac0,#a50,#9e0,#980,#920,#8d0,#880)"></i><i style="background:linear-gradient(90deg,#920,#950,#970,#990,#9a0,#9b0,#9b0,#9b0,#9a0,#990,#970,#950,#920,#900,#8d0,#890,#870,#840,#820,#800,#7e0,#7e0,#7d0,#7e0,#7e0,#7f0,#810,#820,#830,#830,#840,#830,#830,#820,#810,#800,#7f0,#7e0,#7d0,#7d0,#7d0,#7e0,#7f0,#800,#820,#840,#870,#8a0,#8e0,#910,#950,#980,#9c0,#9e0,#a10,#a20,#a30,#a30,#a30,#a20,#a00,#9f0,#9d0,#9b0,#9a0,#9a0,#9c0,#9e0,#a20,#a60,#ab0,#b10,#b70,#bc0,#c10,#c50,#c90,#cc0,#ce0,#cf0,#cf0,#cf0,#ce0,#cb0,#c80,#c40,#c00,#ba0,#b40,#ae0,#a70,#a10,#9a0,#940,#8f0,#8a0,#860)"></i><i style="background:linear-gradient(90deg,#940,#970,#990,#9b0,#9c0,#9d0,#9d0,#9d0,#9c0,#9b0,#990,#970,#940,#910,#8e0,#8b0,#880,#850,#820,#7f0,#7d0,#7c0,#7b0,#7b0,#7b0,#7b0,#7c0,#7d0,#7d0,#7e0,#7e0,#7e0,#7e0,#7d0,#7d0,#7c0,#7c0,#7b0,#7b0,#7c0,#7d0,#7e0,#7f0,#820,#840,#870,#8b0,#8f0,#930,#970,#9b0,#9f0,#a20,#a50,#a80,#a90,#aa0,#ab0,#aa0,#a90,#a70,#a50,#a20,#a00,#9e0,#9c0,#9c0,#9d0,#9f0,#a30,#a70,#ac0,#b10,#b60,#bb0,#c00,#c30,#c60,#c80,#c90,#ca0,#c90,#c80,#c60,#c20,#be0,#ba0,#b40,#af0,#a80,#a20,#9c0,#960,#900,#8b0,#870,#830)"></i><i style="background:linear-gradient(90deg,#960,#990,#9b0,#9d0,#9e0,#9f0,#9f0,#9f0,#9e0,#9d0,#9b0,#990,#960,#930,#900,#8c0,#890,#850,#820,#7f0,#7c0,#7a0,#790,#780,#770,#770,#770,#780,#780,#790,#790,#790,#790,#790,#780,#780,#790,#790,#7a0,#7b0,#7c0,#7e0,#810,#830,#870,#8b0,#8f0,#930,#980,#9d0,#a10,#a50,#a90,#ac0,#af0,#b00,#b10,#b20,#b10,#b00,#ad0,#ab0,#a80,#a50,#a20,#9f0,#9d0,#9d0,#9e0,#a00,#a30,#a70,#ac0,#b00,#b50,#b90,#bd0,#c00,#c20,#c30,#c30,#c30,#c10,#bf0,#bc0,#b80,#b30,#ae0,#a80,#a30,#9d0,#970,#910,#8c0,#880,#840,#810)"></i><i style="background:linear-gradient(90deg,#970,#9a0,#9c0,#9e0,#9f0,#a00,#a00,#a00,#9f0,#9e0,#9c0,#9a0,#970,#940,#910,#8d0,#890,#850,#820,#7e0,#7b0,#790,#760,#750,#740,#730,#730,#730,#730,#740,#740,#740,#740,#740,#750,#750,#760,#770,#780,#7a0,#7d0,#7f0,#820,#860,#8a0,#8e0,#930,#980,#9d0,#a20,#a70,#ab0,#af0,#b30,#b50,#b70,#b80,#b80,#b70,#b60,#b40,#b10,#ad0,#aa0,#a60,#a20,#9f0,#9d0,#9c0,#9d0,#9f0,#a20,#a60,#aa0,#ae0,#b20,#b60,#b80,#ba0,#bc0,#bc0,#bc0,#ba0,#b80,#b50,#b10,#ac0,#a70,#a20,#9c0,#970,#920,#8d0,#880,#850,#810,#7f0)"></i><i style="background:linear-gradient(90deg,#980,#9b0,#9d0,#9f0,#a00,#a10,#a10,#a10,#a00,#9f0,#9e0,#9b0,#990,#950,#920,#8e0,#8a0,#860,#810,#7e0,#7a0,#770,#740,#720,#700,#6f0,#6f0,#6f0,#6e0,#6f0,#6f0,#6f0,#6f0,#700,#710,#720,#730,#750,#770,#7a0,#7d0,#800,#840,#880,#8d0,#920,#970,#9c0,#a20,#a70,#ad0,#b10,#b50,#b90,#bb0,#bd0,#be0,#be0,#bd0,#bc0,#ba0,#b70,#b30,#af0,#aa0,#a60,#a20,#9f0,#9c0,#9b0,#9c0,#9d0,#a00,#a30,#a70,#ab0,#ae0,#b00,#b30,#b40,#b40,#b40,#b20,#b00,#ad0,#a90,#a50,#a00,#9b0,#960,#910,#8d0,#880,#850,#820,#7f0,#7d0)"></i><i style="background:linear-gradient(90deg,#990,#9c0,#9e0,#a00,#a10,#a10,#a20,#a10,#a10,#a00,#9e0,#9c0,#990,#960,#920,#8e0,#8a0,#850,#810,#7c0,#780,#740,#710,#6e0,#6c0,#6b0,#6a0,#6a0,#690,#690,#6a0,#6a0,#6b0,#6c0,#6d0,#6e0,#700,#730,#760,#790,#7d0,#810,#860,#8a0,#900,#950,#9b0,#a10,#a70,#ac0,#b20,#b70,#bb0,#be0,#c10,#c20,#c30,#c40,#c30,#c10,#bf0,#bc0,#b80,#b40,#af0,#aa0,#a50,#a10,#9d0,#9a0,#990,#990,#9b0,#9d0,#a00,#a30,#a60,#a80,#aa0,#ab0,#ac0,#ac0,#aa0,#a80,#a50,#a20,#9e0,#990,#950,#900,#8c0,#880,#840,#810,#7f0,#7d0,#7b0)"></i><i style="background:linear-gradient(90deg,#990,#9c0,#9e0,#a00,#a10,#a20,#a20,#a20,#a10,#a00,#9f0,#9c0,#9a0,#960,#920,#8e0,#8a0,#850,#800,#7b0,#760,#720,#6e0,#6b0,#680,#660,#650,#640,#640,#640,#640,#650,#650,#670,#680,#6b0,#6d0,#710,#740,#790,#7d0,#820,#870,#8d0,#920,#980,#9f0,#a50,#ab0,#b10,#b60,#bb0,#c00,#c30,#c60,#c70,#c80,#c80,#c80,#c60,#c40,#c10,#bd0,#b80,#b30,#ae0,#a80,#a30,#9e0,#9a0,#980,#960,#960,#970,#990,#9b0,#9e0,#a00,#a20,#a30,#a40,#a30,#a20,#a00,#9e0,#9a0,#970,#930,#8e0,#8a0,#860,#830,#800,#7e0,#7c0,#7a0,#790)"></i><i style="background:linear-gradient(90deg,#990,#9c0,#9e0,#a00,#a10,#a20,#a20,#a20,#a10,#a00,#9f0,#9c0,#9a0,#960,#920,#8e0,#890,#840,#7f0,#790,#740,#6f0,#6a0,#660,#630,#610,#5f0,#5e0,#5e0,#5e0,#5e0,#5f0,#600,#610,#640,#660,#6a0,#6e0,#730,#780,#7d0,#830,#890,#8f0,#950,#9c0,#a20,#a90,#af0,#b50,#bb0,#c00,#c40,#c70,#ca0,#cc0,#cc0,#cd0,#cc0,#ca0,#c80,#c50,#c10,#bc0,#b70,#b10,#ab0,#a50,#a00,#9b0,#970,#940,#920,#920,#930,#940,#960,#980,#9a0,#9b0,#9b0,#9b0,#9a0,#980,#960,#930,#8f0,#8c0,#880,#840,#810,#7e0,#7c0,#7a0,#790,#780,#770)"></i><i style="background:linear-gradient(90deg,#990,#9c0,#9e0,#a00,#a10,#a20,#a20,#a20,#a10,#a00,#9e0,#9c0,#990,#960,#920,#8d0,#890,#830,#7d0,#770,#710,#6b0,#660,#610,#5e0,#5b0,#590,#570,#570,#570,#570,#580,#590,#5b0,#5e0,#620,#660,#6b0,#710,#770,#7e0,#840,#8b0,#910,#980,#9e0,#a50,#ac0,#b30,#b90,#be0,#c30,#c80,#cb0,#ce0,#cf0,#d00,#d00,#d00,#ce0,#cc0,#c80,#c40,#c00,#ba0,#b40,#ae0,#a80,#a20,#9c0,#960,#920,#8f0,#8d0,#8d0,#8d0,#8f0,#900,#920,#930,#930,#930,#920,#910,#8e0,#8b0,#880,#850,#820,#7e0,#7c0,#790,#780,#770,#760,#760,#760)"></i><i style="background:linear-gradient(90deg,#980,#9b0,#9d0,#9f0,#a00,#a10,#a10,#a10,#a00,#9f0,#9e0,#9b0,#980,#950,#910,#8d0,#870,#820,#7c0,#750,#6e0,#680,#610,#5c0,#580,#540,#510,#500,#4f0,#4f0,#4f0,#500,#520,#550,#580,#5d0,#620,#690,#6f0,#760,#7e0,#850,#8c0,#930,#9a0,#a10,#a80,#af0,#b60,#bc0,#c20,#c70,#cb0,#ce0,#d10,#d20,#d30,#d30,#d30,#d10,#cf0,#cc0,#c80,#c30,#bd0,#b70,#b10,#aa0,#a30,#9d0,#960,#910,#8c0,#890,#870,#860,#870,#880,#890,#8a0,#8b0,#8b0,#8a0,#880,#860,#840,#810,#7e0,#7b0,#780,#760,#740,#730,#730,#730,#740,#740)"></i><i style="background:linear-gradient(90deg,#970,#9a0,#9c0,#9e0,#9f0,#a00,#a00,#a00,#9f0,#9e0,#9d0,#9a0,#970,#940,#900,#8b0,#860,#800,#7a0,#730,#6b0,#630,#5c0,#560,#500,#4c0,#490,#470,#450,#450,#460,#470,#4a0,#4d0,#520,#570,#5e0,#660,#6e0,#760,#7e0,#860,#8d0,#950,#9c0,#a30,#aa0,#b20,#b80,#bf0,#c40,#c90,#ce0,#d10,#d30,#d50,#d60,#d60,#d50,#d40,#d10,#ce0,#ca0,#c60,#c00,#ba0,#b30,#ac0,#a50,#9e0,#960,#8f0,#890,#840,#810,#7f0,#7f0,#800,#800,#810,#820,#820,#810,#800,#7e0,#7b0,#790,#760,#730,#710,#6f0,#6e0,#6e0,#6f0,#700,#710,#730)"></i><i style="background:linear-gradient(90deg,#960,#990,#9b0,#9d0,#9e0,#9f0,#9f0,#9f0,#9e0,#9d0,#9b0,#990,#960,#930,#8f0,#8a0,#850,#7f0,#780,#700,#680,#5f0,#570,#4f0,#480,#430,#3f0,#3c0,#3a0,#3a0,#3a0,#3d0,#400,#450,#4a0,#520,#5a0,#630,#6c0,#750,#7e0,#860,#8e0,#960,#9e0,#a50,#ac0,#b40,#bb0,#c10,#c70,#cc0,#d00,#d30,#d60,#d70,#d80,#d80,#d70,#d60,#d40,#d10,#cd0,#c80,#c20,#bc0,#b50,#ae0,#a60,#9e0,#970,#8f0,#870,#800,#7b0,#780,#760,#760,#770,#770,#780,#780,#770,#760,#740,#720,#6f0,#6d0,#6a0,#680,#670,#670,#680,#6a0,#6d0,#6f0,#710)"></i><i style="background:linear-gradient(90deg,#940,#970,#990,#9b0,#9c0,#9d0,#9d0,#9d0,#9c0,#9b0,#990,#970,#940,#910,#8d0,#880,#830,#7d0,#750,#6d0,#640,#5b0,#510,#480,#400,#390,#330,#2f0,#2c0,#2c0,#2d0,#300,#350,#3c0,#430,#4c0,#560,#600,#6b0,#750,#7e0,#870,#8f0,#970,#9f0,#a70,#ae0,#b50,#bc0,#c30,#c90,#ce0,#d20,#d50,#d70,#d90,#d90,#d90,#d90,#d70,#d50,#d20,#ce0,#c90,#c40,#bd0,#b60,#af0,#a70,#9f0,#970,#8f0,#860,#7d0,#750,#6f0,#6b0,#6a0,#6a0,#6b0,#6c0,#6c0,#6b0,#6a0,#680,#660,#640,#610,#5f0,#5d0,#5d0,#5f0,#620,#660,#6a0,#6d0,#700)"></i><i style="background:linear-gradient(90deg,#920,#950,#970,#990,#9a0,#9b0,#9b0,#9b0,#9a0,#990,#970,#950,#920,#8f0,#8b0,#860,#810,#7b0,#730,#6b0,#610,#570,#4c0,#420,#390,#310,#2a0,#260,#240,#240,#250,#280,#2e0,#350,#3e0,#480,#540,#5f0,#6a0,#750,#7e0,#880,#900,#980,#a00,#a80,#af0,#b70,#be0,#c40,#ca0,#cf0,#d30,#d60,#d80,#da0,#da0,#da0,#da0,#d90,#d70,#d40,#d00,#cb0,#c50,#bf0,#b80,#b00,#a80,#a00,#980,#8f0,#860,#7c0,#730,#690,#5f0,#570,#540,#560,#580,#590,#590,#390,#390,#530,#4f0,#4a0,#470,#4a0,#510,#570,#5e0,#640,#690,#6d0,#700)"></i><i style="background:linear-gradient(90deg,#900,#930,#950,#970,#980,#990,#990,#990,#980,#970,#950,#930,#900,#8d0,#890,#840,#7f0,#790,#720,#690,#600,#550,#4b0,#400,#370,#2f0,#290,#250,#230,#230,#240,#270,#2d0,#340,#3d0,#480,#530,#5f0,#6a0,#750,#7f0,#880,#910,#990,#a10,#a80,#b00,#b70,#be0,#c50,#cb0,#d00,#d40,#d70,#d90,#da0,#db0,#db0,#db0,#d90,#d70,#d40,#d00,#cc0,#c60,#bf0,#b80,#b10,#a90,#a10,#980,#900,#870,#7d0,#740,#6b0,#630,#5d0,#580,#540,#510,#4f0,#4e0,#4e0,#4e0,#4e0,#4f0,#500,#510,#540,#570,#5b0,#600,#650,#690,#6d0,#700)"></i><i style="background:linear-gradient(90deg,#8d0,#900,#920,#940,#950,#960,#960,#960,#950,#940,#920,#900,#8d0,#8a0,#860,#820,#7d0,#770,#700,#680,#5f0,#560,#4c0,#430,#3b0,#340,#2e0,#2a0,#280,#270,#290,#2d0,#320,#390,#420,#4b0,#560,#610,#6b0,#760,#7f0,#880,#910,#990,#a10,#a90,#b00,#b80,#bf0,#c50,#cb0,#d00,#d40,#d70,#d90,#db0,#db0,#db0,#db0,#da0,#d80,#d50,#d10,#cc0,#c60,#c00,#b90,#b10,#a90,#a10,#990,#900,#880,#7f0,#770,#700,#690,#640,#600,#5d0,#5b0,#590,#580,#580,#570,#580,#580,#590,#5a0,#5c0,#5e0,#610,#650,#680,#6b0,#6e0,#710)"></i><i style="background:linear-gradient(90deg,#8b0,#8d0,#8f0,#910,#920,#930,#930,#930,#920,#910,#8f0,#8d0,#8a0,#870,#840,#800,#7b0,#760,#700,#680,#610,#580,#500,#490,#430,#3d0,#390,#360,#340,#340,#360,#380,#3c0,#420,#490,#510,#5a0,#630,#6d0,#770,#800,#890,#910,#990,#a10,#a90,#b00,#b80,#bf0,#c50,#cb0,#d00,#d40,#d70,#d90,#db0,#db0,#db0,#db0,#da0,#d80,#d50,#d10,#cc0,#c60,#c00,#b90,#b10,#a90,#a10,#990,#910,#890,#810,#7a0,#740,#6e0,#6a0,#660,#630,#610,#600,#5f0,#5f0,#5e0,#5e0,#5f0,#600,#610,#620,#640,#660,#680,#6b0,#6d0,#700,#720)"></i><i style="background:linear-gradient(90deg,#880,#8a0,#8c0,#8d0,#8e0,#8f0,#8f0,#8f0,#8f0,#8d0,#8c0,#8a0,#880,#850,#820,#7e0,#7a0,#750,#700,#690,#630,#5c0,#560,#500,#4b0,#470,#440,#410,#400,#400,#410,#430,#460,#4a0,#500,#560,#5e0,#660,#6f0,#780,#810,#890,#910,#990,#a00,#a80,#b00,#b70,#be0,#c50,#ca0,#cf0,#d30,#d70,#d90,#da0,#db0,#db0,#da0,#d90,#d70,#d40,#d00,#cb0,#c50,#bf0,#b80,#b10,#a90,#a10,#990,#920,#8a0,#830,#7c0,#770,#720,#6e0,#6b0,#680,#660,#650,#640,#640,#640,#640,#640,#650,#660,#670,#680,#6a0,#6c0,#6e0,#6f0,#710,#720)"></i><i style="background:linear-gradient(90deg,#850,#870,#880,#8a0,#8b0,#8b0,#8c0,#8c0,#8b0,#8a0,#880,#870,#850,#820,#7f0,#7c0,#790,#750,#700,#6b0,#650,#600,#5b0,#560,#520,#4f0,#4c0,#4b0,#4a0,#4a0,#4a0,#4c0,#4e0,#520,#560,#5c0,#620,#690,#710,#790,#810,#890,#910,#980,#a00,#a70,#af0,#b60,#bd0,#c30,#c90,#ce0,#d20,#d60,#d80,#d90,#da0,#da0,#d90,#d80,#d60,#d30,#cf0,#ca0,#c40,#be0,#b70,#b00,#a80,#a00,#990,#920,#8b0,#840,#7e0,#790,#750,#710,#6e0,#6c0,#6b0,#690,#690,#680,#680,#680,#680,#690,#6a0,#6b0,#6c0,#6d0,#6e0,#700,#710,#720,#730)"></i><i style="background:linear-gradient(90deg,#820,#840,#850,#860,#870,#880,#880,#880,#870,#860,#850,#830,#820,#800,#7d0,#7b0,#780,#740,#710,#6c0,#680,#630,#5f0,#5b0,#580,#560,#540,#520,#510,#510,#520,#530,#550,#580,#5c0,#610,#660,#6c0,#730,#7a0,#810,#890,#900,#970,#9f0,#a60,#ad0,#b50,#bb0,#c20,#c80,#cd0,#d10,#d40,#d60,#d80,#d90,#d90,#d80,#d70,#d40,#d10,#cd0,#c80,#c30,#bc0,#b50,#ae0,#a70,#a00,#980,#910,#8b0,#850,#800,#7b0,#770,#740,#710,#6f0,#6e0,#6d0,#6c0,#6c0,#6c0,#6c0,#6c0,#6c0,#6d0,#6e0,#6f0,#700,#710,#720,#730,#730,#740)"></i><i style="background:linear-gradient(90deg,#7f0,#810,#820,#830,#840,#840,#840,#840,#840,#830,#820,#810,#7f0,#7d0,#7c0,#790,#770,#740,#710,#6e0,#6a0,#670,#630,#600,#5e0,#5b0,#5a0,#590,#580,#580,#580,#5a0,#5b0,#5e0,#610,#650,#690,#6f0,#750,#7b0,#820,#880,#8f0,#960,#9d0,#a40,#ac0,#b30,#b90,#c00,#c60,#cb0,#cf0,#d20,#d40,#d60,#d70,#d70,#d60,#d50,#d20,#cf0,#cb0,#c60,#c10,#ba0,#b40,#ad0,#a50,#9e0,#970,#910,#8b0,#850,#800,#7c0,#790,#760,#740,#720,#710,#700,#6f0,#6f0,#6e0,#6e0,#6f0,#6f0,#6f0,#700,#710,#710,#720,#730,#740,#740,#750)"></i><i style="background:linear-gradient(90deg,#7d0,#7e0,#7f0,#800,#800,#810,#810,#810,#800,#800,#7f0,#7e0,#7d0,#7b0,#7a0,#780,#770,#740,#720,#6f0,#6d0,#6a0,#670,#640,#620,#600,#5f0,#5e0,#5d0,#5d0,#5e0,#5f0,#600,#620,#650,#690,#6c0,#710,#760,#7c0,#820,#880,#8e0,#950,#9b0,#a20,#a90,#b00,#b70,#bd0,#c30,#c80,#cc0,#d00,#d20,#d40,#d40,#d50,#d40,#d20,#d00,#cd0,#c90,#c40,#be0,#b80,#b10,#aa0,#a30,#9c0,#960,#900,#8a0,#850,#810,#7d0,#7a0,#770,#750,#740,#730,#720,#710,#710,#710,#710,#710,#710,#710,#720,#720,#730,#730,#740,#740,#750,#750)"></i><i style="background:linear-gradient(90deg,#7b0,#7c0,#7c0,#7d0,#7d0,#7e0,#7e0,#7e0,#7d0,#7d0,#7c0,#7c0,#7b0,#7a0,#790,#780,#760,#750,#730,#710,#6f0,#6c0,#6a0,#680,#660,#650,#630,#630,#620,#620,#630,#630,#650,#670,#690,#6c0,#6f0,#730,#770,#7c0,#810,#870,#8d0,#930,#990,#a00,#a70,#ae0,#b40,#ba0,#c00,#c50,#c90,#cd0,#cf0,#d10,#d20,#d20,#d10,#cf0,#cd0,#ca0,#c60,#c10,#bb0,#b50,#ae0,#a80,#a10,#9a0,#940,#8e0,#890,#850,#810,#7d0,#7b0,#780,#770,#750,#740,#730,#730,#730,#730,#720,#730,#730,#730,#730,#740,#740,#740,#750,#750,#750,#750)"></i><i style="background:linear-gradient(90deg,#790,#7a0,#7a0,#7b0,#7b0,#7b0,#7b0,#7b0,#7b0,#7b0,#7a0,#7a0,#790,#790,#780,#770,#760,#750,#730,#720,#700,#6f0,#6d0,#6b0,#6a0,#680,#670,#670,#660,#660,#670,#670,#680,#6a0,#6c0,#6e0,#710,#740,#780,#7c0,#810,#860,#8b0,#910,#970,#9d0,#a40,#aa0,#b10,#b70,#bd0,#c10,#c60,#c90,#cc0,#cd0,#ce0,#ce0,#ce0,#cc0,#ca0,#c60,#c20,#bd0,#b80,#b20,#ab0,#a50,#9e0,#980,#920,#8d0,#880,#840,#800,#7d0,#7b0,#790,#770,#760,#750,#750,#740,#740,#740,#740,#740,#740,#740,#740,#740,#750,#750,#750,#750,#750,#750)"></i><i style="background:linear-gradient(90deg,#780,#780,#790,#790,#790,#7a0,#7a0,#7a0,#790,#790,#790,#780,#780,#780,#770,#760,#760,#750,#740,#730,#720,#700,#6f0,#6e0,#6c0,#6b0,#6b0,#6a0,#6a0,#6a0,#6a0,#6b0,#6c0,#6d0,#6e0,#700,#730,#760,#790,#7c0,#800,#850,#890,#8f0,#940,#9a0,#a00,#a70,#ad0,#b30,#b90,#bd0,#c20,#c50,#c80,#c90,#ca0,#ca0,#ca0,#c80,#c50,#c20,#be0,#b90,#b40,#ae0,#a80,#a10,#9b0,#950,#900,#8b0,#860,#830,#7f0,#7d0,#7b0,#790,#780,#770,#760,#750,#750,#750,#750,#750,#750,#750,#750,#750,#750,#750,#750,#750,#750,#750,#750)"></i><i style="background:linear-gradient(90deg,#770,#770,#780,#780,#780,#780,#780,#780,#780,#780,#780,#770,#770,#770,#760,#760,#760,#750,#740,#740,#730,#720,#710,#700,#6f0,#6e0,#6d0,#6d0,#6d0,#6d0,#6d0,#6d0,#6e0,#6f0,#710,#720,#740,#760,#790,#7c0,#7f0,#830,#870,#8c0,#910,#970,#9d0,#a30,#a90,#af0,#b40,#b90,#bd0,#c00,#c30,#c50,#c60,#c60,#c50,#c30,#c10,#be0,#b90,#b50,#af0,#aa0,#a40,#9e0,#980,#920,#8d0,#890,#850,#810,#7e0,#7c0,#7a0,#790,#780,#770,#760,#760,#750,#750,#750,#750,#750,#750,#750,#750,#750,#750,#750,#750,#750,#750,#750)"></i><i style="background:linear-gradient(90deg,#770,#770,#770,#770,#770,#770,#770,#770,#770,#770,#770,#770,#770,#760,#760,#760,#760,#750,#750,#740,#740,#730,#720,#710,#710,#700,#700,#6f0,#6f0,#6f0,#6f0,#700,#700,#710,#720,#740,#750,#770,#790,#7c0,#7e0,#820,#850,#8a0,#8e0,#930,#990,#9f0,#a40,#aa0,#af0,#b40,#b80,#bb0,#be0,#c00,#c10,#c10,#c00,#be0,#bc0,#b80,#b40,#b00,#ab0,#a50,#9f0,#9a0,#940,#8f0,#8a0,#860,#830,#800,#7d0,#7b0,#7a0,#780,#770,#770,#760,#760,#760,#750,#750,#750,#750,#750,#750,#750,#750,#750,#750,#750,#750,#750,#750)"></i><i style="background:linear-gradient(90deg,#760,#760,#760,#760,#760,#760,#770,#760,#760,#760,#760,#760,#760,#760,#760,#760,#750,#750,#750,#750,#740,#740,#730,#730,#720,#720,#710,#710,#710,#710,#710,#710,#720,#730,#730,#740,#760,#770,#790,#7b0,#7d0,#800,#830,#870,#8b0,#900,#950,#9a0,#9f0,#a50,#aa0,#ae0,#b20,#b60,#b80,#ba0,#bb0,#bb0,#ba0,#b80,#b60,#b30,#af0,#aa0,#a50,#a00,#9b0,#960,#910,#8c0,#880,#840,#810,#7e0,#7c0,#7a0,#790,#780,#770,#770,#760,#760,#760,#750,#750,#750,#750,#750,#750,#750,#750,#750,#750,#750,#750,#750,#750)"></i><i style="background:linear-gradient(90deg,#760,#760,#760,#760,#760,#760,#760,#760,#760,#760,#760,#760,#760,#760,#760,#760,#750,#750,#750,#750,#750,#740,#740,#740,#730,#730,#730,#720,#720,#720,#730,#730,#730,#740,#740,#750,#760,#770,#790,#7a0,#7c0,#7e0,#810,#840,#880,#8c0,#910,#950,#9a0,#9f0,#a40,#a80,#ac0,#af0,#b20,#b40,#b40,#b50,#b40,#b20,#b00,#ad0,#a90,#a50,#a00,#9b0,#960,#910,#8d0,#890,#850,#820,#7f0,#7d0,#7b0,#7a0,#780,#780,#770,#760,#760,#760,#760,#750,#750,#750,#750,#750,#750,#750,#750,#750,#750,#750,#750,#750,#750)"></i><i style="background:linear-gradient(90deg,#760,#760,#760,#760,#760,#760,#760,#760,#760,#760,#760,#760,#760,#760,#750,#750,#750,#750,#750,#750,#750,#750,#750,#740,#740,#740,#740,#740,#730,#730,#740,#740,#740,#740,#750,#760,#760,#770,#780,#7a0,#7b0,#7d0,#7f0,#820,#850,#890,#8c0,#910,#950,#9a0,#9e0,#a20,#a60,#a90,#ab0,#ad0,#ae0,#ae0,#ad0,#ab0,#a90,#a60,#a20,#9e0,#9a0,#960,#910,#8d0,#890,#860,#820,#800,#7d0,#7c0,#7a0,#790,#780,#770,#770,#760,#760,#760,#760,#750,#750,#750,#750,#750,#750,#750,#750,#750,#750,#750,#750,#750,#750)"></i><i style="background:linear-gradient(90deg,#750,#760,#760,#760,#760,#760,#760,#760,#760,#760,#760,#760,#750,#750,#750,#750,#750,#750,#750,#750,#750,#750,#750,#750,#750,#740,#740,#740,#740,#740,#740,#740,#750,#750,#750,#760,#760,#770,#780,#790,#7a0,#7c0,#7d0,#800,#820,#850,#880,#8c0,#900,#940,#980,#9b0,#9f0,#a20,#a40,#a50,#a60,#a60,#a60,#a40,#a20,#9f0,#9c0,#980,#940,#900,#8d0,#890,#860,#830,#800,#7e0,#7c0,#7a0,#790,#780,#770,#770,#760,#760,#760,#760,#760,#750,#750,#750,#750,#750,#750,#750,#750,#750,#750,#750,#750,#750,#750)"></i><i style="background:linear-gradient(90deg,#750,#760,#760,#760,#760,#760,#760,#760,#760,#760,#760,#760,#750,#750,#750,#750,#750,#750,#750,#750,#750,#750,#750,#750,#750,#740,#740,#740,#740,#740,#740,#740,#750,#750,#750,#760,#760,#770,#780,#790,#7a0,#7c0,#7d0,#800,#820,#850,#880,#8c0,#900,#940,#980,#9b0,#9f0,#a20,#a40,#a50,#a60,#a60,#a60,#a40,#a20,#9f0,#9c0,#980,#940,#900,#8d0,#890,#860,#830,#800,#7e0,#7c0,#7a0,#790,#780,#770,#770,#760,#760,#760,#760,#760,#750,#750,#750,#750,#750,#750,#750,#750,#750,#750,#750,#750,#750,#750)"></i><i style="background:linear-gradient(90deg,#750,#760,#760,#760,#760,#760,#760,#760,#760,#760,#760,#760,#750,#750,#750,#750,#750,#750,#750,#750,#750,#750,#750,#750,#750,#740,#740,#740,#740,#740,#740,#740,#750,#750,#750,#760,#760,#770,#780,#790,#7a0,#7c0,#7d0,#800,#820,#850,#880,#8c0,#900,#940,#980,#9b0,#9f0,#a20,#a40,#a50,#a60,#a60,#a60,#a40,#a20,#9f0,#9c0,#980,#940,#900,#8d0,#890,#860,#830,#800,#7e0,#7c0,#7a0,#790,#780,#770,#770,#760,#760,#760,#760,#760,#750,#750,#750,#750,#750,#750,#750,#750,#750,#750,#750,#750,#750,#750)"></i></div></div><div class="cb" style="left:2323.9px;top:127.5px"></div><div class="hm" style="left:161.5px;top:1106.0px"><div class="f"><i style="background:linear-gradient(90deg,#8a0,#930,#9d0,#a60,#ac0,#ad0,#ab0,#a40,#980,#890,#770,#650,#590,#540,#570,#620,#700,#7e0,#8b0,#950,#9e0,#a60,#ac0,#b10,#b40,#b40,#b20,#af0,#aa0,#a60,#a00,#980,#8d0,#7b0,#600,#3e0,#220,#1c0,#290,#4b0,#720,#8e0,#9d0,#a40,#a60,#a60,#a10,#990,#8d0,#810,#770,#720,#720,#760,#7e0,#880,#930,#9a0,#9d0,#9a0,#920,#860,#770,#680,#5b0,#550,#560,#5e0,#6b0,#7b0,#890,#940,#9b0,#9e0,#9a0,#920,#860,#7a0,#720,#6f0,#6f0,#740,#7d0,#8b0,#990,#a30,#a70,#a30,#970,#850,#730,#640,#5a0,#550,#550,#580,#5e0)"></i><i style="background:linear-gradient(90deg,#8a0,#930,#9d0,#a60,#ac0,#ad0,#ab0,#a40,#980,#890,#770,#650,#590,#540,#570,#620,#700,#7e0,#8b0,#950,#9e0,#a60,#ac0,#b10,#b40,#b40,#b20,#af0,#aa0,#a60,#a00,#980,#8d0,#7b0,#600,#3e0,#220,#1c0,#290,#4b0,#720,#8e0,#9d0,#a40,#a60,#a60,#a10,#990,#8d0,#810,#770,#720,#720,#760,#7e0,#880,#930,#9a0,#9d0,#9a0,#920,#860,#770,#680,#5b0,#550,#560,#5e0,#6b0,#7b0,#890,#940,#9b0,#9e0,#9a0,#920,#860,#7a0,#720,#6f0,#6f0,#740,#7d0,#8b0,#990,#a30,#a70,#a30,#970,#850,#730,#640,#5a0,#550,#550,#580,#5e0)"></i><i style="background:linear-gradient(90deg,#8a0,#940,#9e0,#a70,#ac0,#ae0,#ac0,#a40,#990,#890,#760,#640,#570,#520,#560,#610,#6f0,#7e0,#8b0,#960,#9f0,#a70,#ad0,#b20,#b50,#b50,#b30,#af0,#ab0,#a60,#a00,#980,#8c0,#7a0,#600,#3e0,#220,#1b0,#2a0,#4b0,#730,#8f0,#9d0,#a40,#a70,#a60,#a20,#990,#8d0,#810,#770,#720,#710,#760,#7e0,#890,#930,#9b0,#9d0,#9b0,#930,#860,#770,#670,#5b0,#540,#550,#5e0,#6b0,#7a0,#890,#940,#9c0,#9e0,#9b0,#920,#860,#7a0,#720,#6e0,#6f0,#740,#7d0,#8b0,#990,#a40,#a70,#a30,#970,#850,#730,#630,#590,#540,#540,#570,#5d0)"></i><i style="background:linear-gradient(90deg,#8b0,#950,#a00,#a90,#af0,#b00,#ae0,#a60,#9a0,#890,#740,#610,#530,#4d0,#510,#5d0,#6d0,#7e0,#8d0,#980,#a20,#aa0,#b10,#b60,#b90,#b90,#b60,#b20,#ad0,#a70,#a10,#980,#8a0,#770,#5d0,#3d0,#240,#1e0,#2f0,#510,#760,#910,#9f0,#a60,#a90,#a80,#a30,#9a0,#8e0,#810,#770,#710,#700,#750,#7e0,#890,#950,#9c0,#9f0,#9c0,#940,#870,#760,#650,#580,#520,#530,#5b0,#6a0,#7a0,#8a0,#960,#9e0,#a00,#9c0,#930,#870,#7a0,#710,#6d0,#6e0,#730,#7d0,#8c0,#9b0,#a60,#aa0,#a50,#990,#860,#720,#610,#560,#510,#510,#540,#5b0)"></i><i style="background:linear-gradient(90deg,#8c0,#960,#a10,#ab0,#b10,#b30,#b00,#a80,#9b0,#880,#720,#5d0,#4e0,#480,#4c0,#590,#6b0,#7e0,#8e0,#9b0,#a50,#ae0,#b50,#ba0,#bc0,#bc0,#b90,#b40,#ae0,#a80,#a10,#960,#870,#730,#5b0,#400,#2b0,#270,#380,#590,#7c0,#940,#a10,#a70,#aa0,#a90,#a50,#9b0,#8e0,#810,#760,#700,#700,#750,#7e0,#8a0,#960,#9e0,#a10,#9e0,#950,#870,#760,#640,#560,#4f0,#500,#590,#680,#7a0,#8a0,#970,#9f0,#a10,#9e0,#940,#870,#7a0,#710,#6c0,#6d0,#720,#7d0,#8d0,#9d0,#a80,#ab0,#a70,#9a0,#860,#700,#5f0,#540,#4f0,#4e0,#520,#580)"></i><i style="background:linear-gradient(90deg,#8d0,#980,#a30,#ad0,#b30,#b50,#b20,#aa0,#9c0,#880,#700,#590,#490,#430,#480,#560,#690,#7e0,#8f0,#9d0,#a80,#b10,#b80,#bd0,#bf0,#be0,#bb0,#b50,#af0,#a80,#a00,#940,#830,#6f0,#5a0,#440,#350,#340,#460,#640,#820,#970,#a20,#a90,#ab0,#aa0,#a60,#9c0,#8f0,#810,#760,#700,#6f0,#740,#7e0,#8b0,#970,#9f0,#a20,#9f0,#960,#880,#750,#620,#530,#4d0,#4e0,#570,#670,#790,#8b0,#980,#a00,#a20,#9f0,#950,#870,#7a0,#700,#6c0,#6c0,#720,#7d0,#8d0,#9e0,#a90,#ac0,#a80,#9a0,#850,#6f0,#5d0,#510,#4c0,#4c0,#4f0,#560)"></i><i style="background:linear-gradient(90deg,#8e0,#990,#a50,#ae0,#b50,#b60,#b40,#ab0,#9d0,#880,#6e0,#560,#450,#3f0,#440,#520,#670,#7d0,#900,#9f0,#aa0,#b30,#ba0,#bf0,#c10,#c00,#bc0,#b60,#af0,#a80,#9e0,#900,#7e0,#6a0,#580,#480,#3f0,#430,#550,#6f0,#880,#990,#a30,#a90,#ac0,#ab0,#a60,#9d0,#8f0,#810,#760,#700,#6f0,#740,#7e0,#8b0,#980,#a00,#a30,#a00,#970,#880,#740,#610,#520,#4b0,#4c0,#550,#650,#790,#8b0,#990,#a10,#a30,#a00,#960,#880,#790,#700,#6b0,#6c0,#710,#7d0,#8e0,#9f0,#aa0,#ad0,#a80,#9a0,#850,#6e0,#5b0,#4f0,#4a0,#490,#4d0,#540)"></i><i style="background:linear-gradient(90deg,#8f0,#9a0,#a60,#b00,#b60,#b80,#b50,#ad0,#9d0,#870,#6c0,#530,#420,#3b0,#400,#4f0,#660,#7d0,#910,#a00,#ac0,#b50,#bc0,#c00,#c20,#c10,#bd0,#b60,#af0,#a70,#9b0,#8c0,#780,#650,#560,#4b0,#480,#500,#620,#780,#8c0,#9a0,#a40,#aa0,#ac0,#ab0,#a70,#9d0,#900,#810,#760,#700,#6f0,#740,#7e0,#8c0,#990,#a10,#a30,#a10,#980,#880,#740,#5f0,#500,#490,#4a0,#530,#640,#780,#8b0,#990,#a20,#a30,#a00,#960,#880,#790,#6f0,#6b0,#6c0,#710,#7d0,#8e0,#9f0,#ab0,#ad0,#a80,#9a0,#840,#6c0,#590,#4d0,#480,#470,#4b0,#520)"></i><i style="background:linear-gradient(90deg,#8f0,#9b0,#a70,#b10,#b70,#b90,#b60,#ae0,#9e0,#870,#6b0,#500,#3f0,#380,#3d0,#4d0,#640,#7d0,#920,#a20,#ad0,#b60,#bd0,#c10,#c20,#c10,#bc0,#b60,#ae0,#a40,#980,#870,#720,#600,#530,#4d0,#4e0,#590,#6b0,#7e0,#8f0,#9b0,#a40,#aa0,#ac0,#ab0,#a70,#9e0,#900,#810,#760,#700,#6f0,#740,#7f0,#8c0,#990,#a10,#a40,#a10,#980,#880,#730,#5e0,#4e0,#480,#490,#520,#630,#780,#8b0,#9a0,#a20,#a40,#a00,#970,#880,#790,#6f0,#6b0,#6c0,#710,#7d0,#8e0,#9f0,#aa0,#ad0,#a70,#990,#820,#6a0,#570,#4b0,#460,#460,#490,#510)"></i><i style="background:linear-gradient(90deg,#900,#9c0,#a80,#b20,#b80,#ba0,#b70,#af0,#9f0,#860,#690,#4e0,#3c0,#360,#3b0,#4b0,#630,#7d0,#930,#a30,#ae0,#b70,#bd0,#c10,#c20,#c00,#bb0,#b40,#ac0,#a20,#940,#810,#6c0,#5b0,#500,#4d0,#520,#5f0,#700,#810,#900,#9c0,#a40,#aa0,#ac0,#ab0,#a70,#9e0,#900,#820,#770,#700,#6f0,#740,#7f0,#8d0,#9a0,#a20,#a40,#a20,#980,#880,#730,#5d0,#4d0,#470,#480,#510,#620,#770,#8b0,#990,#a20,#a30,#a00,#960,#880,#790,#700,#6c0,#6c0,#710,#7d0,#8e0,#9f0,#aa0,#ac0,#a60,#970,#810,#680,#550,#490,#450,#450,#480,#4f0)"></i><i style="background:linear-gradient(90deg,#900,#9c0,#a90,#b30,#b90,#ba0,#b80,#af0,#9f0,#860,#680,#4d0,#3b0,#350,#390,#490,#620,#7d0,#930,#a40,#af0,#b70,#bd0,#c00,#c10,#bf0,#ba0,#b20,#a90,#9e0,#8f0,#7b0,#660,#560,#4e0,#4c0,#530,#620,#730,#830,#900,#9b0,#a40,#aa0,#ac0,#ab0,#a70,#9e0,#900,#820,#770,#710,#6f0,#740,#7f0,#8d0,#9a0,#a20,#a40,#a20,#980,#880,#720,#5c0,#4c0,#460,#470,#4f0,#610,#760,#8a0,#990,#a10,#a30,#a00,#960,#880,#7a0,#700,#6c0,#6d0,#720,#7d0,#8e0,#9e0,#a90,#ab0,#a50,#950,#7f0,#660,#530,#480,#440,#440,#470,#4e0)"></i><i style="background:linear-gradient(90deg,#910,#9d0,#a90,#b40,#b90,#bb0,#b80,#b00,#9f0,#860,#680,#4c0,#3a0,#340,#380,#490,#620,#7d0,#940,#a40,#b00,#b70,#bc0,#bf0,#bf0,#bd0,#b70,#af0,#a60,#9a0,#8a0,#750,#610,#520,#4c0,#4c0,#550,#640,#750,#840,#900,#9b0,#a30,#a90,#ab0,#ab0,#a60,#9d0,#910,#830,#780,#720,#700,#750,#7f0,#8d0,#9a0,#a20,#a40,#a10,#980,#870,#720,#5c0,#4c0,#450,#460,#4f0,#600,#750,#890,#980,#a00,#a20,#9f0,#960,#880,#7a0,#700,#6d0,#6d0,#720,#7d0,#8d0,#9d0,#a80,#a90,#a30,#930,#7c0,#640,#520,#470,#430,#430,#460,#4e0)"></i><i style="background:linear-gradient(90deg,#910,#9d0,#aa0,#b40,#ba0,#bb0,#b90,#b00,#9f0,#860,#680,#4b0,#390,#340,#380,#480,#620,#7d0,#940,#a50,#b00,#b70,#bb0,#be0,#be0,#ba0,#b40,#ac0,#a20,#950,#840,#700,#5c0,#4f0,#4a0,#4c0,#560,#660,#770,#840,#900,#9a0,#a20,#a80,#aa0,#aa0,#a60,#9d0,#910,#830,#790,#730,#710,#760,#800,#8d0,#990,#a10,#a30,#a10,#970,#870,#710,#5b0,#4b0,#440,#450,#4e0,#5f0,#740,#880,#960,#9e0,#a10,#9e0,#950,#870,#7a0,#710,#6d0,#6e0,#730,#7e0,#8c0,#9b0,#a60,#a70,#a00,#900,#790,#620,#500,#460,#420,#430,#460,#4d0)"></i><i style="background:linear-gradient(90deg,#910,#9d0,#aa0,#b40,#ba0,#bb0,#b90,#b00,#a00,#860,#680,#4b0,#390,#340,#380,#480,#620,#7e0,#950,#a50,#b00,#b60,#ba0,#bc0,#bb0,#b80,#b10,#a90,#9e0,#900,#7f0,#6a0,#580,#4d0,#490,#4c0,#580,#680,#780,#840,#8f0,#980,#a10,#a60,#a90,#a90,#a50,#9d0,#910,#840,#7a0,#740,#730,#770,#800,#8d0,#990,#a10,#a30,#a00,#960,#860,#700,#5b0,#4b0,#440,#450,#4d0,#5e0,#730,#860,#940,#9d0,#9f0,#9c0,#930,#870,#7a0,#720,#6f0,#700,#750,#7e0,#8c0,#9a0,#a30,#a40,#9d0,#8d0,#760,#600,#4f0,#450,#420,#420,#460,#4d0)"></i><i style="background:linear-gradient(90deg,#910,#9d0,#aa0,#b40,#ba0,#bb0,#b90,#b00,#a00,#870,#680,#4c0,#3a0,#350,#390,#490,#630,#7e0,#950,#a50,#af0,#b50,#b90,#ba0,#b90,#b50,#ae0,#a50,#9a0,#8b0,#7a0,#660,#540,#4b0,#480,#4d0,#5a0,#6a0,#790,#840,#8d0,#970,#9f0,#a50,#a80,#a70,#a40,#9c0,#910,#860,#7c0,#760,#740,#780,#800,#8c0,#980,#a00,#a20,#9f0,#950,#850,#700,#5a0,#4a0,#430,#440,#4d0,#5d0,#710,#840,#920,#9a0,#9d0,#9a0,#920,#860,#7a0,#730,#700,#720,#760,#7e0,#8b0,#980,#a00,#a10,#990,#890,#730,#5d0,#4d0,#440,#410,#420,#460,#4e0)"></i><i style="background:linear-gradient(90deg,#910,#9d0,#aa0,#b40,#b90,#bb0,#b90,#b00,#a00,#870,#690,#4d0,#3b0,#360,#3a0,#4b0,#640,#7f0,#950,#a50,#af0,#b40,#b70,#b70,#b60,#b10,#aa0,#a10,#950,#860,#740,#610,#520,#490,#480,#4f0,#5c0,#6c0,#790,#830,#8c0,#940,#9c0,#a20,#a50,#a60,#a20,#9c0,#920,#870,#7e0,#780,#760,#790,#810,#8c0,#970,#9e0,#a00,#9d0,#930,#840,#6f0,#5a0,#4a0,#430,#440,#4c0,#5d0,#700,#810,#8f0,#970,#9a0,#970,#900,#850,#7a0,#740,#720,#740,#780,#7f0,#8a0,#950,#9d0,#9d0,#950,#850,#6f0,#5b0,#4c0,#440,#410,#430,#470,#4e0)"></i><i style="background:linear-gradient(90deg,#910,#9d0,#aa0,#b30,#b90,#ba0,#b80,#b00,#a00,#870,#6a0,#4f0,#3d0,#380,#3c0,#4d0,#650,#7f0,#950,#a40,#ad0,#b20,#b40,#b50,#b30,#ae0,#a60,#9c0,#900,#810,#700,#5d0,#4f0,#490,#490,#510,#5f0,#6d0,#780,#810,#890,#920,#9a0,#a00,#a30,#a30,#a10,#9b0,#920,#890,#800,#7a0,#780,#7b0,#810,#8b0,#960,#9c0,#9e0,#9b0,#920,#820,#6e0,#5a0,#4a0,#430,#440,#4c0,#5c0,#6e0,#7f0,#8b0,#930,#960,#940,#8d0,#830,#7b0,#750,#750,#760,#7a0,#800,#890,#930,#990,#990,#900,#800,#6c0,#590,#4b0,#430,#420,#430,#480,#4f0)"></i><i style="background:linear-gradient(90deg,#910,#9d0,#a90,#b30,#b80,#ba0,#b70,#af0,#9f0,#880,#6c0,#520,#400,#3a0,#3f0,#4f0,#670,#800,#940,#a30,#ac0,#b00,#b20,#b10,#af0,#a90,#a10,#970,#8b0,#7c0,#6b0,#5a0,#4e0,#480,#4a0,#530,#600,#6d0,#780,#7f0,#860,#8e0,#960,#9c0,#a00,#a10,#9f0,#9a0,#930,#8a0,#830,#7d0,#7b0,#7c0,#820,#8b0,#940,#9a0,#9c0,#990,#8f0,#800,#6d0,#5a0,#4a0,#430,#440,#4c0,#5b0,#6c0,#7c0,#880,#8f0,#930,#910,#8b0,#820,#7b0,#770,#770,#790,#7c0,#810,#880,#900,#950,#940,#8b0,#7b0,#680,#560,#4a0,#430,#420,#440,#490,#500)"></i><i style="background:linear-gradient(90deg,#910,#9d0,#a80,#b20,#b70,#b80,#b60,#ae0,#9f0,#890,#6e0,#550,#430,#3d0,#420,#520,#680,#800,#930,#a10,#a90,#ad0,#af0,#ae0,#ab0,#a50,#9d0,#920,#860,#770,#670,#580,#4d0,#490,#4c0,#550,#620,#6d0,#760,#7c0,#830,#8b0,#920,#990,#9d0,#9e0,#9d0,#990,#930,#8c0,#850,#800,#7d0,#7e0,#820,#8a0,#920,#980,#9a0,#960,#8d0,#7e0,#6c0,#5a0,#4b0,#440,#440,#4c0,#5a0,#6a0,#790,#840,#8b0,#8e0,#8d0,#870,#800,#7b0,#790,#7a0,#7d0,#7f0,#830,#880,#8e0,#910,#8f0,#860,#760,#640,#540,#490,#430,#430,#450,#4a0,#520)"></i><i style="background:linear-gradient(90deg,#920,#9d0,#a70,#b00,#b50,#b70,#b50,#ad0,#9e0,#890,#700,#580,#470,#420,#460,#550,#6a0,#800,#920,#9f0,#a60,#aa0,#ab0,#a90,#a60,#a00,#970,#8d0,#810,#730,#630,#560,#4d0,#4a0,#4e0,#570,#630,#6d0,#740,#790,#7f0,#860,#8e0,#950,#990,#9b0,#9b0,#980,#940,#8f0,#890,#830,#800,#800,#830,#890,#900,#950,#970,#930,#8a0,#7c0,#6b0,#5a0,#4b0,#440,#450,#4d0,#5a0,#680,#750,#800,#860,#890,#880,#840,#7f0,#7b0,#7b0,#7d0,#800,#820,#840,#870,#8b0,#8d0,#8a0,#800,#710,#610,#520,#480,#440,#440,#470,#4c0,#540)"></i><i style="background:linear-gradient(90deg,#920,#9c0,#a60,#ae0,#b30,#b50,#b20,#ab0,#9e0,#8a0,#720,#5c0,#4c0,#460,#4b0,#590,#6c0,#800,#900,#9c0,#a30,#a60,#a60,#a50,#a10,#9a0,#920,#880,#7c0,#6f0,#610,#550,#4e0,#4c0,#500,#590,#630,#6b0,#710,#750,#7a0,#810,#890,#900,#950,#980,#990,#980,#950,#910,#8c0,#870,#830,#810,#830,#880,#8e0,#920,#930,#8f0,#870,#7a0,#6a0,#5a0,#4c0,#460,#460,#4d0,#5a0,#670,#720,#7b0,#810,#840,#840,#810,#7d0,#7b0,#7d0,#810,#840,#860,#860,#870,#890,#890,#850,#7b0,#6c0,#5d0,#4f0,#470,#440,#450,#490,#4e0,#560)"></i><i style="background:linear-gradient(90deg,#920,#9b0,#a40,#ac0,#b00,#b10,#b00,#a90,#9c0,#8a0,#740,#600,#510,#4c0,#500,#5d0,#6e0,#800,#8f0,#990,#9f0,#a20,#a20,#a00,#9b0,#950,#8d0,#830,#770,#6b0,#5f0,#550,#500,#4f0,#530,#5b0,#630,#6a0,#6e0,#710,#760,#7c0,#840,#8b0,#910,#950,#960,#970,#960,#940,#900,#8b0,#860,#830,#830,#870,#8c0,#8f0,#900,#8c0,#840,#780,#6a0,#5a0,#4e0,#470,#480,#4e0,#5a0,#650,#6f0,#770,#7d0,#7f0,#7f0,#7d0,#7b0,#7b0,#7f0,#840,#880,#890,#880,#870,#860,#850,#7f0,#750,#680,#590,#4e0,#470,#450,#470,#4b0,#510,#580)"></i><i style="background:linear-gradient(90deg,#910,#9a0,#a20,#a80,#ac0,#ad0,#ac0,#a60,#9b0,#8a0,#770,#640,#570,#520,#560,#610,#710,#800,#8d0,#960,#9b0,#9e0,#9d0,#9a0,#960,#900,#880,#7e0,#740,#690,#5f0,#570,#530,#540,#570,#5e0,#640,#680,#6b0,#6d0,#710,#770,#7f0,#870,#8d0,#910,#950,#970,#980,#970,#940,#8f0,#8a0,#850,#840,#860,#890,#8c0,#8c0,#880,#810,#760,#690,#5b0,#4f0,#490,#4a0,#500,#5a0,#640,#6c0,#730,#780,#7a0,#7a0,#790,#790,#7b0,#810,#880,#8d0,#8d0,#8b0,#870,#850,#810,#7b0,#700,#630,#560,#4c0,#460,#460,#480,#4d0,#530,#5b0)"></i><i style="background:linear-gradient(90deg,#910,#980,#9f0,#a40,#a70,#a80,#a70,#a20,#980,#8a0,#790,#690,#5d0,#590,#5c0,#660,#730,#810,#8b0,#930,#980,#990,#980,#950,#910,#8b0,#840,#7b0,#720,#680,#600,#5b0,#580,#590,#5c0,#600,#640,#670,#680,#690,#6c0,#720,#790,#820,#890,#8f0,#930,#970,#9a0,#9a0,#980,#930,#8d0,#880,#840,#840,#870,#880,#880,#840,#7d0,#740,#680,#5b0,#510,#4b0,#4c0,#520,#5b0,#630,#6a0,#6f0,#730,#750,#760,#760,#770,#7c0,#840,#8c0,#910,#910,#8d0,#880,#830,#7e0,#760,#6b0,#5f0,#530,#4a0,#460,#470,#4a0,#500,#560,#5e0)"></i><i style="background:linear-gradient(90deg,#910,#960,#9b0,#9f0,#a10,#a20,#a10,#9d0,#950,#890,#7b0,#6d0,#630,#600,#630,#6b0,#760,#810,#8a0,#910,#940,#950,#930,#900,#8c0,#860,#800,#780,#700,#690,#630,#600,#5f0,#5f0,#610,#630,#650,#660,#660,#660,#670,#6c0,#740,#7d0,#860,#8c0,#920,#970,#9c0,#9e0,#9d0,#980,#910,#8a0,#850,#830,#840,#840,#830,#800,#7a0,#720,#670,#5c0,#530,#4e0,#4f0,#540,#5c0,#620,#670,#6b0,#6e0,#700,#710,#720,#750,#7c0,#860,#900,#960,#960,#900,#890,#820,#7b0,#720,#670,#5b0,#500,#480,#460,#480,#4d0,#530,#5a0,#610)"></i><i style="background:linear-gradient(90deg,#900,#940,#970,#990,#9a0,#9b0,#9a0,#980,#920,#880,#7c0,#720,#6a0,#680,#6a0,#710,#7a0,#820,#890,#8e0,#910,#910,#8f0,#8b0,#870,#820,#7d0,#760,#700,#6a0,#670,#660,#660,#670,#670,#670,#670,#660,#640,#630,#630,#670,#6f0,#790,#820,#8a0,#910,#980,#9f0,#a20,#a20,#9d0,#950,#8c0,#860,#820,#810,#800,#7f0,#7b0,#760,#6f0,#670,#5d0,#550,#510,#520,#570,#5d0,#620,#660,#680,#6a0,#6c0,#6d0,#6f0,#740,#7d0,#890,#950,#9b0,#9a0,#930,#8a0,#810,#780,#6e0,#630,#570,#4d0,#470,#460,#490,#4f0,#560,#5d0,#640)"></i><i style="background:linear-gradient(90deg,#8f0,#920,#930,#930,#930,#930,#930,#910,#8d0,#860,#7e0,#760,#710,#6f0,#720,#770,#7e0,#840,#890,#8c0,#8e0,#8d0,#8a0,#860,#820,#7f0,#7a0,#750,#700,#6d0,#6c0,#6d0,#6e0,#6e0,#6d0,#6b0,#690,#660,#630,#600,#5f0,#620,#6b0,#750,#800,#880,#910,#9a0,#a20,#a70,#a70,#a10,#990,#8f0,#870,#810,#7f0,#7c0,#7a0,#770,#730,#6d0,#670,#5f0,#580,#550,#560,#5a0,#5f0,#630,#640,#650,#660,#680,#690,#6c0,#720,#7e0,#8c0,#990,#a00,#9f0,#970,#8c0,#800,#760,#6b0,#5f0,#530,#4a0,#460,#460,#4b0,#520,#590,#600,#670)"></i><i style="background:linear-gradient(90deg,#8e0,#8f0,#8f0,#8d0,#8b0,#8a0,#8a0,#8a0,#880,#840,#7e0,#7a0,#770,#770,#7a0,#7e0,#820,#860,#890,#8b0,#8b0,#890,#860,#820,#7e0,#7b0,#780,#740,#710,#700,#720,#750,#770,#770,#740,#6f0,#6b0,#670,#620,#5d0,#5a0,#5d0,#660,#720,#7d0,#870,#920,#9c0,#a60,#ac0,#ac0,#a70,#9d0,#910,#870,#800,#7c0,#780,#750,#720,#6f0,#6c0,#660,#600,#5b0,#590,#5a0,#5e0,#610,#630,#630,#630,#630,#640,#650,#690,#710,#7f0,#8f0,#9e0,#a50,#a40,#9a0,#8d0,#800,#740,#670,#5b0,#500,#480,#450,#460,#4c0,#540,#5c0,#640,#6b0)"></i><i style="background:linear-gradient(90deg,#8d0,#8c0,#8a0,#870,#840,#820,#820,#820,#820,#800,#7e0,#7d0,#7d0,#7f0,#820,#850,#870,#880,#890,#8a0,#890,#860,#810,#7d0,#7a0,#780,#760,#750,#730,#740,#780,#7d0,#800,#7f0,#7b0,#740,#6e0,#680,#610,#5a0,#560,#590,#610,#6e0,#7b0,#870,#920,#9e0,#aa0,#b10,#b20,#ac0,#a10,#940,#890,#800,#790,#740,#700,#6e0,#6c0,#6a0,#660,#620,#5e0,#5d0,#5e0,#620,#640,#640,#630,#610,#600,#610,#620,#670,#700,#800,#920,#a20,#aa0,#a80,#9e0,#8f0,#800,#720,#650,#580,#4d0,#460,#440,#470,#4e0,#570,#600,#670,#6e0)"></i><i style="background:linear-gradient(90deg,#8c0,#8a0,#860,#810,#7c0,#7a0,#790,#7a0,#7b0,#7c0,#7e0,#800,#830,#870,#8a0,#8b0,#8b0,#8b0,#8a0,#890,#860,#820,#7d0,#780,#760,#750,#750,#750,#760,#7a0,#800,#870,#8a0,#890,#820,#7a0,#710,#690,#610,#580,#520,#530,#5d0,#6b0,#790,#860,#940,#a10,#ae0,#b60,#b70,#b10,#a50,#970,#8a0,#7f0,#760,#700,#6b0,#690,#680,#680,#660,#640,#610,#610,#630,#660,#670,#660,#630,#600,#5e0,#5e0,#5f0,#650,#700,#810,#960,#a70,#af0,#ad0,#a20,#910,#800,#710,#620,#550,#4b0,#440,#430,#470,#4f0,#590,#630,#6b0,#710)"></i><i style="background:linear-gradient(90deg,#8b0,#870,#820,#7b0,#750,#720,#710,#720,#750,#780,#7d0,#830,#890,#8e0,#910,#920,#900,#8e0,#8b0,#880,#840,#7e0,#780,#730,#710,#720,#740,#760,#7a0,#800,#880,#900,#950,#920,#8a0,#7f0,#750,#6b0,#600,#550,#4d0,#4e0,#580,#670,#770,#860,#950,#a40,#b20,#bb0,#bd0,#b70,#aa0,#9a0,#8b0,#7e0,#740,#6b0,#660,#640,#650,#660,#670,#660,#650,#660,#680,#6a0,#6a0,#680,#630,#5f0,#5c0,#5b0,#5d0,#630,#6f0,#830,#990,#ab0,#b40,#b20,#a60,#940,#810,#700,#600,#530,#490,#430,#420,#470,#510,#5c0,#660,#6e0,#740)"></i><i style="background:linear-gradient(90deg,#8a0,#850,#7e0,#760,#6f0,#6b0,#6a0,#6b0,#6f0,#740,#7c0,#850,#8e0,#950,#990,#990,#960,#910,#8c0,#870,#810,#7a0,#730,#6d0,#6c0,#6f0,#730,#780,#7d0,#850,#900,#9a0,#9e0,#9b0,#920,#850,#790,#6c0,#5f0,#510,#480,#490,#530,#630,#750,#860,#970,#a80,#b70,#c10,#c30,#bc0,#af0,#9d0,#8c0,#7d0,#710,#670,#610,#5f0,#620,#650,#670,#680,#680,#6a0,#6d0,#6f0,#6e0,#6a0,#640,#5e0,#5a0,#590,#5b0,#620,#6f0,#840,#9c0,#b00,#b90,#b70,#aa0,#960,#810,#6f0,#5e0,#510,#470,#420,#420,#480,#520,#5e0,#690,#710,#770)"></i><i style="background:linear-gradient(90deg,#890,#830,#7b0,#710,#690,#640,#630,#650,#690,#700,#7b0,#870,#930,#9c0,#a00,#a00,#9b0,#940,#8d0,#860,#7f0,#760,#6d0,#670,#670,#6b0,#720,#790,#810,#8b0,#980,#a30,#a80,#a40,#990,#8a0,#7c0,#6d0,#5d0,#4e0,#430,#420,#4d0,#5f0,#730,#860,#990,#ab0,#bc0,#c70,#c90,#c20,#b30,#a10,#8e0,#7d0,#6e0,#620,#5b0,#5a0,#5e0,#630,#680,#6a0,#6c0,#6f0,#720,#740,#720,#6c0,#650,#5e0,#590,#570,#590,#600,#6f0,#860,#9f0,#b40,#bd0,#bb0,#ad0,#980,#820,#6e0,#5d0,#4f0,#450,#410,#420,#480,#530,#600,#6c0,#740,#7a0)"></i><i style="background:linear-gradient(90deg,#880,#810,#780,#6d0,#640,#5e0,#5e0,#600,#650,#6d0,#790,#880,#970,#a20,#a70,#a60,#a00,#970,#8e0,#850,#7b0,#710,#670,#610,#610,#670,#700,#790,#830,#900,#9f0,#ab0,#b00,#ac0,#9f0,#8f0,#7e0,#6e0,#5b0,#490,#3d0,#3c0,#470,#5b0,#710,#860,#9b0,#af0,#c10,#cc0,#ce0,#c70,#b80,#a40,#8f0,#7c0,#6b0,#5e0,#560,#550,#5b0,#620,#680,#6c0,#700,#740,#780,#790,#760,#6f0,#660,#5e0,#590,#560,#580,#5f0,#6f0,#870,#a20,#b80,#c10,#bf0,#b10,#9b0,#830,#6e0,#5c0,#4d0,#440,#400,#410,#490,#550,#630,#6f0,#770,#7c0)"></i><i style="background:linear-gradient(90deg,#860,#800,#750,#690,#5f0,#590,#580,#5b0,#610,#6b0,#790,#8a0,#9b0,#a80,#ae0,#ad0,#a50,#9a0,#8f0,#840,#780,#6b0,#600,#5a0,#5b0,#620,#6d0,#790,#860,#950,#a60,#b30,#b80,#b30,#a50,#930,#810,#6e0,#590,#440,#370,#350,#410,#570,#6f0,#870,#9d0,#b20,#c50,#d10,#d40,#cc0,#bc0,#a70,#900,#7b0,#680,#590,#500,#500,#570,#600,#690,#6f0,#740,#790,#7d0,#7e0,#7b0,#730,#690,#5f0,#580,#550,#570,#5f0,#6f0,#890,#a50,#bb0,#c50,#c30,#b40,#9d0,#840,#6d0,#5b0,#4c0,#430,#3f0,#410,#490,#560,#650,#710,#7a0,#7f0)"></i><i style="background:linear-gradient(90deg,#850,#7e0,#730,#660,#5b0,#540,#530,#570,#5e0,#690,#780,#8c0,#9f0,#ad0,#b40,#b30,#ab0,#9e0,#900,#830,#750,#660,#590,#520,#540,#5d0,#6a0,#780,#870,#990,#ab0,#b90,#be0,#b90,#aa0,#970,#820,#6d0,#560,#3f0,#300,#2f0,#3b0,#520,#6d0,#870,#9f0,#b60,#ca0,#d60,#d90,#d10,#c10,#aa0,#920,#7a0,#650,#540,#4b0,#4b0,#530,#5f0,#6a0,#720,#780,#7f0,#830,#840,#800,#770,#6b0,#600,#580,#550,#560,#5e0,#700,#8a0,#a70,#be0,#c80,#c60,#b70,#9f0,#850,#6d0,#5a0,#4b0,#420,#3f0,#420,#4a0,#580,#670,#740,#7c0,#810)"></i><i style="background:linear-gradient(90deg,#830,#7b0,#700,#630,#580,#510,#500,#530,#5b0,#670,#790,#8e0,#a30,#b30,#bb0,#b90,#b00,#a20,#920,#820,#710,#600,#520,#4b0,#4d0,#570,#660,#770,#880,#9c0,#b00,#be0,#c40,#be0,#af0,#9a0,#830,#6c0,#520,#3a0,#2a0,#280,#350,#4e0,#6b0,#870,#a10,#b90,#ce0,#db0,#de0,#d60,#c50,#ad0,#930,#790,#610,#4f0,#450,#460,#4f0,#5d0,#6a0,#740,#7d0,#840,#890,#8a0,#850,#7b0,#6e0,#620,#590,#540,#550,#5d0,#700,#8b0,#a90,#c10,#cb0,#c90,#ba0,#a10,#850,#6d0,#590,#4a0,#420,#3f0,#420,#4b0,#590,#690,#760,#7f0,#830)"></i><i style="background:linear-gradient(90deg,#800,#790,#6e0,#610,#550,#4e0,#4d0,#510,#5a0,#670,#790,#900,#a70,#b80,#c00,#bf0,#b50,#a50,#930,#810,#6e0,#5a0,#4b0,#440,#460,#520,#630,#750,#890,#9e0,#b40,#c30,#c80,#c20,#b20,#9c0,#840,#6b0,#4f0,#350,#240,#220,#2f0,#490,#690,#870,#a30,#bd0,#d20,#e00,#e30,#db0,#c90,#b00,#940,#780,#5e0,#4a0,#3f0,#400,#4c0,#5c0,#6b0,#770,#810,#8a0,#900,#900,#8b0,#7f0,#710,#630,#590,#540,#550,#5d0,#700,#8c0,#ab0,#c30,#cd0,#cb0,#bc0,#a20,#860,#6d0,#590,#4a0,#410,#400,#430,#4c0,#5a0,#6a0,#780,#810,#850)"></i><i style="background:linear-gradient(90deg,#7d0,#760,#6b0,#5e0,#530,#4c0,#4b0,#4f0,#590,#670,#7b0,#930,#aa0,#bd0,#c60,#c50,#ba0,#a90,#950,#800,#6a0,#550,#450,#3d0,#400,#4c0,#5f0,#740,#890,#a10,#b70,#c70,#cc0,#c60,#b60,#9e0,#850,#690,#4b0,#300,#1e0,#1c0,#2a0,#450,#660,#870,#a40,#c00,#d60,#e40,#e70,#df0,#cd0,#b30,#950,#770,#5a0,#440,#390,#3b0,#480,#5a0,#6b0,#7a0,#850,#8f0,#960,#970,#900,#840,#740,#650,#5a0,#540,#540,#5c0,#6f0,#8d0,#ac0,#c40,#cf0,#cd0,#be0,#a40,#870,#6d0,#590,#490,#410,#400,#430,#4d0,#5c0,#6c0,#7a0,#830,#870)"></i><i style="background:linear-gradient(90deg,#7a0,#720,#670,#5b0,#500,#4a0,#4a0,#4f0,#590,#680,#7d0,#950,#ae0,#c10,#cb0,#ca0,#bf0,#ad0,#970,#800,#670,#500,#3e0,#360,#390,#470,#5b0,#720,#8a0,#a20,#ba0,#ca0,#cf0,#c90,#b90,#a00,#850,#680,#480,#2b0,#190,#170,#250,#410,#640,#870,#a60,#c30,#da0,#e80,#eb0,#e30,#d00,#b50,#960,#750,#570,#3f0,#330,#350,#440,#580,#6c0,#7c0,#8a0,#950,#9c0,#9d0,#960,#890,#770,#670,#5b0,#540,#540,#5c0,#6f0,#8d0,#ad0,#c50,#d00,#ce0,#bf0,#a50,#880,#6e0,#590,#4a0,#420,#410,#440,#4e0,#5d0,#6e0,#7c0,#850,#890)"></i><i style="background:linear-gradient(90deg,#770,#6f0,#640,#580,#4e0,#490,#480,#4e0,#590,#690,#7f0,#980,#b20,#c60,#d00,#cf0,#c40,#b10,#990,#800,#650,#4c0,#390,#310,#340,#420,#580,#700,#8a0,#a40,#bc0,#cd0,#d20,#cc0,#bb0,#a20,#850,#670,#450,#270,#150,#120,#210,#3e0,#630,#870,#a80,#c50,#dd0,#eb0,#ee0,#e60,#d30,#b70,#960,#740,#530,#3a0,#2d0,#300,#3f0,#560,#6c0,#7e0,#8e0,#9a0,#a20,#a30,#9c0,#8d0,#7b0,#690,#5b0,#540,#530,#5b0,#6e0,#8c0,#ad0,#c60,#d00,#cf0,#c00,#a60,#880,#6e0,#590,#4a0,#420,#410,#450,#4f0,#5f0,#700,#7e0,#870,#8b0)"></i><i style="background:linear-gradient(90deg,#740,#6c0,#600,#550,#4b0,#470,#470,#4e0,#590,#6a0,#810,#9b0,#b60,#ca0,#d40,#d30,#c80,#b50,#9b0,#800,#630,#480,#340,#2c0,#2f0,#3e0,#540,#6f0,#8a0,#a50,#be0,#cf0,#d40,#ce0,#bd0,#a30,#860,#650,#420,#230,#110,#0f0,#1d0,#3b0,#610,#870,#a90,#c80,#e00,#ee0,#f10,#e90,#d60,#b90,#970,#720,#4f0,#350,#280,#2b0,#3b0,#540,#6c0,#810,#920,#9f0,#a80,#a90,#a10,#920,#7e0,#6b0,#5c0,#540,#520,#5a0,#6d0,#8c0,#ad0,#c60,#d00,#d00,#c10,#a60,#890,#6e0,#590,#4a0,#430,#420,#460,#510,#610,#720,#800,#880,#8c0)"></i><i style="background:linear-gradient(90deg,#720,#690,#5d0,#510,#490,#450,#460,#4d0,#590,#6b0,#830,#9e0,#b90,#cd0,#d80,#d70,#cc0,#b80,#9e0,#800,#610,#450,#310,#280,#2c0,#3a0,#520,#6d0,#8a0,#a60,#c00,#d10,#d60,#d00,#bf0,#a40,#860,#640,#400,#200,#0e0,#0c0,#1a0,#380,#600,#870,#ab0,#ca0,#e30,#f10,#f30,#ec0,#d80,#bb0,#970,#710,#4c0,#300,#220,#260,#370,#520,#6c0,#830,#950,#a40,#ad0,#af0,#a70,#960,#810,#6d0,#5d0,#530,#520,#590,#6c0,#8a0,#ac0,#c50,#d00,#d00,#c10,#a60,#890,#6f0,#5a0,#4b0,#440,#430,#480,#530,#630,#740,#820,#8a0,#8e0)"></i><i style="background:linear-gradient(90deg,#6f0,#660,#5a0,#4e0,#460,#420,#440,#4c0,#590,#6b0,#840,#a00,#bc0,#d10,#db0,#db0,#d00,#bc0,#a00,#800,#600,#420,#2d0,#250,#280,#370,#500,#6c0,#8a0,#a70,#c10,#d20,#d70,#d10,#c00,#a50,#860,#630,#3e0,#1e0,#0c0,#0a0,#170,#360,#5f0,#870,#ac0,#cc0,#e50,#f30,#f50,#ee0,#da0,#bc0,#970,#6f0,#480,#2b0,#1d0,#210,#330,#4f0,#6c0,#850,#990,#a90,#b30,#b40,#ac0,#9a0,#840,#6e0,#5d0,#530,#510,#580,#6a0,#890,#aa0,#c40,#cf0,#cf0,#c10,#a60,#890,#6f0,#5b0,#4c0,#450,#440,#490,#550,#650,#760,#830,#8c0,#8f0)"></i><i style="background:linear-gradient(90deg,#6d0,#630,#570,#4b0,#430,#400,#420,#4a0,#580,#6b0,#850,#a20,#be0,#d30,#de0,#de0,#d30,#bf0,#a20,#810,#5f0,#400,#2b0,#230,#260,#350,#4e0,#6b0,#8a0,#a80,#c20,#d30,#d70,#d20,#c10,#a60,#860,#630,#3d0,#1c0,#0a0,#080,#160,#350,#5e0,#870,#ad0,#cd0,#e60,#f40,#f70,#ef0,#dc0,#bd0,#970,#6d0,#450,#270,#190,#1d0,#300,#4d0,#6c0,#870,#9c0,#ad0,#b70,#b90,#b00,#9e0,#870,#700,#5e0,#530,#500,#560,#690,#870,#a80,#c20,#ce0,#ce0,#c00,#a60,#890,#700,#5c0,#4e0,#460,#460,#4b0,#570,#670,#780,#850,#8d0,#910)"></i><i style="background:linear-gradient(90deg,#6c0,#620,#550,#490,#400,#3d0,#3f0,#470,#560,#6a0,#850,#a30,#c00,#d50,#e00,#e00,#d60,#c10,#a40,#820,#5e0,#3f0,#2a0,#220,#250,#330,#4d0,#6b0,#890,#a80,#c20,#d30,#d70,#d30,#c10,#a60,#860,#620,#3c0,#1b0,#090,#070,#150,#340,#5e0,#880,#ae0,#cf0,#e80,#f50,#f80,#f10,#dd0,#be0,#970,#6b0,#420,#230,#150,#190,#2c0,#4b0,#6c0,#880,#9f0,#b10,#bc0,#be0,#b50,#a20,#8a0,#710,#5e0,#520,#4f0,#550,#670,#840,#a60,#c00,#cd0,#cd0,#bf0,#a50,#890,#710,#5d0,#4f0,#480,#480,#4d0,#590,#690,#7a0,#870,#8f0,#920)"></i><i style="background:linear-gradient(90deg,#6b0,#600,#530,#470,#3e0,#3a0,#3c0,#450,#530,#690,#840,#a30,#c10,#d70,#e10,#e20,#d80,#c40,#a60,#830,#5e0,#3e0,#290,#210,#240,#320,#4c0,#6a0,#890,#a80,#c20,#d30,#d70,#d30,#c10,#a60,#860,#620,#3c0,#1b0,#090,#070,#150,#340,#5e0,#880,#ae0,#cf0,#e80,#f60,#f80,#f10,#de0,#be0,#960,#6a0,#3f0,#1f0,#110,#150,#290,#490,#6c0,#8a0,#a20,#b50,#c00,#c20,#b90,#a60,#8c0,#720,#5e0,#520,#4e0,#530,#650,#820,#a30,#be0,#cb0,#cb0,#bd0,#a40,#890,#710,#5f0,#510,#4a0,#4a0,#500,#5b0,#6b0,#7c0,#880,#900,#930)"></i><i style="background:linear-gradient(90deg,#6a0,#5f0,#520,#450,#3c0,#380,#390,#420,#510,#660,#820,#a20,#c10,#d70,#e20,#e30,#da0,#c60,#a80,#840,#5f0,#3e0,#280,#210,#230,#320,#4b0,#6a0,#890,#a70,#c20,#d30,#d70,#d20,#c10,#a60,#860,#620,#3c0,#1b0,#090,#080,#150,#340,#5e0,#880,#ae0,#d00,#e90,#f60,#f80,#f20,#de0,#bf0,#960,#680,#3c0,#1c0,#0e0,#120,#260,#480,#6c0,#8b0,#a50,#b80,#c40,#c50,#bc0,#a90,#8e0,#730,#5e0,#510,#4d0,#520,#620,#7f0,#a00,#ba0,#c80,#c90,#bb0,#a30,#890,#720,#600,#530,#4d0,#4c0,#520,#5e0,#6e0,#7e0,#8a0,#910,#940)"></i><i style="background:linear-gradient(90deg,#6a0,#5f0,#510,#440,#3a0,#360,#370,#3f0,#4e0,#640,#800,#a10,#c00,#d70,#e20,#e30,#db0,#c70,#a90,#850,#600,#3e0,#290,#210,#240,#320,#4c0,#6a0,#890,#a70,#c10,#d20,#d70,#d10,#c00,#a50,#860,#630,#3d0,#1c0,#0a0,#080,#160,#350,#5f0,#890,#af0,#d00,#e90,#f60,#f80,#f20,#de0,#be0,#950,#660,#3a0,#190,#0c0,#0f0,#240,#460,#6b0,#8c0,#a70,#bb0,#c70,#c90,#bf0,#ab0,#900,#740,#5e0,#500,#4c0,#500,#600,#7b0,#9c0,#b70,#c50,#c60,#b90,#a20,#890,#730,#620,#560,#4f0,#4f0,#550,#610,#700,#800,#8b0,#920,#950)"></i><i style="background:linear-gradient(90deg,#6a0,#5f0,#510,#430,#380,#340,#350,#3c0,#4a0,#610,#7e0,#9f0,#bf0,#d70,#e20,#e40,#dc0,#c90,#ab0,#870,#610,#400,#2a0,#220,#250,#330,#4c0,#6a0,#880,#a60,#c00,#d10,#d60,#d00,#bf0,#a40,#850,#630,#3e0,#1e0,#0c0,#0a0,#180,#370,#600,#890,#ae0,#cf0,#e80,#f60,#f80,#f10,#de0,#be0,#940,#650,#380,#170,#0a0,#0e0,#220,#450,#6b0,#8d0,#a90,#be0,#ca0,#cc0,#c20,#ae0,#920,#750,#5e0,#500,#4b0,#4e0,#5d0,#780,#980,#b30,#c20,#c30,#b60,#a00,#880,#740,#640,#580,#520,#520,#580,#640,#730,#820,#8d0,#940,#960)"></i><i style="background:linear-gradient(90deg,#6a0,#5f0,#510,#420,#380,#320,#330,#390,#470,#5d0,#7b0,#9c0,#bd0,#d50,#e20,#e40,#dc0,#c90,#ac0,#880,#630,#410,#2b0,#230,#260,#350,#4e0,#6b0,#880,#a50,#be0,#cf0,#d40,#ce0,#bd0,#a30,#850,#640,#400,#200,#0e0,#0c0,#1a0,#390,#610,#890,#ae0,#cf0,#e80,#f50,#f80,#f10,#dd0,#bd0,#930,#640,#360,#160,#090,#0c0,#210,#440,#6b0,#8f0,#ab0,#c00,#cc0,#ce0,#c50,#b00,#940,#760,#5e0,#4f0,#4a0,#4d0,#5b0,#740,#930,#ae0,#be0,#bf0,#b30,#9e0,#880,#750,#660,#5b0,#550,#550,#5b0,#670,#760,#840,#8f0,#950,#970)"></i><i style="background:linear-gradient(90deg,#6a0,#5f0,#510,#420,#370,#310,#310,#370,#440,#5a0,#780,#990,#ba0,#d40,#e10,#e30,#dc0,#ca0,#ad0,#890,#640,#440,#2e0,#250,#280,#370,#4f0,#6b0,#870,#a30,#bc0,#cd0,#d20,#cc0,#bb0,#a20,#850,#650,#430,#240,#110,#0f0,#1d0,#3c0,#630,#8a0,#ad0,#ce0,#e60,#f40,#f70,#ef0,#dc0,#bc0,#920,#630,#350,#150,#080,#0b0,#200,#430,#6c0,#900,#ad0,#c20,#ce0,#d00,#c70,#b20,#950,#770,#5e0,#4f0,#490,#4c0,#590,#710,#8f0,#aa0,#b90,#bb0,#b00,#9d0,#880,#760,#680,#5e0,#580,#590,#5f0,#6a0,#780,#860,#900,#960,#980)"></i><i style="background:linear-gradient(90deg,#6a0,#600,#520,#430,#370,#310,#300,#350,#410,#570,#740,#960,#b70,#d10,#df0,#e20,#dc0,#ca0,#ad0,#8b0,#670,#470,#310,#280,#2b0,#3a0,#510,#6c0,#870,#a20,#ba0,#ca0,#d00,#ca0,#b90,#a00,#850,#660,#450,#270,#150,#130,#210,#3f0,#640,#8a0,#ad0,#cc0,#e50,#f30,#f50,#ee0,#da0,#ba0,#910,#620,#340,#140,#080,#0b0,#1f0,#430,#6c0,#900,#ae0,#c40,#d00,#d20,#c90,#b40,#970,#780,#5e0,#4e0,#480,#4a0,#560,#6d0,#8a0,#a50,#b50,#b70,#ad0,#9b0,#880,#770,#6a0,#610,#5c0,#5c0,#620,#6d0,#7b0,#880,#910,#970,#980)"></i><i style="background:linear-gradient(90deg,#6b0,#610,#530,#440,#370,#310,#2f0,#330,#3f0,#540,#700,#920,#b40,#ce0,#dd0,#e10,#db0,#c90,#ae0,#8c0,#690,#4a0,#340,#2b0,#2f0,#3d0,#540,#6d0,#860,#a00,#b70,#c70,#cd0,#c70,#b60,#9f0,#840,#680,#480,#2c0,#1a0,#170,#260,#420,#660,#8a0,#ac0,#ca0,#e30,#f10,#f30,#ec0,#d80,#b90,#900,#610,#340,#140,#080,#0b0,#1f0,#430,#6c0,#910,#b00,#c60,#d20,#d30,#ca0,#b60,#980,#780,#5e0,#4e0,#470,#490,#540,#6a0,#860,#a00,#b00,#b30,#a90,#990,#870,#790,#6d0,#640,#5f0,#600,#660,#710,#7e0,#8a0,#920,#970,#990)"></i><i style="background:linear-gradient(90deg,#6b0,#620,#550,#450,#380,#310,#2f0,#320,#3d0,#510,#6d0,#8e0,#af0,#ca0,#da0,#df0,#d90,#c80,#ae0,#8d0,#6c0,#4d0,#380,#2f0,#330,#410,#560,#6e0,#860,#9e0,#b40,#c40,#c90,#c30,#b30,#9d0,#840,#690,#4c0,#300,#1f0,#1d0,#2b0,#460,#690,#8a0,#ab0,#c80,#e00,#ee0,#f10,#e90,#d60,#b70,#8f0,#610,#340,#140,#080,#0b0,#200,#440,#6d0,#920,#b10,#c70,#d30,#d40,#cc0,#b70,#990,#790,#5f0,#4e0,#470,#480,#520,#660,#810,#9a0,#ab0,#ae0,#a60,#970,#870,#7a0,#6f0,#670,#630,#640,#6a0,#740,#800,#8c0,#940,#980,#9a0)"></i><i style="background:linear-gradient(90deg,#6c0,#640,#570,#470,#390,#310,#2f0,#310,#3b0,#4e0,#690,#8a0,#ab0,#c60,#d70,#dc0,#d70,#c70,#ae0,#8f0,#6f0,#520,#3d0,#340,#370,#450,#590,#6f0,#850,#9b0,#b10,#c00,#c50,#bf0,#b00,#9a0,#830,#6b0,#500,#360,#250,#230,#310,#4b0,#6b0,#8b0,#a90,#c60,#dd0,#eb0,#ee0,#e60,#d30,#b50,#8e0,#610,#350,#150,#090,#0c0,#210,#450,#6e0,#930,#b20,#c80,#d40,#d50,#cd0,#b80,#9a0,#790,#5f0,#4e0,#460,#470,#500,#630,#7d0,#950,#a60,#aa0,#a30,#960,#870,#7b0,#720,#6a0,#670,#670,#6d0,#770,#830,#8d0,#950,#990,#9a0)"></i><i style="background:linear-gradient(90deg,#6d0,#650,#590,#490,#3b0,#320,#2f0,#310,#390,#4b0,#650,#850,#a60,#c10,#d30,#d90,#d50,#c60,#ae0,#910,#720,#560,#420,#390,#3c0,#490,#5c0,#710,#850,#990,#ad0,#bb0,#c00,#bb0,#ac0,#980,#830,#6c0,#530,#3b0,#2c0,#2a0,#370,#500,#6d0,#8b0,#a80,#c30,#da0,#e80,#eb0,#e30,#d00,#b20,#8c0,#610,#360,#170,#0a0,#0e0,#230,#470,#6f0,#940,#b20,#c90,#d40,#d60,#cd0,#b90,#9b0,#7a0,#5f0,#4e0,#460,#460,#4f0,#600,#780,#900,#a00,#a60,#a00,#940,#880,#7d0,#740,#6e0,#6a0,#6b0,#710,#7a0,#850,#8f0,#960,#990,#9a0)"></i><i style="background:linear-gradient(90deg,#6f0,#670,#5c0,#4c0,#3d0,#340,#300,#310,#380,#490,#620,#810,#a10,#bc0,#cf0,#d60,#d20,#c40,#ae0,#920,#750,#5b0,#480,#3f0,#420,#4e0,#5f0,#720,#840,#960,#a90,#b60,#bb0,#b60,#a80,#960,#820,#6e0,#570,#410,#330,#310,#3d0,#540,#700,#8b0,#a60,#c10,#d70,#e40,#e70,#df0,#cc0,#b00,#8b0,#610,#370,#190,#0c0,#100,#250,#480,#700,#940,#b30,#c90,#d50,#d60,#ce0,#ba0,#9b0,#7b0,#5f0,#4e0,#460,#460,#4d0,#5d0,#740,#8b0,#9c0,#a10,#9d0,#930,#880,#7f0,#770,#710,#6e0,#6f0,#740,#7d0,#870,#900,#960,#9a0,#9b0)"></i><i style="background:linear-gradient(90deg,#700,#6a0,#5f0,#4f0,#400,#350,#310,#310,#370,#470,#5e0,#7c0,#9b0,#b70,#ca0,#d20,#cf0,#c30,#ae0,#940,#790,#600,#4e0,#450,#480,#530,#620,#730,#830,#940,#a50,#b10,#b60,#b10,#a40,#930,#820,#700,#5b0,#470,#3a0,#380,#440,#590,#730,#8c0,#a50,#be0,#d30,#e00,#e30,#db0,#c90,#ad0,#8a0,#610,#390,#1b0,#0e0,#130,#280,#4a0,#710,#950,#b30,#c90,#d50,#d60,#ce0,#ba0,#9c0,#7b0,#600,#4e0,#460,#450,#4c0,#5b0,#700,#870,#970,#9e0,#9b0,#920,#890,#810,#7a0,#740,#720,#730,#780,#800,#890,#920,#970,#9a0,#9b0)"></i><i style="background:linear-gradient(90deg,#720,#6c0,#620,#530,#440,#380,#320,#320,#370,#450,#5b0,#770,#960,#b10,#c40,#cd0,#cc0,#c10,#ae0,#960,#7d0,#660,#540,#4c0,#4e0,#570,#650,#740,#820,#910,#a00,#ac0,#b00,#ab0,#9f0,#900,#810,#710,#5f0,#4d0,#410,#400,#4b0,#5f0,#750,#8c0,#a30,#ba0,#cf0,#dc0,#de0,#d70,#c50,#aa0,#890,#620,#3b0,#1e0,#120,#160,#2b0,#4d0,#730,#950,#b30,#c90,#d50,#d60,#ce0,#ba0,#9c0,#7b0,#600,#4e0,#460,#450,#4b0,#580,#6d0,#820,#930,#9a0,#980,#920,#8a0,#830,#7d0,#780,#750,#760,#7b0,#830,#8b0,#930,#980,#9a0,#9b0)"></i><i style="background:linear-gradient(90deg,#740,#6f0,#660,#570,#470,#3b0,#340,#320,#370,#430,#580,#720,#900,#aa0,#be0,#c80,#c80,#bf0,#ae0,#990,#820,#6c0,#5b0,#520,#530,#5c0,#680,#750,#810,#8e0,#9b0,#a60,#aa0,#a60,#9b0,#8d0,#800,#720,#630,#530,#490,#480,#520,#640,#780,#8c0,#a10,#b70,#ca0,#d70,#da0,#d20,#c00,#a70,#880,#630,#3e0,#220,#150,#1a0,#2f0,#500,#740,#960,#b30,#c90,#d40,#d60,#ce0,#ba0,#9c0,#7c0,#610,#4f0,#460,#450,#4a0,#560,#6a0,#7e0,#8f0,#970,#970,#910,#8b0,#850,#7f0,#7b0,#780,#790,#7e0,#850,#8d0,#940,#980,#9b0,#9b0)"></i><i style="background:linear-gradient(90deg,#760,#720,#6a0,#5c0,#4c0,#3e0,#360,#340,#370,#420,#550,#6e0,#890,#a40,#b80,#c30,#c40,#bd0,#af0,#9c0,#870,#720,#620,#590,#590,#600,#6b0,#750,#7f0,#8a0,#960,#9f0,#a30,#9f0,#960,#8a0,#7f0,#740,#670,#590,#500,#500,#590,#690,#7b0,#8d0,#a00,#b40,#c60,#d20,#d40,#cd0,#bc0,#a40,#870,#640,#410,#260,#1a0,#1f0,#330,#530,#760,#960,#b20,#c80,#d40,#d50,#cd0,#b90,#9c0,#7c0,#610,#4f0,#460,#450,#490,#550,#670,#7b0,#8b0,#940,#950,#910,#8c0,#870,#820,#7e0,#7c0,#7d0,#810,#870,#8e0,#950,#990,#9b0,#9b0)"></i><i style="background:linear-gradient(90deg,#780,#760,#6e0,#610,#500,#420,#390,#360,#380,#410,#520,#690,#830,#9d0,#b10,#bd0,#c00,#bb0,#af0,#9f0,#8c0,#790,#690,#600,#5f0,#650,#6d0,#760,#7e0,#870,#910,#990,#9c0,#990,#910,#870,#7e0,#750,#6a0,#5f0,#570,#580,#610,#6f0,#7e0,#8e0,#9f0,#b10,#c20,#cd0,#cf0,#c70,#b80,#a10,#860,#660,#440,#2a0,#1f0,#240,#380,#560,#770,#960,#b20,#c70,#d30,#d40,#cc0,#b90,#9c0,#7c0,#620,#500,#470,#450,#490,#540,#650,#780,#880,#920,#940,#920,#8e0,#890,#850,#810,#7f0,#800,#830,#890,#900,#950,#990,#9b0,#9b0)"></i><i style="background:linear-gradient(90deg,#7a0,#790,#720,#660,#560,#470,#3c0,#380,#390,#400,#4f0,#640,#7d0,#960,#aa0,#b70,#bc0,#b90,#b00,#a20,#920,#800,#710,#670,#650,#690,#6f0,#760,#7c0,#830,#8b0,#920,#940,#920,#8b0,#830,#7c0,#750,#6d0,#640,#5f0,#5f0,#680,#740,#810,#8f0,#9d0,#ae0,#bd0,#c70,#c90,#c20,#b30,#9e0,#850,#670,#480,#2f0,#240,#290,#3d0,#5a0,#790,#960,#b10,#c60,#d10,#d30,#cb0,#b80,#9b0,#7c0,#620,#500,#470,#450,#480,#530,#630,#760,#860,#900,#940,#930,#8f0,#8c0,#880,#840,#820,#820,#850,#8b0,#910,#960,#990,#9b0,#9b0)"></i><i style="background:linear-gradient(90deg,#7c0,#7c0,#770,#6b0,#5b0,#4c0,#400,#3a0,#3a0,#400,#4d0,#5f0,#760,#8e0,#a30,#b10,#b70,#b70,#b10,#a60,#980,#880,#780,#6e0,#6a0,#6c0,#710,#760,#7a0,#7f0,#850,#8a0,#8c0,#8a0,#850,#7f0,#7a0,#760,#700,#690,#650,#670,#6e0,#790,#840,#900,#9c0,#ab0,#b90,#c20,#c30,#bc0,#ae0,#9b0,#840,#680,#4c0,#350,#2a0,#2f0,#420,#5d0,#7b0,#960,#b00,#c40,#d00,#d20,#ca0,#b60,#9a0,#7d0,#630,#510,#480,#450,#480,#520,#610,#740,#840,#8f0,#940,#940,#910,#8e0,#8b0,#870,#850,#850,#880,#8c0,#920,#960,#990,#9b0,#9b0)"></i><i style="background:linear-gradient(90deg,#7e0,#7f0,#7b0,#700,#610,#510,#450,#3e0,#3c0,#400,#4a0,#5b0,#700,#870,#9c0,#ab0,#b20,#b40,#b10,#aa0,#9e0,#8f0,#810,#750,#700,#700,#730,#750,#770,#7a0,#7e0,#820,#840,#820,#7f0,#7b0,#780,#760,#720,#6e0,#6c0,#6e0,#750,#7f0,#880,#910,#9c0,#a80,#b40,#bc0,#bd0,#b70,#a90,#980,#830,#6a0,#500,#3b0,#310,#360,#480,#610,#7c0,#960,#af0,#c20,#ce0,#d00,#c80,#b50,#9a0,#7d0,#640,#520,#490,#460,#490,#520,#610,#720,#830,#8e0,#940,#950,#940,#910,#8d0,#8a0,#870,#870,#890,#8d0,#920,#970,#990,#9b0,#9b0)"></i><i style="background:linear-gradient(90deg,#7f0,#810,#7e0,#750,#660,#570,#490,#410,#3e0,#400,#480,#560,#690,#800,#940,#a40,#ae0,#b20,#b20,#ad0,#a50,#980,#890,#7d0,#750,#730,#740,#740,#740,#750,#770,#790,#7b0,#7a0,#780,#760,#760,#760,#740,#720,#720,#750,#7c0,#840,#8c0,#930,#9b0,#a60,#b00,#b70,#b70,#b10,#a40,#940,#810,#6b0,#540,#400,#380,#3d0,#4e0,#650,#7e0,#960,#ad0,#c00,#cc0,#ce0,#c60,#b30,#990,#7d0,#640,#530,#4a0,#470,#490,#520,#600,#720,#820,#8e0,#950,#970,#960,#930,#900,#8d0,#8a0,#890,#8b0,#8f0,#930,#970,#990,#9b0,#9b0)"></i><i style="background:linear-gradient(90deg,#800,#830,#820,#7a0,#6c0,#5c0,#4f0,#450,#410,#410,#470,#520,#630,#780,#8d0,#9e0,#a90,#b00,#b30,#b10,#ab0,#a00,#920,#840,#7b0,#760,#750,#730,#710,#700,#700,#710,#710,#710,#710,#720,#730,#750,#760,#770,#780,#7c0,#820,#890,#8f0,#950,#9b0,#a30,#ac0,#b20,#b10,#ab0,#9f0,#910,#800,#6d0,#580,#460,#3f0,#440,#540,#690,#800,#960,#ac0,#be0,#c90,#cc0,#c40,#b10,#980,#7d0,#650,#540,#4b0,#480,#4a0,#520,#600,#710,#820,#8e0,#960,#980,#980,#960,#930,#8f0,#8c0,#8b0,#8c0,#8f0,#930,#970,#990,#9a0,#9a0)"></i><i style="background:linear-gradient(90deg,#810,#850,#850,#7f0,#720,#630,#540,#490,#440,#420,#450,#4d0,#5c0,#700,#850,#970,#a40,#ad0,#b30,#b50,#b10,#a80,#9b0,#8c0,#810,#7a0,#750,#720,#6e0,#6a0,#680,#680,#680,#690,#6a0,#6c0,#700,#750,#780,#7a0,#7d0,#820,#890,#8f0,#930,#970,#9b0,#a20,#a80,#ac0,#ab0,#a50,#9a0,#8e0,#7f0,#6e0,#5c0,#4c0,#460,#4b0,#5a0,#6d0,#820,#960,#aa0,#bc0,#c70,#c90,#c10,#af0,#970,#7c0,#660,#560,#4c0,#490,#4b0,#530,#600,#710,#820,#8f0,#970,#9a0,#9b0,#990,#950,#920,#8f0,#8d0,#8e0,#900,#930,#960,#990,#9a0,#9a0)"></i><i style="background:linear-gradient(90deg,#810,#860,#880,#830,#780,#690,#5a0,#4e0,#470,#430,#430,#490,#550,#680,#7d0,#910,#9f0,#aa0,#b30,#b80,#b70,#b00,#a30,#940,#870,#7d0,#760,#700,#6a0,#650,#610,#5f0,#5f0,#600,#630,#670,#6d0,#740,#790,#7e0,#820,#880,#8f0,#940,#970,#990,#9c0,#a00,#a50,#a70,#a60,#9f0,#950,#8a0,#7e0,#6f0,#600,#520,#4d0,#520,#600,#710,#830,#950,#a80,#b90,#c40,#c60,#be0,#ad0,#950,#7c0,#670,#570,#4d0,#4a0,#4c0,#540,#610,#720,#820,#900,#980,#9c0,#9d0,#9b0,#980,#940,#910,#8f0,#8f0,#900,#930,#960,#980,#990,#990)"></i><i style="background:linear-gradient(90deg,#820,#870,#8a0,#870,#7d0,#6f0,#600,#530,#4a0,#450,#420,#450,#4f0,#600,#760,#8a0,#9a0,#a80,#b30,#ba0,#bc0,#b70,#ac0,#9c0,#8d0,#800,#770,#6e0,#660,#5f0,#590,#560,#560,#570,#5b0,#620,#6a0,#720,#7a0,#810,#870,#8e0,#940,#990,#9c0,#9c0,#9d0,#9f0,#a20,#a20,#a00,#990,#900,#860,#7c0,#710,#630,#580,#540,#590,#660,#750,#850,#950,#a60,#b60,#c00,#c30,#bb0,#aa0,#940,#7c0,#680,#580,#4f0,#4b0,#4d0,#550,#620,#720,#830,#910,#9a0,#9e0,#9f0,#9e0,#9a0,#960,#920,#900,#8f0,#900,#930,#950,#980,#990,#990)"></i><i style="background:linear-gradient(90deg,#810,#880,#8c0,#8b0,#820,#750,#660,#590,#4e0,#460,#410,#410,#480,#580,#6e0,#830,#950,#a40,#b20,#bc0,#c10,#be0,#b40,#a50,#930,#840,#770,#6d0,#630,#590,#520,#4e0,#4d0,#4f0,#540,#5d0,#670,#710,#7b0,#840,#8c0,#930,#9a0,#9e0,#a00,#9f0,#9e0,#9e0,#9f0,#9e0,#9a0,#930,#8b0,#830,#7b0,#720,#670,#5e0,#5b0,#610,#6c0,#790,#870,#950,#a40,#b30,#bd0,#bf0,#b70,#a80,#920,#7c0,#680,#5a0,#510,#4d0,#4f0,#560,#630,#730,#840,#920,#9c0,#a00,#a20,#a00,#9d0,#980,#940,#910,#900,#900,#920,#950,#970,#980,#980)"></i><i style="background:linear-gradient(90deg,#810,#880,#8e0,#8e0,#870,#7b0,#6c0,#5e0,#520,#490,#410,#3d0,#420,#510,#660,#7c0,#900,#a10,#b10,#bd0,#c40,#c40,#bc0,#ad0,#9a0,#880,#790,#6b0,#5f0,#540,#4b0,#470,#450,#480,#4e0,#580,#640,#700,#7c0,#860,#900,#990,#a00,#a30,#a40,#a20,#a00,#9e0,#9c0,#990,#940,#8d0,#850,#7f0,#790,#720,#6a0,#640,#620,#680,#720,#7d0,#890,#940,#a20,#b00,#b90,#bb0,#b40,#a50,#900,#7b0,#690,#5b0,#520,#4f0,#500,#580,#640,#740,#850,#940,#9d0,#a30,#a40,#a20,#9f0,#9a0,#960,#920,#900,#900,#910,#940,#960,#970,#970)"></i><i style="background:linear-gradient(90deg,#800,#880,#8f0,#910,#8c0,#810,#730,#640,#570,#4b0,#400,#3a0,#3c0,#490,#5e0,#760,#8b0,#9d0,#af0,#be0,#c70,#c90,#c20,#b40,#a00,#8c0,#7a0,#6a0,#5c0,#4f0,#450,#400,#3f0,#410,#480,#530,#610,#6f0,#7d0,#890,#940,#9e0,#a50,#a80,#a80,#a50,#a10,#9d0,#9a0,#950,#8f0,#870,#800,#7b0,#770,#730,#6d0,#690,#690,#6f0,#780,#810,#8a0,#940,#a00,#ac0,#b50,#b70,#b00,#a10,#8f0,#7b0,#6a0,#5d0,#540,#500,#520,#590,#660,#760,#870,#950,#9f0,#a50,#a60,#a50,#a10,#9c0,#970,#930,#900,#8f0,#900,#930,#950,#970,#970)"></i><i style="background:linear-gradient(90deg,#7f0,#880,#900,#940,#910,#870,#790,#6a0,#5c0,#4e0,#400,#360,#360,#410,#560,#6f0,#860,#9a0,#ac0,#be0,#c90,#cd0,#c80,#bb0,#a70,#910,#7c0,#690,#590,#4b0,#400,#3a0,#390,#3c0,#430,#4f0,#5e0,#6e0,#7d0,#8b0,#980,#a20,#a90,#ad0,#ac0,#a90,#a30,#9d0,#980,#910,#890,#810,#7a0,#760,#750,#730,#700,#6e0,#6f0,#750,#7d0,#850,#8c0,#940,#9e0,#a90,#b10,#b20,#ac0,#9e0,#8d0,#7b0,#6b0,#5e0,#560,#520,#540,#5b0,#670,#770,#880,#970,#a10,#a70,#a80,#a70,#a30,#9d0,#980,#930,#900,#8f0,#8f0,#910,#940,#960,#960)"></i><i style="background:linear-gradient(90deg,#7e0,#870,#910,#970,#950,#8d0,#7f0,#700,#600,#510,#400,#340,#300,#3a0,#4f0,#680,#800,#950,#aa0,#bd0,#ca0,#d00,#cd0,#c10,#ad0,#960,#7e0,#690,#570,#480,#3c0,#360,#350,#370,#3f0,#4c0,#5c0,#6d0,#7e0,#8d0,#9b0,#a60,#ae0,#b10,#b00,#ac0,#a50,#9e0,#960,#8d0,#840,#7b0,#750,#720,#720,#730,#730,#730,#750,#7c0,#830,#890,#8e0,#940,#9c0,#a60,#ad0,#ae0,#a70,#9b0,#8b0,#7a0,#6c0,#600,#580,#540,#560,#5d0,#690,#790,#8a0,#980,#a30,#a80,#aa0,#a80,#a40,#9f0,#990,#940,#900,#8e0,#8e0,#900,#930,#940,#950)"></i><i style="background:linear-gradient(90deg,#7c0,#860,#920,#990,#990,#920,#860,#760,#650,#540,#410,#310,#2b0,#330,#470,#610,#7b0,#910,#a60,#bb0,#ca0,#d10,#d00,#c70,#b30,#9b0,#810,#6a0,#560,#450,#390,#330,#310,#340,#3c0,#490,#5a0,#6d0,#7f0,#900,#9e0,#aa0,#b20,#b50,#b40,#af0,#a70,#9e0,#940,#890,#7e0,#750,#6f0,#6e0,#700,#730,#750,#770,#7b0,#820,#880,#8d0,#900,#930,#9a0,#a20,#a80,#a90,#a30,#970,#880,#790,#6c0,#610,#5a0,#560,#580,#5f0,#6b0,#7b0,#8b0,#9a0,#a50,#aa0,#ac0,#aa0,#a60,#a00,#9a0,#940,#8f0,#8c0,#8c0,#8e0,#910,#930,#940)"></i><i style="background:linear-gradient(90deg,#7a0,#850,#920,#9b0,#9d0,#980,#8c0,#7c0,#6b0,#570,#420,#2f0,#270,#2d0,#400,#5b0,#760,#8d0,#a30,#b80,#c90,#d20,#d30,#cb0,#b90,#a00,#840,#6b0,#550,#430,#370,#310,#2f0,#320,#3a0,#470,#590,#6c0,#800,#910,#a10,#ae0,#b50,#b90,#b70,#b20,#a90,#9e0,#920,#860,#790,#6f0,#690,#690,#6d0,#720,#770,#7b0,#810,#880,#8d0,#910,#920,#930,#980,#9f0,#a40,#a40,#9e0,#930,#860,#790,#6d0,#630,#5c0,#580,#5a0,#610,#6d0,#7c0,#8d0,#9c0,#a60,#ac0,#ae0,#ac0,#a70,#a10,#9a0,#940,#8e0,#8b0,#8a0,#8c0,#900,#920,#930)"></i><i style="background:linear-gradient(90deg,#780,#840,#920,#9d0,#a10,#9d0,#920,#820,#700,#5b0,#430,#2e0,#230,#270,#390,#540,#700,#890,#9f0,#b50,#c80,#d20,#d40,#ce0,#be0,#a40,#880,#6d0,#550,#430,#360,#300,#2e0,#310,#390,#460,#590,#6d0,#810,#930,#a40,#b10,#b90,#bc0,#ba0,#b40,#ab0,#9f0,#910,#820,#740,#690,#640,#650,#6a0,#720,#790,#7f0,#860,#8d0,#920,#940,#930,#930,#960,#9b0,#9f0,#9f0,#990,#900,#840,#780,#6d0,#640,#5e0,#5b0,#5c0,#630,#6e0,#7e0,#8f0,#9d0,#a80,#ae0,#af0,#ad0,#a90,#a20,#9b0,#940,#8d0,#890,#870,#8a0,#8e0,#910,#910)"></i><i style="background:linear-gradient(90deg,#760,#830,#930,#9f0,#a50,#a20,#980,#880,#750,#5e0,#450,#2d0,#200,#220,#330,#4e0,#6b0,#840,#9b0,#b10,#c50,#d10,#d40,#d00,#c20,#a90,#8c0,#6f0,#570,#430,#360,#2f0,#2e0,#300,#380,#460,#590,#6d0,#820,#950,#a60,#b30,#bb0,#be0,#bd0,#b70,#ad0,#9f0,#900,#7f0,#700,#640,#5f0,#600,#670,#710,#7a0,#830,#8b0,#920,#970,#980,#950,#940,#940,#980,#9b0,#9a0,#950,#8c0,#810,#770,#6e0,#660,#600,#5d0,#5e0,#650,#700,#800,#900,#9f0,#a90,#af0,#b10,#af0,#aa0,#a30,#9b0,#930,#8c0,#860,#850,#870,#8c0,#8f0,#900)"></i><i style="background:linear-gradient(90deg,#750,#820,#930,#a10,#a90,#a80,#9e0,#8e0,#7a0,#620,#470,#2c0,#1d0,#1d0,#2d0,#480,#660,#800,#960,#ad0,#c20,#d00,#d40,#d20,#c50,#ad0,#900,#730,#590,#450,#370,#300,#2e0,#310,#390,#470,#5a0,#6e0,#830,#970,#a80,#b50,#bd0,#c00,#bf0,#b90,#ae0,#a00,#8f0,#7c0,#6b0,#5f0,#5a0,#5c0,#640,#700,#7b0,#860,#900,#980,#9c0,#9b0,#980,#940,#930,#950,#960,#950,#8f0,#870,#7e0,#760,#6e0,#670,#620,#5f0,#600,#670,#720,#810,#910,#a00,#ab0,#b10,#b20,#b00,#ab0,#a40,#9b0,#930,#8b0,#840,#820,#840,#8a0,#8e0,#8f0)"></i><i style="background:linear-gradient(90deg,#730,#820,#940,#a40,#ad0,#ad0,#a40,#940,#7f0,#660,#490,#2c0,#1b0,#1a0,#270,#420,#610,#7b0,#920,#a80,#bd0,#cd0,#d40,#d20,#c70,#b10,#940,#760,#5c0,#480,#390,#320,#300,#320,#3b0,#490,#5b0,#6f0,#840,#980,#a90,#b70,#bf0,#c20,#c10,#bb0,#af0,#a00,#8d0,#790,#670,#5a0,#550,#580,#620,#6f0,#7d0,#890,#940,#9c0,#a00,#9f0,#9a0,#940,#910,#910,#920,#900,#8a0,#830,#7b0,#740,#6e0,#680,#630,#610,#620,#680,#740,#830,#930,#a10,#ac0,#b20,#b40,#b10,#ac0,#a40,#9b0,#920,#890,#810,#7e0,#810,#870,#8c0,#8e0)"></i><i style="background:linear-gradient(90deg,#720,#810,#950,#a60,#b10,#b20,#aa0,#990,#840,#6a0,#4b0,#2d0,#1a0,#170,#220,#3c0,#5c0,#770,#8d0,#a20,#b80,#ca0,#d20,#d20,#c90,#b40,#990,#7b0,#600,#4b0,#3d0,#340,#320,#350,#3d0,#4b0,#5d0,#710,#850,#990,#aa0,#b80,#c00,#c30,#c20,#bc0,#b10,#a00,#8c0,#770,#630,#560,#510,#540,#5f0,#6e0,#7e0,#8c0,#980,#a10,#a50,#a30,#9c0,#950,#900,#8e0,#8d0,#8a0,#850,#7f0,#780,#730,#6e0,#690,#650,#630,#640,#6a0,#750,#840,#940,#a30,#ae0,#b30,#b50,#b20,#ac0,#a40,#9b0,#910,#870,#7e0,#7a0,#7e0,#850,#8a0,#8c0)"></i><i style="background:linear-gradient(90deg,#720,#810,#960,#a90,#b50,#b70,#af0,#9f0,#890,#6e0,#4e0,#2e0,#190,#140,#1e0,#370,#570,#730,#890,#9d0,#b20,#c50,#cf0,#d10,#c90,#b70,#9d0,#800,#650,#500,#410,#380,#350,#380,#400,#4e0,#5f0,#720,#860,#990,#ab0,#b90,#c10,#c40,#c30,#bd0,#b20,#a10,#8c0,#750,#600,#520,#4d0,#510,#5c0,#6d0,#7f0,#8f0,#9c0,#a60,#a90,#a60,#9e0,#950,#8e0,#8b0,#880,#850,#800,#7a0,#750,#710,#6e0,#6a0,#670,#650,#660,#6c0,#770,#850,#950,#a40,#af0,#b50,#b60,#b30,#ad0,#a50,#9b0,#900,#840,#7a0,#760,#7a0,#820,#880,#8b0)"></i><i style="background:linear-gradient(90deg,#710,#810,#970,#ac0,#b90,#bc0,#b40,#a40,#8e0,#720,#510,#300,#180,#120,#1b0,#330,#530,#6f0,#840,#980,#ac0,#bf0,#cc0,#cf0,#c90,#b90,#a10,#850,#6b0,#550,#460,#3d0,#3a0,#3d0,#450,#510,#620,#740,#870,#9a0,#ab0,#b90,#c10,#c50,#c40,#be0,#b20,#a10,#8b0,#730,#5d0,#4f0,#4a0,#4e0,#5a0,#6c0,#7f0,#910,#a00,#aa0,#ad0,#a90,#a00,#960,#8d0,#880,#840,#7f0,#7a0,#750,#720,#6f0,#6e0,#6b0,#680,#670,#680,#6e0,#780,#870,#960,#a50,#b00,#b60,#b70,#b40,#ae0,#a50,#9a0,#8f0,#820,#760,#720,#760,#7f0,#870,#8a0)"></i><i style="background:linear-gradient(90deg,#710,#820,#990,#af0,#bd0,#c00,#ba0,#a90,#920,#760,#540,#320,#180,#110,#180,#2e0,#4e0,#6b0,#800,#920,#a60,#b90,#c70,#cc0,#c80,#ba0,#a40,#8a0,#710,#5c0,#4d0,#430,#400,#420,#490,#550,#640,#750,#870,#9a0,#ab0,#b90,#c20,#c50,#c50,#bf0,#b30,#a10,#8a0,#710,#5b0,#4d0,#480,#4b0,#580,#6b0,#800,#940,#a30,#ae0,#b10,#ad0,#a20,#960,#8c0,#850,#7f0,#7a0,#750,#700,#6e0,#6d0,#6d0,#6c0,#6a0,#690,#6a0,#700,#7a0,#880,#970,#a60,#b10,#b70,#b80,#b50,#ae0,#a50,#9a0,#8d0,#7f0,#720,#6d0,#720,#7c0,#850,#880)"></i><i style="background:linear-gradient(90deg,#700,#830,#9b0,#b20,#c10,#c50,#be0,#ae0,#970,#7a0,#580,#340,#190,#100,#150,#2a0,#4a0,#670,#7c0,#8d0,#9f0,#b20,#c10,#c80,#c60,#bb0,#a70,#8f0,#770,#630,#540,#4a0,#460,#480,#4f0,#5a0,#670,#770,#870,#990,#aa0,#b80,#c10,#c50,#c50,#bf0,#b30,#a10,#8a0,#700,#590,#4b0,#460,#490,#570,#6b0,#810,#960,#a70,#b20,#b50,#b00,#a50,#970,#8b0,#820,#7b0,#740,#6f0,#6b0,#6a0,#6b0,#6c0,#6c0,#6b0,#6a0,#6c0,#710,#7b0,#890,#980,#a60,#b10,#b70,#b90,#b50,#ae0,#a40,#990,#8c0,#7c0,#6e0,#680,#6d0,#790,#820,#870)"></i><i style="background:linear-gradient(90deg,#700,#830,#9d0,#b50,#c40,#c90,#c30,#b20,#9b0,#7e0,#5b0,#370,#1a0,#100,#130,#270,#460,#640,#780,#880,#990,#ab0,#ba0,#c30,#c30,#ba0,#a90,#940,#7e0,#6a0,#5b0,#520,#4d0,#4e0,#540,#5e0,#6a0,#780,#870,#980,#a90,#b70,#c10,#c50,#c50,#bf0,#b30,#a10,#890,#6f0,#580,#490,#440,#480,#550,#6b0,#820,#980,#aa0,#b50,#b80,#b30,#a70,#980,#8a0,#7f0,#760,#6f0,#690,#660,#670,#690,#6c0,#6d0,#6c0,#6c0,#6d0,#730,#7c0,#8a0,#990,#a70,#b20,#b80,#b90,#b50,#ae0,#a40,#980,#8a0,#780,#690,#630,#680,#750,#800,#860)"></i><i style="background:linear-gradient(90deg,#710,#840,#9f0,#b80,#c80,#ce0,#c70,#b70,#9f0,#810,#5f0,#3a0,#1c0,#0f0,#110,#230,#420,#600,#740,#830,#930,#a40,#b30,#bd0,#c00,#b90,#ab0,#980,#840,#720,#640,#5a0,#550,#550,#5a0,#620,#6c0,#780,#860,#960,#a70,#b50,#bf0,#c40,#c50,#bf0,#b30,#a10,#890,#6f0,#570,#490,#430,#470,#540,#6a0,#830,#9a0,#ad0,#b90,#bc0,#b60,#a90,#990,#890,#7c0,#720,#6a0,#640,#610,#630,#670,#6b0,#6d0,#6d0,#6d0,#6f0,#740,#7d0,#8a0,#990,#a70,#b20,#b80,#b90,#b60,#ae0,#a40,#970,#880,#750,#640,#5d0,#630,#720,#7e0,#840)"></i><i style="background:linear-gradient(90deg,#710,#850,#a10,#bb0,#cc0,#d10,#cb0,#bb0,#a20,#850,#630,#3d0,#1e0,#0f0,#100,#200,#3e0,#5c0,#710,#7f0,#8d0,#9d0,#ac0,#b70,#bb0,#b70,#ad0,#9d0,#8b0,#7a0,#6c0,#620,#5c0,#5c0,#600,#660,#6f0,#790,#850,#940,#a40,#b30,#be0,#c30,#c40,#be0,#b30,#a10,#890,#6f0,#570,#480,#430,#460,#540,#6a0,#840,#9d0,#b00,#bc0,#bf0,#b90,#ab0,#990,#880,#790,#6d0,#640,#5e0,#5c0,#5f0,#640,#690,#6d0,#6e0,#6f0,#700,#750,#7e0,#8b0,#9a0,#a80,#b20,#b80,#ba0,#b60,#ae0,#a30,#960,#860,#710,#5f0,#580,#5e0,#6e0,#7c0,#830)"></i><i style="background:linear-gradient(90deg,#710,#860,#a30,#bd0,#cf0,#d50,#cf0,#be0,#a60,#880,#660,#400,#200,#0f0,#0e0,#1d0,#3a0,#580,#6d0,#7b0,#870,#960,#a50,#b00,#b60,#b50,#ae0,#a10,#910,#820,#750,#6a0,#640,#630,#650,#6a0,#700,#780,#830,#900,#a00,#b00,#bb0,#c20,#c30,#bd0,#b20,#a10,#890,#6f0,#570,#480,#420,#450,#540,#6b0,#850,#9f0,#b30,#bf0,#c20,#bc0,#ad0,#9a0,#870,#760,#690,#5f0,#590,#580,#5b0,#610,#680,#6d0,#6f0,#700,#720,#770,#7f0,#8c0,#9a0,#a80,#b20,#b80,#b90,#b50,#ae0,#a30,#950,#840,#6e0,#5a0,#520,#590,#6a0,#7a0,#820)"></i><i style="background:linear-gradient(90deg,#710,#870,#a50,#c00,#d20,#d90,#d30,#c20,#a90,#8b0,#6a0,#440,#230,#100,#0d0,#1b0,#370,#540,#690,#760,#820,#8f0,#9d0,#a90,#b10,#b20,#ae0,#a40,#980,#8a0,#7d0,#730,#6c0,#690,#6a0,#6d0,#710,#770,#800,#8d0,#9c0,#ac0,#b80,#c00,#c10,#bc0,#b10,#a10,#8a0,#700,#580,#490,#420,#450,#540,#6b0,#860,#a10,#b60,#c20,#c50,#bf0,#af0,#9b0,#860,#740,#650,#5a0,#540,#530,#570,#5f0,#670,#6d0,#700,#710,#730,#780,#800,#8c0,#9a0,#a80,#b20,#b80,#b90,#b50,#ad0,#a20,#940,#810,#6a0,#550,#4c0,#540,#660,#770,#800)"></i><i style="background:linear-gradient(90deg,#720,#880,#a60,#c30,#d50,#dc0,#d60,#c50,#ac0,#8e0,#6d0,#480,#260,#110,#0d0,#190,#330,#500,#650,#720,#7d0,#890,#960,#a20,#ab0,#af0,#ae0,#a80,#9e0,#920,#860,#7b0,#730,#6f0,#6e0,#6f0,#720,#760,#7c0,#880,#970,#a80,#b50,#bd0,#bf0,#bb0,#b10,#a00,#8b0,#710,#590,#490,#430,#460,#540,#6c0,#880,#a20,#b80,#c50,#c80,#c10,#b10,#9c0,#850,#710,#610,#550,#4f0,#4e0,#530,#5c0,#650,#6d0,#700,#720,#740,#790,#810,#8d0,#9b0,#a80,#b20,#b80,#b90,#b50,#ad0,#a20,#930,#7f0,#660,#4f0,#460,#4f0,#620,#750,#7f0)"></i><i style="background:linear-gradient(90deg,#720,#890,#a80,#c50,#d80,#df0,#d90,#c80,#ae0,#910,#700,#4c0,#290,#130,#0c0,#170,#300,#4c0,#610,#6e0,#780,#830,#8f0,#9c0,#a60,#ac0,#ae0,#ab0,#a40,#9a0,#8e0,#830,#7a0,#740,#720,#710,#720,#730,#780,#830,#920,#a30,#b10,#ba0,#bd0,#ba0,#b00,#a10,#8b0,#730,#5b0,#4b0,#440,#470,#550,#6d0,#890,#a40,#ba0,#c70,#ca0,#c30,#b30,#9c0,#840,#6f0,#5d0,#510,#4a0,#4a0,#4f0,#590,#640,#6c0,#710,#730,#750,#7a0,#820,#8d0,#9b0,#a80,#b20,#b80,#b90,#b50,#ac0,#a10,#920,#7d0,#620,#4a0,#410,#490,#5f0,#730,#7e0)"></i><i style="background:linear-gradient(90deg,#720,#8a0,#aa0,#c80,#db0,#e20,#dc0,#cb0,#b10,#930,#730,#500,#2d0,#150,#0d0,#150,#2c0,#480,#5d0,#690,#730,#7e0,#890,#950,#a00,#a90,#ae0,#ae0,#a90,#a10,#960,#8a0,#800,#790,#750,#730,#710,#700,#730,#7d0,#8c0,#9d0,#ad0,#b70,#bb0,#b80,#af0,#a10,#8d0,#750,#5d0,#4d0,#450,#480,#560,#6e0,#8a0,#a60,#bc0,#c90,#cc0,#c50,#b50,#9d0,#830,#6c0,#5a0,#4d0,#460,#460,#4c0,#570,#620,#6c0,#710,#740,#760,#7b0,#830,#8e0,#9b0,#a80,#b20,#b80,#b80,#b40,#ac0,#a00,#910,#7b0,#5e0,#450,#3b0,#440,#5b0,#710,#7d0)"></i><i style="background:linear-gradient(90deg,#730,#8b0,#ac0,#ca0,#dd0,#e40,#df0,#cd0,#b30,#950,#760,#540,#310,#180,#0d0,#140,#290,#430,#580,#650,#6f0,#790,#840,#900,#9b0,#a60,#ad0,#b10,#af0,#a80,#9e0,#920,#860,#7d0,#780,#730,#6f0,#6d0,#6e0,#760,#850,#970,#a80,#b40,#b80,#b60,#ae0,#a10,#8e0,#770,#600,#4f0,#470,#490,#580,#6f0,#8b0,#a70,#be0,#cb0,#ce0,#c70,#b60,#9d0,#830,#6a0,#560,#490,#420,#420,#490,#540,#610,#6b0,#720,#750,#770,#7c0,#830,#8e0,#9b0,#a80,#b20,#b70,#b80,#b40,#ab0,#a00,#900,#790,#5a0,#400,#360,#3f0,#570,#6e0,#7c0)"></i><i style="background:linear-gradient(90deg,#730,#8c0,#ad0,#cc0,#e00,#e60,#e10,#cf0,#b50,#970,#780,#570,#350,#1b0,#0f0,#140,#270,#3f0,#530,#600,#6a0,#740,#7f0,#8a0,#970,#a30,#ad0,#b30,#b40,#af0,#a50,#980,#8c0,#810,#7a0,#740,#6d0,#680,#680,#6f0,#7e0,#910,#a30,#b00,#b60,#b40,#ae0,#a10,#8f0,#790,#630,#520,#490,#4b0,#590,#700,#8c0,#a90,#c00,#cd0,#d00,#c90,#b70,#9e0,#820,#680,#530,#450,#3f0,#3f0,#460,#520,#5f0,#6b0,#720,#750,#780,#7c0,#840,#8f0,#9c0,#a80,#b10,#b70,#b70,#b30,#ab0,#9f0,#8f0,#770,#570,#3b0,#310,#3b0,#530,#6c0,#7b0)"></i><i style="background:linear-gradient(90deg,#730,#8d0,#af0,#ce0,#e10,#e80,#e30,#d10,#b70,#990,#7b0,#5b0,#3a0,#1f0,#110,#130,#250,#3b0,#4f0,#5c0,#660,#6f0,#7a0,#860,#930,#a00,#ad0,#b60,#ba0,#b60,#ad0,#9f0,#910,#850,#7c0,#730,#6b0,#640,#610,#670,#760,#8a0,#9e0,#ac0,#b30,#b30,#ad0,#a20,#910,#7c0,#660,#550,#4c0,#4e0,#5b0,#710,#8d0,#aa0,#c10,#ce0,#d10,#ca0,#b90,#9e0,#810,#660,#510,#420,#3c0,#3c0,#430,#4f0,#5e0,#6a0,#720,#760,#790,#7d0,#850,#8f0,#9c0,#a80,#b10,#b60,#b70,#b30,#ab0,#9f0,#8e0,#750,#530,#370,#2c0,#360,#500,#6a0,#7a0)"></i><i style="background:linear-gradient(90deg,#740,#8d0,#b00,#d00,#e30,#ea0,#e50,#d30,#b80,#9a0,#7d0,#5e0,#3e0,#230,#130,#140,#230,#380,#4a0,#570,#610,#6b0,#760,#820,#8f0,#9e0,#ad0,#b90,#bf0,#bd0,#b40,#a60,#960,#880,#7d0,#730,#680,#5e0,#5a0,#5f0,#6e0,#830,#980,#a80,#b00,#b10,#ac0,#a20,#930,#7f0,#6a0,#580,#4f0,#500,#5d0,#720,#8e0,#ab0,#c20,#cf0,#d20,#cb0,#ba0,#9f0,#810,#650,#4e0,#400,#390,#390,#410,#4e0,#5d0,#6a0,#720,#760,#790,#7e0,#850,#900,#9c0,#a80,#b10,#b60,#b70,#b20,#aa0,#9e0,#8d0,#730,#500,#330,#280,#320,#4d0,#680,#790)"></i><i style="background:linear-gradient(90deg,#740,#8e0,#b10,#d10,#e50,#eb0,#e60,#d50,#ba0,#9c0,#7f0,#620,#430,#270,#160,#150,#220,#350,#460,#530,#5d0,#670,#720,#7e0,#8c0,#9d0,#ae0,#bc0,#c40,#c40,#bb0,#ac0,#9b0,#8b0,#7e0,#720,#650,#590,#530,#570,#660,#7c0,#920,#a40,#ae0,#b00,#ac0,#a30,#950,#820,#6e0,#5c0,#520,#530,#5f0,#740,#8f0,#ac0,#c30,#d00,#d30,#cc0,#ba0,#9f0,#800,#630,#4c0,#3d0,#370,#370,#3e0,#4c0,#5c0,#690,#720,#770,#7a0,#7e0,#860,#900,#9c0,#a80,#b10,#b60,#b60,#b20,#aa0,#9e0,#8d0,#710,#4d0,#2f0,#240,#2e0,#4a0,#670,#780)"></i><i style="background:linear-gradient(90deg,#740,#8f0,#b20,#d20,#e60,#ec0,#e70,#d60,#bb0,#9d0,#810,#650,#470,#2c0,#1a0,#170,#210,#320,#420,#4e0,#580,#630,#6e0,#7b0,#8a0,#9c0,#af0,#bf0,#c90,#ca0,#c20,#b30,#a00,#8f0,#7f0,#700,#610,#530,#4b0,#4e0,#5d0,#740,#8d0,#a00,#ab0,#ae0,#ac0,#a40,#970,#850,#710,#600,#560,#560,#600,#750,#900,#ac0,#c40,#d10,#d40,#cd0,#bb0,#9f0,#800,#620,#4b0,#3c0,#350,#360,#3d0,#4a0,#5b0,#690,#720,#770,#7a0,#7f0,#860,#900,#9c0,#a80,#b10,#b50,#b60,#b20,#aa0,#9e0,#8c0,#6f0,#4a0,#2b0,#200,#2b0,#470,#650,#770)"></i><i style="background:linear-gradient(90deg,#740,#8f0,#b30,#d30,#e70,#ed0,#e80,#d70,#bc0,#9e0,#820,#680,#4c0,#310,#1e0,#190,#210,#300,#3f0,#4a0,#540,#5f0,#6b0,#780,#880,#9b0,#b00,#c20,#ce0,#d00,#c80,#b90,#a50,#920,#800,#6f0,#5d0,#4d0,#430,#460,#550,#6d0,#870,#9c0,#a90,#ad0,#ab0,#a50,#990,#880,#750,#640,#590,#580,#620,#760,#900,#ad0,#c50,#d20,#d40,#ce0,#bb0,#9f0,#7f0,#610,#490,#3a0,#340,#340,#3b0,#490,#5a0,#690,#720,#780,#7b0,#7f0,#860,#910,#9c0,#a80,#b10,#b50,#b60,#b20,#aa0,#9e0,#8b0,#6e0,#480,#280,#1d0,#270,#440,#630,#760)"></i><i style="background:linear-gradient(90deg,#750,#900,#b30,#d40,#e80,#ee0,#e90,#d80,#bd0,#9f0,#830,#6a0,#500,#360,#230,#1c0,#220,#2f0,#3c0,#460,#500,#5b0,#670,#750,#860,#9b0,#b10,#c60,#d30,#d60,#cf0,#bf0,#aa0,#950,#810,#6e0,#590,#470,#3c0,#3d0,#4d0,#660,#820,#990,#a70,#ac0,#ab0,#a60,#9b0,#8c0,#790,#680,#5c0,#5b0,#640,#760,#900,#ad0,#c50,#d20,#d40,#ce0,#bc0,#9f0,#7f0,#600,#480,#390,#330,#340,#3b0,#480,#590,#680,#720,#780,#7b0,#800,#870,#910,#9d0,#a80,#b10,#b50,#b50,#b20,#aa0,#9e0,#8b0,#6d0,#460,#260,#1b0,#250,#420,#620,#760)"></i><i style="background:linear-gradient(90deg,#750,#900,#b40,#d50,#e80,#ee0,#ea0,#d90,#be0,#9f0,#850,#6d0,#540,#3b0,#280,#200,#240,#2e0,#3a0,#430,#4d0,#580,#640,#730,#850,#9a0,#b30,#c90,#d70,#dc0,#d50,#c50,#af0,#980,#820,#6c0,#550,#400,#340,#350,#450,#5f0,#7d0,#960,#a50,#ac0,#ac0,#a70,#9d0,#8e0,#7c0,#6b0,#600,#5d0,#650,#770,#900,#ad0,#c50,#d20,#d40,#ce0,#bc0,#9f0,#7f0,#600,#480,#380,#330,#330,#3a0,#480,#590,#680,#720,#780,#7b0,#800,#870,#910,#9d0,#a80,#b00,#b50,#b50,#b20,#aa0,#9e0,#8b0,#6c0,#440,#240,#190,#230,#400,#610,#750)"></i><i style="background:linear-gradient(90deg,#750,#900,#b40,#d50,#e90,#ee0,#ea0,#d90,#be0,#a00,#860,#6f0,#580,#400,#2d0,#240,#260,#2e0,#380,#410,#4a0,#550,#620,#710,#830,#9a0,#b40,#cc0,#dc0,#e10,#db0,#cb0,#b40,#9b0,#830,#6a0,#510,#3b0,#2d0,#2e0,#3d0,#580,#780,#930,#a40,#ab0,#ac0,#a80,#9f0,#910,#800,#6f0,#630,#600,#660,#770,#900,#ad0,#c50,#d20,#d40,#ce0,#bc0,#9f0,#7e0,#600,#470,#380,#320,#330,#3a0,#480,#590,#680,#730,#780,#7c0,#800,#870,#910,#9d0,#a80,#b00,#b50,#b50,#b10,#aa0,#9e0,#8a0,#6b0,#420,#220,#170,#210,#3e0,#600,#740)"></i><i style="background:linear-gradient(90deg,#750,#900,#b40,#d50,#e90,#ee0,#ea0,#d90,#be0,#a00,#870,#710,#5b0,#450,#320,#280,#280,#2f0,#370,#3f0,#470,#520,#5f0,#6f0,#820,#9a0,#b60,#ce0,#df0,#e60,#e00,#d00,#b80,#9e0,#830,#690,#4d0,#350,#260,#260,#360,#520,#740,#900,#a20,#ab0,#ac0,#a90,#a10,#940,#830,#720,#650,#620,#680,#770,#900,#ac0,#c40,#d20,#d40,#ce0,#bc0,#9f0,#7e0,#600,#470,#380,#320,#330,#3a0,#480,#590,#680,#730,#780,#7c0,#800,#870,#910,#9d0,#a80,#b00,#b40,#b50,#b10,#aa0,#9e0,#8a0,#6a0,#410,#210,#160,#1f0,#3d0,#5f0,#740)"></i><i style="background:linear-gradient(90deg,#750,#900,#b40,#d50,#e90,#ee0,#ea0,#d90,#be0,#a10,#870,#730,#5f0,#4a0,#380,#2c0,#2b0,#300,#370,#3d0,#450,#500,#5d0,#6d0,#810,#9a0,#b70,#d10,#e30,#ea0,#e50,#d50,#bd0,#a10,#840,#670,#4a0,#2f0,#200,#200,#300,#4d0,#700,#8e0,#a10,#ab0,#ad0,#aa0,#a30,#960,#850,#740,#680,#630,#680,#770,#8f0,#ac0,#c40,#d10,#d40,#ce0,#bb0,#9f0,#7e0,#600,#480,#390,#330,#330,#3a0,#480,#590,#690,#730,#780,#7c0,#800,#870,#910,#9c0,#a80,#b00,#b40,#b50,#b10,#aa0,#9e0,#8a0,#6a0,#400,#200,#160,#1e0,#3c0,#5e0,#740)"></i><i style="background:linear-gradient(90deg,#750,#900,#b40,#d50,#e90,#ee0,#ea0,#d90,#be0,#a10,#880,#750,#620,#4f0,#3d0,#310,#2e0,#310,#370,#3c0,#440,#4e0,#5b0,#6b0,#800,#9a0,#b80,#d30,#e60,#ed0,#e90,#da0,#c10,#a40,#850,#660,#460,#2b0,#1a0,#1a0,#2a0,#480,#6c0,#8c0,#a10,#ab0,#ad0,#ab0,#a40,#980,#880,#770,#6a0,#650,#690,#770,#8f0,#ab0,#c30,#d00,#d30,#cd0,#bb0,#9f0,#7e0,#600,#480,#390,#330,#340,#3b0,#490,#5a0,#690,#730,#780,#7b0,#800,#860,#900,#9c0,#a70,#b00,#b40,#b50,#b10,#aa0,#9e0,#8a0,#6a0,#400,#1f0,#150,#1e0,#3c0,#5e0,#730)"></i><i style="background:linear-gradient(90deg,#750,#900,#b40,#d50,#e80,#ee0,#ea0,#d90,#be0,#a10,#890,#760,#650,#530,#420,#360,#310,#330,#380,#3c0,#430,#4c0,#590,#6a0,#7f0,#9a0,#b90,#d50,#e90,#f00,#ed0,#de0,#c50,#a60,#860,#650,#430,#260,#160,#150,#250,#430,#690,#8a0,#a00,#ab0,#ae0,#ac0,#a60,#9a0,#8a0,#790,#6c0,#660,#690,#770,#8e0,#aa0,#c20,#d00,#d30,#cc0,#ba0,#9e0,#7f0,#610,#490,#3a0,#340,#350,#3c0,#4a0,#5b0,#690,#730,#780,#7b0,#7f0,#860,#900,#9c0,#a70,#af0,#b40,#b40,#b10,#aa0,#9e0,#8a0,#6a0,#400,#1f0,#150,#1e0,#3c0,#5e0,#730)"></i><i style="background:linear-gradient(90deg,#750,#900,#b30,#d40,#e70,#ed0,#e90,#d80,#be0,#a10,#890,#780,#680,#580,#470,#3b0,#350,#350,#380,#3c0,#420,#4b0,#580,#690,#7e0,#9a0,#b90,#d60,#eb0,#f30,#f00,#e10,#c80,#a90,#870,#640,#400,#220,#120,#110,#210,#3f0,#660,#890,#a00,#ab0,#ae0,#ad0,#a70,#9b0,#8c0,#7b0,#6d0,#670,#6a0,#760,#8d0,#a80,#c10,#ce0,#d20,#cb0,#b90,#9e0,#7f0,#620,#4b0,#3c0,#360,#360,#3e0,#4b0,#5c0,#6a0,#730,#780,#7b0,#7f0,#850,#8f0,#9b0,#a60,#af0,#b30,#b40,#b10,#aa0,#9e0,#8a0,#6a0,#400,#1f0,#150,#1e0,#3c0,#5e0,#730)"></i><i style="background:linear-gradient(90deg,#750,#8f0,#b30,#d30,#e70,#ed0,#e80,#d70,#bd0,#a10,#8a0,#790,#6b0,#5c0,#4d0,#400,#390,#380,#3a0,#3d0,#420,#4b0,#580,#680,#7e0,#990,#b90,#d70,#ec0,#f40,#f20,#e40,#cb0,#ab0,#880,#630,#3e0,#1f0,#0e0,#0e0,#1d0,#3c0,#640,#870,#9f0,#ab0,#af0,#ae0,#a80,#9d0,#8d0,#7c0,#6e0,#680,#6a0,#760,#8c0,#a70,#bf0,#cd0,#d00,#ca0,#b80,#9d0,#7f0,#630,#4c0,#3e0,#370,#380,#3f0,#4d0,#5d0,#6b0,#730,#780,#7a0,#7e0,#840,#8e0,#9a0,#a60,#ae0,#b30,#b40,#b10,#aa0,#9e0,#8b0,#6a0,#410,#200,#160,#1e0,#3c0,#5e0,#730)"></i><i style="background:linear-gradient(90deg,#740,#8f0,#b20,#d20,#e60,#ec0,#e70,#d60,#bc0,#a00,#8a0,#7a0,#6d0,#600,#520,#450,#3d0,#3b0,#3b0,#3e0,#430,#4b0,#570,#670,#7d0,#990,#b90,#d80,#ed0,#f60,#f40,#e70,#ce0,#ad0,#890,#630,#3c0,#1d0,#0c0,#0b0,#1a0,#3a0,#620,#870,#9f0,#ab0,#af0,#ae0,#a90,#9e0,#8e0,#7d0,#6f0,#680,#6a0,#750,#8b0,#a50,#bd0,#cc0,#cf0,#c80,#b70,#9d0,#7f0,#640,#4e0,#400,#390,#3a0,#420,#4f0,#5e0,#6b0,#730,#770,#7a0,#7d0,#840,#8d0,#990,#a50,#ad0,#b20,#b30,#b10,#aa0,#9e0,#8b0,#6b0,#420,#210,#160,#1f0,#3d0,#5f0,#730)"></i><i style="background:linear-gradient(90deg,#740,#8e0,#b10,#d10,#e40,#eb0,#e60,#d50,#bb0,#a00,#8a0,#7b0,#700,#630,#560,#4a0,#420,#3e0,#3e0,#400,#440,#4c0,#580,#670,#7c0,#980,#b90,#d80,#ed0,#f60,#f50,#e90,#d00,#af0,#8a0,#620,#3b0,#1b0,#0a0,#0a0,#180,#380,#610,#860,#9f0,#ac0,#b00,#af0,#aa0,#9f0,#8f0,#7e0,#700,#690,#690,#740,#890,#a40,#bc0,#ca0,#cd0,#c70,#b50,#9c0,#800,#650,#500,#420,#3c0,#3d0,#440,#510,#600,#6c0,#730,#770,#790,#7c0,#820,#8c0,#980,#a40,#ad0,#b10,#b30,#b10,#aa0,#9e0,#8b0,#6c0,#430,#220,#170,#210,#3e0,#5f0,#740)"></i><i style="background:linear-gradient(90deg,#740,#8e0,#b00,#cf0,#e30,#e90,#e40,#d30,#ba0,#9f0,#8a0,#7c0,#720,#670,#5b0,#4f0,#470,#420,#400,#420,#460,#4d0,#580,#670,#7c0,#970,#b80,#d70,#ed0,#f70,#f60,#ea0,#d20,#b10,#8b0,#620,#3a0,#1a0,#090,#090,#170,#370,#600,#860,#9f0,#ac0,#b00,#af0,#aa0,#9f0,#900,#7e0,#700,#690,#690,#730,#880,#a20,#b90,#c80,#cb0,#c50,#b40,#9b0,#800,#670,#530,#450,#3f0,#400,#470,#530,#610,#6d0,#740,#770,#780,#7b0,#810,#8b0,#970,#a30,#ac0,#b10,#b20,#b00,#aa0,#9e0,#8b0,#6c0,#440,#240,#190,#220,#400,#600,#740)"></i><i style="background:linear-gradient(90deg,#740,#8d0,#ae0,#cd0,#e10,#e80,#e30,#d20,#b80,#9e0,#8a0,#7d0,#740,#6a0,#5f0,#550,#4c0,#460,#440,#440,#480,#4f0,#590,#680,#7c0,#960,#b70,#d60,#ed0,#f60,#f60,#eb0,#d30,#b20,#8c0,#630,#3a0,#190,#080,#090,#170,#360,#600,#860,#9f0,#ac0,#b00,#b00,#ab0,#a00,#900,#7f0,#710,#690,#690,#730,#870,#a00,#b70,#c60,#c90,#c30,#b20,#9a0,#800,#690,#550,#480,#420,#430,#4a0,#560,#630,#6d0,#740,#760,#770,#7a0,#800,#8a0,#950,#a10,#ab0,#b00,#b20,#b00,#aa0,#9e0,#8c0,#6d0,#460,#260,#1b0,#250,#410,#610,#740)"></i><i style="background:linear-gradient(90deg,#740,#8c0,#ad0,#cc0,#df0,#e60,#e10,#d00,#b70,#9d0,#8a0,#7e0,#750,#6d0,#630,#590,#510,#4b0,#480,#480,#4b0,#510,#5b0,#680,#7b0,#950,#b50,#d40,#eb0,#f60,#f60,#eb0,#d40,#b30,#8c0,#630,#3a0,#190,#080,#090,#170,#360,#600,#860,#9f0,#ac0,#b00,#b00,#ab0,#a00,#900,#7f0,#710,#690,#690,#720,#850,#9e0,#b50,#c30,#c70,#c00,#b00,#990,#810,#6a0,#580,#4b0,#450,#460,#4d0,#580,#650,#6e0,#740,#760,#770,#790,#7f0,#880,#940,#a00,#a90,#af0,#b10,#b00,#a90,#9e0,#8c0,#6f0,#480,#290,#1d0,#270,#430,#620,#740)"></i><i style="background:linear-gradient(90deg,#730,#8b0,#ab0,#ca0,#dd0,#e30,#de0,#ce0,#b50,#9d0,#8a0,#7e0,#770,#700,#670,#5e0,#560,#500,#4c0,#4c0,#4e0,#540,#5c0,#690,#7b0,#940,#b30,#d20,#ea0,#f50,#f50,#eb0,#d40,#b30,#8d0,#640,#3b0,#1a0,#090,#090,#170,#370,#600,#860,#a00,#ac0,#b00,#b00,#ab0,#a00,#910,#7f0,#710,#690,#680,#710,#840,#9c0,#b20,#c10,#c40,#be0,#ae0,#980,#810,#6c0,#5b0,#4f0,#490,#4a0,#500,#5b0,#660,#6f0,#740,#750,#760,#780,#7d0,#870,#930,#9f0,#a80,#ae0,#b10,#af0,#a90,#9e0,#8c0,#700,#4b0,#2c0,#200,#2a0,#460,#630,#750)"></i><i style="background:linear-gradient(90deg,#730,#8a0,#aa0,#c70,#da0,#e10,#dc0,#cb0,#b30,#9b0,#8a0,#7f0,#780,#720,#6b0,#620,#5b0,#540,#510,#500,#520,#570,#5f0,#6a0,#7b0,#930,#b10,#d00,#e70,#f30,#f40,#ea0,#d40,#b30,#8e0,#650,#3c0,#1c0,#0a0,#0a0,#190,#380,#610,#870,#a00,#ac0,#b00,#b00,#ab0,#a00,#910,#7f0,#710,#690,#680,#700,#820,#9a0,#b00,#be0,#c10,#bb0,#ac0,#970,#810,#6e0,#5e0,#520,#4d0,#4e0,#540,#5e0,#680,#700,#740,#750,#750,#770,#7c0,#850,#910,#9d0,#a70,#ad0,#b00,#af0,#a80,#9e0,#8c0,#710,#4d0,#2f0,#240,#2d0,#480,#640,#750)"></i><i style="background:linear-gradient(90deg,#730,#8a0,#a80,#c50,#d80,#de0,#d90,#c90,#b20,#9a0,#890,#7f0,#790,#740,#6e0,#670,#5f0,#590,#550,#540,#550,#5a0,#610,#6c0,#7b0,#920,#ae0,#cd0,#e50,#f10,#f20,#e80,#d30,#b30,#8e0,#660,#3e0,#1e0,#0c0,#0c0,#1b0,#3a0,#630,#870,#a00,#ac0,#b00,#b00,#ab0,#a00,#910,#7f0,#710,#690,#680,#700,#810,#980,#ad0,#bb0,#be0,#b80,#aa0,#960,#810,#6f0,#600,#560,#510,#520,#570,#610,#6a0,#710,#740,#740,#740,#760,#7b0,#840,#900,#9c0,#a60,#ac0,#af0,#ae0,#a80,#9d0,#8d0,#720,#500,#320,#270,#310,#4b0,#660,#750)"></i><i style="background:linear-gradient(90deg,#730,#890,#a60,#c20,#d50,#db0,#d60,#c60,#b00,#990,#890,#7f0,#7a0,#750,#700,#6a0,#640,#5e0,#5a0,#590,#5a0,#5d0,#640,#6d0,#7b0,#900,#ac0,#c90,#e10,#ee0,#f00,#e60,#d10,#b20,#8e0,#670,#400,#200,#0f0,#0e0,#1d0,#3c0,#640,#880,#a00,#ac0,#b00,#b00,#ab0,#a00,#910,#7f0,#710,#690,#680,#6f0,#800,#960,#aa0,#b80,#bb0,#b50,#a70,#950,#820,#710,#630,#5a0,#550,#560,#5b0,#630,#6c0,#710,#740,#740,#730,#750,#7a0,#830,#8e0,#9a0,#a40,#ab0,#ae0,#ad0,#a70,#9d0,#8d0,#740,#530,#360,#2b0,#350,#4e0,#670,#760)"></i><i style="background:linear-gradient(90deg,#720,#880,#a40,#c00,#d20,#d80,#d30,#c30,#ad0,#980,#880,#7f0,#7a0,#770,#730,#6e0,#680,#630,#5f0,#5d0,#5e0,#610,#660,#6f0,#7c0,#8f0,#a90,#c50,#dd0,#eb0,#ed0,#e40,#cf0,#b10,#8f0,#690,#430,#240,#120,#110,#210,#3f0,#660,#890,#a00,#ac0,#b00,#af0,#aa0,#a00,#900,#7f0,#710,#690,#680,#6f0,#7f0,#940,#a80,#b50,#b80,#b20,#a50,#930,#820,#720,#660,#5d0,#590,#590,#5e0,#660,#6d0,#720,#740,#730,#720,#740,#790,#820,#8d0,#990,#a30,#aa0,#ad0,#ac0,#a70,#9c0,#8d0,#750,#560,#3a0,#300,#390,#510,#690,#760)"></i><i style="background:linear-gradient(90deg,#720,#870,#a20,#bd0,#cf0,#d50,#d00,#c10,#ab0,#970,#880,#7f0,#7b0,#780,#750,#700,#6c0,#670,#630,#620,#620,#640,#690,#700,#7c0,#8e0,#a60,#c10,#d90,#e70,#e90,#e10,#cd0,#b00,#8f0,#6a0,#460,#280,#160,#150,#240,#430,#680,#8a0,#a00,#ac0,#b00,#af0,#aa0,#9f0,#900,#7f0,#710,#690,#680,#6e0,#7e0,#920,#a50,#b10,#b50,#af0,#a20,#920,#820,#740,#690,#610,#5d0,#5d0,#620,#680,#6f0,#730,#740,#730,#720,#730,#780,#810,#8c0,#980,#a20,#a90,#ac0,#ab0,#a60,#9c0,#8d0,#760,#590,#3f0,#340,#3d0,#540,#6a0,#770)"></i><i style="background:linear-gradient(90deg,#720,#860,#a00,#ba0,#cb0,#d20,#cd0,#be0,#a90,#950,#870,#7f0,#7b0,#790,#760,#730,#6f0,#6b0,#680,#660,#660,#680,#6b0,#720,#7c0,#8c0,#a30,#bd0,#d40,#e20,#e50,#dd0,#ca0,#ae0,#8f0,#6c0,#490,#2c0,#1b0,#1a0,#290,#460,#6a0,#8a0,#a00,#ab0,#af0,#ae0,#a90,#9f0,#900,#7f0,#710,#690,#670,#6e0,#7d0,#900,#a20,#ae0,#b10,#ac0,#a00,#910,#820,#750,#6b0,#640,#600,#610,#650,#6b0,#700,#730,#740,#730,#710,#720,#770,#800,#8b0,#960,#a10,#a80,#ab0,#ab0,#a50,#9b0,#8d0,#780,#5c0,#430,#390,#410,#570,#6c0,#770)"></i><i style="background:linear-gradient(90deg,#710,#850,#9e0,#b70,#c80,#ce0,#c90,#bb0,#a70,#940,#860,#7f0,#7c0,#7a0,#780,#750,#720,#6e0,#6b0,#6a0,#690,#6b0,#6e0,#730,#7c0,#8b0,#a00,#b80,#ce0,#dd0,#e00,#d80,#c60,#ad0,#8e0,#6e0,#4d0,#310,#200,#1f0,#2e0,#4a0,#6d0,#8b0,#a00,#aa0,#ae0,#ae0,#a80,#9e0,#8f0,#7f0,#710,#690,#680,#6e0,#7c0,#8e0,#9f0,#ab0,#ae0,#a90,#9d0,#8f0,#820,#760,#6d0,#670,#640,#640,#680,#6d0,#720,#740,#740,#720,#710,#720,#760,#7f0,#8a0,#950,#9f0,#a70,#aa0,#aa0,#a40,#9b0,#8d0,#790,#5f0,#470,#3e0,#460,#5a0,#6d0,#780)"></i><i style="background:linear-gradient(90deg,#710,#840,#9c0,#b40,#c40,#ca0,#c60,#b70,#a40,#920,#860,#7f0,#7c0,#7a0,#790,#770,#740,#710,#6f0,#6d0,#6d0,#6e0,#700,#750,#7d0,#8a0,#9c0,#b30,#c90,#d70,#db0,#d40,#c30,#aa0,#8e0,#700,#510,#360,#260,#250,#330,#4f0,#6f0,#8c0,#9f0,#aa0,#ad0,#ad0,#a70,#9d0,#8f0,#7f0,#710,#690,#680,#6d0,#7b0,#8c0,#9c0,#a70,#aa0,#a60,#9b0,#8e0,#820,#770,#700,#6a0,#670,#680,#6b0,#6f0,#730,#750,#740,#720,#710,#710,#760,#7e0,#890,#940,#9e0,#a60,#a90,#a90,#a30,#9a0,#8d0,#7a0,#620,#4c0,#430,#4a0,#5d0,#6e0,#780)"></i><i style="background:linear-gradient(90deg,#710,#830,#9a0,#b10,#c10,#c60,#c20,#b40,#a20,#910,#850,#7f0,#7c0,#7b0,#7a0,#780,#760,#740,#720,#700,#700,#700,#720,#760,#7d0,#880,#990,#af0,#c30,#d10,#d50,#cf0,#bf0,#a80,#8d0,#710,#550,#3c0,#2c0,#2b0,#390,#530,#720,#8d0,#9f0,#a90,#ac0,#ac0,#a60,#9c0,#8e0,#7e0,#710,#690,#680,#6d0,#7a0,#8a0,#9a0,#a40,#a70,#a20,#990,#8d0,#810,#780,#720,#6d0,#6a0,#6b0,#6d0,#710,#740,#750,#740,#720,#700,#710,#750,#7e0,#880,#930,#9d0,#a50,#a80,#a80,#a20,#990,#8d0,#7b0,#650,#500,#480,#4f0,#600,#700,#790)"></i><i style="background:linear-gradient(90deg,#710,#820,#980,#ae0,#bd0,#c20,#be0,#b10,#a00,#900,#850,#7f0,#7c0,#7b0,#7a0,#790,#770,#760,#740,#730,#720,#730,#740,#770,#7d0,#870,#960,#aa0,#bd0,#cb0,#cf0,#c90,#ba0,#a50,#8d0,#730,#580,#410,#330,#320,#3f0,#580,#740,#8d0,#9e0,#a70,#ab0,#aa0,#a50,#9b0,#8d0,#7e0,#710,#6a0,#680,#6d0,#790,#890,#970,#a10,#a30,#9f0,#960,#8b0,#810,#790,#730,#6f0,#6d0,#6d0,#6f0,#720,#750,#760,#750,#720,#700,#710,#750,#7d0,#870,#920,#9c0,#a40,#a70,#a70,#a10,#990,#8d0,#7c0,#670,#550,#4d0,#530,#630,#710,#790)"></i><i style="background:linear-gradient(90deg,#710,#810,#960,#ab0,#b90,#be0,#ba0,#ae0,#9d0,#8e0,#840,#7e0,#7c0,#7b0,#7b0,#7a0,#790,#770,#760,#750,#740,#750,#760,#780,#7d0,#860,#930,#a50,#b70,#c40,#c80,#c30,#b60,#a20,#8c0,#740,#5c0,#470,#3a0,#390,#450,#5c0,#770,#8e0,#9e0,#a60,#aa0,#a90,#a40,#9a0,#8d0,#7e0,#720,#6a0,#690,#6e0,#790,#870,#950,#9e0,#a00,#9c0,#940,#8a0,#810,#7a0,#750,#710,#6f0,#700,#710,#740,#760,#760,#750,#730,#710,#710,#750,#7c0,#860,#910,#9b0,#a30,#a60,#a50,#a00,#980,#8c0,#7d0,#6a0,#590,#510,#570,#650,#720,#790)"></i><i style="background:linear-gradient(90deg,#710,#800,#940,#a80,#b50,#ba0,#b60,#ab0,#9b0,#8d0,#830,#7e0,#7c0,#7b0,#7b0,#7a0,#7a0,#780,#770,#770,#760,#760,#770,#790,#7d0,#840,#900,#a00,#b10,#bd0,#c20,#bd0,#b10,#9f0,#8b0,#760,#600,#4d0,#410,#400,#4b0,#600,#790,#8e0,#9d0,#a50,#a80,#a70,#a20,#990,#8c0,#7e0,#720,#6b0,#690,#6e0,#780,#860,#920,#9b0,#9d0,#990,#920,#890,#810,#7a0,#760,#730,#720,#720,#730,#750,#770,#770,#750,#730,#710,#710,#750,#7c0,#860,#910,#9a0,#a20,#a50,#a40,#9f0,#970,#8c0,#7e0,#6c0,#5d0,#560,#5b0,#680,#740,#7a0)"></i><i style="background:linear-gradient(90deg,#710,#7f0,#920,#a50,#b20,#b60,#b30,#a70,#990,#8c0,#830,#7e0,#7c0,#7c0,#7b0,#7b0,#7a0,#790,#790,#780,#780,#780,#780,#7a0,#7d0,#830,#8e0,#9c0,#ab0,#b70,#bb0,#b80,#ac0,#9c0,#8a0,#770,#640,#520,#470,#470,#510,#650,#7b0,#8e0,#9c0,#a30,#a60,#a60,#a10,#980,#8b0,#7e0,#720,#6b0,#6a0,#6e0,#780,#840,#900,#980,#9a0,#970,#900,#870,#800,#7b0,#770,#750,#730,#740,#750,#760,#770,#770,#760,#730,#710,#710,#750,#7c0,#850,#900,#9a0,#a10,#a40,#a30,#9e0,#960,#8c0,#7f0,#6f0,#600,#5a0,#5f0,#6a0,#750,#7a0)"></i><i style="background:linear-gradient(90deg,#710,#7f0,#920,#a40,#b10,#b50,#b20,#a70,#980,#8b0,#830,#7e0,#7c0,#7c0,#7b0,#7b0,#7a0,#7a0,#790,#780,#780,#780,#790,#7a0,#7d0,#830,#8d0,#9b0,#a90,#b50,#ba0,#b60,#ab0,#9b0,#8a0,#770,#650,#540,#490,#480,#530,#660,#7b0,#8e0,#9b0,#a30,#a60,#a50,#a00,#980,#8b0,#7e0,#720,#6b0,#6a0,#6e0,#780,#840,#8f0,#970,#990,#960,#8f0,#870,#800,#7b0,#770,#750,#740,#740,#750,#770,#780,#770,#760,#730,#710,#710,#750,#7c0,#850,#900,#990,#a00,#a40,#a30,#9e0,#960,#8c0,#7f0,#6f0,#610,#5b0,#600,#6b0,#750,#7a0)"></i><i style="background:linear-gradient(90deg,#710,#7f0,#920,#a40,#b10,#b50,#b20,#a70,#980,#8b0,#830,#7e0,#7c0,#7c0,#7b0,#7b0,#7a0,#7a0,#790,#780,#780,#780,#790,#7a0,#7d0,#830,#8d0,#9b0,#a90,#b50,#ba0,#b60,#ab0,#9b0,#8a0,#770,#650,#540,#490,#480,#530,#660,#7b0,#8e0,#9b0,#a30,#a60,#a50,#a00,#980,#8b0,#7e0,#720,#6b0,#6a0,#6e0,#780,#840,#8f0,#970,#990,#960,#8f0,#870,#800,#7b0,#770,#750,#740,#740,#750,#770,#780,#770,#760,#730,#710,#710,#750,#7c0,#850,#900,#990,#a00,#a40,#a30,#9e0,#960,#8c0,#7f0,#6f0,#610,#5b0,#600,#6b0,#750,#7a0)"></i></div></div><div class="cb" style="left:1063.9px;top:1106.0px"></div><div class="hm" style="left:1421.5px;top:1106.0px"><div class="f"><i style="background:linear-gradient(90deg,#900,#980,#a10,#a90,#af0,#b20,#b30,#b00,#aa0,#a20,#980,#8e0,#840,#7a0,#730,#6e0,#690,#650,#5f0,#5b0,#5b0,#5f0,#620,#630,#630,#640,#640,#640,#650,#650,#660,#670,#670,#680,#690,#6a0,#6b0,#6d0,#6f0,#730,#770,#7c0,#820,#890,#900,#960,#9b0,#9f0,#a20,#a20,#a20,#9f0,#9b0,#960,#910,#8b0,#860,#820,#7e0,#7c0,#7b0,#7a0,#7a0,#7a0,#7a0,#7a0,#7a0,#790,#790,#790,#780,#780,#780,#780,#780,#790,#7b0,#7d0,#7f0,#810,#820,#820,#810,#800,#7e0,#7c0,#7b0,#7a0,#790,#790,#790,#790,#7a0,#7a0,#7c0,#7d0,#7f0)"></i><i style="background:linear-gradient(90deg,#900,#980,#a10,#a90,#af0,#b20,#b30,#b00,#aa0,#a20,#980,#8e0,#840,#7a0,#730,#6e0,#690,#650,#5f0,#5b0,#5b0,#5f0,#620,#630,#630,#640,#640,#640,#650,#650,#660,#670,#670,#680,#690,#6a0,#6b0,#6d0,#6f0,#730,#770,#7c0,#820,#890,#900,#960,#9b0,#9f0,#a20,#a20,#a20,#9f0,#9b0,#960,#910,#8b0,#860,#820,#7e0,#7c0,#7b0,#7a0,#7a0,#7a0,#7a0,#7a0,#7a0,#790,#790,#790,#780,#780,#780,#780,#780,#790,#7b0,#7d0,#7f0,#810,#820,#820,#810,#800,#7e0,#7c0,#7b0,#7a0,#790,#790,#790,#790,#7a0,#7a0,#7c0,#7d0,#7f0)"></i><i style="background:linear-gradient(90deg,#910,#9a0,#a30,#ab0,#b10,#b40,#b40,#b10,#ab0,#a20,#980,#8d0,#830,#7a0,#720,#6d0,#680,#630,#5d0,#590,#5a0,#5e0,#620,#630,#630,#630,#630,#640,#640,#650,#660,#660,#670,#680,#680,#6a0,#6b0,#6d0,#6f0,#730,#770,#7d0,#830,#8a0,#910,#970,#9d0,#a00,#a20,#a30,#a20,#9f0,#9b0,#960,#900,#8b0,#860,#810,#7e0,#7c0,#7b0,#7a0,#7a0,#7a0,#7a0,#7a0,#7a0,#790,#790,#780,#780,#780,#770,#770,#780,#790,#7b0,#7d0,#7f0,#810,#820,#820,#820,#800,#7e0,#7c0,#7b0,#7a0,#790,#790,#790,#790,#7a0,#7b0,#7c0,#7e0,#800)"></i><i style="background:linear-gradient(90deg,#980,#a20,#ab0,#b20,#b70,#b90,#b80,#b30,#ac0,#a20,#970,#8b0,#800,#770,#6f0,#6a0,#630,#5b0,#540,#540,#590,#5e0,#610,#610,#610,#620,#620,#630,#630,#640,#640,#650,#650,#660,#670,#680,#6a0,#6c0,#6f0,#740,#790,#800,#870,#8e0,#960,#9c0,#a00,#a30,#a40,#a40,#a20,#9f0,#9a0,#940,#8e0,#880,#840,#800,#7d0,#7b0,#7a0,#7a0,#7a0,#7a0,#7a0,#7a0,#790,#790,#780,#770,#770,#760,#760,#760,#770,#790,#7b0,#7e0,#800,#830,#840,#840,#820,#800,#7e0,#7c0,#7b0,#7a0,#790,#790,#790,#7a0,#7a0,#7c0,#7e0,#800,#830)"></i><i style="background:linear-gradient(90deg,#9f0,#aa0,#b30,#b90,#bd0,#be0,#bb0,#b50,#ac0,#a10,#950,#880,#7d0,#740,#6d0,#650,#5b0,#510,#4d0,#530,#5b0,#5f0,#600,#610,#610,#620,#620,#630,#640,#640,#640,#650,#650,#660,#660,#680,#6a0,#6d0,#700,#760,#7c0,#830,#8b0,#930,#9a0,#a00,#a30,#a50,#a50,#a40,#a10,#9d0,#970,#910,#8b0,#860,#820,#7e0,#7c0,#7b0,#7a0,#7a0,#7a0,#7a0,#7a0,#790,#790,#780,#770,#760,#750,#750,#750,#750,#760,#780,#7b0,#7f0,#820,#840,#850,#850,#830,#810,#7e0,#7c0,#7b0,#7a0,#790,#790,#7a0,#7a0,#7c0,#7e0,#810,#840,#870)"></i><i style="background:linear-gradient(90deg,#a70,#b20,#ba0,#c00,#c20,#c20,#be0,#b60,#ac0,#a00,#930,#860,#7b0,#720,#690,#5d0,#4f0,#480,#4c0,#560,#5e0,#600,#610,#620,#620,#630,#640,#650,#650,#660,#660,#660,#660,#660,#670,#680,#6b0,#6e0,#730,#790,#800,#880,#900,#980,#9e0,#a30,#a50,#a60,#a50,#a30,#9f0,#9a0,#940,#8d0,#880,#830,#800,#7d0,#7b0,#7a0,#7a0,#790,#790,#790,#790,#780,#770,#760,#750,#740,#730,#730,#730,#740,#760,#780,#7c0,#800,#830,#850,#860,#860,#840,#810,#7e0,#7c0,#7b0,#7a0,#790,#7a0,#7a0,#7b0,#7d0,#810,#850,#890,#8d0)"></i><i style="background:linear-gradient(90deg,#af0,#b90,#c10,#c50,#c60,#c50,#bf0,#b70,#ac0,#9e0,#910,#840,#790,#6f0,#610,#500,#430,#440,#500,#5c0,#610,#620,#630,#640,#650,#660,#680,#680,#690,#690,#680,#680,#670,#680,#680,#6a0,#6d0,#710,#760,#7d0,#850,#8d0,#950,#9c0,#a20,#a50,#a60,#a60,#a40,#a00,#9b0,#950,#8f0,#890,#840,#800,#7e0,#7c0,#7a0,#7a0,#790,#790,#790,#780,#780,#770,#750,#740,#730,#710,#710,#710,#710,#730,#750,#790,#7d0,#810,#850,#870,#880,#870,#840,#810,#7e0,#7c0,#7b0,#7a0,#7a0,#7a0,#7b0,#7d0,#800,#850,#8a0,#8f0,#930)"></i><i style="background:linear-gradient(90deg,#b70,#c00,#c70,#ca0,#ca0,#c70,#c00,#b70,#aa0,#9d0,#8f0,#820,#770,#680,#530,#410,#3d0,#480,#580,#610,#640,#650,#670,#680,#6a0,#6c0,#6d0,#6e0,#6e0,#6d0,#6c0,#6b0,#6a0,#6a0,#6b0,#6d0,#700,#750,#7b0,#820,#8a0,#930,#9a0,#a00,#a40,#a60,#a60,#a40,#a10,#9c0,#950,#8f0,#890,#830,#800,#7d0,#7c0,#7a0,#790,#790,#780,#780,#780,#770,#760,#740,#730,#710,#700,#6f0,#6e0,#6e0,#6f0,#720,#750,#790,#7e0,#830,#860,#880,#890,#870,#850,#820,#7e0,#7c0,#7a0,#7a0,#7a0,#7a0,#7c0,#7f0,#840,#8a0,#910,#970,#9b0)"></i><i style="background:linear-gradient(90deg,#be0,#c60,#cb0,#cd0,#cc0,#c80,#c00,#b60,#a80,#9a0,#8d0,#800,#710,#5a0,#410,#360,#3f0,#530,#620,#670,#690,#6a0,#6c0,#6f0,#710,#730,#750,#750,#740,#730,#710,#6f0,#6e0,#6d0,#6e0,#700,#740,#790,#800,#870,#8f0,#970,#9e0,#a40,#a60,#a70,#a50,#a20,#9c0,#950,#8e0,#870,#810,#7e0,#7c0,#7b0,#7a0,#790,#780,#780,#770,#770,#760,#750,#730,#710,#700,#6e0,#6c0,#6c0,#6b0,#6c0,#6e0,#710,#750,#7b0,#800,#850,#880,#8a0,#8a0,#880,#850,#820,#7e0,#7c0,#7a0,#7a0,#7a0,#7c0,#7e0,#830,#890,#910,#990,#9f0,#a30)"></i><i style="background:linear-gradient(90deg,#c40,#cb0,#ce0,#cf0,#cd0,#c80,#bf0,#b40,#a60,#980,#8a0,#7a0,#620,#450,#310,#360,#4b0,#600,#6a0,#6d0,#6f0,#710,#750,#780,#7b0,#7d0,#7e0,#7e0,#7c0,#790,#760,#740,#720,#710,#720,#750,#790,#7e0,#840,#8c0,#940,#9c0,#a20,#a60,#a70,#a60,#a30,#9d0,#960,#8d0,#850,#7f0,#7a0,#780,#780,#780,#780,#770,#760,#760,#750,#740,#730,#720,#700,#6e0,#6c0,#6a0,#690,#690,#690,#6b0,#6d0,#710,#770,#7c0,#820,#870,#8a0,#8b0,#8b0,#890,#850,#810,#7e0,#7c0,#7a0,#7a0,#7b0,#7d0,#810,#880,#900,#990,#a20,#a80,#aa0)"></i><i style="background:linear-gradient(90deg,#c80,#ce0,#d00,#d00,#cd0,#c70,#bd0,#b00,#a20,#940,#850,#6d0,#4b0,#300,#2c0,#410,#5b0,#6b0,#710,#730,#770,#7b0,#7f0,#830,#870,#890,#890,#870,#840,#800,#7c0,#780,#760,#750,#760,#790,#7d0,#820,#880,#900,#980,#9f0,#a50,#a70,#a70,#a40,#9f0,#970,#8e0,#840,#7c0,#760,#720,#720,#740,#750,#750,#750,#740,#730,#730,#720,#700,#6f0,#6d0,#6a0,#680,#670,#660,#670,#680,#6a0,#6e0,#720,#780,#7e0,#840,#890,#8c0,#8c0,#8b0,#890,#850,#810,#7e0,#7b0,#7b0,#7b0,#7c0,#800,#860,#8e0,#980,#a30,#ac0,#b10,#b20)"></i><i style="background:linear-gradient(90deg,#cb0,#d00,#d10,#d00,#cc0,#c40,#b90,#ac0,#9e0,#8f0,#770,#540,#310,#240,#340,#530,#6a0,#730,#770,#7b0,#800,#860,#8c0,#910,#940,#950,#940,#910,#8c0,#860,#810,#7d0,#7a0,#790,#7a0,#7d0,#800,#850,#8c0,#940,#9c0,#a20,#a60,#a70,#a60,#a10,#990,#8f0,#850,#7b0,#730,#6d0,#6b0,#6d0,#700,#720,#720,#720,#710,#700,#6f0,#6e0,#6d0,#6b0,#690,#670,#650,#640,#640,#650,#670,#6a0,#6e0,#740,#7a0,#810,#870,#8b0,#8d0,#8d0,#8c0,#890,#850,#810,#7d0,#7b0,#7b0,#7c0,#7e0,#830,#8b0,#960,#a20,#ad0,#b50,#b90,#b80)"></i><i style="background:linear-gradient(90deg,#cd0,#d00,#d10,#ce0,#c90,#c00,#b40,#a70,#980,#830,#5f0,#350,#1f0,#270,#470,#660,#750,#7a0,#7f0,#850,#8c0,#930,#9a0,#9f0,#a10,#a10,#9f0,#990,#930,#8c0,#850,#800,#7d0,#7c0,#7d0,#7f0,#820,#870,#8e0,#960,#9e0,#a40,#a60,#a60,#a30,#9c0,#920,#870,#7b0,#710,#690,#640,#640,#680,#6c0,#6e0,#6f0,#6f0,#6e0,#6d0,#6c0,#6b0,#6a0,#680,#660,#640,#630,#620,#630,#650,#670,#6b0,#700,#760,#7d0,#830,#890,#8c0,#8e0,#8e0,#8c0,#880,#840,#800,#7d0,#7b0,#7b0,#7d0,#810,#880,#930,#9f0,#ad0,#b80,#bf0,#c10,#be0)"></i><i style="background:linear-gradient(90deg,#ce0,#d00,#cf0,#cc0,#c50,#ba0,#ae0,#a00,#8d0,#6b0,#3d0,#1d0,#1c0,#380,#5d0,#730,#7c0,#810,#880,#900,#990,#a10,#a80,#ad0,#af0,#ad0,#a80,#a00,#980,#8f0,#880,#820,#7f0,#7e0,#7f0,#800,#820,#870,#8f0,#980,#9f0,#a40,#a50,#a40,#9f0,#960,#8b0,#7e0,#730,#680,#610,#5d0,#5f0,#640,#680,#6a0,#6b0,#6b0,#6a0,#6a0,#690,#690,#680,#660,#640,#630,#620,#620,#630,#650,#680,#6d0,#720,#780,#7f0,#860,#8b0,#8e0,#8f0,#8e0,#8c0,#880,#830,#800,#7d0,#7c0,#7c0,#7f0,#850,#8f0,#9c0,#aa0,#b80,#c20,#c70,#c70,#c20)"></i><i style="background:linear-gradient(90deg,#cd0,#ce0,#cc0,#c70,#bf0,#b40,#a70,#960,#770,#480,#1f0,#130,#290,#510,#6f0,#7c0,#820,#890,#920,#9c0,#a70,#b00,#b70,#bb0,#ba0,#b60,#af0,#a60,#9b0,#910,#890,#840,#800,#7f0,#7e0,#7e0,#800,#870,#900,#990,#a00,#a30,#a30,#a00,#990,#8f0,#830,#760,#6a0,#600,#590,#570,#5b0,#600,#640,#660,#670,#670,#670,#670,#670,#670,#670,#650,#640,#620,#610,#620,#630,#660,#6a0,#6f0,#740,#7b0,#820,#880,#8d0,#8f0,#8f0,#8e0,#8b0,#870,#830,#7f0,#7d0,#7c0,#7e0,#830,#8b0,#970,#a60,#b50,#c20,#cb0,#ce0,#cc0,#c40)"></i><i style="background:linear-gradient(90deg,#cb0,#cb0,#c70,#c10,#b80,#ac0,#9d0,#820,#550,#250,#0f0,#1b0,#420,#670,#7a0,#820,#8a0,#930,#9e0,#aa0,#b60,#bf0,#c50,#c70,#c40,#be0,#b40,#a90,#9d0,#920,#890,#840,#800,#7e0,#7b0,#7a0,#7d0,#860,#910,#9a0,#9f0,#a10,#a00,#9c0,#940,#890,#7c0,#6f0,#630,#580,#520,#520,#570,#5c0,#600,#620,#630,#640,#650,#660,#670,#670,#670,#650,#640,#620,#620,#630,#650,#680,#6c0,#710,#770,#7d0,#840,#8a0,#8e0,#8f0,#8f0,#8e0,#8b0,#860,#820,#7f0,#7d0,#7e0,#810,#870,#920,#a00,#b10,#c00,#cc0,#d30,#d30,#cf0,#c40)"></i><i style="background:linear-gradient(90deg,#c70,#c60,#c10,#ba0,#b00,#a30,#8d0,#630,#2f0,#0f0,#100,#310,#5d0,#770,#810,#890,#930,#9f0,#ac0,#b90,#c50,#cd0,#d10,#d10,#cc0,#c30,#b70,#a90,#9c0,#910,#890,#830,#7f0,#7a0,#760,#750,#7b0,#860,#920,#9a0,#9e0,#9f0,#9d0,#970,#8e0,#820,#750,#680,#5b0,#510,#4c0,#4f0,#540,#590,#5c0,#5f0,#610,#620,#650,#670,#680,#690,#680,#670,#650,#640,#630,#640,#670,#6a0,#6e0,#730,#790,#7f0,#860,#8c0,#8f0,#900,#8f0,#8d0,#8a0,#850,#810,#7f0,#7e0,#800,#850,#8d0,#9b0,#ab0,#bc0,#cb0,#d50,#d80,#d70,#d00,#c30)"></i><i style="background:linear-gradient(90deg,#c20,#c00,#ba0,#b20,#a70,#950,#710,#3c0,#130,#0a0,#220,#500,#710,#800,#880,#910,#9d0,#ac0,#bb0,#c80,#d30,#d90,#db0,#d80,#d10,#c50,#b70,#a80,#9a0,#8f0,#870,#810,#7b0,#730,#6e0,#6f0,#790,#870,#930,#9a0,#9d0,#9c0,#990,#930,#890,#7d0,#700,#620,#540,#4a0,#480,#4c0,#520,#560,#590,#5d0,#5f0,#630,#660,#690,#6b0,#6b0,#6a0,#690,#670,#660,#650,#660,#690,#6c0,#700,#740,#7a0,#810,#880,#8d0,#8f0,#900,#8f0,#8c0,#880,#840,#810,#7f0,#7f0,#830,#8a0,#950,#a40,#b60,#c70,#d40,#db0,#dc0,#d80,#cf0,#c00)"></i><i style="background:linear-gradient(90deg,#bc0,#b90,#b20,#a90,#9b0,#7e0,#4c0,#1b0,#090,#160,#410,#690,#7d0,#860,#8f0,#9b0,#aa0,#ba0,#c90,#d60,#df0,#e30,#e20,#dd0,#d30,#c50,#b50,#a50,#970,#8c0,#840,#7d0,#730,#6a0,#660,#6b0,#790,#880,#940,#990,#9b0,#9a0,#960,#8f0,#850,#790,#6b0,#5c0,#4d0,#440,#450,#4c0,#510,#550,#580,#5c0,#600,#650,#690,#6d0,#6f0,#6f0,#6e0,#6c0,#6a0,#680,#670,#680,#6a0,#6d0,#700,#750,#7c0,#830,#890,#8d0,#8f0,#8f0,#8e0,#8b0,#870,#830,#810,#800,#820,#870,#900,#9e0,#af0,#c10,#d10,#dc0,#e00,#de0,#d80,#cc0,#bc0)"></i><i style="background:linear-gradient(90deg,#b50,#b10,#a90,#9f0,#880,#5c0,#270,#0b0,#0f0,#330,#5f0,#790,#840,#8d0,#980,#a70,#b70,#c80,#d70,#e20,#e80,#ea0,#e70,#df0,#d20,#c30,#b10,#a10,#930,#890,#800,#760,#690,#5f0,#5e0,#690,#7b0,#8b0,#940,#980,#990,#970,#930,#8b0,#810,#750,#670,#550,#460,#410,#450,#4c0,#510,#540,#590,#5e0,#630,#690,#6e0,#720,#730,#730,#720,#6f0,#6d0,#6a0,#680,#680,#690,#6c0,#6f0,#750,#7d0,#850,#8a0,#8d0,#8f0,#8f0,#8d0,#8a0,#860,#830,#810,#820,#850,#8c0,#980,#a80,#ba0,#cc0,#da0,#e10,#e20,#df0,#d60,#c80,#b60)"></i><i style="background:linear-gradient(90deg,#ae0,#a80,#a00,#900,#6b0,#360,#100,#0c0,#270,#550,#740,#820,#8a0,#950,#a30,#b40,#c50,#d60,#e30,#eb0,#ef0,#ee0,#e80,#de0,#cf0,#be0,#ac0,#9c0,#8f0,#840,#790,#6b0,#5c0,#540,#5a0,#6b0,#7f0,#8d0,#950,#980,#980,#960,#900,#880,#7e0,#720,#620,#4e0,#410,#400,#470,#4e0,#520,#560,#5b0,#610,#680,#6e0,#740,#780,#790,#790,#770,#730,#6f0,#6b0,#680,#670,#670,#690,#6d0,#740,#7e0,#860,#8b0,#8d0,#8e0,#8e0,#8c0,#890,#860,#830,#820,#850,#8a0,#930,#a10,#b20,#c50,#d60,#e10,#e50,#e40,#de0,#d20,#c20,#ae0)"></i><i style="background:linear-gradient(90deg,#a60,#a00,#940,#790,#480,#1b0,#0c0,#1e0,#490,#6f0,#800,#880,#920,#9f0,#af0,#c10,#d30,#e20,#ec0,#f10,#f20,#ef0,#e70,#da0,#ca0,#b70,#a50,#960,#8a0,#7e0,#6f0,#5d0,#4e0,#4c0,#590,#6f0,#830,#900,#960,#980,#970,#940,#8e0,#860,#7c0,#6e0,#5b0,#470,#3e0,#420,#4b0,#500,#540,#590,#5f0,#660,#6e0,#750,#7b0,#7f0,#800,#7f0,#7b0,#760,#700,#6a0,#660,#630,#630,#640,#6a0,#740,#7f0,#860,#8b0,#8d0,#8d0,#8d0,#8b0,#880,#850,#840,#850,#890,#900,#9b0,#ab0,#bd0,#cf0,#de0,#e60,#e70,#e40,#db0,#cd0,#ba0,#a60)"></i><i style="background:linear-gradient(90deg,#9e0,#960,#820,#590,#290,#100,#180,#3f0,#680,#7e0,#870,#8f0,#9b0,#aa0,#bc0,#ce0,#df0,#eb0,#f20,#f50,#f30,#ee0,#e30,#d40,#c20,#af0,#9e0,#900,#840,#750,#610,#4d0,#430,#490,#5d0,#760,#880,#920,#970,#980,#970,#930,#8d0,#840,#790,#690,#530,#400,#3d0,#460,#4f0,#530,#570,#5d0,#650,#6d0,#760,#7e0,#840,#880,#880,#850,#800,#790,#700,#680,#620,#5d0,#5b0,#5e0,#680,#750,#800,#870,#8a0,#8c0,#8d0,#8c0,#8a0,#870,#860,#860,#880,#8e0,#970,#a50,#b50,#c80,#d80,#e40,#e90,#e80,#e10,#d60,#c50,#b10,#9e0)"></i><i style="background:linear-gradient(90deg,#960,#880,#680,#390,#190,#180,#360,#600,#7b0,#860,#8e0,#980,#a60,#b60,#c90,#da0,#e90,#f20,#f60,#f60,#f20,#ea0,#dd0,#cb0,#b80,#a60,#960,#890,#7b0,#680,#510,#3f0,#3c0,#4a0,#640,#7d0,#8d0,#950,#990,#990,#970,#920,#8b0,#820,#750,#610,#490,#3c0,#400,#4c0,#530,#570,#5c0,#630,#6c0,#760,#800,#880,#8e0,#900,#8f0,#8b0,#830,#790,#6e0,#630,#5b0,#550,#520,#580,#670,#760,#810,#860,#8a0,#8b0,#8b0,#8b0,#890,#880,#870,#890,#8d0,#950,#a00,#af0,#c00,#d10,#e00,#e80,#ea0,#e60,#dd0,#ce0,#bc0,#a80,#940)"></i><i style="background:linear-gradient(90deg,#8c0,#740,#4b0,#250,#1b0,#310,#590,#770,#850,#8d0,#960,#a20,#b10,#c30,#d50,#e40,#f00,#f60,#f70,#f50,#ef0,#e30,#d30,#c10,#ae0,#9d0,#8f0,#820,#700,#580,#400,#340,#3a0,#510,#6e0,#850,#910,#980,#9b0,#9b0,#980,#920,#8a0,#7f0,#700,#570,#410,#3a0,#450,#520,#580,#5c0,#620,#6b0,#750,#810,#8b0,#930,#980,#990,#960,#8f0,#840,#770,#690,#5d0,#520,#4a0,#480,#540,#680,#780,#810,#860,#890,#8a0,#8b0,#8a0,#890,#890,#8a0,#8d0,#940,#9d0,#a90,#b80,#c90,#d90,#e50,#ea0,#e90,#e20,#d60,#c50,#b20,#9d0,#890)"></i><i style="background:linear-gradient(90deg,#7d0,#5c0,#350,#220,#2f0,#520,#740,#850,#8d0,#950,#9f0,#ad0,#bd0,#cf0,#df0,#ec0,#f50,#f80,#f60,#f10,#e80,#da0,#c80,#b50,#a40,#940,#870,#780,#610,#450,#320,#2f0,#3e0,#5b0,#780,#8b0,#950,#9b0,#9d0,#9c0,#980,#920,#880,#7c0,#680,#4c0,#3a0,#3d0,#4c0,#580,#5d0,#620,#6a0,#740,#800,#8d0,#970,#9f0,#a20,#a10,#9b0,#910,#830,#730,#630,#540,#470,#3d0,#410,#530,#6a0,#790,#810,#860,#880,#8a0,#8a0,#8a0,#8a0,#8b0,#8e0,#930,#9b0,#a50,#b30,#c20,#d10,#df0,#e80,#ea0,#e60,#dc0,#cd0,#bb0,#a60,#900,#7d0)"></i><i style="background:linear-gradient(90deg,#6a0,#460,#2d0,#300,#4e0,#700,#840,#8d0,#950,#9e0,#aa0,#b90,#c90,#d90,#e80,#f20,#f70,#f70,#f30,#eb0,#de0,#ce0,#bc0,#aa0,#9a0,#8c0,#7f0,#6c0,#500,#350,#290,#2f0,#470,#680,#820,#910,#990,#9e0,#a00,#9e0,#990,#910,#870,#770,#5d0,#410,#370,#420,#540,#5e0,#630,#6a0,#730,#7f0,#8d0,#9a0,#a40,#a90,#aa0,#a70,#9e0,#910,#810,#6e0,#5b0,#4a0,#390,#310,#3d0,#560,#6d0,#7a0,#810,#850,#880,#890,#8a0,#8b0,#8c0,#8f0,#930,#9a0,#a30,#ae0,#bc0,#ca0,#d80,#e30,#e80,#e70,#e00,#d30,#c20,#af0,#980,#820,#710)"></i><i style="background:linear-gradient(90deg,#560,#3a0,#350,#4b0,#6c0,#830,#8e0,#960,#9e0,#a90,#b60,#c50,#d40,#e20,#ee0,#f40,#f60,#f30,#ec0,#e10,#d20,#c00,#af0,#9e0,#910,#850,#750,#5c0,#3d0,#280,#260,#350,#540,#740,#8a0,#960,#9d0,#a20,#a20,#9f0,#990,#910,#840,#6f0,#500,#380,#380,#4a0,#5c0,#640,#6a0,#720,#7e0,#8c0,#9a0,#a60,#af0,#b30,#b10,#ab0,#9f0,#900,#7c0,#670,#530,#3d0,#2b0,#290,#3d0,#5a0,#700,#7b0,#810,#850,#870,#890,#8b0,#8d0,#8f0,#940,#9a0,#a20,#ac0,#b70,#c40,#d10,#dc0,#e40,#e60,#e10,#d70,#c80,#b60,#a10,#880,#720,#680)"></i><i style="background:linear-gradient(90deg,#480,#3e0,#4c0,#690,#810,#8e0,#960,#9f0,#a90,#b40,#c10,#d00,#dd0,#e90,#f10,#f40,#f20,#ec0,#e20,#d40,#c40,#b30,#a30,#950,#890,#7c0,#680,#4a0,#2e0,#220,#280,#410,#630,#7f0,#900,#9b0,#a20,#a50,#a50,#a10,#9a0,#900,#800,#640,#430,#340,#3d0,#540,#630,#6b0,#720,#7c0,#8a0,#990,#a70,#b20,#b90,#ba0,#b60,#ad0,#9f0,#8d0,#770,#600,#470,#2e0,#1e0,#260,#430,#600,#730,#7c0,#820,#850,#880,#8a0,#8d0,#900,#940,#9a0,#a20,#ab0,#b40,#bf0,#cb0,#d60,#de0,#e20,#e10,#d90,#cd0,#bd0,#a80,#900,#760,#650,#640)"></i><i style="background:linear-gradient(90deg,#470,#4e0,#670,#7f0,#8e0,#970,#a00,#a90,#b40,#c00,#cd0,#d90,#e50,#ed0,#f10,#f10,#ec0,#e20,#d50,#c60,#b60,#a60,#980,#8c0,#820,#720,#580,#380,#240,#210,#300,#500,#710,#880,#960,#a00,#a60,#a80,#a70,#a20,#9a0,#8e0,#790,#570,#390,#340,#460,#5e0,#6b0,#720,#7a0,#870,#960,#a50,#b30,#bd0,#c10,#c00,#b90,#ad0,#9d0,#880,#710,#570,#390,#1d0,#160,#2a0,#4b0,#660,#750,#7d0,#820,#860,#890,#8c0,#900,#950,#9b0,#a20,#aa0,#b30,#bc0,#c60,#cf0,#d80,#de0,#de0,#da0,#d00,#c10,#af0,#980,#7c0,#640,#5c0,#650)"></i><i style="background:linear-gradient(90deg,#530,#660,#7d0,#8e0,#980,#a10,#aa0,#b40,#bf0,#cb0,#d60,#e10,#ea0,#ee0,#ef0,#eb0,#e20,#d60,#c70,#b80,#a80,#9b0,#8f0,#860,#7a0,#650,#470,#2b0,#200,#250,#3d0,#600,#7d0,#8f0,#9b0,#a40,#aa0,#ab0,#a90,#a30,#9a0,#8b0,#6e0,#490,#330,#380,#520,#670,#710,#790,#840,#920,#a20,#b10,#be0,#c50,#c70,#c40,#bb0,#ac0,#9a0,#840,#6a0,#4b0,#270,#0f0,#140,#330,#550,#6b0,#780,#7f0,#830,#870,#8b0,#900,#950,#9b0,#a30,#ab0,#b30,#bb0,#c30,#cb0,#d20,#d80,#db0,#d80,#d10,#c50,#b50,#9f0,#830,#650,#560,#5a0,#6a0)"></i><i style="background:linear-gradient(90deg,#660,#7b0,#8c0,#980,#a10,#ab0,#b50,#bf0,#ca0,#d50,#df0,#e70,#ec0,#ed0,#e90,#e20,#d60,#c80,#b90,#aa0,#9c0,#910,#890,#800,#710,#570,#370,#230,#200,#2e0,#4e0,#6e0,#850,#940,#a00,#a90,#ad0,#ae0,#ab0,#a40,#990,#840,#610,#3d0,#310,#410,#5e0,#6f0,#780,#810,#8d0,#9d0,#ad0,#bc0,#c70,#cc0,#cc0,#c60,#ba0,#aa0,#960,#7e0,#610,#3a0,#140,#070,#1b0,#410,#5f0,#700,#7a0,#800,#850,#8a0,#8f0,#950,#9b0,#a30,#ab0,#b30,#bb0,#c20,#c80,#ce0,#d30,#d70,#d60,#d00,#c60,#b80,#a60,#8c0,#6b0,#510,#4e0,#5e0,#700)"></i><i style="background:linear-gradient(90deg,#790,#8a0,#970,#a10,#ab0,#b50,#c00,#ca0,#d40,#dd0,#e40,#e90,#eb0,#e80,#e10,#d70,#c90,#ba0,#ab0,#9e0,#930,#8b0,#830,#790,#660,#480,#2c0,#200,#260,#3d0,#5e0,#790,#8c0,#9a0,#a50,#ad0,#b10,#b00,#ac0,#a40,#960,#7a0,#520,#350,#340,#4d0,#690,#760,#7e0,#890,#970,#a80,#b80,#c60,#cf0,#d20,#cf0,#c60,#b90,#a70,#920,#780,#540,#260,#050,#080,#290,#4f0,#670,#750,#7d0,#830,#880,#8e0,#940,#9c0,#a30,#ac0,#b40,#bc0,#c20,#c70,#cb0,#cf0,#d20,#d30,#cf0,#c70,#bb0,#ab0,#940,#720,#520,#440,#4f0,#660,#760)"></i><i style="background:linear-gradient(90deg,#880,#950,#9f0,#aa0,#b50,#c00,#ca0,#d40,#dc0,#e30,#e80,#e90,#e70,#e10,#d80,#cb0,#bc0,#ad0,#9f0,#940,#8c0,#860,#7f0,#720,#590,#3b0,#260,#230,#310,#4e0,#6c0,#820,#910,#9e0,#a90,#b10,#b30,#b20,#ad0,#a30,#900,#6d0,#440,#310,#3c0,#5a0,#710,#7c0,#850,#910,#a10,#b20,#c20,#ce0,#d50,#d50,#d00,#c50,#b60,#a30,#8c0,#6e0,#410,#130,#000,#130,#3b0,#5c0,#6e0,#790,#810,#870,#8d0,#940,#9c0,#a40,#ad0,#b50,#bd0,#c30,#c70,#ca0,#cd0,#cf0,#d00,#cd0,#c70,#bd0,#af0,#9b0,#7c0,#560,#3e0,#400,#570,#6f0,#7b0)"></i><i style="background:linear-gradient(90deg,#920,#9d0,#a80,#b40,#bf0,#ca0,#d30,#db0,#e20,#e70,#e80,#e70,#e20,#d90,#cc0,#be0,#ae0,#a00,#950,#8d0,#870,#830,#7a0,#690,#4d0,#320,#250,#2a0,#400,#5e0,#760,#870,#960,#a30,#ae0,#b40,#b50,#b30,#ad0,#a00,#870,#5c0,#390,#320,#480,#670,#780,#810,#8b0,#990,#aa0,#bc0,#cb0,#d50,#d90,#d80,#d00,#c30,#b20,#9e0,#850,#600,#2b0,#040,#020,#250,#4e0,#670,#750,#7e0,#850,#8c0,#930,#9b0,#a40,#ad0,#b60,#be0,#c50,#c90,#cb0,#cc0,#cd0,#cd0,#cb0,#c60,#bd0,#b20,#a10,#860,#5f0,#3d0,#340,#460,#630,#770,#7e0)"></i><i style="background:linear-gradient(90deg,#9a0,#a50,#b10,#bd0,#c90,#d20,#da0,#e10,#e50,#e80,#e70,#e30,#db0,#cf0,#c10,#b10,#a20,#960,#8d0,#880,#850,#800,#750,#5f0,#420,#2e0,#2a0,#370,#510,#6a0,#7d0,#8c0,#9a0,#a80,#b10,#b60,#b70,#b30,#ac0,#9b0,#790,#4c0,#330,#370,#550,#700,#7d0,#860,#920,#a20,#b40,#c50,#d20,#da0,#dc0,#d90,#cf0,#c00,#ae0,#990,#7a0,#4a0,#160,#000,#100,#3b0,#5e0,#700,#7b0,#830,#8b0,#930,#9b0,#a50,#ae0,#b80,#c00,#c70,#cc0,#ce0,#cd0,#cd0,#cc0,#ca0,#c50,#be0,#b30,#a60,#8f0,#6a0,#410,#2b0,#340,#520,#6f0,#7c0,#800)"></i><i style="background:linear-gradient(90deg,#a10,#ad0,#ba0,#c60,#d10,#d90,#e00,#e40,#e70,#e70,#e40,#dd0,#d20,#c40,#b50,#a50,#980,#8e0,#890,#860,#840,#7e0,#6e0,#550,#3c0,#2f0,#330,#460,#5e0,#720,#810,#900,#9f0,#ac0,#b40,#b80,#b80,#b30,#a90,#920,#680,#3f0,#320,#410,#620,#780,#820,#8b0,#990,#aa0,#bd0,#cd0,#d80,#de0,#de0,#d80,#cd0,#bc0,#a90,#910,#690,#310,#070,#030,#250,#510,#6b0,#780,#810,#890,#920,#9b0,#a50,#af0,#b90,#c20,#ca0,#ce0,#d10,#d00,#ce0,#cc0,#c90,#c50,#be0,#b50,#a90,#970,#770,#4a0,#280,#250,#3f0,#620,#780,#800,#830)"></i><i style="background:linear-gradient(90deg,#a80,#b50,#c20,#cd0,#d70,#de0,#e30,#e60,#e60,#e40,#de0,#d50,#c90,#ba0,#aa0,#9a0,#8f0,#880,#860,#850,#830,#7a0,#670,#4e0,#3b0,#360,#400,#550,#680,#770,#850,#940,#a30,#af0,#b70,#b90,#b80,#b20,#a40,#850,#570,#370,#340,#4e0,#6d0,#7d0,#860,#910,#a10,#b30,#c50,#d40,#dd0,#e10,#df0,#d70,#c90,#b80,#a20,#840,#510,#1a0,#020,#120,#3e0,#630,#750,#7f0,#880,#910,#9b0,#a50,#b00,#ba0,#c40,#cc0,#d20,#d40,#d40,#d10,#cd0,#c90,#c50,#be0,#b60,#ab0,#9d0,#830,#570,#2d0,#1b0,#2b0,#500,#700,#7e0,#830,#850)"></i><i style="background:linear-gradient(90deg,#af0,#bc0,#c90,#d30,#db0,#e10,#e40,#e50,#e40,#e00,#d80,#cd0,#bf0,#af0,#9e0,#910,#880,#850,#860,#860,#830,#770,#610,#4b0,#3e0,#400,#4e0,#600,#6e0,#7a0,#880,#980,#a70,#b20,#b90,#ba0,#b70,#af0,#9c0,#740,#470,#330,#3c0,#5c0,#750,#810,#8a0,#970,#a90,#bc0,#cd0,#da0,#e10,#e20,#de0,#d50,#c50,#b20,#990,#700,#350,#0a0,#060,#280,#560,#710,#7d0,#860,#900,#9a0,#a50,#b00,#bb0,#c50,#ce0,#d50,#d80,#d80,#d50,#d10,#cb0,#c60,#bf0,#b70,#ad0,#a10,#8c0,#670,#360,#180,#1a0,#3b0,#620,#790,#820,#860,#880)"></i><i style="background:linear-gradient(90deg,#b50,#c30,#ce0,#d70,#de0,#e20,#e30,#e30,#e10,#da0,#d00,#c40,#b40,#a30,#940,#890,#840,#840,#870,#870,#820,#720,#5d0,#4b0,#450,#4c0,#5a0,#670,#710,#7d0,#8b0,#9c0,#aa0,#b50,#ba0,#ba0,#b60,#ab0,#900,#620,#3c0,#330,#470,#680,#7b0,#840,#8f0,#9e0,#b10,#c40,#d40,#df0,#e30,#e30,#dd0,#d10,#c00,#aa0,#8b0,#550,#1d0,#040,#140,#420,#690,#7b0,#840,#8e0,#990,#a40,#b00,#bc0,#c70,#d00,#d70,#dc0,#dc0,#da0,#d50,#ce0,#c80,#c00,#b80,#af0,#a40,#940,#750,#450,#1b0,#100,#250,#500,#710,#800,#850,#890,#8b0)"></i><i style="background:linear-gradient(90deg,#bb0,#c70,#d20,#da0,#df0,#e10,#e20,#e00,#dc0,#d30,#c80,#ba0,#a90,#980,#8b0,#830,#820,#850,#890,#880,#800,#6f0,#5c0,#500,#4f0,#580,#620,#6a0,#730,#7f0,#8f0,#9f0,#ae0,#b70,#ba0,#b90,#b30,#a30,#800,#500,#360,#370,#550,#710,#7f0,#880,#950,#a50,#b90,#cb0,#da0,#e20,#e50,#e20,#da0,#cc0,#b90,#a00,#750,#380,#0c0,#070,#2a0,#5a0,#770,#830,#8c0,#970,#a30,#b00,#bc0,#c80,#d20,#da0,#df0,#e00,#de0,#d90,#d20,#cb0,#c20,#ba0,#b00,#a60,#990,#820,#570,#250,#0d0,#140,#3a0,#640,#7b0,#840,#890,#8d0,#8f0)"></i><i style="background:linear-gradient(90deg,#bf0,#ca0,#d40,#db0,#de0,#e00,#df0,#dc0,#d50,#cb0,#bf0,#af0,#9e0,#8e0,#830,#7f0,#820,#880,#8c0,#890,#7f0,#6e0,#5e0,#570,#590,#600,#660,#6c0,#740,#820,#920,#a30,#b00,#b80,#ba0,#b80,#af0,#990,#6d0,#430,#330,#410,#620,#780,#820,#8c0,#9b0,#ad0,#c10,#d20,#de0,#e40,#e50,#e10,#d70,#c70,#b10,#900,#590,#1e0,#060,#140,#440,#6d0,#800,#8a0,#950,#a10,#af0,#bc0,#c80,#d30,#db0,#e10,#e40,#e30,#de0,#d70,#ce0,#c50,#bc0,#b20,#a80,#9d0,#8c0,#680,#350,#0f0,#0a0,#250,#520,#730,#810,#880,#8d0,#910,#930)"></i><i style="background:linear-gradient(90deg,#c10,#cc0,#d40,#da0,#dd0,#dd0,#db0,#d60,#cd0,#c20,#b40,#a30,#920,#840,#7d0,#7e0,#840,#8b0,#8f0,#8a0,#7e0,#6e0,#630,#5f0,#610,#640,#670,#6c0,#760,#840,#960,#a60,#b20,#b90,#ba0,#b60,#a90,#8a0,#5b0,#3a0,#360,#4e0,#6c0,#7c0,#850,#910,#a10,#b50,#c80,#d80,#e20,#e50,#e50,#de0,#d20,#c00,#a60,#7a0,#3a0,#0e0,#090,#2a0,#5c0,#7b0,#880,#920,#9f0,#ad0,#bb0,#c80,#d30,#dd0,#e30,#e70,#e70,#e30,#db0,#d20,#c80,#be0,#b40,#aa0,#9f0,#920,#780,#480,#190,#060,#130,#3d0,#680,#7d0,#860,#8c0,#910,#950,#970)"></i><i style="background:linear-gradient(90deg,#c30,#cc0,#d30,#d80,#d90,#d80,#d40,#ce0,#c40,#b80,#a90,#970,#860,#7b0,#790,#7e0,#880,#900,#910,#8b0,#7e0,#710,#690,#660,#660,#660,#670,#6d0,#780,#870,#990,#a90,#b40,#b90,#b80,#b20,#9f0,#790,#4c0,#360,#3d0,#5b0,#740,#7f0,#890,#960,#a80,#bc0,#ce0,#dc0,#e40,#e50,#e30,#db0,#cc0,#b70,#960,#5d0,#210,#080,#150,#450,#700,#840,#8f0,#9c0,#aa0,#b80,#c60,#d30,#dd0,#e40,#e90,#ea0,#e70,#e00,#d70,#cc0,#c00,#b60,#ab0,#a10,#960,#830,#5c0,#280,#090,#080,#280,#570,#760,#830,#8a0,#910,#960,#9a0,#9b0)"></i><i style="background:linear-gradient(90deg,#c20,#ca0,#d00,#d40,#d40,#d20,#cd0,#c50,#ba0,#ad0,#9c0,#8a0,#7b0,#750,#780,#810,#8d0,#940,#930,#8c0,#800,#750,#6f0,#6b0,#670,#650,#660,#6d0,#7a0,#8a0,#9c0,#ab0,#b50,#b90,#b60,#ac0,#930,#680,#410,#360,#490,#670,#790,#820,#8d0,#9c0,#af0,#c30,#d40,#e00,#e50,#e50,#e10,#d60,#c50,#ac0,#7f0,#400,#110,#0b0,#2c0,#5e0,#7e0,#8c0,#980,#a60,#b50,#c40,#d10,#dc0,#e50,#ea0,#ec0,#ea0,#e40,#db0,#d00,#c40,#b80,#ad0,#a30,#990,#8b0,#6e0,#3c0,#110,#050,#160,#430,#6b0,#7f0,#880,#8f0,#960,#9c0,#9f0,#9f0)"></i><i style="background:linear-gradient(90deg,#c00,#c70,#cc0,#ce0,#cd0,#ca0,#c30,#bb0,#af0,#a00,#8f0,#7d0,#720,#710,#790,#860,#920,#980,#950,#8d0,#820,#790,#720,#6c0,#670,#640,#660,#6e0,#7c0,#8e0,#9f0,#ad0,#b60,#b80,#b30,#a50,#840,#570,#3a0,#3c0,#560,#6f0,#7c0,#850,#920,#a20,#b60,#c90,#d80,#e20,#e50,#e40,#dd0,#d00,#bc0,#9c0,#640,#270,#0b0,#180,#470,#720,#870,#940,#a10,#b10,#c10,#cf0,#db0,#e40,#ea0,#ee0,#ed0,#e80,#df0,#d40,#c70,#ba0,#af0,#a40,#9a0,#8f0,#7b0,#520,#200,#060,#0b0,#2f0,#5d0,#780,#840,#8c0,#940,#9c0,#a20,#a40,#a30)"></i><i style="background:linear-gradient(90deg,#bd0,#c20,#c60,#c70,#c50,#c00,#b90,#b00,#a30,#930,#810,#720,#6c0,#700,#7d0,#8c0,#970,#9b0,#970,#8f0,#850,#7d0,#740,#6b0,#640,#620,#660,#700,#7f0,#910,#a20,#af0,#b60,#b60,#ae0,#9b0,#740,#4b0,#390,#460,#610,#740,#7e0,#880,#960,#a80,#bc0,#ce0,#db0,#e30,#e40,#e10,#d80,#c80,#b00,#860,#470,#170,#0f0,#2f0,#600,#800,#8f0,#9c0,#ac0,#bc0,#cb0,#d90,#e30,#ea0,#ee0,#ef0,#eb0,#e40,#d80,#cb0,#bd0,#b10,#a50,#9b0,#920,#840,#650,#340,#0e0,#060,#1e0,#4c0,#700,#800,#890,#910,#9a0,#a20,#a70,#a90,#a60)"></i><i style="background:linear-gradient(90deg,#b80,#bc0,#bf0,#be0,#bb0,#b60,#af0,#a40,#970,#850,#740,#690,#680,#720,#830,#930,#9c0,#9e0,#990,#910,#880,#7e0,#730,#690,#620,#610,#660,#720,#820,#940,#a50,#b00,#b50,#b30,#a80,#8e0,#640,#430,#3d0,#510,#6a0,#770,#800,#8c0,#9c0,#ae0,#c20,#d20,#de0,#e30,#e30,#dd0,#d20,#bf0,#a10,#6c0,#2f0,#120,#1d0,#4b0,#740,#890,#970,#a60,#b60,#c70,#d50,#e10,#e80,#ed0,#f00,#ee0,#e70,#dc0,#cf0,#c10,#b30,#a70,#9c0,#930,#890,#740,#4a0,#1d0,#080,#120,#3a0,#640,#7b0,#850,#8d0,#970,#a10,#a90,#ad0,#ad0,#a90)"></i><i style="background:linear-gradient(90deg,#b20,#b50,#b60,#b50,#b10,#ac0,#a40,#990,#890,#770,#680,#620,#680,#770,#8a0,#990,#a00,#a00,#9b0,#930,#890,#7d0,#710,#660,#600,#610,#680,#740,#860,#980,#a80,#b10,#b40,#af0,#a00,#800,#570,#400,#450,#5d0,#6f0,#790,#830,#900,#a10,#b40,#c70,#d60,#df0,#e20,#e00,#d80,#ca0,#b40,#8c0,#510,#200,#170,#350,#640,#820,#910,#9f0,#af0,#c00,#d00,#dd0,#e70,#ec0,#ef0,#ef0,#ea0,#e00,#d30,#c50,#b60,#a90,#9e0,#940,#8c0,#7e0,#5f0,#310,#100,#0d0,#2a0,#560,#740,#810,#890,#930,#9d0,#a80,#af0,#b30,#b10,#ac0)"></i><i style="background:linear-gradient(90deg,#ab0,#ad0,#ad0,#ab0,#a70,#a10,#990,#8d0,#7c0,#6a0,#5f0,#5f0,#6a0,#7e0,#910,#9f0,#a40,#a20,#9c0,#930,#880,#7b0,#6d0,#630,#5e0,#610,#690,#770,#890,#9b0,#aa0,#b10,#b20,#aa0,#960,#710,#4e0,#410,#4f0,#650,#720,#7b0,#860,#940,#a60,#b90,#cb0,#d80,#df0,#e00,#dc0,#d20,#c10,#a50,#740,#3a0,#1c0,#270,#500,#760,#8b0,#990,#a80,#b90,#ca0,#d90,#e40,#eb0,#ee0,#ef0,#ec0,#e40,#d80,#c90,#ba0,#ab0,#9f0,#950,#8d0,#840,#6e0,#470,#1e0,#0f0,#1f0,#470,#6a0,#7c0,#850,#8e0,#990,#a40,#af0,#b60,#b80,#b50,#ae0)"></i><i style="background:linear-gradient(90deg,#a40,#a50,#a40,#a20,#9e0,#980,#8e0,#800,#6e0,#5f0,#590,#5f0,#700,#860,#990,#a40,#a60,#a30,#9d0,#930,#860,#770,#690,#600,#5d0,#610,#6b0,#7b0,#8d0,#9f0,#ab0,#b10,#af0,#a40,#8a0,#640,#490,#470,#590,#6b0,#740,#7d0,#890,#990,#ab0,#be0,#ce0,#d90,#de0,#dd0,#d60,#ca0,#b60,#930,#5c0,#2d0,#220,#3e0,#680,#830,#920,#a10,#b10,#c30,#d30,#e00,#e90,#ed0,#ef0,#ed0,#e70,#dc0,#cd0,#be0,#ae0,#a10,#960,#8e0,#860,#790,#5b0,#310,#160,#1a0,#390,#600,#770,#810,#890,#930,#a00,#ac0,#b60,#bc0,#bc0,#b80,#af0)"></i><i style="background:linear-gradient(90deg,#9d0,#9d0,#9c0,#990,#950,#8e0,#830,#730,#620,#570,#570,#630,#770,#8e0,#9f0,#a70,#a80,#a40,#9d0,#910,#820,#720,#650,#5e0,#5d0,#630,#6e0,#7f0,#910,#a20,#ac0,#b00,#ab0,#9c0,#7e0,#5b0,#490,#500,#620,#6e0,#750,#7f0,#8c0,#9d0,#b00,#c20,#d00,#d80,#db0,#d90,#d00,#c10,#a90,#7d0,#480,#290,#320,#570,#790,#8c0,#990,#a90,#ba0,#cc0,#db0,#e50,#ec0,#ef0,#ee0,#e90,#e00,#d20,#c20,#b20,#a40,#980,#8f0,#880,#7f0,#6b0,#470,#240,#1a0,#2f0,#540,#700,#7d0,#850,#8e0,#990,#a70,#b30,#bd0,#c10,#c00,#ba0,#af0)"></i><i style="background:linear-gradient(90deg,#960,#950,#940,#910,#8d0,#850,#780,#670,#580,#520,#580,#690,#800,#970,#a40,#a90,#a90,#a40,#9b0,#8e0,#7e0,#6e0,#620,#5c0,#5d0,#650,#720,#830,#950,#a40,#ad0,#ad0,#a60,#930,#720,#550,#4d0,#580,#670,#6f0,#760,#810,#900,#a20,#b40,#c40,#d00,#d70,#d80,#d30,#c80,#b70,#980,#680,#3c0,#300,#480,#6c0,#840,#930,#a10,#b20,#c30,#d30,#e10,#e90,#ed0,#ee0,#eb0,#e30,#d60,#c70,#b60,#a70,#9a0,#900,#890,#830,#760,#5b0,#370,#220,#2a0,#490,#690,#790,#810,#880,#930,#a00,#ae0,#bb0,#c30,#c60,#c30,#bb0,#af0)"></i><i style="background:linear-gradient(90deg,#8f0,#8f0,#8d0,#8a0,#850,#7c0,#6d0,#5b0,#500,#500,#5b0,#710,#8a0,#9e0,#a80,#ab0,#a90,#a30,#980,#890,#790,#690,#5f0,#5b0,#5e0,#670,#760,#880,#990,#a60,#ac0,#ab0,#a00,#880,#690,#530,#530,#600,#6a0,#700,#780,#840,#940,#a50,#b70,#c60,#d00,#d50,#d30,#cd0,#c00,#aa0,#850,#560,#390,#3f0,#5f0,#7b0,#8c0,#990,#a90,#ba0,#cb0,#da0,#e50,#eb0,#ee0,#ec0,#e50,#da0,#cb0,#bb0,#ab0,#9d0,#920,#8a0,#840,#7d0,#6b0,#4b0,#300,#2b0,#410,#600,#750,#7e0,#840,#8d0,#990,#a80,#b60,#c20,#c90,#ca0,#c60,#bc0,#ae0)"></i><i style="background:linear-gradient(90deg,#8a0,#890,#870,#840,#7e0,#730,#620,#520,#4c0,#510,#620,#7a0,#930,#a30,#aa0,#ab0,#a80,#a10,#950,#850,#740,#660,#5d0,#5b0,#600,#6a0,#7a0,#8c0,#9c0,#a70,#ab0,#a70,#990,#7f0,#620,#550,#5a0,#640,#6b0,#700,#790,#870,#970,#a90,#b90,#c70,#cf0,#d10,#ce0,#c50,#b60,#9c0,#730,#4c0,#400,#530,#710,#850,#930,#a10,#b10,#c20,#d20,#df0,#e80,#ec0,#ec0,#e60,#dd0,#cf0,#bf0,#af0,#a00,#940,#8c0,#860,#800,#750,#5e0,#400,#320,#3d0,#590,#700,#7c0,#810,#870,#920,#a00,#af0,#be0,#c90,#ce0,#ce0,#c70,#bc0,#ad0)"></i><i style="background:linear-gradient(90deg,#850,#840,#830,#7f0,#770,#690,#570,#4c0,#4b0,#550,#6a0,#840,#9a0,#a70,#ab0,#ab0,#a70,#9e0,#900,#800,#6f0,#620,#5c0,#5c0,#620,#6f0,#7f0,#910,#9f0,#a70,#a80,#a20,#910,#760,#5f0,#590,#600,#670,#6b0,#710,#7b0,#890,#9a0,#ac0,#bb0,#c60,#cc0,#cd0,#c70,#bd0,#ab0,#8c0,#640,#4a0,#4e0,#670,#7e0,#8d0,#990,#a80,#b90,#c90,#d80,#e30,#e90,#ea0,#e70,#df0,#d30,#c40,#b30,#a40,#970,#8d0,#870,#820,#7c0,#6c0,#530,#3e0,#3f0,#530,#6b0,#790,#7f0,#830,#8b0,#980,#a70,#b70,#c50,#cf0,#d20,#d00,#c80,#bb0,#ab0)"></i><i style="background:linear-gradient(90deg,#820,#810,#7f0,#7a0,#6f0,#5f0,#4f0,#480,#4c0,#5b0,#740,#8e0,#a00,#a90,#ac0,#aa0,#a50,#9a0,#8b0,#7a0,#6b0,#600,#5b0,#5d0,#650,#730,#840,#950,#a10,#a60,#a50,#9c0,#890,#6f0,#5f0,#5e0,#640,#680,#6b0,#720,#7d0,#8c0,#9d0,#ae0,#bb0,#c50,#c90,#c70,#c00,#b30,#9e0,#7d0,#5b0,#500,#5f0,#770,#870,#930,#a00,#b00,#c00,#d00,#dc0,#e40,#e80,#e60,#e00,#d50,#c70,#b80,#a80,#9a0,#900,#880,#840,#7f0,#770,#630,#4d0,#450,#510,#670,#770,#7d0,#810,#860,#900,#9e0,#ae0,#bf0,#cc0,#d40,#d60,#d20,#c80,#b90,#a80)"></i><i style="background:linear-gradient(90deg,#7f0,#7e0,#7b0,#740,#670,#550,#480,#470,#500,#630,#7e0,#960,#a40,#aa0,#ab0,#a90,#a20,#960,#860,#760,#670,#5e0,#5c0,#600,#6a0,#780,#890,#980,#a10,#a50,#a20,#960,#810,#6b0,#610,#620,#660,#680,#6b0,#730,#7f0,#8f0,#9f0,#af0,#bb0,#c20,#c40,#c10,#b80,#a90,#910,#710,#5a0,#5c0,#6f0,#820,#8e0,#990,#a70,#b70,#c70,#d40,#de0,#e40,#e50,#e00,#d70,#ca0,#bb0,#ac0,#9d0,#920,#8a0,#850,#820,#7d0,#710,#5d0,#4f0,#530,#640,#750,#7d0,#800,#830,#8a0,#950,#a50,#b60,#c60,#d20,#d80,#d80,#d20,#c70,#b60,#a50)"></i><i style="background:linear-gradient(90deg,#7d0,#7b0,#780,#6e0,#5e0,#4d0,#430,#470,#550,#6d0,#880,#9c0,#a70,#ab0,#ab0,#a70,#9e0,#910,#810,#710,#650,#5e0,#5d0,#630,#6e0,#7e0,#8e0,#9a0,#a20,#a30,#9d0,#900,#7b0,#6a0,#640,#650,#660,#670,#6c0,#750,#810,#910,#a10,#af0,#ba0,#bf0,#bf0,#ba0,#af0,#9f0,#840,#6a0,#5f0,#6a0,#7c0,#890,#940,#a00,#af0,#be0,#cc0,#d70,#df0,#e10,#df0,#d80,#cc0,#bf0,#af0,#a10,#940,#8b0,#860,#830,#800,#7a0,#6b0,#5c0,#580,#630,#730,#7d0,#800,#810,#860,#8e0,#9b0,#ac0,#be0,#cd0,#d70,#db0,#d90,#d20,#c50,#b30,#a10)"></i><i style="background:linear-gradient(90deg,#7b0,#790,#730,#670,#540,#440,#400,#490,#5d0,#780,#900,#a00,#a80,#aa0,#a90,#a40,#9a0,#8c0,#7c0,#6e0,#630,#5e0,#5f0,#670,#740,#830,#920,#9c0,#a10,#a00,#990,#890,#760,#6a0,#660,#660,#660,#670,#6c0,#760,#830,#930,#a20,#af0,#b70,#bb0,#b90,#b20,#a70,#940,#7b0,#690,#690,#770,#850,#900,#9b0,#a80,#b60,#c40,#d00,#d90,#dd0,#dc0,#d70,#ce0,#c10,#b20,#a40,#960,#8d0,#870,#840,#830,#7f0,#770,#690,#610,#660,#730,#7d0,#800,#810,#830,#890,#930,#a10,#b30,#c50,#d30,#db0,#dd0,#da0,#d10,#c20,#af0,#9d0)"></i><i style="background:linear-gradient(90deg,#7a0,#770,#6e0,#5e0,#4a0,#3d0,#3e0,#4d0,#660,#810,#960,#a30,#a80,#a90,#a70,#a00,#960,#880,#780,#6b0,#620,#5f0,#630,#6c0,#7a0,#890,#960,#9d0,#a00,#9d0,#940,#840,#730,#6b0,#680,#670,#660,#670,#6d0,#770,#850,#940,#a20,#ad0,#b40,#b60,#b20,#ab0,#9d0,#8a0,#760,#6d0,#750,#820,#8d0,#970,#a20,#af0,#bc0,#c80,#d20,#d80,#d90,#d50,#ce0,#c30,#b50,#a60,#980,#8e0,#880,#850,#840,#830,#7f0,#750,#6c0,#6b0,#740,#7d0,#820,#820,#830,#850,#8c0,#980,#a80,#ba0,#cb0,#d80,#de0,#df0,#da0,#cf0,#be0,#ab0,#990)"></i><i style="background:linear-gradient(90deg,#780,#730,#670,#520,#3e0,#350,#3d0,#540,#710,#8a0,#9a0,#a40,#a80,#a80,#a40,#9d0,#920,#830,#750,#690,#630,#620,#670,#710,#800,#8e0,#990,#9e0,#9f0,#9a0,#8f0,#7f0,#720,#6c0,#690,#660,#650,#680,#6e0,#790,#860,#950,#a20,#ab0,#b00,#b00,#ac0,#a30,#950,#830,#750,#750,#7f0,#8b0,#940,#9e0,#a90,#b60,#c10,#cb0,#d20,#d50,#d30,#cd0,#c30,#b70,#a90,#9a0,#8e0,#870,#850,#850,#850,#840,#7f0,#770,#720,#770,#7f0,#840,#850,#840,#840,#880,#900,#9d0,#ae0,#c10,#d10,#dc0,#e00,#df0,#d80,#cc0,#ba0,#a70,#950)"></i><i style="background:linear-gradient(90deg,#770,#6f0,#5d0,#440,#310,#2f0,#400,#5d0,#7a0,#900,#9d0,#a40,#a60,#a60,#a20,#990,#8e0,#800,#730,#690,#640,#650,#6b0,#770,#850,#920,#9b0,#9e0,#9d0,#960,#8a0,#7c0,#720,#6d0,#690,#660,#650,#680,#6f0,#7a0,#870,#950,#a10,#a90,#ac0,#aa0,#a50,#9b0,#8d0,#7f0,#790,#7e0,#890,#920,#9b0,#a50,#b00,#bb0,#c50,#cc0,#d00,#d00,#cb0,#c30,#b80,#ab0,#9c0,#8e0,#860,#840,#860,#870,#870,#860,#800,#7b0,#7c0,#820,#870,#880,#860,#850,#860,#8a0,#940,#a30,#b50,#c80,#d60,#df0,#e10,#df0,#d60,#c80,#b50,#a20,#910)"></i><i style="background:linear-gradient(90deg,#740,#680,#500,#340,#240,#2b0,#460,#670,#820,#940,#9e0,#a30,#a50,#a40,#9f0,#960,#8b0,#7e0,#720,#690,#660,#680,#710,#7d0,#8b0,#960,#9d0,#9e0,#9b0,#930,#860,#7a0,#720,#6d0,#680,#650,#650,#690,#700,#7b0,#880,#950,#9f0,#a50,#a70,#a40,#9e0,#950,#880,#7f0,#7f0,#870,#910,#990,#a20,#ac0,#b60,#bf0,#c70,#cb0,#cc0,#c90,#c30,#b90,#ad0,#9d0,#8e0,#830,#820,#850,#880,#8a0,#8a0,#880,#840,#830,#860,#8b0,#8c0,#8a0,#880,#860,#880,#8d0,#990,#a90,#bc0,#cd0,#da0,#e00,#e10,#de0,#d30,#c30,#b00,#9d0,#8e0)"></i><i style="background:linear-gradient(90deg,#700,#5d0,#3f0,#220,#190,#2b0,#4f0,#710,#880,#960,#9e0,#a20,#a40,#a20,#9c0,#940,#880,#7c0,#710,#6b0,#690,#6d0,#760,#830,#8f0,#990,#9e0,#9d0,#980,#8f0,#830,#790,#720,#6d0,#680,#650,#650,#690,#710,#7c0,#880,#940,#9d0,#a20,#a20,#9f0,#980,#8f0,#860,#820,#870,#900,#980,#a00,#a90,#b30,#bb0,#c20,#c70,#c80,#c70,#c10,#b90,#ae0,#9f0,#8e0,#810,#7d0,#820,#880,#8b0,#8e0,#8e0,#8c0,#8b0,#8c0,#8f0,#900,#8f0,#8b0,#890,#870,#8a0,#910,#9d0,#af0,#c20,#d20,#dd0,#e10,#e10,#db0,#cf0,#be0,#aa0,#980,#8a0)"></i><i style="background:linear-gradient(90deg,#690,#4f0,#2b0,#110,#140,#310,#5a0,#7a0,#8d0,#970,#9e0,#a10,#a20,#a00,#9b0,#920,#870,#7b0,#720,#6d0,#6c0,#720,#7c0,#880,#930,#9b0,#9e0,#9c0,#960,#8c0,#810,#790,#720,#6c0,#670,#650,#660,#6a0,#710,#7c0,#880,#920,#9a0,#9e0,#9d0,#9a0,#940,#8c0,#870,#880,#8f0,#970,#9f0,#a80,#b00,#b80,#be0,#c30,#c50,#c40,#c00,#b90,#af0,#a10,#8f0,#7e0,#770,#7d0,#860,#8c0,#900,#920,#930,#920,#930,#950,#960,#940,#900,#8c0,#890,#890,#8c0,#940,#a20,#b40,#c70,#d60,#df0,#e20,#e00,#d80,#ca0,#b80,#a40,#930,#870)"></i><i style="background:linear-gradient(90deg,#5f0,#3c0,#170,#060,#140,#3b0,#650,#810,#8f0,#980,#9d0,#a10,#a20,#9f0,#9a0,#910,#860,#7c0,#740,#6f0,#700,#760,#810,#8c0,#960,#9c0,#9d0,#9a0,#930,#890,#800,#780,#720,#6c0,#670,#650,#660,#6a0,#720,#7c0,#870,#910,#970,#9a0,#990,#950,#900,#8b0,#8b0,#8f0,#970,#9f0,#a70,#ae0,#b50,#bb0,#c00,#c20,#c20,#be0,#b80,#b00,#a30,#900,#7b0,#700,#740,#810,#8b0,#910,#960,#980,#990,#9a0,#9b0,#9c0,#9a0,#970,#920,#8d0,#8a0,#8a0,#8e0,#980,#a70,#ba0,#cc0,#d90,#e00,#e10,#de0,#d40,#c50,#b10,#9e0,#8f0,#840)"></i><i style="background:linear-gradient(90deg,#510,#280,#070,#010,#1c0,#490,#700,#850,#910,#980,#9d0,#a10,#a20,#9f0,#9a0,#910,#870,#7d0,#760,#720,#740,#7b0,#850,#8f0,#970,#9c0,#9c0,#980,#910,#880,#7f0,#780,#710,#6b0,#670,#650,#660,#6b0,#720,#7c0,#860,#8f0,#940,#960,#950,#920,#8f0,#8d0,#900,#970,#9e0,#a60,#ad0,#b40,#b90,#bd0,#bf0,#bf0,#bd0,#b80,#b00,#a50,#920,#7a0,#690,#6a0,#790,#890,#920,#980,#9c0,#9f0,#a10,#a20,#a20,#a10,#9d0,#980,#930,#8e0,#8b0,#8b0,#900,#9c0,#ac0,#bf0,#cf0,#db0,#e00,#e00,#db0,#cf0,#be0,#ab0,#990,#8b0,#820)"></i><i style="background:linear-gradient(90deg,#400,#150,#000,#040,#290,#580,#790,#890,#920,#990,#9e0,#a20,#a20,#a00,#9a0,#920,#880,#7f0,#780,#750,#780,#7f0,#880,#920,#980,#9b0,#9b0,#960,#8f0,#860,#7f0,#780,#710,#6b0,#670,#650,#670,#6b0,#720,#7b0,#850,#8d0,#910,#930,#930,#910,#900,#910,#970,#9e0,#a50,#ac0,#b30,#b80,#bb0,#be0,#be0,#bc0,#b70,#b10,#a70,#960,#7c0,#640,#5e0,#6d0,#820,#910,#990,#9f0,#a40,#a70,#a90,#a90,#a80,#a50,#a00,#990,#930,#8e0,#8b0,#8c0,#930,#a00,#b10,#c30,#d20,#dc0,#e00,#de0,#d70,#ca0,#b70,#a40,#940,#870,#7f0)"></i><i style="background:linear-gradient(90deg,#2e0,#080,#000,#0f0,#3a0,#660,#7f0,#8b0,#930,#9a0,#a00,#a30,#a40,#a20,#9c0,#930,#8a0,#810,#7a0,#780,#7b0,#820,#8b0,#930,#980,#9a0,#990,#950,#8e0,#860,#7f0,#780,#710,#6b0,#670,#650,#670,#6b0,#720,#7b0,#840,#8b0,#8f0,#910,#910,#910,#930,#970,#9e0,#a50,#ac0,#b20,#b70,#ba0,#bc0,#bd0,#bb0,#b70,#b10,#a80,#990,#7f0,#610,#540,#5f0,#780,#8e0,#9a0,#a10,#a80,#ac0,#af0,#b00,#b00,#ad0,#a80,#a10,#9a0,#930,#8d0,#8b0,#8e0,#960,#a40,#b50,#c70,#d50,#dd0,#df0,#db0,#d20,#c30,#b00,#9e0,#8f0,#840,#7d0)"></i><i style="background:linear-gradient(90deg,#1e0,#020,#030,#1f0,#4d0,#710,#840,#8d0,#950,#9c0,#a20,#a60,#a70,#a40,#9e0,#950,#8c0,#830,#7d0,#7b0,#7e0,#850,#8c0,#930,#970,#990,#980,#930,#8d0,#860,#7f0,#780,#710,#6b0,#670,#660,#670,#6b0,#720,#7a0,#820,#890,#8d0,#900,#910,#930,#970,#9d0,#a40,#ab0,#b10,#b60,#b90,#bb0,#bc0,#ba0,#b70,#b10,#a90,#9c0,#830,#620,#4b0,#500,#6a0,#870,#990,#a30,#aa0,#b10,#b50,#b70,#b80,#b50,#b10,#aa0,#a20,#990,#920,#8d0,#8b0,#8f0,#990,#a70,#b90,#c90,#d60,#dc0,#dd0,#d70,#cc0,#bc0,#a90,#980,#8a0,#800,#780)"></i><i style="background:linear-gradient(90deg,#150,#040,#0f0,#330,#5f0,#7a0,#870,#8f0,#970,#9f0,#a60,#aa0,#aa0,#a70,#a10,#970,#8e0,#850,#7f0,#7d0,#800,#860,#8d0,#930,#960,#980,#970,#930,#8d0,#870,#800,#780,#710,#6b0,#670,#660,#670,#6b0,#710,#790,#810,#880,#8d0,#900,#930,#970,#9d0,#a30,#aa0,#b10,#b50,#b90,#ba0,#bb0,#ba0,#b70,#b20,#ab0,#9f0,#890,#650,#460,#410,#590,#7c0,#950,#a30,#ac0,#b40,#ba0,#be0,#bf0,#be0,#b90,#b30,#ab0,#a10,#980,#910,#8c0,#8c0,#910,#9b0,#ab0,#bc0,#cb0,#d60,#db0,#d90,#d20,#c50,#b40,#a20,#920,#860,#7b0,#710)"></i><i style="background:linear-gradient(90deg,#120,#0c0,#210,#490,#6d0,#800,#8a0,#920,#9b0,#a30,#aa0,#ae0,#ae0,#ab0,#a30,#9a0,#8f0,#860,#800,#7f0,#810,#860,#8c0,#920,#960,#980,#970,#930,#8e0,#870,#800,#790,#710,#6b0,#670,#660,#670,#6b0,#710,#790,#810,#880,#8d0,#920,#960,#9c0,#a20,#a90,#b00,#b50,#b80,#ba0,#ba0,#ba0,#b70,#b20,#ac0,#a20,#8f0,#6c0,#460,#360,#470,#6d0,#8f0,#a10,#ad0,#b60,#be0,#c30,#c60,#c60,#c20,#bc0,#b40,#aa0,#a00,#970,#900,#8b0,#8c0,#920,#9e0,#ae0,#be0,#cc0,#d50,#d80,#d50,#cc0,#be0,#ad0,#9c0,#8d0,#800,#720,#670)"></i><i style="background:linear-gradient(90deg,#160,#1b0,#370,#5d0,#770,#840,#8d0,#960,#a00,#a90,#b00,#b30,#b30,#ae0,#a60,#9b0,#910,#870,#810,#7f0,#810,#860,#8c0,#920,#960,#980,#980,#940,#8f0,#880,#810,#790,#710,#6b0,#670,#650,#670,#6a0,#710,#790,#810,#880,#8f0,#950,#9a0,#a10,#a80,#af0,#b40,#b70,#b90,#ba0,#b90,#b70,#b30,#ad0,#a40,#940,#740,#4a0,#2f0,#350,#5a0,#840,#9e0,#ad0,#b70,#c00,#c70,#cc0,#cd0,#cb0,#c60,#be0,#b40,#a90,#9e0,#950,#8e0,#8b0,#8c0,#940,#a00,#b00,#c00,#cc0,#d30,#d50,#d00,#c50,#b60,#a50,#950,#870,#760,#640,#5d0)"></i><i style="background:linear-gradient(90deg,#210,#2f0,#4e0,#6c0,#7e0,#880,#910,#9b0,#a60,#af0,#b50,#b80,#b70,#b10,#a80,#9c0,#910,#870,#810,#7f0,#800,#850,#8b0,#920,#970,#9a0,#990,#960,#900,#890,#820,#7a0,#710,#6b0,#670,#650,#660,#6a0,#710,#790,#820,#8a0,#920,#980,#9f0,#a60,#ad0,#b30,#b60,#b90,#b90,#b90,#b70,#b30,#ad0,#a50,#990,#7d0,#520,#2e0,#290,#460,#740,#980,#ab0,#b70,#c20,#cb0,#d00,#d30,#d30,#cf0,#c80,#be0,#b30,#a70,#9c0,#930,#8c0,#8a0,#8d0,#950,#a30,#b20,#c10,#cb0,#d10,#d00,#ca0,#be0,#af0,#9e0,#8f0,#7d0,#660,#540,#560)"></i><i style="background:linear-gradient(90deg,#320,#450,#610,#770,#830,#8c0,#960,#a10,#ac0,#b50,#bb0,#bd0,#ba0,#b30,#a90,#9d0,#910,#870,#7f0,#7d0,#7e0,#840,#8b0,#930,#990,#9c0,#9b0,#980,#920,#8b0,#820,#7a0,#710,#6a0,#660,#650,#660,#6b0,#720,#7b0,#840,#8d0,#950,#9d0,#a40,#ab0,#b10,#b50,#b80,#b90,#b80,#b70,#b30,#ae0,#a70,#9c0,#860,#5c0,#310,#210,#340,#620,#8e0,#a80,#b70,#c30,#cd0,#d40,#d90,#da0,#d70,#d10,#c80,#bd0,#b10,#a40,#990,#900,#8a0,#880,#8d0,#970,#a40,#b30,#c10,#ca0,#cd0,#cb0,#c30,#b60,#a70,#970,#860,#6c0,#500,#460,#550)"></i><i style="background:linear-gradient(90deg,#450,#590,#6f0,#7d0,#870,#900,#9c0,#a80,#b30,#bc0,#c10,#c10,#bd0,#b50,#a90,#9c0,#8f0,#840,#7d0,#7a0,#7c0,#830,#8c0,#950,#9c0,#9f0,#9e0,#9a0,#940,#8c0,#830,#7a0,#710,#6a0,#660,#650,#670,#6b0,#730,#7c0,#870,#900,#990,#a10,#a90,#af0,#b40,#b70,#b80,#b80,#b60,#b30,#ae0,#a70,#9e0,#8d0,#690,#390,#1e0,#250,#4e0,#810,#a20,#b40,#c20,#ce0,#d70,#dd0,#df0,#df0,#da0,#d20,#c80,#bb0,#ae0,#a10,#950,#8c0,#870,#870,#8d0,#980,#a60,#b40,#bf0,#c70,#c90,#c50,#bc0,#af0,#a00,#8f0,#770,#530,#3a0,#3f0,#5b0)"></i><i style="background:linear-gradient(90deg,#570,#690,#780,#820,#8b0,#960,#a30,#af0,#bb0,#c20,#c60,#c40,#bf0,#b50,#a80,#9a0,#8c0,#800,#790,#770,#7b0,#840,#8e0,#980,#9f0,#a10,#a00,#9c0,#950,#8d0,#830,#7a0,#700,#690,#660,#650,#670,#6c0,#750,#7f0,#8a0,#940,#9e0,#a60,#ac0,#b10,#b50,#b70,#b70,#b60,#b30,#ae0,#a80,#a00,#920,#750,#450,#210,#1c0,#3b0,#6f0,#9a0,#b10,#c00,#cd0,#d80,#e00,#e40,#e50,#e20,#db0,#d20,#c50,#b80,#aa0,#9c0,#910,#870,#830,#850,#8d0,#990,#a60,#b30,#bd0,#c30,#c30,#be0,#b40,#a70,#980,#830,#5e0,#370,#2c0,#420,#640)"></i><i style="background:linear-gradient(90deg,#670,#740,#7e0,#860,#900,#9c0,#aa0,#b70,#c10,#c80,#c90,#c70,#c00,#b40,#a60,#960,#870,#7b0,#740,#750,#7b0,#860,#920,#9c0,#a20,#a40,#a30,#9e0,#970,#8e0,#830,#790,#700,#690,#650,#650,#680,#6e0,#770,#820,#8e0,#990,#a20,#a90,#af0,#b30,#b50,#b60,#b50,#b20,#ae0,#a80,#a00,#960,#7f0,#540,#270,#190,#2b0,#5c0,#8e0,#ac0,#bd0,#cb0,#d80,#e10,#e70,#ea0,#e80,#e30,#db0,#d00,#c20,#b30,#a50,#960,#8a0,#810,#7f0,#850,#8e0,#990,#a60,#b20,#bb0,#bf0,#be0,#b70,#ad0,#9f0,#8e0,#6e0,#3f0,#200,#290,#4e0,#6e0)"></i><i style="background:linear-gradient(90deg,#710,#7a0,#820,#8b0,#960,#a40,#b20,#be0,#c70,#cc0,#cc0,#c80,#bf0,#b20,#a20,#900,#800,#750,#710,#730,#7d0,#890,#960,#a00,#a50,#a70,#a50,#a00,#980,#8e0,#830,#780,#6f0,#680,#650,#660,#690,#700,#7a0,#860,#920,#9c0,#a50,#ab0,#b00,#b30,#b40,#b30,#b10,#ad0,#a70,#a00,#980,#870,#630,#330,#1a0,#210,#490,#7f0,#a40,#b90,#c90,#d60,#e10,#e90,#ed0,#ed0,#ea0,#e40,#d90,#cc0,#bd0,#ae0,#9e0,#8d0,#800,#7a0,#7d0,#840,#8e0,#990,#a50,#b00,#b70,#ba0,#b70,#b00,#a50,#970,#7e0,#500,#220,#160,#330,#5e0,#750)"></i><i style="background:linear-gradient(90deg,#780,#7f0,#860,#900,#9d0,#ab0,#b90,#c50,#cc0,#cf0,#cd0,#c80,#bd0,#ad0,#9b0,#880,#790,#6f0,#6e0,#740,#800,#8e0,#9b0,#a40,#a90,#aa0,#a70,#a10,#990,#8e0,#830,#780,#6e0,#680,#660,#660,#6b0,#730,#7e0,#8a0,#960,#a00,#a70,#ad0,#b00,#b20,#b10,#af0,#ac0,#a70,#a00,#990,#8d0,#710,#430,#1f0,#1b0,#3a0,#6f0,#9a0,#b40,#c50,#d40,#e00,#e90,#ef0,#f10,#f00,#eb0,#e20,#d60,#c70,#b70,#a60,#930,#800,#750,#750,#7c0,#840,#8e0,#980,#a40,#ad0,#b40,#b50,#b10,#a90,#9e0,#8c0,#660,#2f0,#110,#1a0,#460,#6c0,#790)"></i><i style="background:linear-gradient(90deg,#7c0,#820,#8a0,#960,#a40,#b30,#c00,#ca0,#d00,#d10,#ce0,#c60,#b90,#a70,#920,#7f0,#710,#6b0,#6e0,#770,#850,#940,#a00,#a80,#ac0,#ac0,#a90,#a20,#990,#8e0,#820,#770,#6d0,#680,#660,#680,#6d0,#760,#810,#8e0,#990,#a20,#a90,#ad0,#af0,#af0,#ae0,#aa0,#a50,#9f0,#990,#8f0,#7c0,#550,#2a0,#1b0,#2e0,#5e0,#8f0,#ad0,#c00,#d00,#de0,#e90,#f00,#f30,#f30,#f00,#e90,#df0,#d10,#c10,#af0,#9a0,#820,#710,#6c0,#730,#7c0,#840,#8d0,#980,#a20,#ab0,#af0,#af0,#ab0,#a20,#950,#7a0,#460,#170,#0d0,#2b0,#5c0,#760,#7c0)"></i><i style="background:linear-gradient(90deg,#7f0,#860,#8f0,#9c0,#ab0,#ba0,#c60,#ce0,#d20,#d10,#cc0,#c20,#b20,#9d0,#870,#750,#6a0,#690,#700,#7d0,#8c0,#9a0,#a50,#ac0,#ae0,#ae0,#aa0,#a20,#980,#8d0,#810,#750,#6d0,#680,#660,#690,#6f0,#790,#850,#910,#9c0,#a40,#a90,#ac0,#ad0,#ab0,#a80,#a40,#9f0,#980,#910,#830,#650,#3a0,#200,#270,#4f0,#810,#a40,#ba0,#cb0,#da0,#e60,#ef0,#f40,#f60,#f40,#ef0,#e60,#da0,#cb0,#b90,#a20,#860,#6d0,#620,#680,#730,#7c0,#840,#8c0,#970,#a00,#a80,#ab0,#aa0,#a40,#9b0,#890,#600,#280,#0c0,#170,#450,#6d0,#7c0,#7f0)"></i><i style="background:linear-gradient(90deg,#820,#890,#950,#a30,#b20,#c00,#cb0,#d10,#d20,#d00,#c90,#bc0,#a80,#910,#7b0,#6c0,#660,#6a0,#750,#830,#930,#a00,#a90,#af0,#b00,#af0,#aa0,#a20,#970,#8b0,#7f0,#740,#6c0,#680,#670,#6a0,#720,#7c0,#880,#940,#9d0,#a40,#a80,#aa0,#a90,#a60,#a20,#9d0,#970,#910,#870,#720,#4b0,#2a0,#260,#430,#730,#9b0,#b30,#c50,#d50,#e30,#ed0,#f40,#f70,#f70,#f40,#ed0,#e20,#d40,#c20,#ab0,#8c0,#6b0,#590,#5b0,#690,#750,#7c0,#830,#8c0,#960,#9f0,#a40,#a60,#a40,#9e0,#920,#770,#430,#150,#0e0,#2e0,#5f0,#790,#800,#830)"></i><i style="background:linear-gradient(90deg,#850,#8e0,#9a0,#a90,#b80,#c50,#ce0,#d20,#d20,#ce0,#c40,#b20,#9b0,#840,#700,#660,#650,#6d0,#7c0,#8b0,#9a0,#a50,#ad0,#b20,#b20,#af0,#aa0,#a10,#960,#890,#7d0,#730,#6b0,#670,#670,#6c0,#740,#7f0,#8b0,#960,#9e0,#a40,#a60,#a60,#a40,#a10,#9c0,#960,#910,#890,#7b0,#5c0,#380,#2a0,#3c0,#660,#900,#ab0,#be0,#cf0,#de0,#ea0,#f30,#f70,#f80,#f70,#f20,#e90,#dc0,#cb0,#b50,#950,#6d0,#500,#4c0,#5b0,#6c0,#750,#7b0,#820,#8b0,#950,#9d0,#a10,#a20,#9e0,#970,#870,#600,#2b0,#100,#1e0,#4c0,#720,#810,#850,#880)"></i><i style="background:linear-gradient(90deg,#880,#920,#a00,#af0,#be0,#c90,#d00,#d20,#d10,#ca0,#bb0,#a60,#8d0,#760,#670,#620,#680,#740,#840,#940,#a00,#aa0,#b10,#b40,#b30,#af0,#a90,#9f0,#930,#870,#7c0,#720,#6a0,#660,#670,#6e0,#770,#820,#8d0,#970,#9e0,#a20,#a30,#a20,#9f0,#9a0,#950,#900,#8a0,#800,#6b0,#490,#320,#390,#5b0,#850,#a20,#b60,#c80,#d80,#e60,#f00,#f60,#f80,#f80,#f50,#ee0,#e30,#d30,#bf0,#9f0,#730,#4c0,#3d0,#4a0,#600,#6f0,#750,#7b0,#820,#8b0,#940,#9a0,#9e0,#9d0,#990,#8f0,#780,#480,#1e0,#180,#3a0,#660,#7f0,#870,#8b0,#8e0)"></i><i style="background:linear-gradient(90deg,#8b0,#970,#a60,#b50,#c20,#cc0,#d10,#d10,#cd0,#c20,#af0,#970,#7e0,#6b0,#620,#630,#6e0,#7d0,#8d0,#9b0,#a60,#ae0,#b30,#b50,#b30,#ae0,#a70,#9c0,#910,#850,#7a0,#6f0,#680,#650,#680,#700,#7a0,#850,#8f0,#970,#9d0,#a00,#9f0,#9d0,#990,#940,#8f0,#8a0,#830,#750,#5a0,#400,#3c0,#540,#7a0,#990,#ae0,#c00,#d10,#e00,#ec0,#f40,#f80,#f90,#f70,#f20,#e80,#db0,#c80,#aa0,#7c0,#4c0,#320,#370,#500,#660,#700,#750,#7b0,#830,#8c0,#930,#980,#9a0,#980,#930,#860,#650,#370,#1f0,#2e0,#580,#790,#870,#8e0,#930,#950)"></i><i style="background:linear-gradient(90deg,#8f0,#9c0,#ab0,#b90,#c50,#cd0,#d00,#ce0,#c70,#b70,#a00,#860,#700,#630,#600,#680,#760,#870,#960,#a20,#ab0,#b20,#b50,#b60,#b30,#ac0,#a40,#990,#8e0,#820,#770,#6c0,#650,#640,#6a0,#730,#7d0,#870,#900,#970,#9b0,#9d0,#9b0,#980,#930,#8e0,#890,#840,#7b0,#670,#4e0,#430,#510,#710,#900,#a60,#b80,#c90,#d90,#e60,#f00,#f60,#f80,#f80,#f40,#ed0,#e10,#d00,#b50,#880,#510,#2c0,#270,#3e0,#5b0,#6a0,#700,#760,#7c0,#840,#8c0,#920,#960,#960,#930,#8d0,#7a0,#540,#310,#2d0,#4c0,#700,#840,#8e0,#950,#9b0,#9d0)"></i><i style="background:linear-gradient(90deg,#930,#a00,#af0,#bc0,#c70,#cd0,#ce0,#c90,#bd0,#a80,#8f0,#770,#660,#5f0,#630,#700,#810,#910,#9f0,#a80,#af0,#b40,#b60,#b50,#b10,#aa0,#a00,#960,#8b0,#7f0,#720,#670,#620,#640,#6c0,#760,#7f0,#890,#910,#970,#990,#990,#970,#920,#8e0,#890,#850,#7e0,#710,#5c0,#4d0,#520,#6a0,#870,#9e0,#af0,#c00,#d00,#df0,#eb0,#f30,#f70,#f80,#f50,#f00,#e60,#d70,#c00,#960,#5c0,#2c0,#1b0,#2a0,#4c0,#630,#6c0,#710,#770,#7e0,#860,#8d0,#910,#930,#920,#8f0,#850,#6d0,#4a0,#370,#460,#670,#7f0,#8c0,#960,#9e0,#a30,#a40)"></i><i style="background:linear-gradient(90deg,#970,#a40,#b20,#be0,#c70,#cb0,#c90,#c00,#af0,#970,#7e0,#6a0,#600,#600,#690,#7a0,#8c0,#9b0,#a60,#ad0,#b20,#b50,#b60,#b30,#ae0,#a60,#9c0,#920,#870,#7a0,#6c0,#620,#5f0,#660,#6f0,#790,#820,#8a0,#910,#960,#970,#960,#920,#8e0,#890,#850,#800,#780,#680,#580,#560,#670,#800,#960,#a70,#b70,#c80,#d70,#e40,#ee0,#f40,#f60,#f50,#f10,#e90,#dc0,#c80,#a40,#6b0,#320,#150,#190,#3a0,#590,#680,#6d0,#730,#7a0,#810,#880,#8d0,#900,#910,#8f0,#8a0,#7d0,#630,#490,#480,#5f0,#790,#880,#930,#9e0,#a60,#ab0,#ab0)"></i><i style="background:linear-gradient(90deg,#9a0,#a80,#b50,#bf0,#c60,#c70,#c20,#b40,#9f0,#860,#700,#620,#5e0,#640,#740,#860,#970,#a30,#ab0,#b10,#b40,#b60,#b50,#b10,#aa0,#a20,#980,#8d0,#810,#720,#640,#5d0,#5f0,#690,#730,#7c0,#840,#8b0,#910,#950,#950,#920,#8e0,#8a0,#850,#810,#7c0,#710,#630,#5c0,#660,#7a0,#8e0,#9f0,#ae0,#be0,#ce0,#dd0,#e80,#f00,#f40,#f40,#f20,#eb0,#e00,#cf0,#b10,#7c0,#3d0,#150,#0d0,#270,#4c0,#620,#6a0,#6f0,#760,#7d0,#830,#890,#8d0,#8f0,#8e0,#8c0,#850,#760,#5e0,#520,#5d0,#720,#830,#8f0,#9b0,#a60,#ae0,#b10,#af0)"></i><i style="background:linear-gradient(90deg,#9d0,#aa0,#b60,#be0,#c30,#c10,#b70,#a50,#8d0,#760,#650,#5e0,#600,#6d0,#800,#920,#a10,#aa0,#b00,#b40,#b50,#b50,#b20,#ad0,#a60,#9d0,#930,#880,#790,#680,#5c0,#5a0,#610,#6d0,#770,#7f0,#860,#8d0,#920,#940,#930,#900,#8b0,#870,#820,#7e0,#770,#6c0,#640,#670,#760,#880,#970,#a50,#b50,#c40,#d40,#e00,#ea0,#f00,#f20,#f10,#eb0,#e20,#d40,#bb0,#8e0,#4e0,#1b0,#090,#170,#3d0,#5a0,#660,#6c0,#730,#7a0,#800,#860,#8a0,#8d0,#8d0,#8c0,#880,#800,#700,#610,#600,#6f0,#7e0,#8a0,#960,#a20,#ad0,#b30,#b50,#b20)"></i><i style="background:linear-gradient(90deg,#9f0,#ab0,#b50,#bc0,#bd0,#b70,#a90,#930,#7c0,#690,#5f0,#5e0,#680,#790,#8d0,#9d0,#a90,#b00,#b40,#b60,#b60,#b40,#af0,#a90,#a10,#980,#8d0,#7f0,#6e0,#5d0,#550,#5a0,#660,#720,#7a0,#820,#880,#8e0,#920,#930,#920,#8e0,#890,#840,#800,#7b0,#730,#6b0,#6a0,#740,#820,#900,#9d0,#ab0,#bb0,#ca0,#d80,#e30,#ea0,#ee0,#ee0,#eb0,#e30,#d60,#c30,#9d0,#620,#260,#090,#0d0,#2e0,#500,#610,#690,#700,#770,#7e0,#840,#880,#8b0,#8c0,#8c0,#8a0,#850,#7c0,#6f0,#690,#6f0,#7b0,#850,#900,#9c0,#a90,#b20,#b70,#b70,#b40)"></i><i style="background:linear-gradient(90deg,#a10,#ab0,#b40,#b80,#b60,#ab0,#980,#820,#6e0,#620,#5e0,#630,#730,#870,#990,#a60,#af0,#b40,#b60,#b70,#b50,#b10,#ac0,#a40,#9c0,#920,#860,#740,#600,#520,#520,#5e0,#6c0,#770,#7e0,#850,#8c0,#910,#940,#940,#910,#8c0,#870,#830,#7e0,#780,#720,#6e0,#730,#7e0,#8a0,#960,#a30,#b10,#c00,#ce0,#da0,#e30,#e90,#eb0,#e90,#e30,#d80,#c70,#aa0,#760,#380,#0e0,#080,#210,#460,#5c0,#650,#6d0,#740,#7b0,#820,#870,#8a0,#8c0,#8c0,#8b0,#880,#830,#7b0,#720,#720,#790,#820,#8a0,#950,#a20,#ae0,#b60,#b90,#b80,#b30)"></i><i style="background:linear-gradient(90deg,#a10,#aa0,#b00,#b20,#ab0,#9c0,#870,#730,#640,#5e0,#600,#6d0,#800,#940,#a30,#ae0,#b40,#b70,#b80,#b70,#b40,#ae0,#a70,#9f0,#960,#8b0,#7a0,#650,#520,#4c0,#540,#640,#730,#7c0,#830,#890,#8f0,#940,#960,#950,#910,#8c0,#860,#810,#7c0,#770,#730,#740,#7c0,#850,#8f0,#9a0,#a70,#b50,#c40,#d10,#db0,#e20,#e60,#e50,#e10,#d80,#ca0,#b20,#890,#4d0,#1b0,#080,#180,#3b0,#560,#620,#690,#710,#790,#800,#850,#890,#8c0,#8c0,#8c0,#8a0,#870,#820,#7b0,#780,#7b0,#810,#870,#8f0,#9a0,#a70,#b10,#b80,#b90,#b70,#b10)"></i><i style="background:linear-gradient(90deg,#a00,#a80,#ab0,#a90,#9e0,#8b0,#770,#670,#5f0,#5e0,#680,#790,#8e0,#a00,#ac0,#b40,#b80,#b90,#b90,#b60,#b10,#ab0,#a30,#9a0,#900,#810,#6b0,#540,#470,#4a0,#5b0,#6d0,#790,#810,#880,#8e0,#940,#980,#980,#960,#910,#8b0,#850,#800,#7b0,#770,#760,#7a0,#820,#8a0,#930,#9f0,#ac0,#b90,#c60,#d20,#da0,#df0,#e10,#de0,#d70,#ca0,#b70,#960,#630,#2d0,#100,#140,#320,#4f0,#5e0,#660,#6e0,#770,#7e0,#840,#890,#8b0,#8d0,#8d0,#8c0,#8a0,#870,#820,#7e0,#7e0,#820,#860,#8b0,#940,#9f0,#aa0,#b30,#b80,#b80,#b50,#ac0)"></i><i style="background:linear-gradient(90deg,#9f0,#a40,#a40,#9d0,#8f0,#7c0,#6a0,#600,#5d0,#640,#730,#880,#9b0,#a90,#b30,#b80,#ba0,#ba0,#b80,#b40,#ae0,#a70,#9e0,#940,#870,#720,#580,#450,#420,#4f0,#640,#750,#800,#870,#8e0,#940,#990,#9c0,#9b0,#980,#920,#8b0,#850,#7f0,#7a0,#780,#7a0,#7f0,#850,#8d0,#970,#a20,#af0,#bc0,#c80,#d10,#d80,#db0,#da0,#d40,#ca0,#ba0,#a00,#760,#410,#1c0,#160,#2c0,#480,#5a0,#630,#6b0,#740,#7c0,#830,#880,#8b0,#8d0,#8e0,#8e0,#8c0,#8a0,#870,#840,#830,#840,#870,#8a0,#900,#980,#a20,#ac0,#b30,#b70,#b60,#b00,#a70)"></i><i style="background:linear-gradient(90deg,#9c0,#9f0,#9b0,#900,#7f0,#6e0,#620,#5d0,#610,#6e0,#810,#950,#a60,#b10,#b70,#bb0,#bc0,#bb0,#b70,#b20,#ab0,#a20,#980,#8d0,#7a0,#600,#460,#3b0,#430,#590,#6f0,#7e0,#860,#8e0,#950,#9b0,#9f0,#a00,#9e0,#990,#920,#8b0,#840,#7f0,#7b0,#7b0,#7d0,#820,#880,#900,#9a0,#a60,#b20,#bd0,#c80,#cf0,#d40,#d40,#d00,#c80,#ba0,#a50,#840,#570,#2d0,#1e0,#2a0,#430,#560,#600,#690,#720,#7a0,#820,#870,#8b0,#8e0,#8f0,#8f0,#8f0,#8d0,#8b0,#890,#880,#880,#8a0,#8c0,#8f0,#940,#9c0,#a40,#ac0,#b20,#b30,#b10,#aa0,#a00)"></i><i style="background:linear-gradient(90deg,#980,#970,#900,#820,#720,#640,#5e0,#5f0,#690,#7b0,#8f0,#a10,#ae0,#b60,#bb0,#bd0,#bc0,#ba0,#b60,#af0,#a60,#9d0,#920,#820,#690,#4b0,#380,#390,#4b0,#650,#7a0,#860,#8e0,#950,#9c0,#a20,#a50,#a50,#a10,#9b0,#930,#8b0,#840,#7e0,#7c0,#7d0,#800,#840,#8b0,#930,#9d0,#a80,#b30,#bd0,#c60,#cb0,#ce0,#cb0,#c40,#b80,#a70,#8e0,#690,#410,#290,#2d0,#400,#530,#5e0,#660,#6f0,#780,#800,#860,#8b0,#8e0,#900,#910,#910,#900,#8f0,#8d0,#8c0,#8d0,#8e0,#900,#920,#950,#990,#9e0,#a50,#ab0,#ae0,#ae0,#aa0,#a20,#980)"></i><i style="background:linear-gradient(90deg,#930,#8e0,#840,#750,#670,#5f0,#5e0,#660,#750,#890,#9c0,#ab0,#b40,#ba0,#bd0,#be0,#bc0,#b90,#b30,#ab0,#a10,#970,#8a0,#730,#540,#3a0,#310,#3d0,#580,#730,#840,#8d0,#960,#9e0,#a50,#aa0,#ab0,#aa0,#a40,#9c0,#930,#8a0,#830,#7f0,#7d0,#7e0,#810,#860,#8d0,#950,#9f0,#a90,#b30,#bc0,#c20,#c60,#c50,#c00,#b60,#a70,#930,#760,#530,#390,#330,#400,#510,#5c0,#650,#6d0,#760,#7f0,#850,#8b0,#8e0,#910,#920,#930,#920,#920,#910,#900,#910,#920,#940,#960,#980,#9a0,#9c0,#a00,#a40,#a70,#a90,#a70,#a20,#9a0,#900)"></i><i style="background:linear-gradient(90deg,#8c0,#840,#780,#6a0,#610,#5e0,#630,#700,#830,#960,#a60,#b20,#b90,#bd0,#be0,#be0,#bb0,#b60,#af0,#a60,#9c0,#900,#7d0,#5f0,#400,#2f0,#320,#490,#670,#7f0,#8c0,#960,#9f0,#a70,#ad0,#b10,#b10,#ad0,#a60,#9d0,#930,#8a0,#830,#7f0,#7e0,#7f0,#830,#880,#8f0,#970,#a00,#a90,#b20,#b90,#bd0,#be0,#bb0,#b30,#a60,#950,#7e0,#610,#470,#3c0,#420,#4f0,#5b0,#630,#6c0,#750,#7d0,#840,#8a0,#8e0,#920,#940,#950,#950,#940,#940,#940,#940,#960,#980,#9b0,#9c0,#9d0,#9e0,#9f0,#a00,#a20,#a30,#a20,#9f0,#990,#920,#8a0)"></i><i style="background:linear-gradient(90deg,#840,#7a0,#6e0,#630,#5f0,#610,#6c0,#7d0,#910,#a20,#af0,#b70,#bc0,#bf0,#bf0,#bd0,#b90,#b30,#ab0,#a10,#960,#860,#6c0,#4a0,#310,#2b0,#3a0,#590,#770,#8a0,#950,#9f0,#a80,#b00,#b50,#b80,#b60,#b10,#a80,#9d0,#920,#890,#830,#7f0,#7f0,#800,#840,#890,#900,#980,#a00,#a80,#af0,#b40,#b70,#b50,#ae0,#a30,#940,#820,#6b0,#540,#470,#470,#500,#5a0,#630,#6c0,#750,#7d0,#840,#8a0,#8f0,#920,#950,#960,#970,#960,#960,#960,#970,#990,#9c0,#9f0,#a10,#a20,#a20,#a10,#a00,#9f0,#9e0,#9d0,#9a0,#970,#910,#8a0,#840)"></i><i style="background:linear-gradient(90deg,#7c0,#710,#660,#600,#610,#690,#780,#8b0,#9c0,#ab0,#b50,#bb0,#be0,#bf0,#bf0,#bc0,#b60,#af0,#a50,#9b0,#8e0,#780,#570,#370,#290,#2f0,#480,#6a0,#840,#930,#9e0,#a80,#b20,#b90,#bd0,#be0,#ba0,#b30,#a80,#9c0,#910,#880,#820,#7f0,#7f0,#810,#850,#8a0,#910,#980,#9f0,#a50,#ab0,#ae0,#ae0,#a90,#a00,#930,#830,#710,#5e0,#500,#4c0,#510,#5a0,#630,#6b0,#750,#7d0,#840,#8a0,#8f0,#930,#960,#980,#990,#990,#980,#980,#990,#9b0,#9e0,#a20,#a50,#a60,#a60,#a50,#a20,#9f0,#9c0,#990,#960,#930,#8f0,#8a0,#840,#7e0)"></i><i style="background:linear-gradient(90deg,#740,#6a0,#630,#610,#670,#740,#850,#970,#a60,#b20,#b90,#be0,#bf0,#bf0,#be0,#b90,#b30,#aa0,#a00,#940,#830,#660,#430,#2b0,#290,#3a0,#5b0,#7b0,#8f0,#9c0,#a70,#b20,#bb0,#c10,#c40,#c30,#bd0,#b40,#a80,#9b0,#900,#870,#810,#7f0,#7f0,#820,#860,#8b0,#910,#960,#9b0,#a10,#a50,#a60,#a40,#9c0,#910,#830,#740,#650,#580,#520,#540,#5a0,#630,#6c0,#750,#7e0,#850,#8b0,#900,#940,#970,#990,#9b0,#9b0,#9a0,#9a0,#9b0,#9c0,#a00,#a40,#a80,#aa0,#aa0,#a90,#a70,#a30,#9e0,#990,#940,#900,#8c0,#880,#830,#7e0,#780)"></i><i style="background:linear-gradient(90deg,#6d0,#660,#630,#660,#700,#800,#910,#a10,#ae0,#b70,#bc0,#bf0,#c00,#bf0,#bc0,#b60,#ae0,#a40,#9a0,#8c0,#740,#510,#330,#270,#2f0,#4b0,#6e0,#870,#980,#a50,#b10,#bc0,#c40,#c80,#c90,#c60,#bf0,#b40,#a70,#990,#8e0,#860,#810,#7f0,#800,#820,#860,#8b0,#8e0,#920,#960,#9b0,#9e0,#9d0,#980,#8e0,#820,#750,#680,#5d0,#570,#560,#5b0,#630,#6c0,#760,#7f0,#870,#8d0,#910,#950,#980,#9b0,#9d0,#9d0,#9d0,#9c0,#9c0,#9d0,#a00,#a40,#a90,#ac0,#ae0,#ad0,#ab0,#a70,#a20,#9b0,#940,#8f0,#8a0,#860,#810,#7c0,#770,#720)"></i><i style="background:linear-gradient(90deg,#690,#650,#660,#6e0,#7c0,#8c0,#9c0,#a90,#b30,#ba0,#be0,#c00,#bf0,#bd0,#b90,#b20,#a90,#9e0,#920,#800,#620,#3f0,#2a0,#290,#3d0,#5f0,#7e0,#920,#a00,#ae0,#bb0,#c50,#cb0,#ce0,#cd0,#c90,#c00,#b30,#a50,#970,#8c0,#840,#800,#7f0,#800,#830,#860,#880,#8a0,#8c0,#900,#940,#960,#930,#8b0,#800,#750,#6a0,#610,#5a0,#590,#5d0,#640,#6d0,#770,#810,#890,#8f0,#940,#980,#9a0,#9d0,#9e0,#9f0,#9f0,#9e0,#9d0,#9d0,#9f0,#a30,#a80,#ac0,#af0,#b00,#ae0,#ab0,#a60,#9f0,#970,#900,#8a0,#850,#800,#7b0,#750,#6f0,#6b0)"></i><i style="background:linear-gradient(90deg,#670,#670,#6d0,#780,#870,#970,#a50,#b00,#b80,#bd0,#bf0,#c00,#bf0,#bb0,#b50,#ac0,#a30,#980,#890,#710,#4e0,#320,#280,#330,#500,#720,#8a0,#9a0,#a90,#b70,#c30,#cc0,#d10,#d20,#d00,#ca0,#bf0,#b10,#a20,#940,#8a0,#830,#800,#7f0,#800,#820,#830,#820,#830,#850,#8a0,#8e0,#8d0,#880,#7f0,#740,#6b0,#630,#5d0,#5b0,#5e0,#650,#6e0,#780,#820,#8b0,#920,#970,#9b0,#9d0,#9f0,#a10,#a10,#a10,#a00,#9f0,#9e0,#9e0,#a10,#a50,#aa0,#af0,#b10,#b00,#ae0,#aa0,#a40,#9c0,#930,#8b0,#850,#800,#7a0,#730,#6b0,#660,#650)"></i><i style="background:linear-gradient(90deg,#690,#6c0,#760,#830,#920,#a00,#ab0,#b50,#bb0,#bf0,#c00,#bf0,#bd0,#b80,#b00,#a70,#9c0,#900,#7d0,#5f0,#3e0,#2c0,#2e0,#430,#640,#800,#930,#a20,#b20,#c00,#cb0,#d30,#d60,#d60,#d20,#c90,#bd0,#ae0,#9e0,#910,#870,#820,#7f0,#7f0,#7f0,#7f0,#7c0,#7a0,#7a0,#7e0,#840,#870,#840,#7d0,#740,#6b0,#640,#5f0,#5d0,#600,#660,#6f0,#7a0,#840,#8d0,#940,#9a0,#9e0,#a10,#a30,#a40,#a40,#a40,#a30,#a10,#9f0,#9e0,#9f0,#a20,#a70,#ac0,#b00,#b10,#b00,#ad0,#a80,#a00,#980,#8f0,#870,#800,#7a0,#710,#680,#600,#5d0,#610)"></i><i style="background:linear-gradient(90deg,#6d0,#740,#7f0,#8d0,#9a0,#a70,#b10,#b80,#bd0,#c00,#c00,#be0,#ba0,#b30,#ab0,#a10,#960,#870,#6f0,#4f0,#350,#2d0,#3a0,#570,#750,#8a0,#9a0,#aa0,#ba0,#c80,#d20,#d70,#d90,#d70,#d20,#c80,#ba0,#aa0,#9a0,#8e0,#850,#800,#7e0,#7e0,#7c0,#780,#720,#6f0,#720,#790,#7f0,#7f0,#7a0,#730,#6b0,#640,#600,#5f0,#610,#670,#700,#7b0,#850,#8f0,#970,#9d0,#a20,#a50,#a70,#a70,#a70,#a60,#a50,#a30,#a00,#9e0,#9d0,#9e0,#a20,#a70,#ac0,#af0,#b00,#ae0,#aa0,#a40,#9c0,#930,#8a0,#820,#7b0,#710,#650,#5a0,#550,#570,#600)"></i><i style="background:linear-gradient(90deg,#730,#7c0,#880,#960,#a20,#ad0,#b50,#bb0,#bf0,#c00,#bf0,#bc0,#b60,#ae0,#a50,#9b0,#8e0,#7c0,#600,#420,#320,#360,#4d0,#6a0,#810,#920,#a10,#b20,#c20,#cf0,#d70,#db0,#db0,#d80,#d00,#c50,#b50,#a50,#960,#8b0,#830,#7f0,#7d0,#7b0,#750,#6c0,#660,#650,#6c0,#750,#7a0,#780,#720,#6b0,#650,#610,#600,#630,#690,#710,#7c0,#870,#910,#9a0,#a10,#a60,#a90,#ab0,#ac0,#ab0,#aa0,#a80,#a50,#a20,#9f0,#9c0,#9b0,#9d0,#a10,#a60,#aa0,#ad0,#ad0,#ab0,#a60,#9f0,#960,#8d0,#850,#7d0,#720,#640,#570,#4e0,#4d0,#550,#620)"></i><i style="background:linear-gradient(90deg,#7a0,#850,#910,#9d0,#a80,#b20,#b90,#be0,#c00,#c00,#be0,#b90,#b20,#a90,#9f0,#940,#860,#6f0,#520,#3c0,#370,#450,#5f0,#780,#890,#980,#a80,#b90,#c90,#d50,#db0,#dd0,#dc0,#d70,#ce0,#c00,#b00,#a00,#920,#880,#810,#7e0,#7a0,#730,#690,#5e0,#5a0,#5f0,#6a0,#730,#750,#710,#6b0,#660,#620,#620,#640,#6a0,#720,#7d0,#880,#920,#9c0,#a30,#a90,#ad0,#b00,#b00,#b00,#ae0,#ab0,#a70,#a30,#9f0,#9c0,#990,#990,#9b0,#9f0,#a30,#a70,#a90,#a90,#a60,#a00,#990,#900,#880,#7f0,#740,#650,#550,#480,#440,#4a0,#570,#670)"></i><i style="background:linear-gradient(90deg,#810,#8c0,#980,#a30,#ad0,#b60,#bc0,#bf0,#c10,#bf0,#bc0,#b50,#ad0,#a30,#990,#8d0,#7c0,#630,#490,#3c0,#420,#570,#6f0,#810,#8f0,#9e0,#af0,#c00,#cf0,#d90,#dd0,#de0,#db0,#d50,#ca0,#bb0,#aa0,#9b0,#8e0,#850,#7f0,#7b0,#730,#670,#580,#4f0,#510,#5d0,#6a0,#710,#710,#6c0,#670,#640,#630,#650,#6b0,#730,#7e0,#890,#930,#9d0,#a50,#ac0,#b10,#b40,#b50,#b40,#b20,#af0,#ab0,#a60,#a10,#9c0,#980,#950,#950,#970,#9b0,#a00,#a30,#a40,#a30,#a00,#9a0,#920,#8a0,#820,#770,#680,#550,#450,#3e0,#410,#4d0,#5e0,#6c0)"></i><i style="background:linear-gradient(90deg,#880,#930,#9e0,#a90,#b20,#b90,#be0,#c10,#c00,#be0,#b80,#b10,#a70,#9d0,#930,#850,#710,#580,#460,#430,#510,#670,#7a0,#870,#940,#a40,#b50,#c60,#d30,#db0,#de0,#de0,#da0,#d10,#c40,#b40,#a40,#950,#8a0,#820,#7c0,#740,#670,#550,#470,#450,#4f0,#5f0,#6c0,#700,#6d0,#690,#660,#650,#670,#6c0,#740,#7e0,#890,#940,#9e0,#a70,#ae0,#b30,#b70,#b90,#b90,#b70,#b40,#af0,#a90,#a30,#9c0,#970,#930,#900,#900,#930,#960,#9a0,#9d0,#9e0,#9d0,#990,#930,#8c0,#840,#7a0,#6b0,#580,#450,#3a0,#390,#430,#540,#660,#720)"></i><i style="background:linear-gradient(90deg,#8f0,#9a0,#a40,#ae0,#b60,#bc0,#c00,#c10,#bf0,#bb0,#b50,#ac0,#a20,#980,#8c0,#7d0,#680,#530,#490,#500,#610,#740,#810,#8c0,#990,#a90,#ba0,#ca0,#d60,#dd0,#de0,#dc0,#d70,#cc0,#be0,#ad0,#9e0,#900,#860,#7f0,#770,#680,#540,#420,#3b0,#420,#530,#640,#6e0,#6f0,#6c0,#690,#680,#6a0,#6e0,#750,#7f0,#890,#940,#9e0,#a80,#af0,#b50,#ba0,#bc0,#bd0,#bb0,#b80,#b30,#ad0,#a60,#9e0,#970,#910,#8d0,#8b0,#8b0,#8d0,#910,#950,#970,#970,#950,#910,#8c0,#860,#7d0,#700,#5d0,#480,#390,#350,#3b0,#4a0,#5e0,#6d0,#760)"></i><i style="background:linear-gradient(90deg,#950,#9f0,#a90,#b20,#ba0,#bf0,#c10,#c10,#be0,#b80,#b00,#a70,#9c0,#920,#860,#750,#610,#520,#520,#5e0,#6e0,#7b0,#850,#8f0,#9d0,#ae0,#bf0,#ce0,#d80,#dd0,#dd0,#da0,#d20,#c60,#b60,#a60,#970,#8b0,#820,#7a0,#6c0,#560,#400,#340,#360,#460,#5b0,#6b0,#700,#6f0,#6d0,#6c0,#6d0,#710,#770,#7f0,#890,#940,#9e0,#a80,#b00,#b70,#bc0,#bf0,#c00,#bf0,#bc0,#b70,#b10,#a90,#a10,#980,#900,#8a0,#860,#850,#850,#880,#8b0,#8e0,#900,#900,#8e0,#8b0,#860,#7f0,#740,#620,#4d0,#3b0,#340,#360,#420,#560,#680,#730,#780)"></i><i style="background:linear-gradient(90deg,#9a0,#a40,#ae0,#b60,#bd0,#c00,#c10,#c00,#bb0,#b40,#ab0,#a10,#970,#8d0,#7f0,#6e0,#5e0,#570,#5d0,#6a0,#770,#7f0,#880,#930,#a10,#b20,#c20,#d00,#d80,#dc0,#db0,#d50,#cc0,#be0,#ae0,#9f0,#910,#870,#7d0,#700,#5a0,#410,#300,#2d0,#3a0,#510,#660,#710,#730,#720,#710,#720,#750,#7a0,#810,#8a0,#940,#9e0,#a70,#b00,#b70,#bd0,#c00,#c20,#c20,#bf0,#bb0,#b50,#ad0,#a40,#9a0,#910,#890,#830,#800,#7e0,#7f0,#820,#850,#880,#8a0,#8a0,#880,#850,#800,#770,#680,#540,#400,#350,#340,#3c0,#4e0,#620,#700,#770,#790)"></i><i style="background:linear-gradient(90deg,#9f0,#a90,#b20,#ba0,#bf0,#c10,#c10,#bd0,#b80,#b00,#a60,#9c0,#920,#870,#790,#690,#5f0,#5f0,#680,#730,#7b0,#820,#8a0,#960,#a50,#b50,#c50,#d00,#d70,#d90,#d70,#d00,#c40,#b60,#a60,#980,#8c0,#820,#750,#600,#450,#2f0,#280,#300,#460,#600,#710,#770,#780,#780,#780,#7a0,#7e0,#830,#8b0,#930,#9d0,#a60,#af0,#b70,#bd0,#c10,#c30,#c30,#c20,#bf0,#b90,#b10,#a80,#9d0,#930,#890,#810,#7c0,#790,#780,#7a0,#7c0,#7f0,#820,#840,#840,#820,#800,#7a0,#6e0,#5c0,#470,#380,#340,#390,#480,#5c0,#6d0,#750,#780,#790)"></i><i style="background:linear-gradient(90deg,#a40,#ad0,#b60,#bc0,#c00,#c10,#bf0,#ba0,#b40,#ab0,#a10,#970,#8d0,#820,#740,#680,#640,#680,#710,#790,#7e0,#840,#8d0,#990,#a80,#b80,#c60,#d00,#d50,#d60,#d10,#c80,#bc0,#ad0,#9f0,#910,#860,#7a0,#670,#4b0,#310,#250,#290,#3c0,#580,#6f0,#7a0,#7e0,#7f0,#7f0,#810,#830,#870,#8d0,#940,#9c0,#a50,#ae0,#b60,#bc0,#c10,#c40,#c40,#c40,#c10,#bc0,#b50,#ac0,#a10,#950,#8b0,#810,#7a0,#750,#730,#720,#740,#770,#7a0,#7d0,#7e0,#7f0,#7e0,#7b0,#730,#640,#500,#3f0,#370,#390,#450,#570,#690,#740,#780,#790,#790)"></i><i style="background:linear-gradient(90deg,#a80,#b10,#b80,#be0,#c00,#c00,#bc0,#b70,#af0,#a60,#9c0,#930,#890,#7d0,#710,#6a0,#6a0,#700,#770,#7b0,#800,#860,#8f0,#9c0,#aa0,#b90,#c50,#ce0,#d10,#d00,#ca0,#c00,#b30,#a50,#970,#8b0,#7f0,#6e0,#530,#360,#250,#240,#330,#4f0,#6b0,#7c0,#830,#860,#870,#890,#8a0,#8d0,#900,#950,#9c0,#a40,#ac0,#b40,#bb0,#c00,#c40,#c50,#c50,#c30,#bf0,#b80,#af0,#a50,#990,#8d0,#820,#790,#720,#6e0,#6d0,#6d0,#700,#730,#760,#780,#7a0,#7b0,#7a0,#750,#6b0,#590,#480,#3c0,#3b0,#440,#540,#660,#720,#770,#790,#790,#790)"></i><i style="background:linear-gradient(90deg,#ac0,#b40,#ba0,#be0,#bf0,#bd0,#b90,#b20,#aa0,#a10,#980,#8e0,#850,#7a0,#710,#6e0,#710,#760,#7a0,#7d0,#810,#870,#910,#9d0,#ab0,#b90,#c40,#ca0,#cc0,#ca0,#c20,#b70,#aa0,#9c0,#900,#840,#750,#5d0,#3e0,#280,#230,#2c0,#460,#650,#7c0,#880,#8d0,#8f0,#910,#920,#940,#950,#980,#9d0,#a30,#aa0,#b20,#b90,#bf0,#c30,#c50,#c50,#c40,#c10,#bb0,#b30,#a80,#9c0,#900,#840,#7a0,#720,#6c0,#690,#680,#690,#6c0,#6f0,#720,#750,#770,#780,#760,#700,#630,#520,#450,#400,#450,#530,#630,#700,#760,#790,#790,#790,#790)"></i><i style="background:linear-gradient(90deg,#af0,#b60,#bb0,#be0,#bd0,#ba0,#b50,#ad0,#a50,#9c0,#930,#8b0,#810,#780,#730,#720,#750,#790,#7b0,#7d0,#820,#890,#920,#9f0,#ac0,#b80,#c10,#c60,#c60,#c20,#b90,#ae0,#a10,#950,#890,#7c0,#660,#490,#2e0,#240,#280,#3e0,#5e0,#7a0,#8a0,#920,#960,#990,#9b0,#9c0,#9c0,#9d0,#9f0,#a30,#a90,#af0,#b60,#bc0,#c10,#c40,#c50,#c40,#c20,#bd0,#b50,#ac0,#a00,#930,#870,#7b0,#720,#6b0,#660,#640,#640,#660,#690,#6c0,#700,#730,#750,#760,#730,#6a0,#5c0,#4f0,#480,#4a0,#540,#620,#6e0,#750,#780,#790,#790,#790,#790)"></i><i style="background:linear-gradient(90deg,#b10,#b70,#bb0,#bc0,#ba0,#b60,#b00,#a80,#a00,#980,#8f0,#870,#7f0,#780,#750,#760,#780,#7a0,#7b0,#7e0,#830,#8a0,#940,#9f0,#ab0,#b50,#bd0,#c00,#bf0,#b90,#b00,#a50,#990,#8e0,#810,#6f0,#540,#370,#260,#270,#370,#560,#750,#8a0,#960,#9c0,#a00,#a20,#a30,#a30,#a30,#a30,#a40,#a80,#ad0,#b30,#b90,#bf0,#c20,#c40,#c40,#c20,#be0,#b70,#ae0,#a30,#970,#8a0,#7e0,#730,#6b0,#650,#620,#610,#620,#640,#670,#6b0,#6e0,#720,#740,#740,#6f0,#650,#5a0,#510,#500,#570,#620,#6d0,#750,#780,#790,#790,#790,#790,#790)"></i><i style="background:linear-gradient(90deg,#b20,#b70,#b90,#b90,#b60,#b10,#ab0,#a30,#9b0,#940,#8c0,#840,#7d0,#790,#780,#790,#7a0,#7a0,#7c0,#7f0,#830,#8b0,#940,#9f0,#a90,#b20,#b80,#b90,#b70,#b00,#a70,#9c0,#910,#860,#770,#600,#430,#2d0,#280,#330,#4f0,#6f0,#880,#970,#9f0,#a50,#a80,#aa0,#aa0,#a90,#a80,#a70,#a80,#ac0,#b10,#b60,#bb0,#bf0,#c20,#c20,#c10,#be0,#b80,#b00,#a60,#9a0,#8d0,#810,#760,#6c0,#660,#610,#5f0,#5f0,#600,#620,#660,#6a0,#6e0,#710,#730,#720,#6c0,#630,#5b0,#580,#5b0,#640,#6d0,#740,#780,#790,#790,#790,#790,#790,#790)"></i><i style="background:linear-gradient(90deg,#b30,#b60,#b70,#b50,#b20,#ac0,#a60,#9f0,#970,#900,#890,#820,#7d0,#7a0,#7a0,#7a0,#7a0,#7b0,#7c0,#7f0,#840,#8b0,#940,#9e0,#a70,#ae0,#b20,#b20,#ae0,#a70,#9e0,#940,#8a0,#7e0,#6a0,#500,#370,#2c0,#320,#490,#680,#840,#960,#a00,#a70,#ac0,#af0,#b00,#af0,#ad0,#ab0,#aa0,#ab0,#ae0,#b30,#b80,#bc0,#bf0,#c00,#c00,#bd0,#b90,#b10,#a80,#9d0,#910,#840,#790,#6f0,#670,#610,#5e0,#5d0,#5d0,#5f0,#620,#660,#6a0,#6e0,#710,#720,#700,#6a0,#640,#600,#610,#670,#6e0,#740,#780,#790,#790,#790,#790,#790,#790,#790)"></i><i style="background:linear-gradient(90deg,#b20,#b40,#b40,#b10,#ad0,#a70,#a10,#9a0,#930,#8c0,#860,#800,#7d0,#7b0,#7a0,#7a0,#7a0,#7b0,#7c0,#800,#840,#8b0,#930,#9c0,#a40,#a90,#ac0,#ab0,#a60,#9f0,#960,#8d0,#830,#730,#5c0,#430,#330,#330,#440,#610,#7e0,#920,#9f0,#a80,#ae0,#b10,#b30,#b40,#b20,#af0,#ac0,#ab0,#ac0,#af0,#b30,#b80,#bb0,#bd0,#bd0,#bb0,#b80,#b20,#a90,#9f0,#940,#880,#7c0,#710,#690,#630,#5f0,#5c0,#5c0,#5d0,#5f0,#620,#660,#6a0,#6e0,#710,#710,#6f0,#6b0,#670,#670,#6a0,#700,#740,#770,#790,#790,#790,#790,#790,#790,#790,#790)"></i><i style="background:linear-gradient(90deg,#b00,#b10,#af0,#ac0,#a80,#a20,#9c0,#960,#8f0,#890,#840,#7f0,#7d0,#7b0,#7b0,#7a0,#7a0,#7b0,#7d0,#800,#840,#8b0,#920,#9a0,#a00,#a40,#a50,#a30,#9e0,#970,#8f0,#860,#7a0,#670,#500,#3d0,#380,#430,#5b0,#770,#8d0,#9c0,#a60,#ad0,#b20,#b50,#b60,#b50,#b20,#af0,#ac0,#ab0,#ac0,#af0,#b30,#b60,#b90,#ba0,#b90,#b60,#b10,#aa0,#a10,#960,#8b0,#7f0,#750,#6c0,#640,#600,#5d0,#5b0,#5b0,#5d0,#5f0,#630,#670,#6b0,#6f0,#710,#710,#6f0,#6d0,#6c0,#6e0,#710,#750,#780,#790,#790,#790,#790,#790,#790,#790,#790,#790)"></i><i style="background:linear-gradient(90deg,#ad0,#ad0,#ab0,#a70,#a30,#9d0,#970,#920,#8c0,#860,#820,#7e0,#7c0,#7b0,#7a0,#7a0,#7a0,#7b0,#7d0,#800,#840,#8a0,#900,#970,#9c0,#9e0,#9e0,#9c0,#960,#900,#890,#7f0,#710,#5c0,#490,#3f0,#440,#580,#710,#870,#960,#a20,#ab0,#b10,#b40,#b60,#b60,#b50,#b10,#ad0,#ab0,#aa0,#ab0,#ae0,#b10,#b40,#b50,#b50,#b30,#af0,#a90,#a10,#980,#8d0,#820,#780,#6f0,#670,#610,#5e0,#5c0,#5b0,#5c0,#5e0,#610,#640,#690,#6d0,#700,#720,#720,#710,#700,#710,#730,#760,#780,#790,#790,#790,#790,#790,#790,#790,#790,#790,#790)"></i><i style="background:linear-gradient(90deg,#aa0,#a90,#a60,#a20,#9e0,#990,#930,#8e0,#890,#840,#800,#7e0,#7c0,#7b0,#7a0,#7a0,#7a0,#7b0,#7d0,#800,#840,#890,#8e0,#930,#970,#990,#980,#950,#900,#8a0,#820,#780,#670,#550,#480,#480,#560,#6b0,#800,#900,#9c0,#a60,#ad0,#b20,#b50,#b60,#b50,#b20,#ae0,#aa0,#a80,#a80,#a90,#ac0,#af0,#b00,#b10,#af0,#ac0,#a70,#a10,#980,#8f0,#850,#7b0,#720,#6a0,#640,#600,#5d0,#5c0,#5c0,#5d0,#5f0,#620,#660,#6b0,#6e0,#710,#730,#730,#730,#730,#750,#770,#780,#790,#790,#790,#790,#790,#790,#790,#790,#790,#790,#790)"></i><i style="background:linear-gradient(90deg,#a60,#a40,#a10,#9d0,#990,#940,#8f0,#8a0,#860,#820,#7f0,#7d0,#7b0,#7a0,#7a0,#7a0,#7a0,#7b0,#7d0,#800,#830,#880,#8c0,#900,#930,#930,#920,#8f0,#8a0,#840,#7c0,#700,#600,#530,#4f0,#570,#680,#7a0,#890,#950,#9f0,#a80,#ae0,#b20,#b40,#b40,#b20,#ae0,#a90,#a60,#a50,#a50,#a70,#a90,#ab0,#ac0,#ab0,#a90,#a50,#9f0,#980,#900,#870,#7e0,#760,#6e0,#670,#620,#5f0,#5d0,#5c0,#5d0,#5f0,#610,#650,#690,#6d0,#700,#730,#740,#750,#750,#760,#770,#780,#790,#790,#790,#790,#790,#790,#790,#790,#790,#790,#790,#790)"></i><i style="background:linear-gradient(90deg,#a10,#9f0,#9c0,#990,#940,#900,#8b0,#870,#830,#800,#7e0,#7c0,#7b0,#7a0,#7a0,#7a0,#7a0,#7b0,#7d0,#7f0,#820,#860,#8a0,#8d0,#8e0,#8e0,#8c0,#890,#850,#7f0,#770,#6a0,#5d0,#570,#5a0,#660,#750,#830,#8e0,#970,#a10,#a80,#ad0,#b00,#b10,#b00,#ac0,#a80,#a40,#a20,#a10,#a20,#a30,#a50,#a60,#a60,#a40,#a10,#9d0,#970,#900,#890,#810,#790,#720,#6b0,#660,#620,#5f0,#5e0,#5e0,#5f0,#610,#640,#680,#6b0,#6f0,#720,#740,#750,#760,#770,#780,#780,#790,#790,#790,#790,#790,#790,#790,#790,#790,#790,#790,#790,#790)"></i><i style="background:linear-gradient(90deg,#a00,#9e0,#9b0,#970,#930,#8f0,#8a0,#860,#830,#800,#7d0,#7c0,#7b0,#7a0,#7a0,#7a0,#7a0,#7b0,#7d0,#7f0,#820,#860,#890,#8c0,#8d0,#8d0,#8b0,#880,#840,#7e0,#750,#690,#5d0,#580,#5d0,#6a0,#780,#840,#8e0,#980,#a10,#a80,#ad0,#b00,#b00,#ae0,#ab0,#a70,#a30,#a00,#a00,#a10,#a20,#a40,#a50,#a50,#a30,#a00,#9b0,#950,#8f0,#870,#7f0,#780,#710,#6b0,#650,#620,#5f0,#5e0,#5e0,#600,#620,#650,#680,#6c0,#6f0,#720,#740,#760,#760,#770,#780,#790,#790,#790,#790,#790,#790,#790,#790,#790,#790,#790,#790,#790,#790)"></i><i style="background:linear-gradient(90deg,#a00,#9e0,#9b0,#970,#930,#8f0,#8a0,#860,#830,#800,#7d0,#7c0,#7b0,#7a0,#7a0,#7a0,#7a0,#7b0,#7d0,#7f0,#820,#860,#890,#8c0,#8d0,#8d0,#8b0,#880,#840,#7e0,#750,#690,#5d0,#580,#5d0,#6a0,#780,#840,#8e0,#980,#a10,#a80,#ad0,#b00,#b00,#ae0,#ab0,#a70,#a30,#a00,#a00,#a10,#a20,#a40,#a50,#a50,#a30,#a00,#9b0,#950,#8f0,#870,#7f0,#780,#710,#6b0,#650,#620,#5f0,#5e0,#5e0,#600,#620,#650,#680,#6c0,#6f0,#720,#740,#760,#760,#770,#780,#790,#790,#790,#790,#790,#790,#790,#790,#790,#790,#790,#790,#790,#790)"></i></div></div><div class="cb" style="left:2323.9px;top:1106.0px"></div><svg class="ov" width="2477" height="1954"><rect x="161.50" y="127.50" width="868.80" height="653.00" fill="none" stroke="#262626" stroke-width="1.6"/>
<path d="M329.49 127.50v9M329.49 780.50v-9M161.50 253.76h9M1030.30 253.76h-9M499.18 127.50v9M499.18 780.50v-9M161.50 381.30h9M1030.30 381.30h-9M668.87 127.50v9M668.87 780.50v-9M161.50 508.84h9M1030.30 508.84h-9M838.55 127.50v9M838.55 780.50v-9M161.50 636.38h9M1030.30 636.38h-9M1008.24 127.50v9M1008.24 780.50v-9M161.50 763.92h9M1030.30 763.92h-9" stroke="#262626" stroke-width="1.6" fill="none"/>
<rect x="1063.90" y="127.50" width="47.90" height="653.00" fill="none" stroke="#262626" stroke-width="1.8"/>
<path d="M1111.80 290.75h-7M1111.80 454.00h-7M1111.80 617.25h-7" stroke="#262626" stroke-width="1.6" fill="none"/>
<text x="236.8" y="58.5" font-size="45.0" textLength="715.3" lengthAdjust="spacing">Original sea surface inversion result</text>
<text x="418.3" y="112.7" font-size="45.0" textLength="353.2" lengthAdjust="spacing">(HH polarization)</text>
<text x="1071.8" y="104.7" font-size="37.5" textLength="30.4" lengthAdjust="spacing">m</text>
<text x="1123.6" y="140.1" font-size="38">1</text>
<text x="1123.6" y="303.4" font-size="38">0.5</text>
<text x="1123.6" y="466.6" font-size="38">0</text>
<text x="1123.6" y="629.9" font-size="38">-0.5</text>
<text x="1123.6" y="793.1" font-size="38">-1</text>
<text x="145.0" y="267.4" font-size="40.5" text-anchor="end">50</text>
<text x="145.0" y="394.9" font-size="40.5" text-anchor="end">100</text>
<text x="145.0" y="522.4" font-size="40.5" text-anchor="end">150</text>
<text x="145.0" y="650.0" font-size="40.5" text-anchor="end">200</text>
<text x="145.0" y="777.5" font-size="40.5" text-anchor="end">250</text>
<text x="309.2" y="834.3" font-size="40.5">50</text>
<text x="468.0" y="834.3" font-size="40.5">100</text>
<text x="637.6" y="834.3" font-size="40.5">150</text>
<text x="808.1" y="834.3" font-size="40.5">200</text>
<text x="977.8" y="834.3" font-size="40.5">250</text>
<text x="477.6" y="889.3" font-size="45.0" textLength="235.5" lengthAdjust="spacing">Range/pixel</text>
<text x="568.4" y="943.9" font-size="44.0" textLength="56.4" lengthAdjust="spacing">(a)</text>
<text transform="translate(65.0 593.0) rotate(-90)" x="0" y="0" font-size="45" textLength="277.6" lengthAdjust="spacing">Azimuth/pixel</text><rect x="1421.50" y="127.50" width="868.80" height="653.00" fill="none" stroke="#262626" stroke-width="1.6"/>
<path d="M1589.49 127.50v9M1589.49 780.50v-9M1421.50 253.76h9M2290.30 253.76h-9M1759.18 127.50v9M1759.18 780.50v-9M1421.50 381.30h9M2290.30 381.30h-9M1928.87 127.50v9M1928.87 780.50v-9M1421.50 508.84h9M2290.30 508.84h-9M2098.55 127.50v9M2098.55 780.50v-9M1421.50 636.38h9M2290.30 636.38h-9M2268.24 127.50v9M2268.24 780.50v-9M1421.50 763.92h9M2290.30 763.92h-9" stroke="#262626" stroke-width="1.6" fill="none"/>
<rect x="2323.90" y="127.50" width="47.90" height="653.00" fill="none" stroke="#262626" stroke-width="1.8"/>
<path d="M2371.80 290.75h-7M2371.80 454.00h-7M2371.80 617.25h-7" stroke="#262626" stroke-width="1.6" fill="none"/>
<text x="1357.7" y="58.5" font-size="45.0" textLength="998.6" lengthAdjust="spacing">Inversion result with velocity bunching effect (90°)</text>
<text x="1678.3" y="112.7" font-size="45.0" textLength="353.2" lengthAdjust="spacing">(HH polarization)</text>
<text x="2331.8" y="104.7" font-size="37.5" textLength="30.4" lengthAdjust="spacing">m</text>
<text x="2383.6" y="140.1" font-size="38">1</text>
<text x="2383.6" y="303.4" font-size="38">0.5</text>
<text x="2383.6" y="466.6" font-size="38">0</text>
<text x="2383.6" y="629.9" font-size="38">-0.5</text>
<text x="2383.6" y="793.1" font-size="38">-1</text>
<text x="1405.0" y="267.4" font-size="40.5" text-anchor="end">50</text>
<text x="1405.0" y="394.9" font-size="40.5" text-anchor="end">100</text>
<text x="1405.0" y="522.4" font-size="40.5" text-anchor="end">150</text>
<text x="1405.0" y="650.0" font-size="40.5" text-anchor="end">200</text>
<text x="1405.0" y="777.5" font-size="40.5" text-anchor="end">250</text>
<text x="1569.2" y="834.3" font-size="40.5">50</text>
<text x="1728.0" y="834.3" font-size="40.5">100</text>
<text x="1897.6" y="834.3" font-size="40.5">150</text>
<text x="2068.1" y="834.3" font-size="40.5">200</text>
<text x="2237.8" y="834.3" font-size="40.5">250</text>
<text x="1737.6" y="889.3" font-size="45.0" textLength="235.5" lengthAdjust="spacing">Range/pixel</text>
<text x="1826.5" y="943.9" font-size="44.0" textLength="58.2" lengthAdjust="spacing">(b)</text>
<text transform="translate(1325.0 593.0) rotate(-90)" x="0" y="0" font-size="45" textLength="277.6" lengthAdjust="spacing">Azimuth/pixel</text><rect x="161.50" y="1106.00" width="868.80" height="653.00" fill="none" stroke="#262626" stroke-width="1.6"/>
<path d="M329.49 1106.00v9M329.49 1759.00v-9M161.50 1232.26h9M1030.30 1232.26h-9M499.18 1106.00v9M499.18 1759.00v-9M161.50 1359.80h9M1030.30 1359.80h-9M668.87 1106.00v9M668.87 1759.00v-9M161.50 1487.34h9M1030.30 1487.34h-9M838.55 1106.00v9M838.55 1759.00v-9M161.50 1614.88h9M1030.30 1614.88h-9M1008.24 1106.00v9M1008.24 1759.00v-9M161.50 1742.42h9M1030.30 1742.42h-9" stroke="#262626" stroke-width="1.6" fill="none"/>
<rect x="1063.90" y="1106.00" width="47.90" height="653.00" fill="none" stroke="#262626" stroke-width="1.8"/>
<path d="M1111.80 1269.25h-7M1111.80 1432.50h-7M1111.80 1595.75h-7" stroke="#262626" stroke-width="1.6" fill="none"/>
<text x="107.8" y="1037.0" font-size="45.0" textLength="974.8" lengthAdjust="spacing">Inversion result with velocity bunching effect (0°)</text>
<text x="418.3" y="1091.2" font-size="45.0" textLength="353.2" lengthAdjust="spacing">(HH polarization)</text>
<text x="1071.8" y="1083.2" font-size="37.5" textLength="30.4" lengthAdjust="spacing">m</text>
<text x="1123.6" y="1118.6" font-size="38">1</text>
<text x="1123.6" y="1281.8" font-size="38">0.5</text>
<text x="1123.6" y="1445.1" font-size="38">0</text>
<text x="1123.6" y="1608.3" font-size="38">-0.5</text>
<text x="1123.6" y="1771.6" font-size="38">-1</text>
<text x="145.0" y="1245.9" font-size="40.5" text-anchor="end">50</text>
<text x="145.0" y="1373.4" font-size="40.5" text-anchor="end">100</text>
<text x="145.0" y="1500.9" font-size="40.5" text-anchor="end">150</text>
<text x="145.0" y="1628.5" font-size="40.5" text-anchor="end">200</text>
<text x="145.0" y="1756.0" font-size="40.5" text-anchor="end">250</text>
<text x="309.2" y="1812.8" font-size="40.5">50</text>
<text x="468.0" y="1812.8" font-size="40.5">100</text>
<text x="637.6" y="1812.8" font-size="40.5">150</text>
<text x="808.1" y="1812.8" font-size="40.5">200</text>
<text x="977.8" y="1812.8" font-size="40.5">250</text>
<text x="477.6" y="1867.8" font-size="45.0" textLength="235.5" lengthAdjust="spacing">Range/pixel</text>
<text x="569.0" y="1922.4" font-size="44.0" textLength="52.9" lengthAdjust="spacing">(c)</text>
<text transform="translate(65.0 1571.5) rotate(-90)" x="0" y="0" font-size="45" textLength="277.6" lengthAdjust="spacing">Azimuth/pixel</text><rect x="1421.50" y="1106.00" width="868.80" height="653.00" fill="none" stroke="#262626" stroke-width="1.6"/>
<path d="M1589.49 1106.00v9M1589.49 1759.00v-9M1421.50 1232.26h9M2290.30 1232.26h-9M1759.18 1106.00v9M1759.18 1759.00v-9M1421.50 1359.80h9M2290.30 1359.80h-9M1928.87 1106.00v9M1928.87 1759.00v-9M1421.50 1487.34h9M2290.30 1487.34h-9M2098.55 1106.00v9M2098.55 1759.00v-9M1421.50 1614.88h9M2290.30 1614.88h-9M2268.24 1106.00v9M2268.24 1759.00v-9M1421.50 1742.42h9M2290.30 1742.42h-9" stroke="#262626" stroke-width="1.6" fill="none"/>
<rect x="2323.90" y="1106.00" width="47.90" height="653.00" fill="none" stroke="#262626" stroke-width="1.8"/>
<path d="M2371.80 1269.25h-7M2371.80 1432.50h-7M2371.80 1595.75h-7" stroke="#262626" stroke-width="1.6" fill="none"/>
<text x="1357.7" y="1037.0" font-size="45.0" textLength="998.6" lengthAdjust="spacing">Inversion result with velocity bunching effect (45°)</text>
<text x="1678.3" y="1091.2" font-size="45.0" textLength="353.2" lengthAdjust="spacing">(HH polarization)</text>
<text x="2331.8" y="1083.2" font-size="37.5" textLength="30.4" lengthAdjust="spacing">m</text>
<text x="2383.6" y="1118.6" font-size="38">1</text>
<text x="2383.6" y="1281.8" font-size="38">0.5</text>
<text x="2383.6" y="1445.1" font-size="38">0</text>
<text x="2383.6" y="1608.3" font-size="38">-0.5</text>
<text x="2383.6" y="1771.6" font-size="38">-1</text>
<text x="1405.0" y="1245.9" font-size="40.5" text-anchor="end">50</text>
<text x="1405.0" y="1373.4" font-size="40.5" text-anchor="end">100</text>
<text x="1405.0" y="1500.9" font-size="40.5" text-anchor="end">150</text>
<text x="1405.0" y="1628.5" font-size="40.5" text-anchor="end">200</text>
<text x="1405.0" y="1756.0" font-size="40.5" text-anchor="end">250</text>
<text x="1569.2" y="1812.8" font-size="40.5">50</text>
<text x="1728.0" y="1812.8" font-size="40.5">100</text>
<text x="1897.6" y="1812.8" font-size="40.5">150</text>
<text x="2068.1" y="1812.8" font-size="40.5">200</text>
<text x="2237.8" y="1812.8" font-size="40.5">250</text>
<text x="1737.6" y="1867.8" font-size="45.0" textLength="235.5" lengthAdjust="spacing">Range/pixel</text>
<text x="1826.5" y="1922.4" font-size="44.0" textLength="58.2" lengthAdjust="spacing">(d)</text>
<text transform="translate(1325.0 1571.5) rotate(-90)" x="0" y="0" font-size="45" textLength="277.6" lengthAdjust="spacing">Azimuth/pixel</text></svg></body></html>
